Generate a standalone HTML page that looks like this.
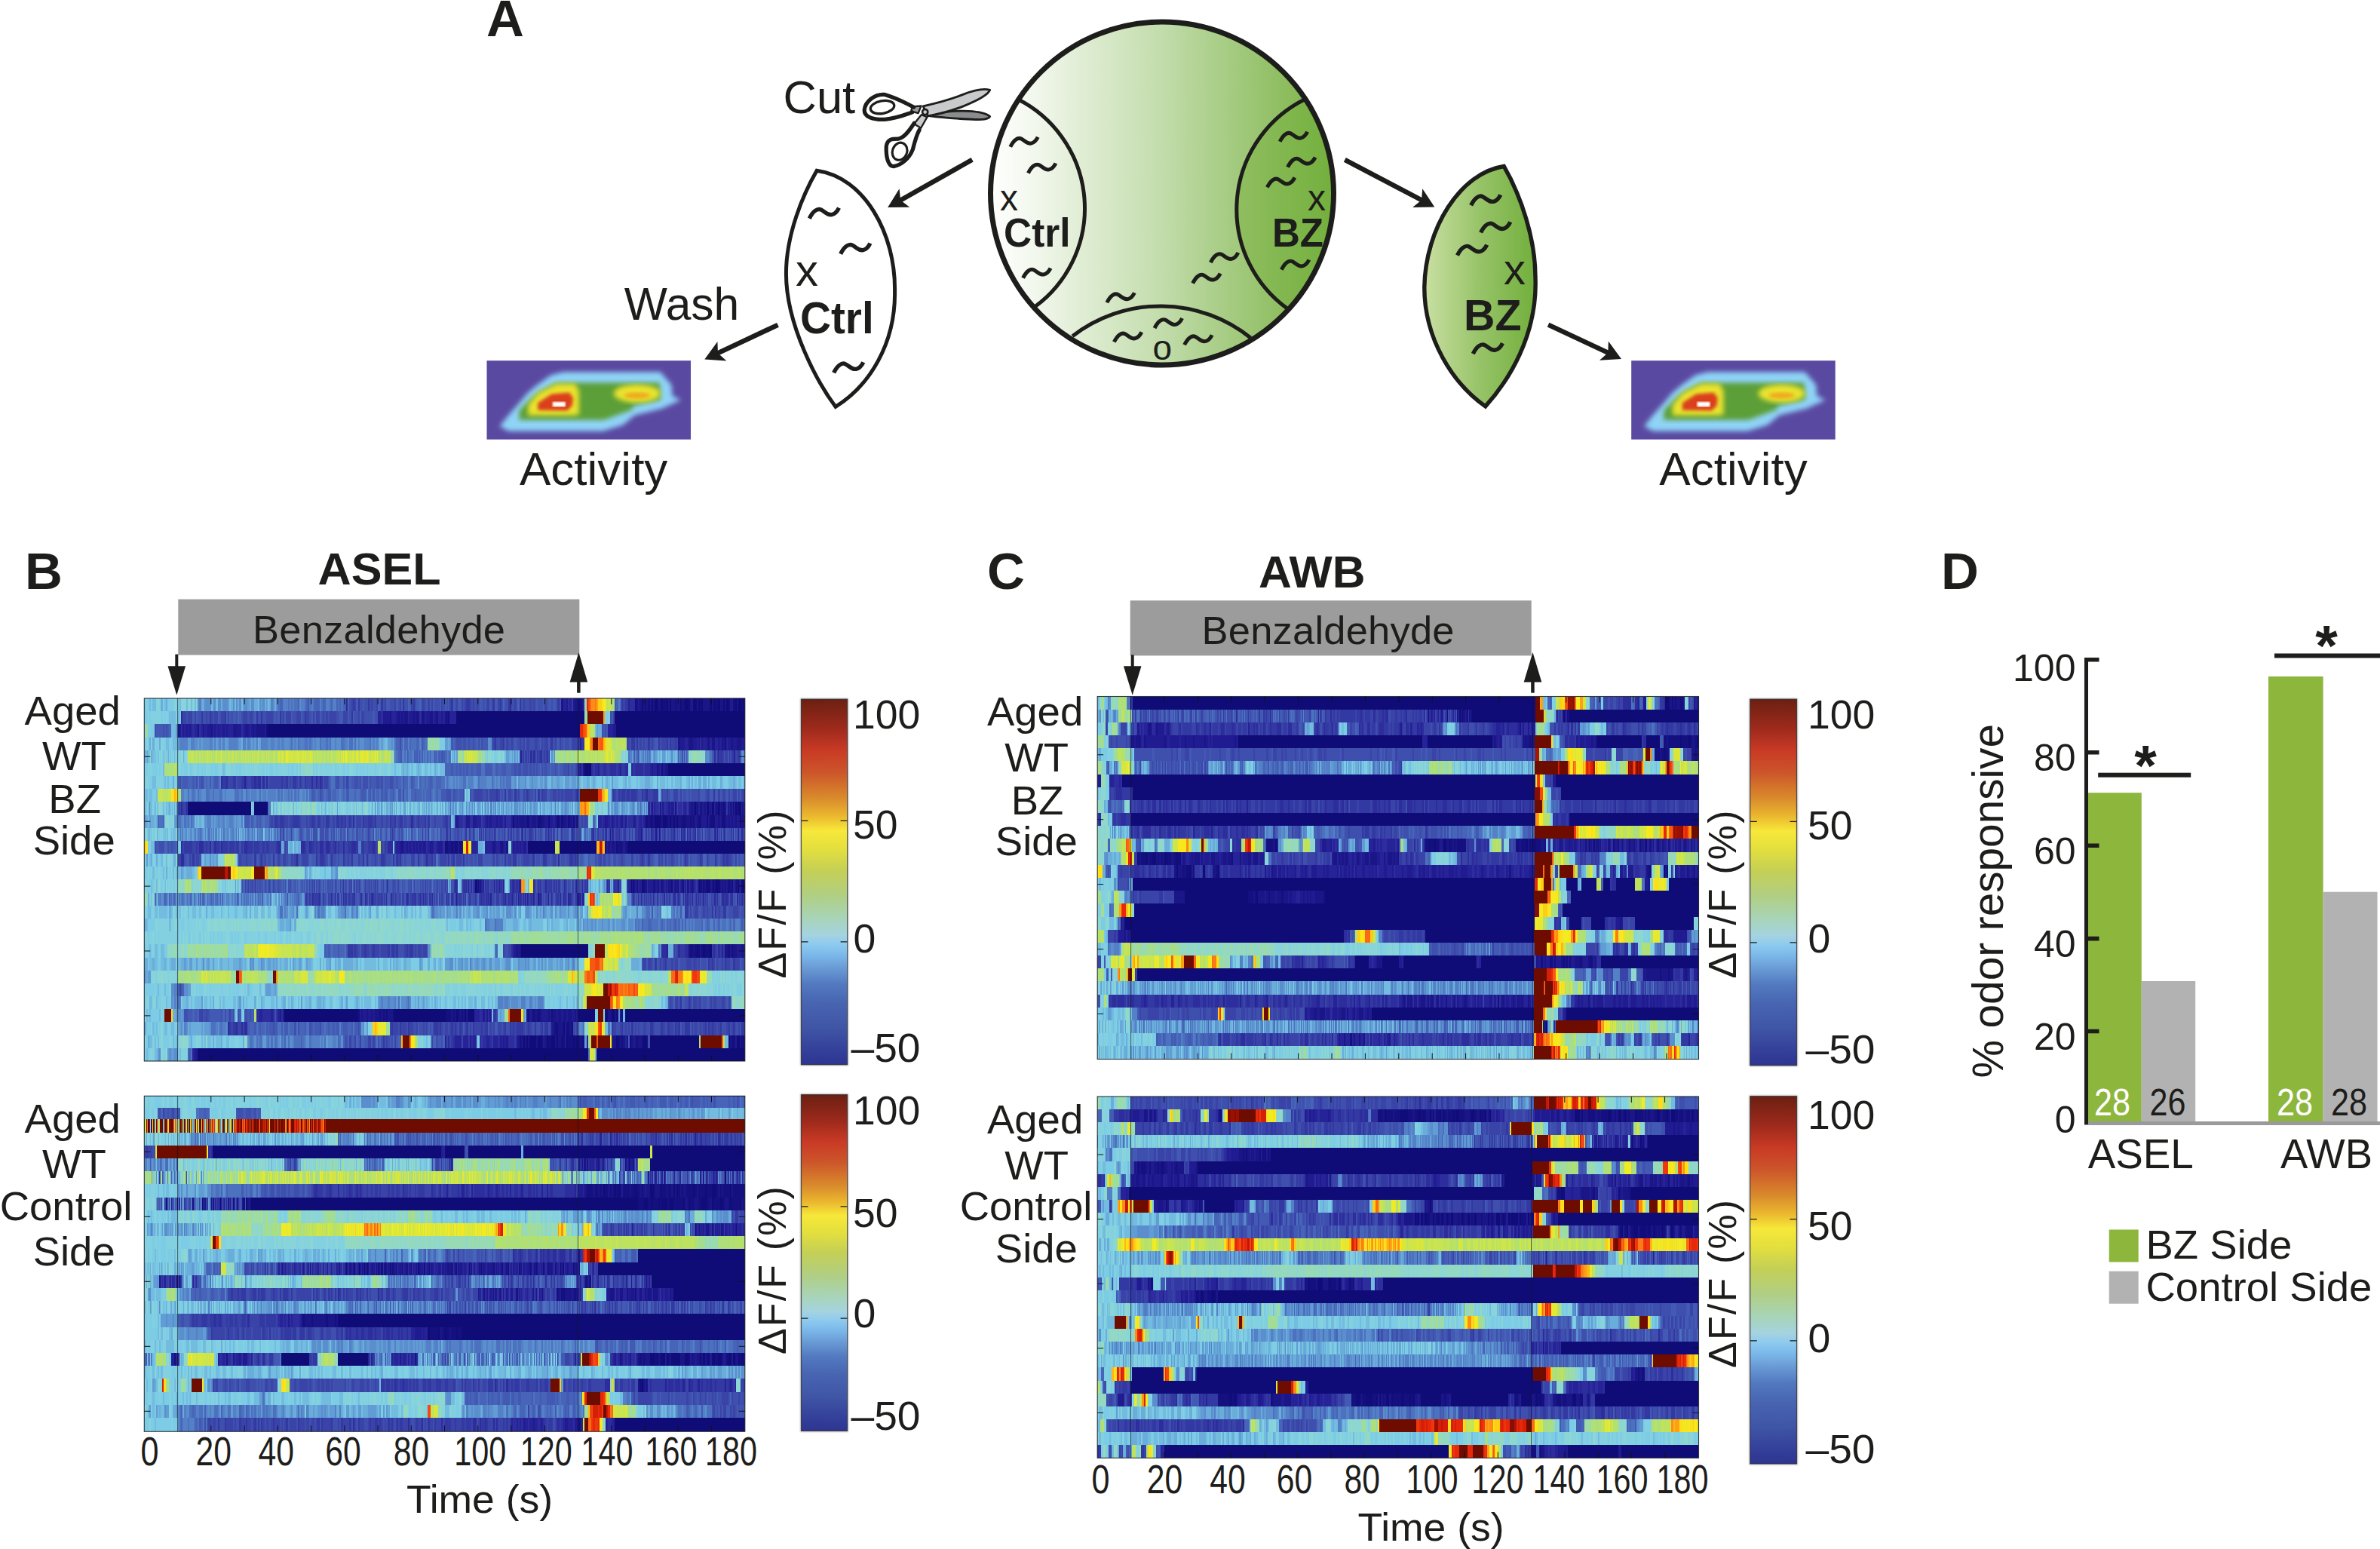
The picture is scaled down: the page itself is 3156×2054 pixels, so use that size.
<!DOCTYPE html>
<html lang="en"><head><meta charset="utf-8"><title>Figure: ASEL and AWB odor responses</title>
<style>html,body{margin:0;padding:0;background:#fff}svg{display:block}text{font-family:"Liberation Sans",Arial,Helvetica,sans-serif;fill:#1d1d1b}.b{font-weight:bold}</style></head><body>
<svg width="3156" height="2054" viewBox="0 0 3156 2054">
<rect width="3156" height="2054" fill="#fff"/>
<defs>
<linearGradient id="gcirc" x1="0" x2="1" y1="0" y2="0"><stop offset="0" stop-color="#ffffff"/><stop offset="0.12" stop-color="#f3f8ee"/><stop offset="0.5" stop-color="#c2dcab"/><stop offset="1" stop-color="#79b142"/></linearGradient>
<linearGradient id="gbz" gradientUnits="userSpaceOnUse" x1="1640" x2="1772" y1="0" y2="0"><stop offset="0" stop-color="#90be60"/><stop offset="1" stop-color="#72af3c"/></linearGradient>
<linearGradient id="glens" x1="0" x2="1" y1="0" y2="0"><stop offset="0" stop-color="#c9dfa2"/><stop offset="0.5" stop-color="#97c368"/><stop offset="1" stop-color="#72af3c"/></linearGradient>
<linearGradient id="gbar" x1="0" x2="0" y1="0" y2="1">
<stop offset="0" stop-color="#6b2012"/><stop offset="0.08" stop-color="#9e2a1c"/><stop offset="0.14" stop-color="#c93a25"/><stop offset="0.2" stop-color="#cc552a"/><stop offset="0.27" stop-color="#d98a2c"/><stop offset="0.32" stop-color="#ebb82e"/><stop offset="0.36" stop-color="#f7e83a"/><stop offset="0.41" stop-color="#e3df3e"/><stop offset="0.47" stop-color="#c4cf55"/><stop offset="0.54" stop-color="#b0cf85"/><stop offset="0.6" stop-color="#a8d4b8"/><stop offset="0.645" stop-color="#a5d3e0"/><stop offset="0.67" stop-color="#8ecbef"/><stop offset="0.7" stop-color="#7bb8ea"/><stop offset="0.735" stop-color="#6a9bd5"/><stop offset="0.78" stop-color="#5279c0"/><stop offset="0.83" stop-color="#4865b2"/><stop offset="0.9" stop-color="#3f55a5"/><stop offset="0.96" stop-color="#34409a"/><stop offset="1" stop-color="#2d3590"/></linearGradient>
<filter id="blur4" x="-10%" y="-10%" width="120%" height="120%"><feGaussianBlur stdDeviation="4"/></filter>
<filter id="blur3" x="-10%" y="-10%" width="120%" height="120%"><feGaussianBlur stdDeviation="3"/></filter>
<filter id="blur2" x="-10%" y="-10%" width="120%" height="120%"><feGaussianBlur stdDeviation="2"/></filter>
<filter id="soft" x="-5%" y="-5%" width="110%" height="110%"><feGaussianBlur stdDeviation="0.9"/></filter>
<path id="sq" d="M-19.6,6.5 C-15,-3 -9,-7.5 -4,-5 C1,-2.5 4,2.5 10,1.5 C14.5,0.5 17.5,-3 19.6,-7.5" fill="none" stroke="#1d1d1b" stroke-width="5.4"/>
<path id="ah" d="M0,0 L-25.5,-14 L-19.5,0 L-25.5,14 Z" fill="#1d1d1b"/>
<g id="act">
<rect x="0" y="0" width="270.5" height="104.5" fill="#5a49a1"/>
<clipPath id="actc"><rect x="0" y="0" width="270.5" height="104.5"/></clipPath>
<g clip-path="url(#actc)">
<polygon filter="url(#blur3)" points="17,87 29,72 41,58.6 54,43 67,32 85.5,19 101.6,15 230,15 245,32 246,46.9 257.5,52.1 232.5,63.5 196,72.5 180.5,85.5 153.7,93.5 29,93.5" fill="#8fd3f7"/>
<polygon filter="url(#blur3)" points="43,78.8 43,66.4 54.7,54.1 67.7,42.3 92.5,29.3 229.3,29.3 230.6,52.1 194.1,59.9 192.8,65.1 155,78.8" fill="#5c9f38"/>
<polygon filter="url(#blur3)" points="54.7,72.9 54.7,58.6 67.7,43 92.5,30.6 117.2,30.6 122.4,40.4 122.4,71.6 114.6,72.9" fill="#e9e22e"/>
<ellipse filter="url(#blur3)" cx="199.3" cy="43.6" rx="31" ry="12" fill="#e9e22e"/>
<polygon filter="url(#blur2)" points="67.7,65.8 67.7,56 86,44.3 109.4,42.3 114.6,49.5 113.3,59.9 106.8,66.4" fill="#db3f1a"/>
<ellipse filter="url(#blur2)" cx="199.3" cy="46.2" rx="17" ry="4" fill="#f0a91e"/>
<rect x="87.3" y="54.7" width="17" height="6.5" fill="#fff" filter="url(#soft)"/>
</g>
</g>
</defs>
<text x="645.0" y="47.9" font-size="69.0" text-anchor="start" class="b">A</text>
<circle cx="1541" cy="256.5" r="227.5" fill="url(#gcirc)"/>
<clipPath id="cc"><circle cx="1541" cy="256.5" r="227.5"/></clipPath>
<path clip-path="url(#cc)" d="M1730.2,131.8 A162.7,162.7 0 0 0 1706.8,409.1 L1800,409 L1800,131 Z" fill="url(#gbz)"/>
<g fill="none" stroke="#1d1d1b">
<path d="M1350.1,131.8 A162,162 0 0 1 1372.9,406.3" stroke-width="5"/>
<path d="M1730.2,131.8 A162.7,162.7 0 0 0 1706.8,409.1" stroke-width="5"/>
<path d="M1422.2,445.8 A190.6,190.6 0 0 1 1658.4,448" stroke-width="5"/>
<circle cx="1541" cy="256.5" r="227.5" stroke-width="7"/>
</g>
<use href="#sq" transform="translate(1358.0,188.7) rotate(0) scale(0.93)"/>
<use href="#sq" transform="translate(1381.7,223.5) rotate(0) scale(0.93)"/>
<use href="#sq" transform="translate(1374.8,362.6) rotate(0) scale(0.93)"/>
<use href="#sq" transform="translate(1715.4,181.7) rotate(0) scale(0.93)"/>
<use href="#sq" transform="translate(1725.8,215.6) rotate(0) scale(0.93)"/>
<use href="#sq" transform="translate(1698.6,242.4) rotate(0) scale(0.93)"/>
<use href="#sq" transform="translate(1717.6,351.5) rotate(0) scale(0.93)"/>
<use href="#sq" transform="translate(1623.6,342.0) rotate(0) scale(0.93)"/>
<use href="#sq" transform="translate(1599.9,369.6) rotate(0) scale(0.93)"/>
<use href="#sq" transform="translate(1486.1,395.2) rotate(0) scale(0.93)"/>
<use href="#sq" transform="translate(1549.3,429.0) rotate(0) scale(0.93)"/>
<use href="#sq" transform="translate(1495.6,447.4) rotate(0) scale(0.93)"/>
<use href="#sq" transform="translate(1588.9,451.2) rotate(0) scale(0.93)"/>
<text x="1326.0" y="278.8" font-size="48.0" text-anchor="start">x</text>
<text x="1331.0" y="327.2" font-size="53.0" text-anchor="start" class="b" textLength="88.6" lengthAdjust="spacingAndGlyphs">Ctrl</text>
<text x="1734.0" y="278.8" font-size="48.0" text-anchor="start">x</text>
<text x="1687.0" y="327.2" font-size="53.0" text-anchor="start" class="b" textLength="68" lengthAdjust="spacingAndGlyphs">BZ</text>
<text x="1528.5" y="477.4" font-size="46.0" text-anchor="start">o</text>
<path transform="translate(760,200) scale(0.23245)" d="M1390,113 C1660,150 1840,470 1835,800 C1840,1100 1690,1340 1497,1460 C1400,1330 1215,1000 1215,700 C1215,480 1310,250 1390,113 Z" fill="#fff" stroke="#1d1d1b" stroke-width="21.5" stroke-linejoin="miter"/>
<use href="#sq" transform="translate(1092.9,283.2) rotate(0) scale(1.00)"/>
<use href="#sq" transform="translate(1134.3,330.2) rotate(0) scale(1.00)"/>
<use href="#sq" transform="translate(1125.2,487.8) rotate(0) scale(1.00)"/>
<text x="1055.0" y="379.0" font-size="60.0" text-anchor="start">x</text>
<text x="1061.0" y="441.7" font-size="60.0" text-anchor="start" class="b" textLength="97.7" lengthAdjust="spacingAndGlyphs">Ctrl</text>
<path transform="translate(1760,180) scale(0.24528)" d="M955,165 C720,200 530,500 525,820 C525,1100 680,1340 855,1463 C975,1330 1140,1080 1125,760 C1125,560 1050,330 955,165 Z" fill="url(#glens)" stroke="#1d1d1b" stroke-width="22" stroke-linejoin="miter"/>
<use href="#sq" transform="translate(1970.2,265.8) rotate(0) scale(1.00)"/>
<use href="#sq" transform="translate(1983.2,301.9) rotate(0) scale(1.00)"/>
<use href="#sq" transform="translate(1952.1,332.1) rotate(0) scale(1.00)"/>
<use href="#sq" transform="translate(1972.9,462.6) rotate(0) scale(1.00)"/>
<text x="1994.0" y="377.0" font-size="58.0" text-anchor="start">x</text>
<text x="1941.0" y="438.0" font-size="58.0" text-anchor="start" class="b" textLength="76.5" lengthAdjust="spacingAndGlyphs">BZ</text>
<line x1="1289.2" y1="211.8" x2="1192.9" y2="266.2" stroke="#1d1d1b" stroke-width="6.4"/>
<use href="#ah" transform="translate(1177.2,275.0) rotate(150.6) scale(1.00)"/>
<line x1="1031.5" y1="430.8" x2="950.6" y2="468.9" stroke="#1d1d1b" stroke-width="6.4"/>
<use href="#ah" transform="translate(934.3,476.6) rotate(154.8) scale(1.00)"/>
<line x1="1783.3" y1="211.9" x2="1886.4" y2="266.0" stroke="#1d1d1b" stroke-width="6.4"/>
<use href="#ah" transform="translate(1902.3,274.4) rotate(27.7) scale(1.00)"/>
<line x1="2053.1" y1="430.7" x2="2133.7" y2="468.4" stroke="#1d1d1b" stroke-width="6.4"/>
<use href="#ah" transform="translate(2150.0,476.0) rotate(25.1) scale(1.00)"/>
<text x="1038.5" y="150.3" font-size="61.5" text-anchor="start">Cut</text>
<text x="827.8" y="424.3" font-size="61.0" text-anchor="start" textLength="152.5" lengthAdjust="spacingAndGlyphs">Wash</text>
<g transform="translate(1030,90) scale(0.13026)" stroke="#1d1d1b" stroke-width="40" stroke-linejoin="round" stroke-linecap="round">
<path d="M1540,480 C1700,445 1850,435 1950,440 C2050,445 2130,455 2170,495 C2150,530 2080,530 1900,520 C1750,510 1640,500 1560,490 Z" fill="#8a8c8e" stroke-width="22"/>
<path d="M1490,390 C1650,355 1800,310 1900,270 C2000,230 2100,205 2170,225 C2150,280 2000,350 1900,390 C1800,430 1650,470 1540,490 Z" fill="#c8cacb" stroke-width="22"/>
<path d="M1380,395 L1470,388 L1440,462 L1368,440 Z" fill="#9a9c9e" stroke-width="18"/>
<path d="M1472,478 L1532,500 L1468,612 L1398,570 Z" fill="#c8cacb" stroke-width="18"/>
<path d="M1395,400 C1330,370 1250,315 1100,272 C1000,262 900,340 892,430 C890,500 980,530 1100,525 C1220,515 1300,480 1380,452" fill="none"/>
<ellipse cx="1075" cy="400" rx="122" ry="64" transform="rotate(-10 1075 400)" fill="none" stroke-width="26"/>
<path d="M1400,562 C1350,640 1300,710 1240,722 C1180,722 1125,720 1115,800 C1112,900 1130,1000 1190,1003 C1270,990 1350,920 1385,830 C1405,750 1420,690 1452,632" fill="none"/>
<ellipse cx="1252" cy="850" rx="74" ry="90" transform="rotate(20 1252 850)" fill="none" stroke-width="24"/>
<circle cx="1510" cy="450" r="28" fill="#c8cacb" stroke-width="20"/>
</g>
<use href="#act" x="645.5" y="478.2"/>
<use href="#act" x="2163.2" y="478.2"/>
<text x="787.2" y="642.5" font-size="62.0" text-anchor="middle">Activity</text>
<text x="2298.5" y="642.5" font-size="62.0" text-anchor="middle">Activity</text>
<rect x="236.3" y="794.6" width="532" height="74.0" fill="#9c9c9c"/>
<text x="335.0" y="852.8" font-size="52.5" text-anchor="start" textLength="335" lengthAdjust="spacing">Benzaldehyde</text>
<rect x="232.3" y="867.6" width="4" height="20" fill="#1d1d1b"/>
<path d="M234.3,921.8 L222.5,883.2 L246.1,883.2 Z" fill="#1d1d1b"/>
<rect x="765.1" y="900" width="4.5" height="18.7" fill="#1d1d1b"/>
<path d="M767.4,865.1 L755.6,904.5 L779.2,904.5 Z" fill="#1d1d1b"/>
<svg x="191.3" y="926.0" width="796.5" height="481.0" viewBox="0 0 720.0 481.00" preserveAspectRatio="none" shape-rendering="crispEdges" fill="none">
<g stroke-width="17.00">
<path stroke="#7ccce6" d="M0 8.5h2M4 8.5h2M8 8.5h2M22 8.5h2M28 8.5h8M40 8.5h2M0 25.5h4M6 25.5h2M20 25.5h2M24 25.5h2M28 25.5h2M42 25.5h2M554 25.5h2M0 60.5h2M4 60.5h2M14 60.5h2M24 60.5h2M30 60.5h4M354 60.5h6M12 77.5h1M14 77.5h3M19 77.5h1M21 77.5h1M33 77.5h1M37 77.5h1M41 77.5h1M48 77.5h1M368 77.5h1M373 77.5h1M411 77.5h1M416 77.5h1M420 77.5h2M439 77.5h1M442 77.5h1M449 77.5h1M487 77.5h1M490 77.5h1M608 77.5h1M616 77.5h1M620 77.5h1M625 77.5h1M0 94.5h4M10 94.5h6M18 94.5h2M44 94.5h2M48 94.5h4M54 94.5h4M64 94.5h2M68 94.5h2M72 94.5h2M80 94.5h2M84 94.5h4M96 94.5h2M110 94.5h2M114 94.5h2M142 94.5h2M146 94.5h2M150 94.5h4M158 94.5h2M172 94.5h2M176 94.5h4M182 94.5h2M186 94.5h2M202 94.5h2M206 94.5h2M228 94.5h2M238 94.5h2M244 94.5h2M254 94.5h2M258 94.5h2M262 94.5h2M266 94.5h2M276 94.5h2M288 94.5h2M296 94.5h4M302 94.5h4M318 94.5h2M322 94.5h4M334 94.5h2M340 94.5h2M344 94.5h4M352 94.5h2M580 94.5h2M0 111.5h2M6 111.5h4M22 111.5h2M26 111.5h2M30 111.5h4M38 111.5h2M524 111.5h2M534 111.5h2M542 111.5h6M558 111.5h2M568 111.5h6M578 111.5h2M584 111.5h6M592 111.5h2M610 111.5h2M616 111.5h2M624 111.5h2M628 111.5h4M634 111.5h2M644 111.5h6M654 111.5h2M658 111.5h2M662 111.5h2M668 111.5h2M674 111.5h2M678 111.5h2M686 111.5h4M694 111.5h6M710 111.5h2M716 111.5h2M4 128.5h2M10 128.5h4M542 163.5h2M1 180.5h1M3 180.5h1M7 180.5h1M11 180.5h2M18 180.5h1M20 180.5h1M23 180.5h1M26 180.5h1M31 180.5h1M33 180.5h1M71 180.5h1M111 180.5h1M143 180.5h1M4 197.5h2M40 197.5h4M178 197.5h2M298 197.5h2M0 214.5h2M4 214.5h2M12 214.5h2M16 214.5h4M0 231.5h4M6 231.5h2M14 231.5h2M20 231.5h2M30 231.5h2M60 231.5h4M196 231.5h2M200 231.5h2M204 231.5h2M210 231.5h6M218 231.5h6M6 266.5h1M153 266.5h1M160 266.5h1M163 266.5h1M573 266.5h1M2 283.5h2M8 283.5h2M16 283.5h2M28 283.5h2M46 283.5h2M56 283.5h2M62 283.5h4M72 283.5h2M76 283.5h4M84 283.5h6M94 283.5h2M102 283.5h6M112 283.5h6M128 283.5h2M154 283.5h2M188 283.5h4M198 283.5h2M218 283.5h2M224 283.5h2M266 283.5h2M272 283.5h2M276 283.5h2M284 283.5h2M292 283.5h2M302 283.5h4M316 283.5h4M446 283.5h2M452 283.5h4M624 283.5h2M628 283.5h4M4 300.5h8M40 300.5h2M44 300.5h4M52 300.5h2M70 300.5h2M178 300.5h2M366 300.5h8M376 300.5h2M382 300.5h2M388 300.5h2M392 300.5h4M404 300.5h2M450 300.5h4M458 300.5h2M478 300.5h2M486 300.5h2M498 300.5h4M508 300.5h2M516 300.5h2M4 317.5h2M12 317.5h2M16 317.5h2M40 317.5h2M44 317.5h2M52 317.5h4M66 317.5h2M70 317.5h2M78 317.5h2M82 317.5h2M88 317.5h2M92 317.5h2M104 317.5h2M108 317.5h2M112 317.5h2M120 317.5h4M136 317.5h2M144 317.5h4M156 317.5h2M162 317.5h4M170 317.5h2M174 317.5h2M188 317.5h2M196 317.5h2M4 352.5h2M16 352.5h4M28 352.5h2M38 352.5h2M88 352.5h2M124 352.5h2M172 352.5h2M176 352.5h2M190 352.5h2M202 352.5h2M206 352.5h4M216 352.5h2M224 352.5h4M236 352.5h2M256 352.5h2M260 352.5h4M278 352.5h2M282 352.5h4M292 352.5h2M296 352.5h2M308 352.5h2M320 352.5h10M334 352.5h4M342 352.5h4M350 352.5h2M440 352.5h2M0 386.5h12M14 386.5h2M18 386.5h2M22 386.5h2M26 386.5h4M62 386.5h2M66 386.5h4M78 386.5h2M92 386.5h2M102 386.5h2M106 386.5h2M110 386.5h4M120 386.5h2M126 386.5h4M140 386.5h2M420 386.5h2M684 386.5h2M688 386.5h2M694 386.5h2M710 386.5h2M714 386.5h2M0 403.5h2M16 403.5h4M28 403.5h4M44 403.5h2M54 403.5h2M58 403.5h2M70 403.5h2M76 403.5h2M80 403.5h2M96 403.5h10M110 403.5h2M116 403.5h2M120 403.5h2M124 403.5h8M136 403.5h4M144 403.5h8M156 403.5h2M160 403.5h4M174 403.5h2M180 403.5h2M190 403.5h2M200 403.5h6M218 403.5h4M230 403.5h4M238 403.5h2M244 403.5h8M258 403.5h2M262 403.5h2M272 403.5h2M278 403.5h2M342 403.5h2M346 403.5h2M352 403.5h2M358 403.5h2M362 403.5h2M366 403.5h4M378 403.5h2M382 403.5h2M394 403.5h2M400 403.5h2M414 403.5h2M482 403.5h6M490 403.5h2M494 403.5h4M500 403.5h2M510 403.5h4M622 403.5h2M4 420.5h2M8 420.5h10M22 420.5h2M110 420.5h2M116 420.5h4M2 455.5h2M22 455.5h8M36 455.5h2M52 455.5h2M58 455.5h4M70 455.5h2M80 455.5h2M84 455.5h2M94 455.5h4M104 455.5h4M114 455.5h4M334 455.5h4M400 455.5h2M0 472.5h2M4 472.5h2"/>
<path stroke="#82d0e0" d="M2 8.5h2M14 8.5h2M18 8.5h2M38 8.5h2M4 25.5h2M8 25.5h12M22 25.5h2M26 25.5h2M38 25.5h2M552 25.5h2M556 25.5h2M8 60.5h2M12 60.5h2M16 60.5h2M20 60.5h4M0 77.5h1M6 77.5h1M25 77.5h2M28 77.5h1M30 77.5h1M35 77.5h1M39 77.5h2M43 77.5h1M49 77.5h1M408 77.5h2M419 77.5h1M422 77.5h3M427 77.5h3M572 77.5h1M576 77.5h1M578 77.5h2M4 94.5h6M16 94.5h2M20 94.5h2M40 94.5h2M46 94.5h2M58 94.5h2M62 94.5h2M66 94.5h2M70 94.5h2M76 94.5h4M82 94.5h2M88 94.5h2M92 94.5h2M104 94.5h6M112 94.5h2M116 94.5h6M124 94.5h2M128 94.5h4M136 94.5h6M154 94.5h4M160 94.5h6M168 94.5h4M174 94.5h2M180 94.5h2M210 94.5h4M216 94.5h10M230 94.5h4M236 94.5h2M240 94.5h4M250 94.5h4M256 94.5h2M260 94.5h2M264 94.5h2M268 94.5h8M278 94.5h4M284 94.5h4M290 94.5h2M294 94.5h2M306 94.5h2M332 94.5h2M582 94.5h2M4 111.5h2M14 111.5h8M36 111.5h2M550 111.5h2M612 111.5h2M384 128.5h2M388 128.5h2M24 163.5h2M30 163.5h4M534 163.5h2M10 180.5h1M19 180.5h1M21 180.5h1M30 180.5h1M38 180.5h2M6 197.5h2M10 214.5h2M22 214.5h4M30 214.5h4M88 214.5h2M8 231.5h2M12 231.5h2M16 231.5h4M24 231.5h2M28 231.5h2M32 231.5h2M36 231.5h2M206 231.5h4M244 231.5h2M248 231.5h2M254 231.5h2M258 231.5h8M268 231.5h2M272 231.5h2M278 231.5h2M282 231.5h6M296 231.5h2M374 231.5h2M380 231.5h4M7 266.5h1M9 266.5h1M540 266.5h1M574 266.5h1M576 266.5h1M0 283.5h2M10 283.5h2M36 283.5h2M40 283.5h2M48 283.5h4M54 283.5h2M68 283.5h4M90 283.5h2M96 283.5h4M124 283.5h2M130 283.5h2M136 283.5h2M146 283.5h2M152 283.5h2M156 283.5h2M186 283.5h2M202 283.5h2M226 283.5h2M262 283.5h2M274 283.5h2M294 283.5h6M306 283.5h2M310 283.5h2M322 283.5h2M326 283.5h4M332 283.5h8M526 283.5h2M622 283.5h2M12 300.5h2M16 300.5h14M32 300.5h4M42 300.5h2M48 300.5h4M54 300.5h8M64 300.5h2M68 300.5h2M72 300.5h4M280 300.5h2M360 300.5h2M364 300.5h2M374 300.5h2M396 300.5h6M406 300.5h2M480 300.5h2M0 317.5h4M6 317.5h4M18 317.5h22M48 317.5h2M58 317.5h4M64 317.5h2M74 317.5h2M80 317.5h2M84 317.5h4M90 317.5h2M94 317.5h4M102 317.5h2M106 317.5h2M110 317.5h2M114 317.5h2M118 317.5h2M124 317.5h12M138 317.5h2M142 317.5h2M150 317.5h6M160 317.5h2M172 317.5h2M180 317.5h8M194 317.5h2M198 317.5h2M204 317.5h2M212 317.5h2M218 317.5h2M252 317.5h2M204 352.5h2M212 352.5h2M338 352.5h2M358 352.5h2M520 352.5h8M572 352.5h2M8 369.5h2M12 369.5h4M28 369.5h2M38 369.5h2M448 369.5h4M592 369.5h2M680 369.5h4M686 369.5h4M692 369.5h2M696 369.5h2M704 369.5h2M708 369.5h2M718 369.5h2M12 386.5h2M20 386.5h2M30 386.5h2M56 386.5h4M64 386.5h2M70 386.5h2M74 386.5h4M80 386.5h12M94 386.5h8M104 386.5h2M108 386.5h2M114 386.5h6M122 386.5h2M130 386.5h8M360 386.5h6M370 386.5h6M380 386.5h6M398 386.5h2M402 386.5h2M406 386.5h4M412 386.5h4M426 386.5h4M438 386.5h4M448 386.5h2M452 386.5h2M458 386.5h4M468 386.5h2M472 386.5h2M480 386.5h2M484 386.5h2M488 386.5h2M492 386.5h10M508 386.5h2M512 386.5h4M518 386.5h2M682 386.5h2M690 386.5h2M698 386.5h4M704 386.5h2M712 386.5h2M4 403.5h2M12 403.5h2M20 403.5h6M84 403.5h6M92 403.5h2M170 403.5h2M182 403.5h2M186 403.5h2M226 403.5h4M274 403.5h2M356 403.5h2M364 403.5h2M374 403.5h2M386 403.5h2M398 403.5h2M402 403.5h2M408 403.5h4M418 403.5h2M480 403.5h2M488 403.5h2M492 403.5h2M502 403.5h4M508 403.5h2M516 403.5h2M524 403.5h2M0 420.5h2M20 420.5h2M540 420.5h4M0 455.5h2M10 455.5h2M14 455.5h2M18 455.5h2M30 455.5h4M40 455.5h2M64 455.5h4M102 455.5h2M108 455.5h6M328 455.5h4M340 455.5h2M6 472.5h2M10 472.5h2M22 472.5h4M40 472.5h2M44 472.5h8"/>
<path stroke="#73bce0" d="M6 8.5h2M10 8.5h4M24 8.5h2M42 8.5h2M50 8.5h2M56 8.5h2M60 8.5h2M80 8.5h2M86 8.5h2M102 8.5h2M108 8.5h2M116 8.5h2M136 8.5h2M148 8.5h2M30 25.5h8M40 25.5h2M26 60.5h4M34 60.5h6M288 60.5h4M2 77.5h1M10 77.5h2M13 77.5h1M17 77.5h1M22 77.5h1M24 77.5h1M27 77.5h1M31 77.5h1M36 77.5h1M370 77.5h1M432 77.5h2M445 77.5h1M448 77.5h1M486 77.5h1M614 77.5h1M618 77.5h2M626 77.5h1M628 77.5h2M634 77.5h1M636 77.5h3M22 94.5h2M94 94.5h2M300 94.5h2M308 94.5h2M312 94.5h2M316 94.5h2M320 94.5h2M326 94.5h2M330 94.5h2M336 94.5h4M342 94.5h2M350 94.5h2M354 94.5h6M10 111.5h4M24 111.5h2M28 111.5h2M446 111.5h2M484 111.5h4M502 111.5h2M522 111.5h2M526 111.5h4M536 111.5h2M540 111.5h2M552 111.5h2M556 111.5h2M562 111.5h6M574 111.5h2M580 111.5h4M590 111.5h2M594 111.5h6M606 111.5h4M618 111.5h6M626 111.5h2M632 111.5h2M636 111.5h6M650 111.5h2M660 111.5h2M680 111.5h6M692 111.5h2M700 111.5h6M708 111.5h2M712 111.5h4M0 128.5h4M6 128.5h4M14 128.5h2M386 128.5h2M556 128.5h4M4 163.5h2M12 163.5h2M60 163.5h2M64 163.5h2M68 163.5h4M368 163.5h2M0 180.5h1M8 180.5h1M15 180.5h1M22 180.5h1M24 180.5h2M27 180.5h2M32 180.5h1M34 180.5h4M91 180.5h1M108 180.5h1M114 180.5h1M116 180.5h1M8 197.5h4M172 197.5h2M182 197.5h2M406 197.5h2M6 214.5h2M20 214.5h2M26 214.5h2M34 214.5h2M68 214.5h4M10 231.5h2M22 231.5h2M34 231.5h2M38 231.5h6M48 231.5h2M58 231.5h2M216 231.5h2M5 266.5h1M8 266.5h1M15 266.5h1M63 266.5h1M154 266.5h1M156 266.5h1M159 266.5h1M543 266.5h1M545 266.5h1M4 283.5h4M12 283.5h4M18 283.5h10M32 283.5h2M38 283.5h2M42 283.5h2M52 283.5h2M58 283.5h4M66 283.5h2M80 283.5h4M92 283.5h2M100 283.5h2M108 283.5h4M118 283.5h4M132 283.5h4M140 283.5h4M148 283.5h4M158 283.5h2M184 283.5h2M196 283.5h2M220 283.5h4M228 283.5h4M256 283.5h2M260 283.5h2M264 283.5h2M268 283.5h2M280 283.5h2M290 283.5h2M300 283.5h2M308 283.5h2M314 283.5h2M320 283.5h2M324 283.5h2M330 283.5h2M340 283.5h2M360 283.5h2M380 283.5h2M384 283.5h2M392 283.5h2M402 283.5h2M412 283.5h2M426 283.5h2M432 283.5h2M464 283.5h2M468 283.5h2M490 283.5h2M520 283.5h2M528 283.5h2M582 283.5h2M626 283.5h2M2 300.5h2M30 300.5h2M160 300.5h2M168 300.5h2M176 300.5h2M362 300.5h2M378 300.5h4M386 300.5h2M390 300.5h2M402 300.5h2M434 300.5h8M448 300.5h2M454 300.5h4M460 300.5h2M464 300.5h14M484 300.5h2M490 300.5h8M502 300.5h4M510 300.5h6M524 300.5h2M6 352.5h4M12 352.5h4M20 352.5h4M26 352.5h2M30 352.5h2M40 352.5h4M52 352.5h2M58 352.5h4M64 352.5h4M72 352.5h2M78 352.5h4M84 352.5h4M94 352.5h6M102 352.5h4M118 352.5h2M122 352.5h2M132 352.5h4M144 352.5h2M160 352.5h2M164 352.5h4M182 352.5h2M192 352.5h2M200 352.5h2M214 352.5h2M230 352.5h2M250 352.5h4M258 352.5h2M264 352.5h14M286 352.5h6M300 352.5h2M304 352.5h4M310 352.5h2M314 352.5h6M346 352.5h2M352 352.5h2M356 352.5h2M370 352.5h2M374 352.5h2M388 352.5h2M426 352.5h2M470 352.5h2M482 352.5h2M502 352.5h2M594 352.5h2M16 386.5h2M24 386.5h2M124 386.5h2M138 386.5h2M6 403.5h4M14 403.5h2M26 403.5h2M46 403.5h4M52 403.5h2M56 403.5h2M60 403.5h8M72 403.5h4M78 403.5h2M90 403.5h2M94 403.5h2M106 403.5h4M122 403.5h2M142 403.5h2M152 403.5h4M164 403.5h2M172 403.5h2M178 403.5h2M184 403.5h2M192 403.5h6M206 403.5h2M212 403.5h2M216 403.5h2M222 403.5h4M234 403.5h2M240 403.5h2M252 403.5h2M256 403.5h2M260 403.5h2M264 403.5h8M276 403.5h2M320 403.5h4M326 403.5h2M330 403.5h2M336 403.5h2M340 403.5h2M344 403.5h2M350 403.5h2M354 403.5h2M360 403.5h2M370 403.5h4M376 403.5h2M380 403.5h2M384 403.5h2M388 403.5h6M404 403.5h4M412 403.5h2M416 403.5h2M420 403.5h4M498 403.5h2M506 403.5h2M514 403.5h2M518 403.5h2M620 403.5h2M624 403.5h2M2 420.5h2M6 420.5h2M18 420.5h2M108 420.5h2M416 420.5h2M574 420.5h2M6 455.5h4M12 455.5h2M16 455.5h2M34 455.5h2M38 455.5h2M54 455.5h2M68 455.5h2M72 455.5h2M76 455.5h4M86 455.5h6M98 455.5h4M338 455.5h2M342 455.5h2M398 455.5h2M696 455.5h4M2 472.5h2M12 472.5h4M42 472.5h2M540 472.5h2"/>
<path stroke="#88d4da" d="M16 8.5h2M36 8.5h2M44 8.5h6M52 8.5h4M58 8.5h2M62 8.5h2M2 60.5h2M4 77.5h1M18 77.5h1M20 77.5h1M32 77.5h1M34 77.5h1M38 77.5h1M44 77.5h1M46 77.5h1M296 77.5h1M298 77.5h1M410 77.5h1M413 77.5h2M418 77.5h1M426 77.5h1M431 77.5h1M573 77.5h2M577 77.5h1M654 77.5h1M663 77.5h1M42 94.5h2M52 94.5h2M60 94.5h2M74 94.5h2M90 94.5h2M98 94.5h6M122 94.5h2M126 94.5h2M132 94.5h4M144 94.5h2M148 94.5h2M166 94.5h2M184 94.5h2M190 94.5h2M204 94.5h2M208 94.5h2M214 94.5h2M226 94.5h2M234 94.5h2M246 94.5h4M282 94.5h2M292 94.5h2M2 111.5h2M26 163.5h4M34 163.5h2M536 163.5h2M5 180.5h1M14 180.5h1M29 180.5h1M28 214.5h2M38 214.5h2M90 214.5h6M110 214.5h2M4 231.5h2M202 231.5h2M232 231.5h2M236 231.5h2M240 231.5h4M246 231.5h2M250 231.5h4M256 231.5h2M266 231.5h2M270 231.5h2M274 231.5h4M280 231.5h2M288 231.5h2M292 231.5h4M300 231.5h2M338 231.5h2M348 231.5h2M372 231.5h2M376 231.5h4M390 231.5h4M398 231.5h4M404 231.5h8M422 231.5h2M430 231.5h4M436 231.5h2M10 266.5h2M541 266.5h1M544 266.5h1M34 283.5h2M44 283.5h2M138 283.5h2M144 283.5h2M258 283.5h2M286 283.5h4M620 283.5h2M14 300.5h2M36 300.5h4M62 300.5h2M66 300.5h2M78 300.5h6M88 300.5h4M98 300.5h6M106 300.5h2M110 300.5h2M114 300.5h4M120 300.5h6M134 300.5h4M152 300.5h2M184 300.5h2M192 300.5h2M196 300.5h8M206 300.5h4M216 300.5h4M228 300.5h2M236 300.5h4M246 300.5h4M254 300.5h2M260 300.5h4M268 300.5h2M296 300.5h4M304 300.5h2M312 300.5h2M318 300.5h2M324 300.5h4M330 300.5h4M336 300.5h8M350 300.5h4M356 300.5h2M384 300.5h2M10 317.5h2M14 317.5h2M42 317.5h2M46 317.5h2M50 317.5h2M56 317.5h2M62 317.5h2M68 317.5h2M72 317.5h2M76 317.5h2M98 317.5h4M116 317.5h2M140 317.5h2M148 317.5h2M158 317.5h2M166 317.5h4M176 317.5h4M190 317.5h4M202 317.5h2M210 317.5h2M214 317.5h2M224 317.5h2M234 317.5h2M244 317.5h2M248 317.5h4M256 317.5h6M266 317.5h2M270 317.5h2M276 317.5h2M288 317.5h4M298 317.5h4M310 317.5h4M318 317.5h2M322 317.5h2M330 317.5h4M342 317.5h4M356 317.5h4M422 317.5h2M10 369.5h2M18 369.5h2M22 369.5h4M30 369.5h8M452 369.5h4M544 369.5h2M554 369.5h2M562 369.5h2M586 369.5h2M590 369.5h2M594 369.5h2M604 369.5h4M618 369.5h4M684 369.5h2M698 369.5h6M706 369.5h2M710 369.5h8M60 386.5h2M72 386.5h2M142 386.5h2M192 386.5h2M234 386.5h2M264 386.5h2M366 386.5h4M376 386.5h4M386 386.5h12M400 386.5h2M404 386.5h2M410 386.5h2M416 386.5h4M422 386.5h4M430 386.5h8M444 386.5h4M454 386.5h4M462 386.5h6M470 386.5h2M474 386.5h6M482 386.5h2M490 386.5h2M502 386.5h6M510 386.5h2M516 386.5h2M652 386.5h6M662 386.5h2M668 386.5h2M674 386.5h8M686 386.5h2M692 386.5h2M696 386.5h2M702 386.5h2M706 386.5h4M716 386.5h4M2 403.5h2M10 403.5h2M134 403.5h2M604 403.5h2M608 403.5h2M616 403.5h4M20 455.5h2M44 455.5h2M62 455.5h2M122 455.5h2M332 455.5h2M8 472.5h2M20 472.5h2"/>
<path stroke="#6aadda" d="M20 8.5h2M26 8.5h2M68 8.5h4M92 8.5h2M104 8.5h2M112 8.5h2M126 8.5h2M132 8.5h4M144 8.5h2M150 8.5h2M156 8.5h2M6 60.5h2M10 60.5h2M18 60.5h2M116 60.5h2M136 60.5h2M282 60.5h2M286 60.5h2M364 60.5h2M1 77.5h1M8 77.5h2M29 77.5h1M47 77.5h1M372 77.5h1M437 77.5h1M440 77.5h1M609 77.5h1M617 77.5h1M624 77.5h1M627 77.5h1M630 77.5h2M633 77.5h1M635 77.5h1M310 94.5h2M314 94.5h2M328 94.5h2M348 94.5h2M34 111.5h2M458 111.5h4M472 111.5h2M478 111.5h2M482 111.5h2M490 111.5h4M498 111.5h4M510 111.5h2M518 111.5h4M530 111.5h4M538 111.5h2M548 111.5h2M554 111.5h2M576 111.5h2M600 111.5h6M614 111.5h2M642 111.5h2M652 111.5h2M656 111.5h2M664 111.5h4M670 111.5h4M676 111.5h2M690 111.5h2M706 111.5h2M718 111.5h2M616 128.5h2M2 163.5h2M8 163.5h4M14 163.5h2M62 163.5h2M66 163.5h2M118 163.5h2M370 163.5h2M4 180.5h1M6 180.5h1M16 180.5h1M51 180.5h1M53 180.5h1M57 180.5h1M75 180.5h1M81 180.5h1M84 180.5h1M87 180.5h1M102 180.5h1M119 180.5h2M123 180.5h1M133 180.5h2M151 180.5h1M153 180.5h1M525 180.5h2M164 197.5h2M174 197.5h4M180 197.5h2M184 197.5h4M400 197.5h6M8 214.5h2M14 214.5h2M36 214.5h2M74 214.5h4M80 214.5h2M84 214.5h2M26 231.5h2M46 231.5h2M50 231.5h8M194 231.5h2M198 231.5h2M226 231.5h2M4 266.5h1M155 266.5h1M542 266.5h1M30 283.5h2M74 283.5h2M122 283.5h2M126 283.5h2M172 283.5h2M180 283.5h2M192 283.5h2M246 283.5h2M278 283.5h2M312 283.5h2M342 283.5h2M368 283.5h2M376 283.5h2M386 283.5h2M390 283.5h2M404 283.5h2M416 283.5h2M420 283.5h2M428 283.5h2M442 283.5h2M448 283.5h2M466 283.5h2M472 283.5h2M476 283.5h2M482 283.5h4M494 283.5h4M506 283.5h2M510 283.5h4M572 283.5h2M578 283.5h4M584 283.5h6M592 283.5h4M0 300.5h2M162 300.5h6M170 300.5h4M180 300.5h2M430 300.5h4M442 300.5h6M462 300.5h2M482 300.5h2M488 300.5h2M506 300.5h2M518 300.5h4M542 300.5h2M558 300.5h2M564 300.5h2M578 300.5h2M0 352.5h4M10 352.5h2M24 352.5h2M32 352.5h6M44 352.5h4M50 352.5h2M68 352.5h2M74 352.5h2M90 352.5h4M100 352.5h2M106 352.5h8M116 352.5h2M120 352.5h2M136 352.5h4M146 352.5h2M152 352.5h2M156 352.5h2M162 352.5h2M168 352.5h4M174 352.5h2M180 352.5h2M184 352.5h2M188 352.5h2M196 352.5h4M210 352.5h2M218 352.5h4M228 352.5h2M232 352.5h4M238 352.5h12M254 352.5h2M280 352.5h2M294 352.5h2M298 352.5h2M302 352.5h2M312 352.5h2M332 352.5h2M340 352.5h2M348 352.5h2M354 352.5h2M382 352.5h2M394 352.5h2M402 352.5h2M410 352.5h4M416 352.5h4M428 352.5h4M442 352.5h6M462 352.5h4M474 352.5h2M478 352.5h2M490 352.5h4M496 352.5h2M510 352.5h2M516 352.5h4M584 352.5h10M2 369.5h2M144 386.5h2M152 386.5h4M158 386.5h2M50 403.5h2M82 403.5h2M112 403.5h2M118 403.5h2M132 403.5h2M140 403.5h2M158 403.5h2M166 403.5h4M176 403.5h2M198 403.5h2M208 403.5h4M214 403.5h2M236 403.5h2M254 403.5h2M306 403.5h2M324 403.5h2M332 403.5h2M338 403.5h2M348 403.5h2M396 403.5h2M626 403.5h2M34 420.5h4M424 420.5h2M428 420.5h4M456 420.5h2M4 455.5h2M56 455.5h2M82 455.5h2M92 455.5h2M118 455.5h2"/>
<path stroke="#5a8ecd" d="M64 8.5h2M72 8.5h8M84 8.5h2M88 8.5h4M94 8.5h6M106 8.5h2M110 8.5h2M114 8.5h2M120 8.5h4M128 8.5h4M138 8.5h2M142 8.5h2M154 8.5h2M158 8.5h2M186 8.5h2M60 60.5h4M66 60.5h2M70 60.5h8M88 60.5h2M100 60.5h2M112 60.5h2M126 60.5h2M130 60.5h2M148 60.5h4M156 60.5h4M162 60.5h2M168 60.5h6M178 60.5h2M182 60.5h2M202 60.5h2M206 60.5h4M224 60.5h4M230 60.5h6M244 60.5h2M250 60.5h2M254 60.5h2M258 60.5h6M272 60.5h2M276 60.5h2M280 60.5h2M296 60.5h2M412 60.5h4M314 77.5h1M443 77.5h1M488 77.5h2M491 77.5h1M588 77.5h1M595 77.5h1M601 77.5h2M632 77.5h1M672 77.5h2M675 77.5h2M716 77.5h2M328 111.5h2M360 111.5h2M366 111.5h4M372 111.5h2M376 111.5h2M386 111.5h2M394 111.5h2M398 111.5h2M410 111.5h6M420 111.5h2M424 111.5h2M444 111.5h2M448 111.5h2M456 111.5h2M464 111.5h2M480 111.5h2M48 128.5h4M54 128.5h2M62 128.5h2M68 128.5h6M94 128.5h2M98 128.5h10M118 128.5h4M126 128.5h2M134 128.5h4M140 128.5h2M146 128.5h2M158 128.5h2M166 128.5h2M178 128.5h2M186 128.5h4M192 128.5h2M196 128.5h2M38 163.5h2M46 163.5h2M54 163.5h2M72 163.5h4M82 163.5h2M86 163.5h2M90 163.5h4M98 163.5h4M106 163.5h2M110 163.5h2M46 180.5h1M50 180.5h1M52 180.5h1M55 180.5h1M63 180.5h2M69 180.5h1M72 180.5h1M83 180.5h1M88 180.5h1M97 180.5h2M103 180.5h2M109 180.5h1M115 180.5h1M118 180.5h1M122 180.5h1M125 180.5h1M128 180.5h1M130 180.5h1M136 180.5h1M146 180.5h1M149 180.5h1M158 180.5h1M208 180.5h1M242 180.5h1M275 180.5h1M327 180.5h1M524 180.5h1M532 180.5h1M78 214.5h2M230 231.5h2M20 266.5h3M27 266.5h1M33 266.5h1M38 266.5h1M43 266.5h1M46 266.5h1M61 266.5h2M66 266.5h1M73 266.5h1M84 266.5h1M89 266.5h1M95 266.5h1M99 266.5h1M102 266.5h1M110 266.5h1M115 266.5h1M117 266.5h1M119 266.5h1M125 266.5h2M128 266.5h1M140 266.5h1M143 266.5h1M146 266.5h1M149 266.5h1M161 266.5h1M166 266.5h2M170 266.5h1M172 266.5h1M176 266.5h1M179 266.5h1M581 266.5h1M170 283.5h2M178 283.5h2M210 283.5h2M216 283.5h2M236 283.5h4M250 283.5h2M348 283.5h4M354 283.5h2M362 283.5h2M378 283.5h2M398 283.5h4M410 283.5h2M434 283.5h6M444 283.5h2M458 283.5h4M470 283.5h2M488 283.5h2M492 283.5h2M498 283.5h2M508 283.5h2M516 283.5h4M576 283.5h2M596 283.5h4M606 283.5h2M610 283.5h2M636 283.5h2M646 283.5h2M414 300.5h6M526 300.5h2M530 300.5h2M536 300.5h2M540 300.5h2M548 300.5h2M556 300.5h2M562 300.5h2M572 300.5h4M580 300.5h6M70 352.5h2M126 352.5h2M130 352.5h2M140 352.5h2M366 352.5h4M380 352.5h2M398 352.5h2M406 352.5h2M414 352.5h2M434 352.5h4M448 352.5h2M456 352.5h2M460 352.5h2M476 352.5h2M508 352.5h2M512 352.5h2M32 386.5h4M48 386.5h4M32 403.5h2M38 403.5h2M282 403.5h2M286 403.5h6M294 403.5h6M308 403.5h6M318 403.5h2M430 403.5h2M436 403.5h2M440 403.5h8M456 403.5h2M464 403.5h2M468 403.5h2M478 403.5h2M40 420.5h4M46 420.5h2M568 420.5h2M124 455.5h2M132 455.5h2M150 455.5h2M154 455.5h2M160 455.5h2M170 455.5h2M174 455.5h4M194 455.5h4M210 455.5h2M214 455.5h2M220 455.5h6M230 455.5h2M236 455.5h2M18 472.5h2M30 472.5h2M36 472.5h4"/>
<path stroke="#5380c6" d="M66 8.5h2M152 8.5h2M166 8.5h6M174 8.5h2M178 8.5h2M188 8.5h4M200 8.5h2M210 8.5h2M218 8.5h4M226 8.5h4M568 8.5h2M42 60.5h10M56 60.5h4M78 60.5h4M84 60.5h2M90 60.5h2M94 60.5h2M102 60.5h10M118 60.5h4M124 60.5h2M134 60.5h2M140 60.5h8M152 60.5h4M160 60.5h2M164 60.5h4M174 60.5h2M180 60.5h2M186 60.5h6M196 60.5h2M200 60.5h2M204 60.5h2M212 60.5h6M220 60.5h2M228 60.5h2M240 60.5h4M256 60.5h2M264 60.5h6M274 60.5h2M278 60.5h2M310 60.5h2M316 60.5h2M330 60.5h2M301 77.5h1M309 77.5h3M317 77.5h1M321 77.5h2M329 77.5h1M334 77.5h1M337 77.5h2M341 77.5h1M343 77.5h5M351 77.5h1M363 77.5h1M365 77.5h1M582 77.5h3M590 77.5h1M598 77.5h1M604 77.5h1M606 77.5h1M611 77.5h1M641 77.5h1M646 77.5h1M648 77.5h2M674 77.5h1M677 77.5h1M718 77.5h2M90 111.5h2M316 111.5h2M364 111.5h2M370 111.5h2M374 111.5h2M378 111.5h4M388 111.5h6M402 111.5h8M418 111.5h2M422 111.5h2M428 111.5h2M432 111.5h2M44 128.5h4M56 128.5h2M60 128.5h2M66 128.5h2M78 128.5h4M84 128.5h6M96 128.5h2M114 128.5h2M124 128.5h2M128 128.5h6M142 128.5h4M148 128.5h10M162 128.5h2M168 128.5h4M174 128.5h2M182 128.5h2M190 128.5h2M234 128.5h2M266 128.5h2M302 128.5h2M316 128.5h4M346 128.5h2M44 163.5h2M50 163.5h2M58 163.5h2M76 163.5h4M88 163.5h2M94 163.5h2M102 163.5h4M116 163.5h2M540 163.5h2M49 180.5h1M61 180.5h1M66 180.5h1M68 180.5h1M70 180.5h1M73 180.5h1M76 180.5h1M78 180.5h1M80 180.5h1M85 180.5h2M92 180.5h1M99 180.5h1M101 180.5h1M105 180.5h2M112 180.5h2M121 180.5h1M126 180.5h1M132 180.5h1M137 180.5h4M142 180.5h1M152 180.5h1M156 180.5h1M161 180.5h1M169 180.5h1M173 180.5h1M180 180.5h1M183 180.5h1M193 180.5h1M199 180.5h1M201 180.5h1M209 180.5h1M222 180.5h1M228 180.5h1M231 180.5h1M234 180.5h1M247 180.5h1M282 180.5h1M312 180.5h1M318 180.5h2M326 180.5h1M335 180.5h1M347 180.5h1M353 180.5h1M400 180.5h1M493 180.5h1M497 180.5h1M527 180.5h1M529 180.5h1M531 180.5h1M534 180.5h2M256 197.5h4M18 266.5h1M28 266.5h1M31 266.5h1M41 266.5h1M44 266.5h1M48 266.5h1M50 266.5h1M52 266.5h3M57 266.5h1M75 266.5h1M77 266.5h1M88 266.5h1M90 266.5h1M98 266.5h1M105 266.5h1M121 266.5h1M123 266.5h1M129 266.5h1M135 266.5h1M137 266.5h1M147 266.5h2M168 266.5h1M173 266.5h1M177 266.5h1M181 266.5h1M186 266.5h2M578 266.5h1M580 266.5h1M168 283.5h2M204 283.5h2M212 283.5h4M248 283.5h2M254 283.5h2M374 283.5h2M478 283.5h2M590 283.5h2M600 283.5h2M612 283.5h2M616 283.5h2M632 283.5h2M640 283.5h2M644 283.5h2M410 300.5h4M422 300.5h8M590 300.5h2M594 300.5h2M616 300.5h2M624 300.5h2M642 300.5h2M646 300.5h2M650 300.5h2M654 300.5h2M658 300.5h2M670 300.5h2M678 300.5h4M684 300.5h2M690 300.5h2M698 300.5h2M704 300.5h2M708 300.5h6M718 300.5h2M390 352.5h2M514 352.5h2M36 386.5h4M36 403.5h2M42 403.5h2M284 403.5h2M292 403.5h2M300 403.5h2M314 403.5h2M424 403.5h6M432 403.5h4M452 403.5h4M462 403.5h2M472 403.5h6M130 455.5h2M136 455.5h2M146 455.5h2M166 455.5h2M178 455.5h2M192 455.5h2M200 455.5h10M212 455.5h2M226 455.5h4"/>
<path stroke="#619dd4" d="M82 8.5h2M100 8.5h2M118 8.5h2M124 8.5h2M140 8.5h2M146 8.5h2M40 60.5h2M52 60.5h4M64 60.5h2M68 60.5h2M82 60.5h2M86 60.5h2M92 60.5h2M96 60.5h4M114 60.5h2M122 60.5h2M128 60.5h2M132 60.5h2M138 60.5h2M284 60.5h2M292 60.5h4M298 60.5h2M360 60.5h4M366 60.5h2M3 77.5h1M5 77.5h1M369 77.5h1M371 77.5h1M374 77.5h2M434 77.5h3M438 77.5h1M441 77.5h1M444 77.5h1M446 77.5h2M585 77.5h1M594 77.5h1M596 77.5h1M599 77.5h1M607 77.5h1M610 77.5h1M612 77.5h2M615 77.5h1M621 77.5h3M639 77.5h1M396 111.5h2M440 111.5h4M450 111.5h6M462 111.5h2M466 111.5h6M474 111.5h4M488 111.5h2M494 111.5h4M504 111.5h6M512 111.5h6M560 111.5h2M618 128.5h2M0 163.5h2M6 163.5h2M36 163.5h2M80 163.5h2M84 163.5h2M96 163.5h2M108 163.5h2M112 163.5h4M40 180.5h3M44 180.5h1M47 180.5h2M54 180.5h1M58 180.5h2M62 180.5h1M74 180.5h1M79 180.5h1M89 180.5h2M93 180.5h2M96 180.5h1M100 180.5h1M117 180.5h1M127 180.5h1M131 180.5h1M145 180.5h1M147 180.5h1M154 180.5h1M181 180.5h1M315 180.5h1M343 180.5h1M166 197.5h2M2 214.5h2M72 214.5h2M82 214.5h2M86 214.5h2M44 231.5h2M192 231.5h2M224 231.5h2M228 231.5h2M14 266.5h1M16 266.5h1M29 266.5h1M39 266.5h2M49 266.5h1M58 266.5h1M68 266.5h1M74 266.5h1M92 266.5h1M96 266.5h2M101 266.5h1M103 266.5h2M106 266.5h1M108 266.5h1M114 266.5h1M131 266.5h2M134 266.5h1M144 266.5h2M150 266.5h1M152 266.5h1M157 266.5h2M162 266.5h1M165 266.5h1M174 266.5h1M189 266.5h3M579 266.5h1M583 266.5h1M160 283.5h2M166 283.5h2M174 283.5h4M194 283.5h2M206 283.5h2M232 283.5h4M242 283.5h4M252 283.5h2M270 283.5h2M352 283.5h2M356 283.5h4M364 283.5h4M370 283.5h4M382 283.5h2M388 283.5h2M394 283.5h4M406 283.5h4M414 283.5h2M418 283.5h2M422 283.5h4M430 283.5h2M440 283.5h2M450 283.5h2M456 283.5h2M462 283.5h2M474 283.5h2M480 283.5h2M486 283.5h2M500 283.5h6M514 283.5h2M522 283.5h4M530 283.5h2M574 283.5h2M174 300.5h2M522 300.5h2M528 300.5h2M532 300.5h4M538 300.5h2M544 300.5h4M550 300.5h6M560 300.5h2M566 300.5h6M576 300.5h2M586 300.5h2M48 352.5h2M54 352.5h4M62 352.5h2M76 352.5h2M82 352.5h2M114 352.5h2M128 352.5h2M142 352.5h2M148 352.5h4M154 352.5h2M158 352.5h2M178 352.5h2M186 352.5h2M194 352.5h2M222 352.5h2M330 352.5h2M360 352.5h6M372 352.5h2M376 352.5h4M384 352.5h4M392 352.5h2M396 352.5h2M400 352.5h2M404 352.5h2M408 352.5h2M420 352.5h6M432 352.5h2M438 352.5h2M450 352.5h6M458 352.5h2M466 352.5h4M472 352.5h2M480 352.5h2M484 352.5h6M494 352.5h2M498 352.5h4M504 352.5h4M0 369.5h2M4 369.5h4M52 386.5h4M146 386.5h6M156 386.5h2M34 403.5h2M68 403.5h2M114 403.5h2M188 403.5h2M242 403.5h2M280 403.5h2M302 403.5h2M328 403.5h2M334 403.5h2M438 403.5h2M448 403.5h4M458 403.5h4M466 403.5h2M470 403.5h2M38 420.5h2M44 420.5h2M426 420.5h2M454 420.5h2M142 455.5h4M162 455.5h2M218 455.5h2M528 455.5h2M16 472.5h2M28 472.5h2M32 472.5h4"/>
<path stroke="#4c72bf" d="M160 8.5h2M172 8.5h2M176 8.5h2M180 8.5h4M192 8.5h2M198 8.5h2M202 8.5h2M212 8.5h2M222 8.5h2M232 8.5h2M236 8.5h2M176 60.5h2M184 60.5h2M192 60.5h4M198 60.5h2M210 60.5h2M218 60.5h2M222 60.5h2M236 60.5h4M246 60.5h4M252 60.5h2M270 60.5h2M300 60.5h2M320 60.5h6M336 60.5h4M302 77.5h2M312 77.5h2M318 77.5h3M324 77.5h1M331 77.5h2M335 77.5h2M340 77.5h1M361 77.5h1M364 77.5h1M367 77.5h1M580 77.5h2M593 77.5h1M597 77.5h1M600 77.5h1M603 77.5h1M605 77.5h1M642 77.5h2M651 77.5h1M678 77.5h2M404 94.5h4M418 94.5h2M64 111.5h2M72 111.5h2M76 111.5h2M80 111.5h2M224 111.5h4M308 111.5h2M318 111.5h2M324 111.5h4M332 111.5h4M338 111.5h2M346 111.5h4M356 111.5h4M362 111.5h2M382 111.5h4M400 111.5h2M416 111.5h2M426 111.5h2M430 111.5h2M434 111.5h6M52 128.5h2M58 128.5h2M64 128.5h2M74 128.5h4M82 128.5h2M90 128.5h4M108 128.5h6M116 128.5h2M122 128.5h2M138 128.5h2M160 128.5h2M164 128.5h2M172 128.5h2M176 128.5h2M180 128.5h2M184 128.5h2M194 128.5h2M198 128.5h2M206 128.5h2M216 128.5h2M224 128.5h2M230 128.5h4M236 128.5h2M240 128.5h2M246 128.5h6M254 128.5h4M272 128.5h2M276 128.5h2M282 128.5h2M292 128.5h2M300 128.5h2M308 128.5h2M312 128.5h2M332 128.5h2M336 128.5h2M344 128.5h2M348 128.5h2M352 128.5h4M18 163.5h4M40 163.5h4M48 163.5h2M52 163.5h2M56 163.5h2M126 163.5h2M132 163.5h2M142 163.5h2M43 180.5h1M45 180.5h1M56 180.5h1M60 180.5h1M65 180.5h1M67 180.5h1M77 180.5h1M95 180.5h1M107 180.5h1M110 180.5h1M124 180.5h1M129 180.5h1M135 180.5h1M141 180.5h1M144 180.5h1M148 180.5h1M150 180.5h1M155 180.5h1M157 180.5h1M159 180.5h1M168 180.5h1M172 180.5h1M175 180.5h1M178 180.5h2M182 180.5h1M184 180.5h2M191 180.5h1M216 180.5h1M232 180.5h1M245 180.5h1M251 180.5h1M253 180.5h1M264 180.5h1M273 180.5h1M276 180.5h2M279 180.5h1M285 180.5h2M288 180.5h1M292 180.5h2M302 180.5h1M307 180.5h1M311 180.5h1M313 180.5h1M316 180.5h1M322 180.5h1M325 180.5h1M330 180.5h1M332 180.5h1M339 180.5h1M341 180.5h2M349 180.5h2M352 180.5h1M397 180.5h1M505 180.5h1M510 180.5h1M533 180.5h1M541 180.5h1M586 180.5h1M650 180.5h1M661 180.5h1M693 180.5h1M700 180.5h1M719 180.5h1M350 214.5h2M528 214.5h4M12 266.5h1M17 266.5h1M19 266.5h1M23 266.5h1M32 266.5h1M34 266.5h2M37 266.5h1M42 266.5h1M47 266.5h1M51 266.5h1M59 266.5h2M65 266.5h1M71 266.5h2M76 266.5h1M78 266.5h2M81 266.5h3M85 266.5h2M94 266.5h1M107 266.5h1M109 266.5h1M113 266.5h1M118 266.5h1M124 266.5h1M133 266.5h1M138 266.5h2M164 266.5h1M169 266.5h1M175 266.5h1M178 266.5h1M180 266.5h1M183 266.5h1M188 266.5h1M352 266.5h1M367 266.5h1M386 266.5h1M678 266.5h1M162 283.5h4M182 283.5h2M208 283.5h2M240 283.5h2M344 283.5h4M602 283.5h4M614 283.5h2M618 283.5h2M634 283.5h2M638 283.5h2M408 300.5h2M420 300.5h2M588 300.5h2M592 300.5h2M598 300.5h6M608 300.5h8M618 300.5h2M622 300.5h2M628 300.5h2M632 300.5h2M638 300.5h2M652 300.5h2M656 300.5h2M660 300.5h8M672 300.5h2M686 300.5h2M692 300.5h6M700 300.5h2M714 300.5h2M40 403.5h2M304 403.5h2M316 403.5h2M126 455.5h4M134 455.5h2M138 455.5h4M148 455.5h2M152 455.5h2M156 455.5h4M164 455.5h2M172 455.5h2M180 455.5h8M190 455.5h2M198 455.5h2M216 455.5h2M234 455.5h2M278 455.5h2M56 472.5h2M532 472.5h2"/>
<path stroke="#4764b8" d="M162 8.5h4M184 8.5h2M194 8.5h2M204 8.5h6M214 8.5h4M224 8.5h2M230 8.5h2M234 8.5h2M238 8.5h2M244 8.5h2M280 8.5h2M316 8.5h2M330 8.5h2M430 8.5h2M448 8.5h2M566 8.5h2M570 8.5h2M112 25.5h2M302 60.5h4M308 60.5h2M312 60.5h4M318 60.5h2M326 60.5h4M334 60.5h2M370 60.5h2M398 60.5h2M402 60.5h2M304 77.5h3M316 77.5h1M326 77.5h1M328 77.5h1M339 77.5h1M349 77.5h2M352 77.5h1M354 77.5h2M358 77.5h1M360 77.5h1M362 77.5h1M586 77.5h1M589 77.5h1M591 77.5h1M360 94.5h8M370 94.5h4M376 94.5h2M380 94.5h2M384 94.5h2M388 94.5h4M394 94.5h4M416 94.5h2M420 94.5h2M424 94.5h4M434 94.5h6M474 94.5h2M486 94.5h2M496 94.5h2M44 111.5h2M52 111.5h6M60 111.5h2M74 111.5h2M82 111.5h2M88 111.5h2M222 111.5h2M234 111.5h4M240 111.5h2M246 111.5h2M260 111.5h2M268 111.5h2M286 111.5h2M300 111.5h2M304 111.5h4M312 111.5h4M322 111.5h2M330 111.5h2M336 111.5h2M340 111.5h2M344 111.5h2M350 111.5h6M204 128.5h2M208 128.5h2M214 128.5h2M218 128.5h2M226 128.5h4M238 128.5h2M252 128.5h2M258 128.5h2M268 128.5h2M278 128.5h4M286 128.5h2M294 128.5h4M314 128.5h2M320 128.5h4M326 128.5h6M334 128.5h2M338 128.5h4M350 128.5h2M368 128.5h2M376 128.5h2M470 128.5h2M16 163.5h2M22 163.5h2M130 163.5h2M136 163.5h2M140 163.5h2M144 163.5h6M538 163.5h2M82 180.5h1M164 180.5h2M170 180.5h2M177 180.5h1M190 180.5h1M192 180.5h1M221 180.5h1M223 180.5h1M225 180.5h1M229 180.5h1M237 180.5h1M240 180.5h2M246 180.5h1M252 180.5h1M256 180.5h1M258 180.5h1M260 180.5h1M262 180.5h1M265 180.5h1M272 180.5h1M280 180.5h2M287 180.5h1M291 180.5h1M301 180.5h1M303 180.5h1M317 180.5h1M323 180.5h2M328 180.5h1M331 180.5h1M334 180.5h1M338 180.5h1M345 180.5h1M357 180.5h1M360 180.5h1M365 180.5h1M368 180.5h1M372 180.5h1M381 180.5h2M387 180.5h2M392 180.5h1M398 180.5h2M405 180.5h1M407 180.5h1M422 180.5h2M434 180.5h1M450 180.5h2M454 180.5h1M458 180.5h1M467 180.5h1M471 180.5h1M478 180.5h3M482 180.5h1M489 180.5h1M492 180.5h1M496 180.5h1M499 180.5h1M501 180.5h1M509 180.5h1M520 180.5h1M523 180.5h1M528 180.5h1M530 180.5h1M642 180.5h1M670 180.5h1M707 180.5h1M24 197.5h4M38 197.5h2M198 214.5h2M220 214.5h2M520 214.5h2M526 214.5h2M534 214.5h6M560 214.5h2M612 214.5h4M640 214.5h2M644 214.5h2M652 214.5h2M670 214.5h4M710 214.5h2M13 266.5h1M24 266.5h3M30 266.5h1M36 266.5h1M55 266.5h2M64 266.5h1M67 266.5h1M69 266.5h1M80 266.5h1M87 266.5h1M91 266.5h1M93 266.5h1M100 266.5h1M111 266.5h1M116 266.5h1M120 266.5h1M122 266.5h1M127 266.5h1M130 266.5h1M136 266.5h1M142 266.5h1M151 266.5h1M182 266.5h1M184 266.5h1M212 266.5h1M219 266.5h1M230 266.5h1M234 266.5h2M263 266.5h1M268 266.5h1M292 266.5h1M308 266.5h1M318 266.5h1M332 266.5h1M360 266.5h1M387 266.5h1M400 266.5h1M582 266.5h1M643 266.5h1M709 266.5h1M596 300.5h2M604 300.5h4M620 300.5h2M626 300.5h2M630 300.5h2M634 300.5h2M640 300.5h2M644 300.5h2M648 300.5h2M668 300.5h2M674 300.5h4M682 300.5h2M688 300.5h2M702 300.5h2M706 300.5h2M40 386.5h2M46 386.5h2M634 403.5h2M58 420.5h2M64 420.5h2M94 420.5h2M98 420.5h2M168 455.5h2M188 455.5h2M232 455.5h2M238 455.5h2M244 455.5h2M254 455.5h2M260 455.5h4M282 455.5h2M298 455.5h2M304 455.5h4M346 455.5h4M358 455.5h2M52 472.5h2"/>
<path stroke="#425ab3" d="M196 8.5h2M240 8.5h2M254 8.5h2M262 8.5h2M282 8.5h2M290 8.5h4M302 8.5h2M308 8.5h2M318 8.5h2M326 8.5h4M338 8.5h2M342 8.5h2M346 8.5h2M354 8.5h2M360 8.5h2M364 8.5h2M370 8.5h2M376 8.5h4M402 8.5h4M408 8.5h2M414 8.5h2M420 8.5h4M446 8.5h2M470 8.5h2M478 8.5h2M484 8.5h4M490 8.5h4M564 8.5h2M58 25.5h2M62 25.5h2M88 25.5h2M98 25.5h2M102 25.5h2M106 25.5h4M114 25.5h2M132 25.5h2M156 25.5h2M160 25.5h2M168 25.5h2M176 25.5h2M188 25.5h2M200 25.5h2M204 25.5h2M210 25.5h2M234 25.5h4M244 25.5h2M250 25.5h2M258 25.5h2M274 25.5h2M560 25.5h2M332 60.5h2M368 60.5h2M372 60.5h2M380 60.5h2M386 60.5h2M390 60.5h4M396 60.5h2M406 60.5h6M432 60.5h2M444 60.5h2M456 60.5h2M474 60.5h2M484 60.5h2M494 60.5h4M502 60.5h2M510 60.5h2M612 60.5h4M300 77.5h1M307 77.5h2M315 77.5h1M323 77.5h1M327 77.5h1M333 77.5h1M342 77.5h1M353 77.5h1M356 77.5h1M359 77.5h1M366 77.5h1M587 77.5h1M640 77.5h1M644 77.5h1M650 77.5h1M680 77.5h2M685 77.5h1M700 77.5h1M368 94.5h2M374 94.5h2M378 94.5h2M382 94.5h2M386 94.5h2M392 94.5h2M398 94.5h6M408 94.5h8M422 94.5h2M428 94.5h6M440 94.5h4M446 94.5h2M452 94.5h2M460 94.5h2M464 94.5h2M468 94.5h2M472 94.5h2M478 94.5h2M482 94.5h4M488 94.5h4M494 94.5h2M498 94.5h4M510 94.5h2M514 94.5h2M40 111.5h2M46 111.5h6M58 111.5h2M66 111.5h2M70 111.5h2M78 111.5h2M84 111.5h4M228 111.5h2M248 111.5h4M256 111.5h2M272 111.5h6M282 111.5h2M288 111.5h6M298 111.5h2M302 111.5h2M310 111.5h2M320 111.5h2M342 111.5h2M200 128.5h4M212 128.5h2M220 128.5h4M242 128.5h4M260 128.5h6M270 128.5h2M274 128.5h2M284 128.5h2M288 128.5h4M298 128.5h2M304 128.5h4M324 128.5h2M342 128.5h2M356 128.5h6M372 128.5h4M378 128.5h4M392 128.5h2M412 128.5h2M426 128.5h2M430 128.5h2M434 128.5h2M442 128.5h2M450 128.5h4M466 128.5h2M474 128.5h2M482 128.5h4M520 128.5h2M630 128.5h4M640 128.5h2M644 128.5h2M650 128.5h2M654 128.5h2M666 128.5h6M678 128.5h4M684 128.5h4M690 128.5h2M698 128.5h2M702 128.5h2M710 128.5h2M714 128.5h2M120 163.5h6M128 163.5h2M134 163.5h2M138 163.5h2M252 163.5h2M342 163.5h2M160 180.5h1M186 180.5h1M194 180.5h5M204 180.5h1M210 180.5h1M220 180.5h1M226 180.5h1M230 180.5h1M238 180.5h1M248 180.5h3M257 180.5h1M259 180.5h1M263 180.5h1M266 180.5h2M270 180.5h2M278 180.5h1M284 180.5h1M289 180.5h1M296 180.5h1M304 180.5h1M310 180.5h1M314 180.5h1M321 180.5h1M348 180.5h1M359 180.5h1M369 180.5h2M374 180.5h1M376 180.5h1M378 180.5h2M384 180.5h1M390 180.5h1M393 180.5h1M403 180.5h1M418 180.5h1M426 180.5h2M430 180.5h1M433 180.5h1M437 180.5h1M441 180.5h1M444 180.5h1M470 180.5h1M473 180.5h1M475 180.5h1M477 180.5h1M517 180.5h1M519 180.5h1M539 180.5h1M545 180.5h1M551 180.5h1M555 180.5h2M563 180.5h1M571 180.5h1M573 180.5h1M578 180.5h1M580 180.5h1M583 180.5h2M587 180.5h1M598 180.5h3M603 180.5h1M606 180.5h1M615 180.5h1M620 180.5h1M625 180.5h2M633 180.5h1M637 180.5h1M640 180.5h1M645 180.5h1M652 180.5h1M656 180.5h1M663 180.5h1M667 180.5h2M671 180.5h1M682 180.5h1M690 180.5h1M697 180.5h2M705 180.5h1M710 180.5h1M714 180.5h1M718 180.5h1M14 197.5h4M30 197.5h2M34 197.5h4M50 214.5h4M112 214.5h2M130 214.5h2M134 214.5h4M146 214.5h2M152 214.5h2M156 214.5h4M164 214.5h2M172 214.5h4M186 214.5h2M200 214.5h6M230 214.5h2M234 214.5h4M250 214.5h6M264 214.5h2M270 214.5h2M280 214.5h2M296 214.5h2M300 214.5h2M310 214.5h2M314 214.5h6M324 214.5h4M332 214.5h2M352 214.5h2M366 214.5h2M372 214.5h2M384 214.5h2M388 214.5h2M394 214.5h2M398 214.5h2M406 214.5h10M420 214.5h2M426 214.5h2M430 214.5h2M446 214.5h2M450 214.5h2M468 214.5h2M474 214.5h2M486 214.5h2M494 214.5h2M498 214.5h2M504 214.5h2M522 214.5h4M532 214.5h2M542 214.5h2M548 214.5h2M554 214.5h2M558 214.5h2M566 214.5h2M576 214.5h8M586 214.5h4M592 214.5h2M600 214.5h2M610 214.5h2M622 214.5h2M626 214.5h2M636 214.5h2M656 214.5h6M678 214.5h6M688 214.5h2M706 214.5h2M714 214.5h4M70 266.5h1M112 266.5h1M141 266.5h1M171 266.5h1M185 266.5h1M197 266.5h1M213 266.5h1M218 266.5h1M222 266.5h1M237 266.5h1M243 266.5h1M247 266.5h1M253 266.5h1M255 266.5h2M264 266.5h1M289 266.5h1M293 266.5h2M310 266.5h1M312 266.5h1M340 266.5h1M346 266.5h1M349 266.5h1M359 266.5h1M366 266.5h1M371 266.5h1M381 266.5h1M392 266.5h1M395 266.5h1M398 266.5h2M421 266.5h1M447 266.5h1M477 266.5h1M479 266.5h1M486 266.5h1M491 266.5h1M494 266.5h1M501 266.5h1M507 266.5h1M515 266.5h1M584 266.5h1M588 266.5h2M591 266.5h1M597 266.5h1M613 266.5h1M617 266.5h1M620 266.5h1M624 266.5h1M626 266.5h1M632 266.5h1M638 266.5h1M644 266.5h2M647 266.5h1M659 266.5h1M663 266.5h1M676 266.5h1M690 266.5h1M701 266.5h1M706 266.5h1M708 266.5h1M715 266.5h1M718 266.5h1M608 283.5h2M642 283.5h2M652 283.5h2M656 283.5h2M664 283.5h4M682 283.5h2M698 283.5h2M714 283.5h2M636 300.5h2M716 300.5h2M602 352.5h2M610 352.5h2M614 352.5h2M640 352.5h2M666 352.5h2M674 352.5h2M684 352.5h2M714 352.5h2M44 386.5h2M628 403.5h2M644 403.5h4M656 403.5h2M668 403.5h2M674 403.5h4M698 403.5h2M52 420.5h6M60 420.5h4M78 420.5h14M100 420.5h2M104 420.5h2M114 420.5h2M124 420.5h2M128 420.5h4M248 455.5h4M256 455.5h2M264 455.5h4M272 455.5h2M276 455.5h2M294 455.5h2M302 455.5h2M352 455.5h4M580 455.5h2M54 472.5h2"/>
<path stroke="#2d2d9d" d="M242 8.5h2M438 8.5h2M508 8.5h2M582 8.5h6M44 25.5h2M284 25.5h2M330 25.5h2M666 60.5h2M450 77.5h2M457 77.5h1M463 77.5h2M466 77.5h3M479 77.5h1M482 77.5h1M485 77.5h1M683 77.5h2M688 77.5h1M692 77.5h1M524 94.5h2M536 94.5h2M540 94.5h4M550 94.5h4M558 94.5h8M568 94.5h2M576 94.5h4M584 94.5h2M588 94.5h10M600 94.5h6M92 111.5h2M98 111.5h2M132 111.5h2M136 111.5h4M142 111.5h2M146 111.5h2M200 111.5h2M206 111.5h2M210 111.5h2M602 128.5h2M250 163.5h2M320 163.5h2M372 163.5h2M378 163.5h4M384 163.5h2M390 163.5h4M406 163.5h2M430 163.5h2M434 163.5h6M548 163.5h2M558 163.5h2M564 163.5h2M568 163.5h2M574 163.5h2M580 163.5h6M592 163.5h2M596 163.5h2M453 180.5h1M484 180.5h1M538 180.5h1M553 180.5h2M562 180.5h1M569 180.5h1M589 180.5h1M592 180.5h3M596 180.5h1M607 180.5h2M614 180.5h1M618 180.5h1M635 180.5h1M643 180.5h1M646 180.5h2M651 180.5h1M654 180.5h1M660 180.5h1M662 180.5h1M683 180.5h1M695 180.5h1M699 180.5h1M704 180.5h1M706 180.5h1M716 180.5h2M44 197.5h2M66 197.5h4M78 197.5h2M84 197.5h2M92 197.5h2M120 197.5h4M160 197.5h2M188 197.5h4M198 197.5h2M210 197.5h4M218 197.5h4M228 197.5h2M238 197.5h2M248 197.5h6M274 197.5h2M292 197.5h6M300 197.5h2M338 197.5h2M348 197.5h2M358 197.5h2M398 197.5h2M440 197.5h2M458 197.5h2M44 214.5h4M182 214.5h2M338 214.5h2M496 214.5h2M201 266.5h1M203 266.5h1M209 266.5h1M224 266.5h1M228 266.5h1M238 266.5h1M252 266.5h1M259 266.5h2M265 266.5h1M269 266.5h1M290 266.5h1M295 266.5h2M311 266.5h1M314 266.5h2M324 266.5h1M329 266.5h1M331 266.5h1M334 266.5h1M337 266.5h1M342 266.5h1M345 266.5h1M362 266.5h1M369 266.5h1M404 266.5h1M412 266.5h1M436 266.5h1M438 266.5h1M440 266.5h1M454 266.5h1M461 266.5h1M464 266.5h1M467 266.5h1M473 266.5h1M476 266.5h1M488 266.5h1M495 266.5h1M498 266.5h2M505 266.5h1M509 266.5h2M586 266.5h1M592 266.5h1M595 266.5h1M610 266.5h1M614 266.5h1M623 266.5h1M634 266.5h3M640 266.5h1M646 266.5h1M649 266.5h1M651 266.5h1M657 266.5h1M661 266.5h1M664 266.5h1M670 266.5h1M683 266.5h2M687 266.5h1M692 266.5h4M698 266.5h1M705 266.5h1M710 266.5h2M714 266.5h1M716 266.5h2M719 266.5h1M134 420.5h4M142 420.5h10M154 420.5h2M164 420.5h2M402 420.5h4M408 420.5h2M412 420.5h2M364 455.5h2M370 455.5h2M392 455.5h2M402 455.5h2M406 455.5h4M414 455.5h2M424 455.5h2M436 455.5h8"/>
<path stroke="#3e4fad" d="M246 8.5h2M258 8.5h4M264 8.5h4M270 8.5h2M274 8.5h4M286 8.5h2M294 8.5h6M304 8.5h2M312 8.5h4M324 8.5h2M336 8.5h2M348 8.5h6M358 8.5h2M362 8.5h2M372 8.5h2M382 8.5h2M392 8.5h2M396 8.5h2M400 8.5h2M406 8.5h2M428 8.5h2M432 8.5h4M440 8.5h4M452 8.5h2M456 8.5h6M464 8.5h2M468 8.5h2M472 8.5h6M482 8.5h2M488 8.5h2M498 8.5h2M50 25.5h2M64 25.5h4M70 25.5h4M76 25.5h2M82 25.5h2M90 25.5h2M104 25.5h2M110 25.5h2M116 25.5h2M124 25.5h2M130 25.5h2M136 25.5h4M142 25.5h4M154 25.5h2M158 25.5h2M164 25.5h2M178 25.5h4M190 25.5h2M198 25.5h2M212 25.5h2M216 25.5h2M220 25.5h2M230 25.5h4M246 25.5h2M252 25.5h4M264 25.5h10M276 25.5h4M558 25.5h2M306 60.5h2M374 60.5h6M382 60.5h4M388 60.5h2M394 60.5h2M400 60.5h2M404 60.5h2M416 60.5h2M422 60.5h4M436 60.5h4M442 60.5h2M446 60.5h4M452 60.5h2M462 60.5h6M472 60.5h2M478 60.5h2M490 60.5h2M500 60.5h2M504 60.5h6M582 60.5h2M588 60.5h2M592 60.5h2M596 60.5h2M600 60.5h4M606 60.5h2M610 60.5h2M618 60.5h2M628 60.5h2M325 77.5h1M330 77.5h1M348 77.5h1M357 77.5h1M455 77.5h2M459 77.5h1M461 77.5h2M465 77.5h1M469 77.5h2M477 77.5h2M480 77.5h1M484 77.5h1M592 77.5h1M645 77.5h1M647 77.5h1M682 77.5h1M686 77.5h1M695 77.5h2M699 77.5h1M702 77.5h1M714 77.5h2M444 94.5h2M448 94.5h4M454 94.5h6M462 94.5h2M466 94.5h2M470 94.5h2M476 94.5h2M480 94.5h2M492 94.5h2M502 94.5h6M512 94.5h2M516 94.5h2M42 111.5h2M62 111.5h2M68 111.5h2M110 111.5h2M140 111.5h2M144 111.5h2M148 111.5h2M172 111.5h2M176 111.5h2M184 111.5h2M190 111.5h2M214 111.5h2M220 111.5h2M230 111.5h4M238 111.5h2M244 111.5h2M252 111.5h4M258 111.5h2M262 111.5h6M270 111.5h2M278 111.5h4M284 111.5h2M294 111.5h4M210 128.5h2M310 128.5h2M362 128.5h6M370 128.5h2M382 128.5h2M390 128.5h2M394 128.5h2M406 128.5h4M428 128.5h2M440 128.5h2M446 128.5h2M456 128.5h2M462 128.5h4M486 128.5h4M494 128.5h2M498 128.5h2M502 128.5h2M514 128.5h2M560 128.5h2M566 128.5h2M592 128.5h4M622 128.5h4M628 128.5h2M646 128.5h4M652 128.5h2M656 128.5h8M672 128.5h2M692 128.5h2M696 128.5h2M704 128.5h2M150 163.5h2M154 163.5h2M172 163.5h2M188 163.5h6M196 163.5h2M206 163.5h2M212 163.5h2M216 163.5h2M222 163.5h4M228 163.5h2M242 163.5h2M248 163.5h2M260 163.5h2M278 163.5h6M286 163.5h4M292 163.5h2M302 163.5h2M310 163.5h2M314 163.5h4M324 163.5h2M338 163.5h2M344 163.5h4M350 163.5h8M364 163.5h2M520 163.5h4M526 163.5h2M530 163.5h2M162 180.5h1M166 180.5h1M174 180.5h1M187 180.5h3M200 180.5h1M202 180.5h1M205 180.5h2M212 180.5h4M217 180.5h3M224 180.5h1M227 180.5h1M233 180.5h1M235 180.5h2M239 180.5h1M243 180.5h1M254 180.5h2M261 180.5h1M274 180.5h1M283 180.5h1M290 180.5h1M294 180.5h1M298 180.5h3M305 180.5h2M308 180.5h2M320 180.5h1M329 180.5h1M336 180.5h2M344 180.5h1M346 180.5h1M351 180.5h1M354 180.5h3M358 180.5h1M364 180.5h1M371 180.5h1M383 180.5h1M396 180.5h1M410 180.5h4M415 180.5h2M424 180.5h2M428 180.5h2M442 180.5h1M445 180.5h1M455 180.5h1M459 180.5h2M466 180.5h1M472 180.5h1M487 180.5h1M498 180.5h1M502 180.5h2M507 180.5h2M512 180.5h1M516 180.5h1M542 180.5h1M547 180.5h2M560 180.5h1M577 180.5h1M579 180.5h1M582 180.5h1M605 180.5h1M619 180.5h1M622 180.5h1M629 180.5h2M638 180.5h1M641 180.5h1M649 180.5h1M673 180.5h2M679 180.5h3M688 180.5h1M702 180.5h2M709 180.5h1M713 180.5h1M715 180.5h1M12 197.5h2M18 197.5h6M28 197.5h2M32 197.5h2M80 197.5h2M114 197.5h2M170 197.5h2M286 197.5h2M48 214.5h2M56 214.5h2M60 214.5h2M66 214.5h2M116 214.5h6M124 214.5h6M142 214.5h2M148 214.5h4M162 214.5h2M170 214.5h2M178 214.5h2M184 214.5h2M188 214.5h2M196 214.5h2M208 214.5h2M218 214.5h2M222 214.5h2M226 214.5h4M232 214.5h2M240 214.5h4M246 214.5h2M258 214.5h4M268 214.5h2M272 214.5h4M278 214.5h2M282 214.5h2M290 214.5h6M308 214.5h2M312 214.5h2M330 214.5h2M334 214.5h2M346 214.5h2M362 214.5h2M380 214.5h2M386 214.5h2M390 214.5h4M396 214.5h2M416 214.5h2M424 214.5h2M428 214.5h2M434 214.5h2M440 214.5h2M448 214.5h2M452 214.5h2M462 214.5h2M470 214.5h4M476 214.5h2M482 214.5h4M488 214.5h2M500 214.5h4M506 214.5h4M540 214.5h2M544 214.5h2M552 214.5h2M556 214.5h2M562 214.5h4M568 214.5h4M574 214.5h2M590 214.5h2M602 214.5h2M606 214.5h4M618 214.5h2M628 214.5h4M634 214.5h2M638 214.5h2M642 214.5h2M646 214.5h2M654 214.5h2M662 214.5h4M676 214.5h2M686 214.5h2M690 214.5h2M704 214.5h2M712 214.5h2M718 214.5h2M45 266.5h1M193 266.5h1M200 266.5h1M204 266.5h1M211 266.5h1M216 266.5h2M226 266.5h2M229 266.5h1M254 266.5h1M257 266.5h2M261 266.5h2M270 266.5h1M278 266.5h1M286 266.5h1M291 266.5h1M299 266.5h2M303 266.5h2M307 266.5h1M326 266.5h3M343 266.5h1M351 266.5h1M354 266.5h2M361 266.5h1M377 266.5h1M379 266.5h1M383 266.5h1M393 266.5h1M401 266.5h1M409 266.5h1M416 266.5h1M419 266.5h2M425 266.5h3M432 266.5h1M435 266.5h1M439 266.5h1M442 266.5h1M444 266.5h1M450 266.5h1M462 266.5h1M469 266.5h1M471 266.5h1M480 266.5h1M485 266.5h1M490 266.5h1M492 266.5h1M497 266.5h1M500 266.5h1M506 266.5h1M514 266.5h1M516 266.5h1M593 266.5h2M598 266.5h1M600 266.5h1M603 266.5h1M605 266.5h1M608 266.5h2M616 266.5h1M618 266.5h1M622 266.5h1M628 266.5h1M631 266.5h1M642 266.5h1M655 266.5h1M658 266.5h1M668 266.5h1M671 266.5h1M674 266.5h1M681 266.5h1M686 266.5h1M688 266.5h2M691 266.5h1M696 266.5h1M707 266.5h1M712 266.5h1M658 283.5h2M668 283.5h2M672 283.5h2M676 283.5h4M686 283.5h2M690 283.5h4M700 283.5h6M712 283.5h2M716 283.5h4M596 352.5h2M608 352.5h2M616 352.5h2M620 352.5h2M626 352.5h6M634 352.5h2M642 352.5h8M656 352.5h2M662 352.5h2M668 352.5h6M688 352.5h4M694 352.5h2M702 352.5h4M716 352.5h2M632 403.5h2M640 403.5h2M648 403.5h4M662 403.5h2M670 403.5h4M680 403.5h2M686 403.5h6M696 403.5h2M702 403.5h2M48 420.5h4M70 420.5h4M76 420.5h2M92 420.5h2M96 420.5h2M106 420.5h2M112 420.5h2M120 420.5h4M126 420.5h2M156 420.5h2M240 455.5h4M280 455.5h2M284 455.5h2M288 455.5h2M292 455.5h2M296 455.5h2M350 455.5h2M356 455.5h2M604 455.5h2"/>
<path stroke="#3a44a8" d="M248 8.5h2M252 8.5h2M272 8.5h2M278 8.5h2M288 8.5h2M300 8.5h2M306 8.5h2M320 8.5h2M332 8.5h4M340 8.5h2M344 8.5h2M356 8.5h2M366 8.5h2M374 8.5h2M380 8.5h2M384 8.5h2M390 8.5h2M394 8.5h2M398 8.5h2M410 8.5h4M416 8.5h2M424 8.5h2M444 8.5h2M454 8.5h2M462 8.5h2M466 8.5h2M480 8.5h2M494 8.5h2M574 8.5h2M46 25.5h4M52 25.5h6M60 25.5h2M74 25.5h2M80 25.5h2M84 25.5h4M92 25.5h4M100 25.5h2M118 25.5h6M126 25.5h4M146 25.5h8M166 25.5h2M170 25.5h6M182 25.5h6M194 25.5h4M202 25.5h2M206 25.5h4M214 25.5h2M218 25.5h2M222 25.5h8M238 25.5h6M256 25.5h2M260 25.5h4M562 25.5h2M418 60.5h2M426 60.5h4M434 60.5h2M440 60.5h2M450 60.5h2M454 60.5h2M458 60.5h4M468 60.5h4M476 60.5h2M480 60.5h4M486 60.5h2M492 60.5h2M498 60.5h2M512 60.5h8M578 60.5h4M594 60.5h2M598 60.5h2M608 60.5h2M620 60.5h6M632 60.5h4M638 60.5h2M453 77.5h1M458 77.5h1M472 77.5h1M481 77.5h1M689 77.5h1M693 77.5h2M698 77.5h1M703 77.5h2M708 77.5h3M508 94.5h2M518 94.5h2M100 111.5h6M112 111.5h4M124 111.5h4M150 111.5h14M166 111.5h4M174 111.5h2M182 111.5h2M188 111.5h2M194 111.5h6M202 111.5h4M208 111.5h2M216 111.5h4M242 111.5h2M396 128.5h10M410 128.5h2M414 128.5h8M424 128.5h2M436 128.5h4M448 128.5h2M454 128.5h2M460 128.5h2M468 128.5h2M478 128.5h4M490 128.5h4M496 128.5h2M500 128.5h2M504 128.5h10M516 128.5h2M564 128.5h2M570 128.5h2M576 128.5h2M582 128.5h2M590 128.5h2M598 128.5h2M604 128.5h6M620 128.5h2M626 128.5h2M634 128.5h6M642 128.5h2M664 128.5h2M674 128.5h4M688 128.5h2M694 128.5h2M700 128.5h2M706 128.5h4M712 128.5h2M716 128.5h2M152 163.5h2M160 163.5h2M168 163.5h4M174 163.5h4M186 163.5h2M194 163.5h2M198 163.5h2M204 163.5h2M210 163.5h2M214 163.5h2M226 163.5h2M234 163.5h2M238 163.5h2M244 163.5h2M254 163.5h6M264 163.5h4M274 163.5h2M284 163.5h2M290 163.5h2M296 163.5h4M304 163.5h2M312 163.5h2M318 163.5h2M322 163.5h2M326 163.5h2M330 163.5h6M348 163.5h2M358 163.5h2M366 163.5h2M524 163.5h2M528 163.5h2M163 180.5h1M176 180.5h1M203 180.5h1M207 180.5h1M211 180.5h1M268 180.5h2M295 180.5h1M340 180.5h1M366 180.5h1M375 180.5h1M380 180.5h1M395 180.5h1M401 180.5h1M406 180.5h1M409 180.5h1M417 180.5h1M421 180.5h1M431 180.5h2M435 180.5h1M438 180.5h2M447 180.5h3M461 180.5h1M464 180.5h2M468 180.5h1M474 180.5h1M476 180.5h1M485 180.5h2M491 180.5h1M495 180.5h1M506 180.5h1M518 180.5h1M521 180.5h1M540 180.5h1M543 180.5h1M546 180.5h1M557 180.5h1M565 180.5h1M567 180.5h1M570 180.5h1M574 180.5h1M585 180.5h1M590 180.5h1M604 180.5h1M611 180.5h2M616 180.5h1M621 180.5h1M624 180.5h1M627 180.5h2M631 180.5h1M636 180.5h1M655 180.5h1M657 180.5h1M659 180.5h1M665 180.5h2M672 180.5h1M675 180.5h2M678 180.5h1M685 180.5h2M689 180.5h1M692 180.5h1M701 180.5h1M708 180.5h1M46 197.5h2M58 197.5h4M64 197.5h2M72 197.5h2M76 197.5h2M82 197.5h2M90 197.5h2M100 197.5h2M108 197.5h2M118 197.5h2M130 197.5h2M138 197.5h4M144 197.5h2M150 197.5h8M168 197.5h2M194 197.5h4M204 197.5h2M208 197.5h2M216 197.5h2M224 197.5h2M230 197.5h2M234 197.5h4M240 197.5h4M264 197.5h4M278 197.5h2M284 197.5h2M290 197.5h2M40 214.5h4M54 214.5h2M62 214.5h4M114 214.5h2M122 214.5h2M138 214.5h2M144 214.5h2M160 214.5h2M166 214.5h4M176 214.5h2M180 214.5h2M190 214.5h6M216 214.5h2M244 214.5h2M256 214.5h2M276 214.5h2M288 214.5h2M304 214.5h2M320 214.5h4M336 214.5h2M340 214.5h4M348 214.5h2M354 214.5h8M368 214.5h2M374 214.5h6M400 214.5h6M418 214.5h2M422 214.5h2M436 214.5h4M454 214.5h8M464 214.5h2M490 214.5h4M514 214.5h2M518 214.5h2M546 214.5h2M550 214.5h2M572 214.5h2M584 214.5h2M594 214.5h2M598 214.5h2M616 214.5h2M620 214.5h2M624 214.5h2M632 214.5h2M650 214.5h2M668 214.5h2M674 214.5h2M692 214.5h2M696 214.5h2M700 214.5h4M708 214.5h2M195 266.5h2M199 266.5h1M207 266.5h1M215 266.5h1M220 266.5h1M223 266.5h1M239 266.5h1M245 266.5h1M266 266.5h2M271 266.5h1M275 266.5h2M279 266.5h2M282 266.5h2M285 266.5h1M287 266.5h1M297 266.5h1M302 266.5h1M305 266.5h2M313 266.5h1M320 266.5h1M330 266.5h1M335 266.5h2M338 266.5h1M347 266.5h2M350 266.5h1M356 266.5h2M363 266.5h1M365 266.5h1M370 266.5h1M372 266.5h2M384 266.5h1M388 266.5h1M390 266.5h1M394 266.5h1M396 266.5h1M403 266.5h1M417 266.5h2M423 266.5h1M429 266.5h1M434 266.5h1M453 266.5h1M455 266.5h1M457 266.5h2M465 266.5h1M468 266.5h1M470 266.5h1M478 266.5h1M481 266.5h3M487 266.5h1M512 266.5h2M523 266.5h2M585 266.5h1M587 266.5h1M590 266.5h1M601 266.5h1M604 266.5h1M607 266.5h1M611 266.5h2M615 266.5h1M619 266.5h1M621 266.5h1M630 266.5h1M637 266.5h1M652 266.5h2M660 266.5h1M665 266.5h1M667 266.5h1M669 266.5h1M673 266.5h1M677 266.5h1M679 266.5h2M682 266.5h1M699 266.5h1M704 266.5h1M654 283.5h2M660 283.5h4M670 283.5h2M674 283.5h2M688 283.5h2M706 283.5h6M598 352.5h4M604 352.5h4M618 352.5h2M622 352.5h2M632 352.5h2M636 352.5h4M650 352.5h6M658 352.5h4M664 352.5h2M678 352.5h2M682 352.5h2M686 352.5h2M692 352.5h2M698 352.5h4M708 352.5h6M718 352.5h2M42 386.5h2M630 403.5h2M636 403.5h4M654 403.5h2M658 403.5h4M664 403.5h4M678 403.5h2M682 403.5h4M692 403.5h4M700 403.5h2M66 420.5h4M74 420.5h2M102 420.5h2M422 420.5h2M246 455.5h2M252 455.5h2M258 455.5h2M268 455.5h4M274 455.5h2M290 455.5h2M300 455.5h2M344 455.5h2M362 455.5h2M366 455.5h2M380 455.5h2"/>
<path stroke="#3339a3" d="M250 8.5h2M256 8.5h2M268 8.5h2M284 8.5h2M310 8.5h2M322 8.5h2M368 8.5h2M386 8.5h4M418 8.5h2M426 8.5h2M436 8.5h2M450 8.5h2M496 8.5h2M512 8.5h2M572 8.5h2M576 8.5h4M68 25.5h2M78 25.5h2M96 25.5h2M134 25.5h2M140 25.5h2M162 25.5h2M192 25.5h2M248 25.5h2M420 60.5h2M430 60.5h2M488 60.5h2M520 60.5h2M524 60.5h4M584 60.5h4M590 60.5h2M604 60.5h2M616 60.5h2M626 60.5h2M630 60.5h2M636 60.5h2M454 77.5h1M460 77.5h1M471 77.5h1M473 77.5h2M476 77.5h1M483 77.5h1M687 77.5h1M690 77.5h2M697 77.5h1M701 77.5h1M705 77.5h2M711 77.5h3M538 94.5h2M546 94.5h4M554 94.5h4M566 94.5h2M572 94.5h4M586 94.5h2M598 94.5h2M94 111.5h4M106 111.5h4M116 111.5h4M122 111.5h2M128 111.5h4M134 111.5h2M164 111.5h2M170 111.5h2M178 111.5h4M186 111.5h2M192 111.5h2M212 111.5h2M422 128.5h2M432 128.5h2M444 128.5h2M458 128.5h2M472 128.5h2M476 128.5h2M518 128.5h2M562 128.5h2M568 128.5h2M572 128.5h4M578 128.5h4M584 128.5h6M596 128.5h2M600 128.5h2M610 128.5h6M682 128.5h2M718 128.5h2M156 163.5h4M162 163.5h6M178 163.5h8M200 163.5h4M208 163.5h2M218 163.5h4M230 163.5h4M236 163.5h2M240 163.5h2M246 163.5h2M262 163.5h2M268 163.5h6M276 163.5h2M294 163.5h2M300 163.5h2M306 163.5h4M328 163.5h2M336 163.5h2M340 163.5h2M360 163.5h4M382 163.5h2M404 163.5h2M578 163.5h2M590 163.5h2M167 180.5h1M244 180.5h1M297 180.5h1M333 180.5h1M361 180.5h3M367 180.5h1M373 180.5h1M377 180.5h1M385 180.5h2M389 180.5h1M391 180.5h1M394 180.5h1M402 180.5h1M404 180.5h1M408 180.5h1M414 180.5h1M419 180.5h2M436 180.5h1M440 180.5h1M443 180.5h1M446 180.5h1M452 180.5h1M456 180.5h2M462 180.5h2M469 180.5h1M481 180.5h1M483 180.5h1M488 180.5h1M490 180.5h1M494 180.5h1M500 180.5h1M504 180.5h1M511 180.5h1M514 180.5h2M522 180.5h1M536 180.5h2M544 180.5h1M549 180.5h2M552 180.5h1M559 180.5h1M564 180.5h1M566 180.5h1M568 180.5h1M572 180.5h1M575 180.5h2M581 180.5h1M588 180.5h1M591 180.5h1M597 180.5h1M601 180.5h2M609 180.5h2M623 180.5h1M632 180.5h1M639 180.5h1M648 180.5h1M653 180.5h1M658 180.5h1M664 180.5h1M669 180.5h1M677 180.5h1M691 180.5h1M694 180.5h1M696 180.5h1M711 180.5h1M48 197.5h10M62 197.5h2M70 197.5h2M74 197.5h2M86 197.5h4M94 197.5h6M102 197.5h6M110 197.5h4M116 197.5h2M124 197.5h6M132 197.5h6M142 197.5h2M146 197.5h4M158 197.5h2M162 197.5h2M192 197.5h2M200 197.5h4M206 197.5h2M214 197.5h2M222 197.5h2M226 197.5h2M232 197.5h2M244 197.5h4M254 197.5h2M260 197.5h4M268 197.5h6M276 197.5h2M288 197.5h2M58 214.5h2M132 214.5h2M140 214.5h2M154 214.5h2M206 214.5h2M210 214.5h6M224 214.5h2M238 214.5h2M248 214.5h2M262 214.5h2M266 214.5h2M284 214.5h4M298 214.5h2M302 214.5h2M306 214.5h2M328 214.5h2M344 214.5h2M364 214.5h2M370 214.5h2M382 214.5h2M432 214.5h2M442 214.5h4M466 214.5h2M478 214.5h4M510 214.5h4M516 214.5h2M596 214.5h2M604 214.5h2M648 214.5h2M666 214.5h2M684 214.5h2M694 214.5h2M698 214.5h2M192 266.5h1M194 266.5h1M198 266.5h1M202 266.5h1M205 266.5h2M208 266.5h1M210 266.5h1M214 266.5h1M221 266.5h1M225 266.5h1M231 266.5h3M236 266.5h1M240 266.5h3M244 266.5h1M246 266.5h1M248 266.5h4M272 266.5h1M274 266.5h1M277 266.5h1M281 266.5h1M284 266.5h1M288 266.5h1M298 266.5h1M301 266.5h1M309 266.5h1M316 266.5h2M319 266.5h1M321 266.5h3M325 266.5h1M333 266.5h1M339 266.5h1M341 266.5h1M344 266.5h1M353 266.5h1M358 266.5h1M364 266.5h1M368 266.5h1M375 266.5h2M378 266.5h1M380 266.5h1M382 266.5h1M385 266.5h1M389 266.5h1M391 266.5h1M397 266.5h1M405 266.5h4M411 266.5h1M413 266.5h2M422 266.5h1M428 266.5h1M430 266.5h1M437 266.5h1M445 266.5h2M452 266.5h1M460 266.5h1M463 266.5h1M475 266.5h1M489 266.5h1M496 266.5h1M503 266.5h2M511 266.5h1M517 266.5h2M596 266.5h1M599 266.5h1M602 266.5h1M606 266.5h1M625 266.5h1M627 266.5h1M629 266.5h1M633 266.5h1M639 266.5h1M641 266.5h1M648 266.5h1M650 266.5h1M654 266.5h1M656 266.5h1M662 266.5h1M666 266.5h1M672 266.5h1M675 266.5h1M685 266.5h1M700 266.5h1M702 266.5h1M713 266.5h1M648 283.5h4M680 283.5h2M684 283.5h2M694 283.5h4M612 352.5h2M624 352.5h2M676 352.5h2M680 352.5h2M696 352.5h2M706 352.5h2M642 403.5h2M652 403.5h2M158 420.5h2M418 420.5h4M286 455.5h2M368 455.5h2M388 455.5h2M404 455.5h2M416 455.5h2M444 455.5h2"/>
<path stroke="#1a1688" d="M500 8.5h2M516 8.5h4M524 8.5h2M590 8.5h2M594 8.5h2M598 8.5h2M602 8.5h2M606 8.5h2M610 8.5h2M616 8.5h2M628 8.5h2M632 8.5h4M638 8.5h4M644 8.5h2M654 8.5h2M662 8.5h2M670 8.5h8M680 8.5h2M690 8.5h4M696 8.5h2M710 8.5h2M294 25.5h2M304 25.5h2M308 25.5h2M312 25.5h4M322 25.5h2M326 25.5h4M332 25.5h4M342 25.5h4M350 25.5h2M360 25.5h4M640 60.5h2M652 60.5h6M676 60.5h2M680 60.5h4M692 60.5h2M704 60.5h2M710 60.5h6M526 94.5h2M614 94.5h2M624 94.5h4M446 163.5h2M450 163.5h6M464 163.5h6M476 163.5h4M502 163.5h4M510 163.5h2M518 163.5h2M600 163.5h2M604 163.5h2M610 163.5h2M620 163.5h2M628 163.5h2M632 163.5h2M636 163.5h2M640 163.5h4M650 163.5h4M656 163.5h2M662 163.5h2M688 163.5h2M696 163.5h2M700 163.5h2M704 163.5h2M708 163.5h2M716 163.5h4M308 197.5h2M364 197.5h4M370 197.5h2M380 197.5h2M418 197.5h2M426 197.5h4M434 197.5h2M556 197.5h2M560 197.5h4M568 197.5h2M572 197.5h2M576 197.5h2M260 420.5h2M266 420.5h2M272 420.5h2M276 420.5h6M284 420.5h2M288 420.5h2M292 420.5h6M368 420.5h2M372 420.5h2M378 420.5h2M382 420.5h2M386 420.5h2M458 420.5h2M464 420.5h2M468 420.5h4M474 420.5h2M484 420.5h2M490 420.5h4M496 420.5h4M502 420.5h4M508 420.5h4M516 420.5h2M556 420.5h4M564 420.5h2M452 455.5h2M456 455.5h2M460 455.5h2M470 455.5h2M480 455.5h2M492 455.5h2M496 455.5h4M522 455.5h2M562 455.5h4M570 455.5h2M574 455.5h2M578 455.5h2M584 455.5h2M588 455.5h2M592 455.5h4M702 455.5h2M714 455.5h2"/>
<path stroke="#262298" d="M502 8.5h4M510 8.5h2M526 8.5h2M580 8.5h2M280 25.5h4M296 25.5h6M316 25.5h2M336 25.5h2M346 25.5h2M352 25.5h4M358 25.5h2M366 25.5h8M522 60.5h2M648 60.5h4M662 60.5h2M670 60.5h4M678 60.5h2M684 60.5h4M690 60.5h2M698 60.5h2M452 77.5h1M475 77.5h1M707 77.5h1M520 94.5h2M544 94.5h2M570 94.5h2M606 94.5h2M610 94.5h4M618 94.5h2M120 111.5h2M376 163.5h2M398 163.5h6M408 163.5h2M412 163.5h2M416 163.5h6M424 163.5h2M428 163.5h2M490 163.5h2M516 163.5h2M544 163.5h4M550 163.5h2M556 163.5h2M562 163.5h2M566 163.5h2M570 163.5h2M588 163.5h2M594 163.5h2M598 163.5h2M513 180.5h1M634 180.5h1M687 180.5h1M712 180.5h1M302 197.5h4M312 197.5h2M316 197.5h2M320 197.5h2M324 197.5h2M328 197.5h2M332 197.5h2M340 197.5h2M346 197.5h2M350 197.5h2M392 197.5h6M408 197.5h8M422 197.5h4M432 197.5h2M444 197.5h2M448 197.5h2M452 197.5h2M402 266.5h1M410 266.5h1M415 266.5h1M424 266.5h1M431 266.5h1M433 266.5h1M441 266.5h1M443 266.5h1M448 266.5h2M451 266.5h1M459 266.5h1M466 266.5h1M474 266.5h1M484 266.5h1M493 266.5h1M502 266.5h1M508 266.5h1M519 266.5h3M525 266.5h3M697 266.5h1M703 266.5h1M138 420.5h4M152 420.5h2M160 420.5h2M396 420.5h6M360 455.5h2M372 455.5h8M382 455.5h6M394 455.5h4M410 455.5h4M418 455.5h6M428 455.5h2M432 455.5h2M530 455.5h2M576 455.5h2M58 472.5h2"/>
<path stroke="#201b90" d="M506 8.5h2M514 8.5h2M592 8.5h2M656 8.5h2M702 8.5h4M286 25.5h8M302 25.5h2M306 25.5h2M310 25.5h2M318 25.5h4M324 25.5h2M338 25.5h4M348 25.5h2M356 25.5h2M642 60.5h6M658 60.5h4M664 60.5h2M668 60.5h2M674 60.5h2M688 60.5h2M694 60.5h2M700 60.5h4M706 60.5h4M716 60.5h4M522 94.5h2M608 94.5h2M616 94.5h2M622 94.5h2M374 163.5h2M386 163.5h4M394 163.5h4M410 163.5h2M414 163.5h2M422 163.5h2M426 163.5h2M432 163.5h2M440 163.5h2M444 163.5h2M448 163.5h2M456 163.5h2M462 163.5h2M470 163.5h2M480 163.5h4M486 163.5h4M492 163.5h2M498 163.5h2M506 163.5h2M512 163.5h2M552 163.5h4M560 163.5h2M572 163.5h2M576 163.5h2M586 163.5h2M660 163.5h2M668 163.5h6M676 163.5h2M684 163.5h4M690 163.5h2M698 163.5h2M702 163.5h2M706 163.5h2M710 163.5h4M558 180.5h1M561 180.5h1M595 180.5h1M613 180.5h1M617 180.5h1M644 180.5h1M684 180.5h1M306 197.5h2M310 197.5h2M314 197.5h2M318 197.5h2M322 197.5h2M326 197.5h2M330 197.5h2M334 197.5h4M342 197.5h4M352 197.5h6M376 197.5h2M416 197.5h2M420 197.5h2M430 197.5h2M442 197.5h2M446 197.5h2M450 197.5h2M454 197.5h4M554 197.5h2M558 197.5h2M564 197.5h2M574 197.5h2M273 266.5h1M374 266.5h1M456 266.5h1M472 266.5h1M522 266.5h1M162 420.5h2M166 420.5h2M258 420.5h2M262 420.5h4M268 420.5h4M274 420.5h2M406 420.5h2M410 420.5h2M414 420.5h2M462 420.5h2M476 420.5h8M486 420.5h2M494 420.5h2M500 420.5h2M506 420.5h2M512 420.5h4M518 420.5h2M570 420.5h2M390 455.5h2M426 455.5h2M430 455.5h2M434 455.5h2M446 455.5h4M478 455.5h2M504 455.5h2M560 455.5h2M586 455.5h2M708 455.5h2M60 472.5h4"/>
<path stroke="#141080" d="M520 8.5h4M588 8.5h2M600 8.5h2M604 8.5h2M618 8.5h2M622 8.5h4M636 8.5h2M646 8.5h2M652 8.5h2M666 8.5h2M684 8.5h4M700 8.5h2M706 8.5h2M716 8.5h2M364 25.5h2M696 60.5h2M620 94.5h2M442 163.5h2M458 163.5h4M472 163.5h4M484 163.5h2M494 163.5h4M500 163.5h2M508 163.5h2M514 163.5h2M602 163.5h2M606 163.5h4M618 163.5h2M626 163.5h2M644 163.5h6M654 163.5h2M658 163.5h2M664 163.5h4M674 163.5h2M678 163.5h6M692 163.5h4M714 163.5h2M360 197.5h4M368 197.5h2M372 197.5h4M378 197.5h2M552 197.5h2M566 197.5h2M570 197.5h2M578 197.5h2M256 420.5h2M282 420.5h2M286 420.5h2M290 420.5h2M298 420.5h2M362 420.5h6M370 420.5h2M376 420.5h2M380 420.5h2M460 420.5h2M466 420.5h2M472 420.5h2M488 420.5h2M552 420.5h2M566 420.5h2M572 420.5h2M450 455.5h2M476 455.5h2M484 455.5h4M500 455.5h4M508 455.5h6M516 455.5h2M520 455.5h2M524 455.5h4M568 455.5h2M572 455.5h2M590 455.5h2M596 455.5h2M602 455.5h2M704 455.5h4M716 455.5h4"/>
<path stroke="#98dab4" d="M528 8.5h2M342 60.5h4M381 77.5h1M501 77.5h1M514 77.5h1M657 77.5h3M661 77.5h2M664 77.5h1M668 77.5h1M671 77.5h1M362 231.5h4M442 231.5h6M454 231.5h4M464 231.5h2M468 231.5h2M482 231.5h2M488 231.5h4M494 231.5h6M502 231.5h2M512 231.5h8M0 266.5h3M560 283.5h2M360 317.5h2M372 317.5h2M382 317.5h2M390 317.5h4M396 317.5h6M404 317.5h2M408 317.5h2M414 317.5h4M424 317.5h2M432 317.5h2M442 317.5h2M446 317.5h4M456 317.5h2M486 317.5h2M496 317.5h2M516 317.5h2M526 317.5h2M536 317.5h2M540 317.5h2M544 317.5h2M600 317.5h2M604 317.5h2M618 317.5h2M622 317.5h2M628 317.5h6M636 317.5h2M642 317.5h4M660 317.5h2M666 317.5h6M684 317.5h2M688 317.5h2M696 317.5h2M706 317.5h6M576 352.5h2M196 369.5h4M456 369.5h2M466 369.5h4M476 369.5h2M480 369.5h2M674 369.5h2M678 369.5h2M178 386.5h2M184 386.5h2M194 386.5h2M206 386.5h2M212 386.5h2M222 386.5h2M252 386.5h10M266 386.5h4M274 386.5h6M284 386.5h2M288 386.5h8M310 386.5h2M316 386.5h4M340 386.5h2M344 386.5h2M358 386.5h2M522 386.5h2M644 386.5h2M706 403.5h2M714 403.5h2M534 455.5h1"/>
<path stroke="#e6290b" d="M530 8.5h2M548 197.5h1M530 231.5h2M534 231.5h2M535 266.5h1M636 369.5h2M566 386.5h2"/>
<path stroke="#f34810" d="M532 8.5h2M536 266.5h2M540 352.5h6M538 369.5h2M656 369.5h2M662 369.5h4M586 386.5h2M558 403.5h2"/>
<path stroke="#fa6a14" d="M534 8.5h2M544 60.5h2M548 352.5h2M116 369.5h1M534 369.5h4M632 369.5h4M570 386.5h4M576 386.5h2M582 386.5h4M588 386.5h2M560 403.5h2M436 420.5h2"/>
<path stroke="#fc8e14" d="M536 8.5h4M534 60.5h2M158 369.5h2M644 369.5h2M568 403.5h2"/>
<path stroke="#fb7c14" d="M540 8.5h2M536 60.5h2M546 352.5h2M528 369.5h2M640 369.5h4M568 386.5h2M574 386.5h2M578 386.5h2M566 403.5h2M318 455.5h2"/>
<path stroke="#fda014" d="M542 8.5h2M550 25.5h2M548 128.5h2M146 231.5h2"/>
<path stroke="#fece14" d="M544 8.5h4M552 60.5h2M38 128.5h2M0 197.5h2M64 231.5h2M106 231.5h2M532 266.5h1M514 369.5h2M535 455.5h1"/>
<path stroke="#fdde18" d="M548 8.5h2M34 128.5h2M382 197.5h2M549 197.5h1M66 231.5h2M104 231.5h2M108 231.5h2M533 266.5h1M567 266.5h1M536 283.5h2M542 283.5h2M650 369.5h2M536 386.5h2M562 403.5h4M32 420.5h2M452 420.5h2"/>
<path stroke="#f2eb24" d="M550 8.5h4M532 60.5h2M242 77.5h1M266 77.5h1M388 197.5h4M128 231.5h4M562 266.5h1M570 266.5h2M546 283.5h2M528 352.5h2M532 352.5h2M234 369.5h2M652 369.5h2M668 369.5h2M672 369.5h2M592 386.5h2M572 403.5h2M558 455.5h2"/>
<path stroke="#bce260" d="M554 8.5h2M566 60.5h2M570 60.5h6M52 77.5h1M54 77.5h2M61 77.5h1M67 77.5h1M72 77.5h2M77 77.5h1M83 77.5h1M85 77.5h1M88 77.5h4M96 77.5h2M112 77.5h1M127 77.5h1M134 77.5h1M137 77.5h1M143 77.5h1M154 77.5h1M160 77.5h1M162 77.5h1M186 77.5h1M196 77.5h1M208 77.5h3M212 77.5h1M231 77.5h1M245 77.5h1M253 77.5h1M287 77.5h2M292 77.5h2M385 77.5h2M399 77.5h1M529 77.5h3M534 77.5h3M538 77.5h1M544 77.5h5M550 77.5h1M565 77.5h1M36 94.5h2M16 128.5h2M22 128.5h4M280 197.5h4M98 214.5h2M102 214.5h2M150 231.5h2M368 231.5h2M544 231.5h2M638 231.5h2M648 231.5h2M652 231.5h2M656 231.5h2M668 231.5h2M680 231.5h2M688 231.5h4M696 231.5h2M702 231.5h4M712 231.5h2M548 283.5h2M552 283.5h2M562 352.5h2M76 369.5h2M80 369.5h2M84 369.5h2M88 369.5h2M98 369.5h4M118 369.5h2M122 369.5h8M132 369.5h4M184 369.5h2M204 369.5h2M228 369.5h2M400 369.5h2M540 369.5h2M630 369.5h2M324 455.5h2M694 455.5h2"/>
<path stroke="#c6e453" d="M556 8.5h4M53 77.5h1M56 77.5h3M62 77.5h2M66 77.5h1M69 77.5h1M75 77.5h1M78 77.5h1M80 77.5h1M94 77.5h1M105 77.5h1M109 77.5h1M124 77.5h1M126 77.5h1M129 77.5h2M135 77.5h1M141 77.5h2M156 77.5h1M159 77.5h1M166 77.5h2M179 77.5h2M187 77.5h2M194 77.5h1M198 77.5h1M200 77.5h1M207 77.5h1M211 77.5h1M220 77.5h1M226 77.5h1M229 77.5h2M234 77.5h1M237 77.5h1M239 77.5h1M248 77.5h1M251 77.5h1M269 77.5h1M271 77.5h2M275 77.5h1M278 77.5h1M388 77.5h1M393 77.5h1M396 77.5h3M521 77.5h1M540 77.5h2M551 77.5h2M557 77.5h2M561 77.5h1M563 77.5h1M18 128.5h4M28 128.5h4M492 197.5h4M100 214.5h2M106 214.5h2M112 231.5h2M120 231.5h2M126 231.5h2M718 231.5h2M556 266.5h1M550 283.5h2M556 283.5h4M556 352.5h2M560 352.5h2M72 369.5h2M78 369.5h2M86 369.5h2M90 369.5h8M102 369.5h2M130 369.5h2M180 369.5h2M186 369.5h2M206 369.5h2M210 369.5h2M390 369.5h2M394 369.5h6M516 369.5h4M530 386.5h2M534 386.5h2M600 386.5h2M648 386.5h4M528 403.5h2"/>
<path stroke="#addf7b" d="M560 8.5h4M560 60.5h2M564 60.5h2M60 77.5h1M65 77.5h1M70 77.5h2M81 77.5h1M84 77.5h1M99 77.5h1M103 77.5h1M111 77.5h1M115 77.5h1M119 77.5h1M128 77.5h1M145 77.5h1M202 77.5h1M213 77.5h1M215 77.5h1M217 77.5h1M221 77.5h2M281 77.5h1M284 77.5h1M286 77.5h1M378 77.5h2M383 77.5h1M400 77.5h1M404 77.5h1M497 77.5h1M499 77.5h2M502 77.5h1M508 77.5h2M511 77.5h3M516 77.5h5M524 77.5h3M533 77.5h1M539 77.5h1M549 77.5h1M564 77.5h1M566 77.5h1M570 77.5h1M24 94.5h12M38 94.5h2M42 128.5h2M160 231.5h2M552 231.5h2M558 231.5h2M562 231.5h2M566 231.5h2M570 231.5h2M576 231.5h2M580 231.5h4M588 231.5h2M592 231.5h2M596 231.5h4M614 231.5h2M618 231.5h2M624 231.5h6M634 231.5h4M640 231.5h2M674 231.5h2M686 231.5h2M692 231.5h2M706 231.5h4M716 231.5h2M555 266.5h1M558 266.5h3M560 317.5h2M564 317.5h4M570 317.5h2M574 317.5h4M580 317.5h2M586 317.5h4M592 317.5h4M40 369.5h2M50 369.5h6M62 369.5h6M120 369.5h2M136 369.5h4M142 369.5h4M166 369.5h4M172 369.5h2M176 369.5h2M254 369.5h2M260 369.5h2M268 369.5h2M274 369.5h2M278 369.5h4M286 369.5h2M290 369.5h2M300 369.5h2M304 369.5h2M308 369.5h2M312 369.5h4M318 369.5h4M328 369.5h2M332 369.5h2M346 369.5h4M360 369.5h2M366 369.5h2M376 369.5h2M380 369.5h8M404 369.5h4M410 369.5h2M420 369.5h2M426 369.5h4M440 369.5h2M446 369.5h2M492 369.5h2M496 369.5h2M506 369.5h2M640 386.5h2M576 403.5h2M580 403.5h2M665 455.5h1"/>
<path stroke="#100d7a" d="M596 8.5h2M608 8.5h2M614 8.5h2M620 8.5h2M626 8.5h2M642 8.5h2M648 8.5h2M658 8.5h4M664 8.5h2M668 8.5h2M678 8.5h2M682 8.5h2M688 8.5h2M694 8.5h2M712 8.5h4M718 8.5h2M612 163.5h6M622 163.5h4M630 163.5h2M634 163.5h2M638 163.5h2M360 420.5h2M374 420.5h2M384 420.5h2M388 420.5h8M554 420.5h2M560 420.5h4M458 455.5h2M462 455.5h8M474 455.5h2M482 455.5h2M488 455.5h4M506 455.5h2M518 455.5h2M566 455.5h2M582 455.5h2M600 455.5h2M700 455.5h2M710 455.5h4"/>
<path stroke="#0f0c78" d="M612 8.5h2M630 8.5h2M650 8.5h2M386 25.5h2M390 25.5h2M412 25.5h2M430 25.5h2M484 25.5h2M488 25.5h2M494 25.5h2M512 25.5h2M522 25.5h2M600 25.5h2M646 25.5h2M656 25.5h2M664 25.5h4M672 25.5h2M688 25.5h2M696 25.5h2M600 197.5h2M628 197.5h2M710 197.5h2M616 455.5h2M634 455.5h2M638 455.5h2M646 455.5h6M662 455.5h3M68 472.5h2M182 472.5h2M194 472.5h2M280 472.5h2M350 472.5h2M438 472.5h4M488 472.5h4M586 472.5h2"/>
<path stroke="#100d79" d="M698 8.5h2M708 8.5h2M454 455.5h2M472 455.5h2M494 455.5h2M514 455.5h2M598 455.5h2"/>
<path stroke="#0f0c77" d="M374 25.5h12M388 25.5h2M392 25.5h2M396 25.5h8M406 25.5h6M414 25.5h16M432 25.5h20M454 25.5h4M460 25.5h6M468 25.5h4M474 25.5h6M482 25.5h2M486 25.5h2M490 25.5h2M496 25.5h4M502 25.5h10M516 25.5h6M524 25.5h4M566 25.5h6M574 25.5h20M598 25.5h2M602 25.5h12M616 25.5h8M626 25.5h10M640 25.5h4M648 25.5h8M658 25.5h6M668 25.5h4M674 25.5h4M680 25.5h8M690 25.5h6M698 25.5h14M718 25.5h2M528 94.5h8M628 94.5h92M460 197.5h32M498 197.5h44M580 197.5h20M602 197.5h26M630 197.5h72M704 197.5h6M712 197.5h8M168 420.5h20M190 420.5h50M242 420.5h14M300 420.5h56M358 420.5h2M520 420.5h20M576 420.5h42M620 420.5h6M628 420.5h2M632 420.5h2M636 420.5h38M676 420.5h2M680 420.5h40M606 455.5h2M610 455.5h4M620 455.5h8M632 455.5h2M636 455.5h2M640 455.5h6M652 455.5h2M656 455.5h6M64 472.5h4M70 472.5h40M112 472.5h10M124 472.5h46M172 472.5h10M184 472.5h10M196 472.5h84M282 472.5h8M292 472.5h28M322 472.5h28M352 472.5h8M362 472.5h10M374 472.5h64M442 472.5h12M456 472.5h2M460 472.5h28M492 472.5h6M500 472.5h4M506 472.5h26M542 472.5h44M588 472.5h48M638 472.5h82"/>
<path stroke="#0f0c76" d="M394 25.5h2M404 25.5h2M452 25.5h2M458 25.5h2M466 25.5h2M472 25.5h2M480 25.5h2M492 25.5h2M500 25.5h2M514 25.5h2M564 25.5h2M572 25.5h2M594 25.5h4M614 25.5h2M624 25.5h2M636 25.5h4M644 25.5h2M678 25.5h2M712 25.5h6M702 197.5h2M188 420.5h2M240 420.5h2M356 420.5h2M618 420.5h2M626 420.5h2M630 420.5h2M634 420.5h2M674 420.5h2M678 420.5h2M608 455.5h2M614 455.5h2M618 455.5h2M628 455.5h4M654 455.5h2M110 472.5h2M122 472.5h2M170 472.5h2M290 472.5h2M320 472.5h2M360 472.5h2M372 472.5h2M454 472.5h2M458 472.5h2M498 472.5h2M504 472.5h2M636 472.5h2"/>
<path stroke="#9fdc9f" d="M528 25.5h3M340 60.5h2M350 60.5h2M297 77.5h1M376 77.5h2M380 77.5h1M405 77.5h1M492 77.5h1M494 77.5h3M503 77.5h3M660 77.5h1M450 231.5h2M466 231.5h2M472 231.5h6M492 231.5h2M500 231.5h2M504 231.5h6M526 231.5h4M531 266.5h1M534 283.5h2M566 283.5h2M440 317.5h2M452 317.5h4M458 317.5h8M468 317.5h2M472 317.5h14M488 317.5h8M498 317.5h10M518 317.5h8M530 317.5h2M534 317.5h2M538 317.5h2M542 317.5h2M548 317.5h2M556 317.5h2M602 317.5h2M608 317.5h4M614 317.5h2M620 317.5h2M634 317.5h2M638 317.5h4M646 317.5h4M654 317.5h2M664 317.5h2M672 317.5h2M680 317.5h2M692 317.5h4M698 317.5h8M712 317.5h2M716 317.5h2M104 369.5h6M146 369.5h2M200 369.5h4M262 369.5h2M276 369.5h2M350 369.5h2M354 369.5h2M364 369.5h2M482 369.5h4M490 369.5h2M498 369.5h4M270 386.5h2M332 386.5h2M610 386.5h2M614 386.5h6M622 386.5h2M626 386.5h2M632 386.5h4M638 386.5h2M646 386.5h2M588 403.5h6M596 403.5h2M432 420.5h2M666 455.5h1"/>
<path stroke="#6e0c00" d="M531 25.5h7M538 25.5h4M542 25.5h2M544 25.5h2M546 25.5h4M538 60.5h4M542 60.5h2M522 128.5h2M524 128.5h2M526 128.5h18M68 231.5h2M70 231.5h2M72 231.5h2M74 231.5h4M78 231.5h4M82 231.5h12M94 231.5h2M100 231.5h2M102 231.5h2M132 231.5h8M140 231.5h2M142 231.5h2M110 369.5h4M154 369.5h4M550 386.5h6M530 403.5h2M532 403.5h8M540 403.5h2M542 403.5h2M544 403.5h2M546 403.5h4M550 403.5h4M554 403.5h4M24 420.5h2M26 420.5h2M28 420.5h4M438 420.5h2M440 420.5h2M442 420.5h2M444 420.5h2M446 420.5h6M544 420.5h2M546 420.5h2M548 420.5h2M310 455.5h4M314 455.5h4M536 455.5h2M538 455.5h2M540 455.5h2M544 455.5h4M548 455.5h4M552 455.5h2M554 455.5h2M556 455.5h2M667 455.5h1M668 455.5h2M670 455.5h2M672 455.5h8M680 455.5h2M682 455.5h2M684 455.5h2M686 455.5h6"/>
<path stroke="#a6dd8b" d="M346 60.5h2M64 77.5h1M108 77.5h1M158 77.5h1M295 77.5h1M401 77.5h1M403 77.5h1M407 77.5h1M498 77.5h1M510 77.5h1M515 77.5h1M527 77.5h1M543 77.5h1M569 77.5h1M571 77.5h1M40 128.5h2M520 231.5h6M604 231.5h2M612 231.5h2M630 231.5h2M546 266.5h1M549 266.5h2M554 266.5h1M557 266.5h1M561 266.5h1M532 283.5h2M564 283.5h2M568 283.5h4M444 317.5h2M450 317.5h2M466 317.5h2M470 317.5h2M508 317.5h8M528 317.5h2M532 317.5h2M546 317.5h2M550 317.5h6M558 317.5h2M562 317.5h2M568 317.5h2M572 317.5h2M578 317.5h2M582 317.5h4M590 317.5h2M596 317.5h4M606 317.5h2M612 317.5h2M616 317.5h2M624 317.5h2M650 317.5h4M656 317.5h4M662 317.5h2M674 317.5h6M682 317.5h2M686 317.5h2M690 317.5h2M714 317.5h2M718 317.5h2M42 369.5h8M56 369.5h6M140 369.5h2M178 369.5h2M240 369.5h6M248 369.5h6M256 369.5h4M264 369.5h4M270 369.5h4M282 369.5h4M288 369.5h2M292 369.5h2M296 369.5h4M302 369.5h2M306 369.5h2M310 369.5h2M316 369.5h2M322 369.5h6M330 369.5h2M334 369.5h12M352 369.5h2M356 369.5h4M362 369.5h2M368 369.5h8M378 369.5h2M388 369.5h2M418 369.5h2M438 369.5h2M442 369.5h2M486 369.5h4M494 369.5h2M502 369.5h4M522 369.5h2M608 386.5h2M612 386.5h2M620 386.5h2M624 386.5h2M628 386.5h4M636 386.5h2M642 386.5h2M578 403.5h2M582 403.5h6M598 403.5h2M434 420.5h2M326 455.5h2M532 455.5h2"/>
<path stroke="#93d8c3" d="M348 60.5h2M352 60.5h2M299 77.5h1M382 77.5h1M402 77.5h1M406 77.5h1M412 77.5h1M430 77.5h1M652 77.5h2M656 77.5h1M665 77.5h2M670 77.5h1M188 94.5h2M192 94.5h6M108 214.5h2M164 231.5h8M174 231.5h4M180 231.5h2M184 231.5h2M304 231.5h2M308 231.5h2M314 231.5h8M324 231.5h2M334 231.5h4M342 231.5h2M346 231.5h2M350 231.5h2M356 231.5h6M366 231.5h2M402 231.5h2M418 231.5h2M438 231.5h4M448 231.5h2M452 231.5h2M458 231.5h6M470 231.5h2M478 231.5h4M484 231.5h4M510 231.5h2M529 266.5h1M575 266.5h1M562 283.5h2M112 300.5h2M150 300.5h2M154 300.5h2M182 300.5h2M212 300.5h2M232 300.5h2M242 300.5h2M250 300.5h2M266 300.5h2M270 300.5h4M278 300.5h2M284 300.5h2M308 300.5h2M314 300.5h2M216 317.5h2M228 317.5h4M236 317.5h2M262 317.5h2M282 317.5h2M306 317.5h2M328 317.5h2M340 317.5h2M350 317.5h2M362 317.5h2M366 317.5h6M374 317.5h8M384 317.5h4M402 317.5h2M410 317.5h4M418 317.5h2M426 317.5h6M436 317.5h4M626 317.5h2M568 352.5h4M578 352.5h4M148 369.5h2M152 369.5h2M458 369.5h8M472 369.5h4M478 369.5h2M546 369.5h2M550 369.5h2M560 369.5h2M566 369.5h6M578 369.5h2M676 369.5h2M160 386.5h6M168 386.5h10M182 386.5h2M190 386.5h2M196 386.5h2M204 386.5h2M218 386.5h4M224 386.5h10M240 386.5h2M246 386.5h6M262 386.5h2M272 386.5h2M280 386.5h4M286 386.5h2M300 386.5h8M312 386.5h2M320 386.5h12M334 386.5h6M342 386.5h2M352 386.5h4M526 386.5h2M664 386.5h2M612 403.5h4M716 403.5h4M46 455.5h2M120 455.5h2"/>
<path stroke="#f9e71e" d="M528 60.5h4M32 128.5h2M554 128.5h2M2 197.5h2M384 197.5h2M110 231.5h2M563 266.5h1M566 266.5h1M544 283.5h2M530 352.5h2M236 369.5h4M646 369.5h4M654 369.5h2M538 386.5h4M594 386.5h6M570 403.5h2M320 455.5h4"/>
<path stroke="#f75912" d="M546 60.5h4M539 266.5h1M534 352.5h6M114 369.5h2M530 369.5h4M580 386.5h2M590 386.5h2M542 455.5h2M692 455.5h2"/>
<path stroke="#feb714" d="M550 60.5h2M36 128.5h2M550 128.5h2M542 197.5h4M550 197.5h2M144 231.5h2M512 369.5h2M308 455.5h2"/>
<path stroke="#dae73a" d="M554 60.5h6M149 77.5h1M161 77.5h1M172 77.5h1M174 77.5h1M177 77.5h2M183 77.5h2M189 77.5h2M249 77.5h2M254 77.5h1M259 77.5h1M263 77.5h3M268 77.5h1M273 77.5h1M384 77.5h1M387 77.5h1M389 77.5h1M391 77.5h2M556 77.5h1M560 77.5h1M538 231.5h2M569 266.5h1M550 352.5h6M558 352.5h2M564 352.5h2M68 369.5h2M74 369.5h2M188 369.5h8M214 369.5h4M220 369.5h2M508 369.5h4M542 386.5h2M546 386.5h4M602 386.5h2M534 472.5h4"/>
<path stroke="#b4e06e" d="M562 60.5h2M568 60.5h2M576 60.5h2M59 77.5h1M68 77.5h1M74 77.5h1M79 77.5h1M82 77.5h1M87 77.5h1M93 77.5h1M95 77.5h1M98 77.5h1M101 77.5h1M104 77.5h1M107 77.5h1M113 77.5h2M117 77.5h1M120 77.5h1M122 77.5h2M125 77.5h1M131 77.5h1M133 77.5h1M138 77.5h3M144 77.5h1M147 77.5h2M150 77.5h4M157 77.5h1M168 77.5h1M203 77.5h1M205 77.5h2M214 77.5h1M218 77.5h2M223 77.5h1M225 77.5h1M227 77.5h2M235 77.5h1M257 77.5h1M282 77.5h1M285 77.5h1M291 77.5h1M493 77.5h1M506 77.5h2M522 77.5h2M528 77.5h1M532 77.5h1M537 77.5h1M542 77.5h1M567 77.5h2M26 128.5h2M104 214.5h2M148 231.5h2M152 231.5h4M162 231.5h2M370 231.5h2M540 231.5h4M546 231.5h6M554 231.5h4M560 231.5h2M564 231.5h2M568 231.5h2M572 231.5h4M578 231.5h2M584 231.5h4M590 231.5h2M594 231.5h2M600 231.5h4M606 231.5h6M616 231.5h2M620 231.5h4M632 231.5h2M642 231.5h6M650 231.5h2M654 231.5h2M658 231.5h10M670 231.5h4M676 231.5h4M682 231.5h4M694 231.5h2M698 231.5h4M710 231.5h2M714 231.5h2M547 266.5h2M551 266.5h3M554 283.5h2M117 369.5h1M160 369.5h6M170 369.5h2M174 369.5h2M230 369.5h4M246 369.5h2M294 369.5h2M392 369.5h2M408 369.5h2M412 369.5h6M422 369.5h4M430 369.5h8M444 369.5h2M520 369.5h2M524 369.5h4M542 369.5h2M628 369.5h2M574 403.5h2M594 403.5h2M132 420.5h2"/>
<path stroke="#8ed7d1" d="M7 77.5h1M23 77.5h1M42 77.5h1M45 77.5h1M50 77.5h2M415 77.5h1M417 77.5h1M425 77.5h1M575 77.5h1M655 77.5h1M667 77.5h1M669 77.5h1M198 94.5h4M532 163.5h2M2 180.5h1M9 180.5h1M13 180.5h1M17 180.5h1M436 197.5h4M172 231.5h2M178 231.5h2M182 231.5h2M186 231.5h6M234 231.5h2M238 231.5h2M290 231.5h2M298 231.5h2M302 231.5h2M306 231.5h2M310 231.5h4M322 231.5h2M326 231.5h8M340 231.5h2M344 231.5h2M352 231.5h4M384 231.5h6M394 231.5h4M412 231.5h6M420 231.5h2M424 231.5h6M434 231.5h2M3 266.5h1M528 266.5h1M530 266.5h1M572 266.5h1M577 266.5h1M200 283.5h2M282 283.5h2M76 300.5h2M84 300.5h4M92 300.5h6M104 300.5h2M108 300.5h2M118 300.5h2M126 300.5h8M138 300.5h12M156 300.5h4M186 300.5h6M194 300.5h2M204 300.5h2M210 300.5h2M214 300.5h2M220 300.5h8M230 300.5h2M234 300.5h2M240 300.5h2M244 300.5h2M252 300.5h2M256 300.5h4M264 300.5h2M274 300.5h4M282 300.5h2M286 300.5h10M300 300.5h4M306 300.5h2M310 300.5h2M316 300.5h2M320 300.5h4M328 300.5h2M334 300.5h2M344 300.5h6M354 300.5h2M358 300.5h2M200 317.5h2M206 317.5h4M220 317.5h4M226 317.5h2M232 317.5h2M238 317.5h6M246 317.5h2M254 317.5h2M264 317.5h2M268 317.5h2M272 317.5h4M278 317.5h4M284 317.5h4M292 317.5h6M302 317.5h4M308 317.5h2M314 317.5h4M320 317.5h2M324 317.5h4M334 317.5h6M346 317.5h4M352 317.5h4M364 317.5h2M388 317.5h2M394 317.5h2M406 317.5h2M420 317.5h2M434 317.5h2M574 352.5h2M582 352.5h2M16 369.5h2M20 369.5h2M26 369.5h2M150 369.5h2M470 369.5h2M548 369.5h2M552 369.5h2M556 369.5h4M564 369.5h2M572 369.5h6M580 369.5h6M588 369.5h2M596 369.5h8M608 369.5h10M622 369.5h6M690 369.5h2M694 369.5h2M166 386.5h2M180 386.5h2M186 386.5h4M198 386.5h6M208 386.5h4M214 386.5h4M236 386.5h4M242 386.5h4M296 386.5h4M308 386.5h2M314 386.5h2M346 386.5h6M356 386.5h2M442 386.5h2M450 386.5h2M486 386.5h2M520 386.5h2M524 386.5h2M658 386.5h4M666 386.5h2M670 386.5h4M520 403.5h4M600 403.5h4M606 403.5h2M610 403.5h2M704 403.5h2M708 403.5h6M550 420.5h2M42 455.5h2M48 455.5h4M74 455.5h2M26 472.5h2"/>
<path stroke="#d0e546" d="M76 77.5h1M86 77.5h1M100 77.5h1M102 77.5h1M106 77.5h1M110 77.5h1M116 77.5h1M118 77.5h1M121 77.5h1M132 77.5h1M136 77.5h1M146 77.5h1M155 77.5h1M163 77.5h2M169 77.5h1M173 77.5h1M175 77.5h2M182 77.5h1M191 77.5h2M195 77.5h1M201 77.5h1M204 77.5h1M216 77.5h1M224 77.5h1M232 77.5h2M240 77.5h1M243 77.5h2M246 77.5h2M252 77.5h1M256 77.5h1M270 77.5h1M274 77.5h1M280 77.5h1M283 77.5h1M289 77.5h2M294 77.5h1M390 77.5h1M394 77.5h2M553 77.5h1M562 77.5h1M496 197.5h2M96 214.5h2M114 231.5h6M122 231.5h4M156 231.5h2M568 266.5h1M566 352.5h2M70 369.5h2M82 369.5h2M182 369.5h2M208 369.5h2M212 369.5h2M218 369.5h2M224 369.5h4M402 369.5h2M528 386.5h2M532 386.5h2M604 386.5h4M526 403.5h2M538 472.5h2"/>
<path stroke="#e6e92f" d="M92 77.5h1M165 77.5h1M170 77.5h2M181 77.5h1M185 77.5h1M193 77.5h1M197 77.5h1M199 77.5h1M236 77.5h1M238 77.5h1M241 77.5h1M255 77.5h1M258 77.5h1M260 77.5h3M267 77.5h1M276 77.5h2M279 77.5h1M554 77.5h2M559 77.5h1M552 128.5h2M158 231.5h2M536 231.5h2M564 266.5h2M538 283.5h4M222 369.5h2M666 369.5h2M670 369.5h2M544 386.5h2"/>
<path stroke="#ef370e" d="M544 128.5h4M532 231.5h2M534 266.5h1M538 266.5h1M658 369.5h4M560 386.5h4"/>
<path stroke="#d52008" d="M386 197.5h2M638 369.5h2M564 386.5h2"/>
<path stroke="#c41706" d="M546 197.5h2M98 231.5h2M556 386.5h2"/>
<path stroke="#b01204" d="M96 231.5h2"/>
<path stroke="#9a1003" d="M558 386.5h2"/>
</g>
<g stroke-width="18.00">
<path stroke="#93d8c3" d="M0 43h2M18 146h1M165 146h1M176 146h1M190 146h2M195 146h1M198 146h1M204 146h1M245 146h1M265 146h1M546 146h1M548 146h1M42 249h2M45 249h1M59 249h1M28 335h8M38 335h2M44 335h2M108 335h2M204 335h4M346 335h2M352 335h2M358 335h2M538 335h2M528 438h2"/>
<path stroke="#9fdc9f" d="M2 43h2M539 146h1M48 249h1M77 249h1M85 249h1M56 335h4M64 335h6M74 335h10M86 335h2M92 335h4M344 335h2M354 335h4M588 335h4M596 335h2M600 335h6M290 438h4"/>
<path stroke="#7ccce6" d="M4 43h2M8 43h4M0 146h1M2 146h1M10 146h1M17 146h1M28 146h1M31 146h2M34 146h1M157 146h1M181 146h2M208 146h2M213 146h1M215 146h2M218 146h1M220 146h1M234 146h1M242 146h2M246 146h1M256 146h1M260 146h1M262 146h1M268 146h1M272 146h1M283 146h1M287 146h1M304 146h2M308 146h1M317 146h1M320 146h2M346 146h1M377 146h1M383 146h1M385 146h1M397 146h1M404 146h1M406 146h1M414 146h1M417 146h1M422 146h1M426 146h1M432 146h1M442 146h1M457 146h1M464 146h1M472 146h1M476 146h1M486 146h1M490 146h1M542 146h2M552 146h1M555 146h1M4 249h1M6 249h3M11 249h1M20 249h2M24 249h1M27 249h1M31 249h1M35 249h2M38 249h1M93 249h3M99 249h1M107 249h1M376 249h2M435 249h1M457 249h1M461 249h1M536 249h1M538 249h2M541 249h2M547 249h1M572 249h1M0 335h2M4 335h2M8 335h2M16 335h2M24 335h4M210 335h6M398 335h2M2 438h6M12 438h2M18 438h2M22 438h2M30 438h2M36 438h2"/>
<path stroke="#82d0e0" d="M6 43h2M3 146h1M9 146h1M11 146h1M16 146h1M21 146h1M25 146h1M35 146h1M128 146h2M156 146h1M164 146h1M168 146h1M172 146h2M177 146h1M185 146h1M188 146h1M199 146h2M207 146h1M224 146h1M228 146h3M233 146h1M235 146h1M237 146h1M240 146h2M249 146h2M259 146h1M271 146h1M274 146h2M277 146h2M286 146h1M298 146h1M303 146h1M313 146h2M326 146h1M331 146h2M336 146h1M339 146h1M342 146h1M347 146h1M349 146h1M352 146h2M356 146h1M359 146h1M375 146h1M410 146h1M497 146h1M514 146h1M540 146h1M545 146h1M547 146h1M558 146h1M589 146h1M1 249h1M3 249h1M5 249h1M10 249h1M13 249h1M22 249h2M28 249h3M32 249h2M39 249h1M57 249h1M90 249h1M96 249h1M102 249h2M105 249h1M108 249h1M114 249h1M433 249h1M456 249h1M543 249h1M577 249h1M2 335h2M10 335h2M18 335h2M208 335h2M372 335h2M376 335h2M380 335h2M392 335h2M408 335h2M412 335h2M418 335h2M534 335h2M612 335h4M8 438h2M16 438h2M28 438h2M38 438h2M268 438h4"/>
<path stroke="#3e4fad" d="M12 43h2M22 43h2M26 43h2M548 43h2M552 43h2M117 249h2M125 249h1M128 249h1M130 249h1M132 249h1M135 249h1M137 249h3M141 249h1M145 249h1M151 249h1M161 249h1M169 249h1M172 249h1M178 249h1M181 249h1M191 249h1M194 249h2M200 249h1M208 249h1M210 249h1M219 249h3M223 249h1M229 249h2M237 249h1M242 249h1M255 249h2M262 249h1M264 249h1M267 249h3M274 249h2M280 249h1M284 249h1M290 249h1M295 249h1M297 249h1M301 249h1M303 249h1M309 249h1M311 249h1M316 249h1M318 249h2M329 249h1M331 249h1M334 249h2M341 249h1M350 249h1M353 249h1M359 249h1M368 249h1M370 249h1M381 249h1M390 249h1M393 249h1M395 249h1M407 249h1M413 249h2M468 249h1M471 249h1M475 249h1M477 249h1M479 249h1M489 249h1M495 249h1M499 249h1M502 249h1M509 249h2M522 249h2M526 249h2M562 249h1M256 335h2M270 335h2M282 335h2M294 335h2M304 335h8M322 335h2M326 335h2M332 335h2M432 335h4M636 335h2M154 438h2M180 438h2M184 438h2M198 438h2M210 438h2M256 438h2M304 438h2M314 438h2M322 438h4M330 438h4M336 438h2M342 438h2M358 438h2M364 438h2M376 438h2M388 438h2M392 438h2M416 438h2M428 438h2M434 438h4M456 438h2M464 438h4M470 438h4M478 438h2M484 438h2M516 438h2M566 438h4M574 438h2M578 438h2M582 438h2M586 438h2M590 438h2M594 438h4M602 438h4M612 438h6M624 438h2M634 438h2M646 438h2M658 438h2M662 438h4M668 438h2M674 438h2M686 438h2M692 438h6M702 438h2M708 438h4M714 438h2"/>
<path stroke="#425ab3" d="M14 43h8M24 43h2M28 43h2M550 43h2M554 43h2M46 146h1M120 249h1M131 249h1M136 249h1M140 249h1M142 249h1M146 249h1M148 249h1M153 249h1M156 249h3M166 249h2M176 249h1M180 249h1M183 249h1M199 249h1M202 249h1M211 249h1M217 249h1M222 249h1M224 249h1M226 249h1M232 249h1M239 249h2M250 249h1M271 249h1M278 249h1M285 249h1M288 249h1M293 249h1M299 249h1M305 249h2M312 249h1M314 249h1M317 249h1M322 249h1M324 249h1M326 249h2M338 249h1M340 249h1M343 249h2M348 249h2M352 249h1M354 249h2M358 249h1M362 249h1M369 249h1M424 249h1M470 249h1M500 249h1M507 249h1M512 249h1M515 249h2M520 249h1M216 335h2M220 335h2M232 335h2M242 335h2M258 335h2M124 438h2M132 438h2M138 438h2M146 438h2M150 438h4M156 438h4M164 438h2M168 438h4M192 438h2M200 438h2M204 438h6M220 438h2M226 438h2M230 438h4M238 438h6M248 438h2M252 438h4M328 438h2M340 438h2M344 438h2M382 438h2M412 438h2M420 438h4M642 438h2M654 438h2"/>
<path stroke="#4764b8" d="M30 43h2M148 146h1M116 249h1M126 249h1M134 249h1M143 249h1M147 249h1M152 249h1M159 249h1M164 249h2M168 249h1M170 249h1M174 249h1M179 249h1M185 249h1M187 249h2M190 249h1M193 249h1M196 249h2M207 249h1M212 249h3M218 249h1M227 249h1M231 249h1M233 249h2M236 249h1M245 249h1M247 249h1M253 249h1M259 249h2M266 249h1M273 249h1M281 249h3M287 249h1M289 249h1M294 249h1M296 249h1M302 249h1M307 249h2M310 249h1M315 249h1M325 249h1M328 249h1M330 249h1M332 249h1M336 249h1M346 249h1M511 249h1M218 335h2M222 335h2M226 335h6M234 335h6M422 335h2M126 438h6M136 438h2M140 438h4M148 438h2M174 438h6M186 438h6M202 438h2M212 438h4M218 438h2M222 438h4M228 438h2M236 438h2M244 438h4M258 438h2"/>
<path stroke="#73bce0" d="M32 43h6M540 43h2M1 146h1M7 146h1M13 146h1M15 146h1M22 146h2M26 146h2M29 146h1M33 146h1M155 146h1M158 146h1M160 146h1M163 146h1M212 146h1M222 146h1M225 146h1M244 146h1M251 146h1M254 146h1M261 146h1M269 146h1M280 146h1M282 146h1M285 146h1M293 146h1M299 146h1M306 146h1M311 146h1M315 146h1M322 146h2M325 146h1M327 146h2M334 146h1M337 146h1M345 146h1M348 146h1M350 146h1M354 146h1M362 146h2M371 146h1M384 146h1M390 146h1M394 146h1M398 146h1M403 146h1M413 146h1M435 146h1M439 146h1M458 146h1M460 146h1M473 146h1M475 146h1M481 146h2M484 146h1M489 146h1M493 146h2M498 146h2M509 146h1M511 146h2M515 146h2M519 146h2M549 146h1M560 146h1M570 146h2M580 146h1M593 146h1M14 249h2M25 249h1M97 249h1M113 249h1M115 249h1M364 249h1M378 249h1M432 249h1M436 249h1M533 249h1M537 249h1M540 249h1M544 249h1M549 249h1M6 335h2M12 335h4M20 335h4M610 335h2M10 438h2M14 438h2M24 438h4M32 438h4M264 438h2M552 438h4"/>
<path stroke="#619dd4" d="M38 43h2M542 43h2M231 146h1M273 146h1M279 146h1M281 146h1M284 146h1M294 146h2M297 146h1M302 146h1M312 146h1M335 146h1M338 146h1M360 146h2M364 146h1M366 146h1M373 146h2M378 146h1M380 146h1M391 146h1M399 146h2M408 146h1M411 146h1M425 146h1M428 146h1M434 146h1M436 146h1M443 146h1M446 146h1M451 146h1M453 146h1M459 146h1M465 146h3M470 146h2M479 146h1M488 146h1M496 146h1M500 146h1M503 146h1M505 146h1M507 146h1M517 146h1M521 146h1M563 146h1M574 146h2M577 146h1M584 146h1M587 146h1M596 146h2M109 249h1M366 249h2M437 249h1M535 249h1M546 249h1M550 249h1M42 438h2M54 438h2M68 438h2M72 438h6M260 438h2M266 438h2M558 438h2"/>
<path stroke="#1a1688" d="M40 43h2M64 43h2M80 43h2M108 43h2M122 43h2M130 43h2M134 43h10M609 146h1M618 146h1M629 146h1M655 146h3M659 146h1M661 146h1M671 146h2M686 146h2M699 146h1M702 146h3M711 146h1M717 146h1M401 249h1M585 249h1M587 249h1M590 249h1M610 249h1M612 249h1M616 249h1M620 249h3M625 249h1M628 249h2M631 249h1M636 249h1M639 249h1M644 249h2M651 249h1M656 249h2M664 249h1M666 249h1M671 249h2M680 249h1M683 249h1M690 249h1M692 249h1M700 249h1M702 249h1M708 249h1M446 335h2M450 335h2M652 335h2M658 335h2M666 335h2M696 335h4M706 335h4M716 335h2M490 438h2M496 438h6M510 438h2"/>
<path stroke="#201b90" d="M42 43h2M46 43h2M50 43h2M54 43h2M70 43h2M76 43h4M84 43h2M88 43h2M94 43h2M98 43h2M106 43h2M110 43h6M120 43h2M124 43h2M128 43h2M132 43h2M144 43h2M562 43h4M45 146h1M608 146h1M615 146h1M619 146h1M621 146h2M628 146h1M631 146h3M638 146h1M649 146h1M653 146h2M658 146h1M662 146h1M669 146h2M679 146h1M684 146h1M690 146h1M700 146h1M707 146h1M399 249h1M583 249h1M588 249h1M594 249h1M604 249h6M613 249h1M627 249h1M630 249h1M635 249h1M643 249h1M648 249h1M652 249h1M654 249h1M658 249h1M669 249h1M679 249h1M691 249h1M694 249h2M697 249h2M704 249h1M710 249h1M713 249h2M719 249h1M444 335h2M448 335h2M702 335h2M710 335h6M718 335h2M488 438h2M504 438h2"/>
<path stroke="#2d2d9d" d="M44 43h2M58 43h2M66 43h2M116 43h2M44 146h1M50 146h1M604 146h1M607 146h1M613 146h1M623 146h2M637 146h1M640 146h5M648 146h1M650 146h1M248 249h1M291 249h1M372 249h4M383 249h1M386 249h1M392 249h1M394 249h1M402 249h1M405 249h1M409 249h1M412 249h1M422 249h2M428 249h1M439 249h1M441 249h2M445 249h1M447 249h1M466 249h2M474 249h1M481 249h1M487 249h1M497 249h1M503 249h1M517 249h1M525 249h1M531 249h1M555 249h1M563 249h1M578 249h1M603 249h1M618 249h1M626 249h1M641 249h1M647 249h1M653 249h1M660 249h1M440 335h2M620 335h6M640 335h2M648 335h4M682 335h2M688 335h2M100 438h2M110 438h2M116 438h2M120 438h4"/>
<path stroke="#262298" d="M48 43h2M52 43h2M56 43h2M60 43h4M68 43h2M72 43h4M82 43h2M86 43h2M90 43h4M96 43h2M100 43h6M118 43h2M126 43h2M556 43h6M605 146h1M611 146h2M625 146h1M627 146h1M634 146h1M646 146h2M652 146h1M664 146h2M667 146h1M673 146h1M677 146h1M683 146h1M692 146h1M696 146h1M701 146h1M705 146h1M716 146h1M718 146h1M388 249h1M396 249h1M404 249h1M406 249h1M419 249h1M425 249h1M430 249h1M443 249h1M449 249h3M518 249h1M567 249h2M580 249h3M589 249h1M592 249h2M595 249h1M601 249h1M614 249h1M617 249h1M623 249h2M633 249h2M638 249h1M642 249h1M649 249h1M655 249h1M659 249h1M663 249h1M706 249h2M715 249h1M442 335h2M626 335h2M692 335h2"/>
<path stroke="#141080" d="M146 43h2M636 146h1M674 146h2M678 146h1M681 146h1M685 146h1M689 146h1M691 146h1M694 146h1M697 146h1M710 146h1M719 146h1M398 249h1M400 249h1M591 249h1M597 249h4M602 249h1M611 249h1M615 249h1M619 249h1M632 249h1M637 249h1M640 249h1M646 249h1M668 249h1M670 249h1M673 249h2M676 249h1M678 249h1M681 249h1M684 249h1M689 249h1M693 249h1M701 249h1M703 249h1M709 249h1M711 249h1M654 335h4M660 335h2M664 335h2M668 335h2M672 335h6M700 335h2M704 335h2M492 438h4M506 438h4M512 438h2"/>
<path stroke="#0f0c77" d="M148 43h82M232 43h54M288 43h114M404 43h10M416 43h16M434 43h44M480 43h12M494 43h28M566 43h46M614 43h60M676 43h4M682 43h38M53 146h2M58 146h4M63 146h1M69 146h1M72 146h2M76 146h3M86 146h2M98 146h1M101 146h3M105 146h6M113 146h2M117 146h1M119 146h2M126 146h2M139 146h1M141 146h1M143 146h1M147 146h1M452 335h36M490 335h38M530 335h2"/>
<path stroke="#0f0c78" d="M230 43h2M414 43h2M478 43h2M612 43h2M674 43h2M680 43h2M52 146h1M55 146h1M65 146h1M67 146h2M70 146h1M74 146h1M80 146h3M85 146h1M90 146h1M111 146h1M115 146h2M118 146h1M124 146h1M132 146h1M134 146h3M138 146h1M140 146h1M142 146h1M145 146h2M528 335h2"/>
<path stroke="#0f0c76" d="M286 43h2M402 43h2M432 43h2M492 43h2M56 146h1M57 146h1M62 146h1M64 146h1M66 146h1M71 146h1M75 146h1M79 146h1M83 146h2M88 146h2M91 146h7M99 146h1M104 146h1M112 146h1M121 146h1M123 146h1M125 146h1M133 146h1M137 146h1M144 146h1M488 335h2"/>
<path stroke="#e6290b" d="M522 43h4"/>
<path stroke="#f34810" d="M526 43h2"/>
<path stroke="#f75912" d="M528 43h2M544 438h2"/>
<path stroke="#feb714" d="M530 43h2M531 146h2M276 438h2"/>
<path stroke="#fece14" d="M532 43h2M568 335h2M274 438h2M278 438h2"/>
<path stroke="#b4e06e" d="M534 43h2M538 43h2M535 146h1M68 249h1M72 249h1M81 249h1M84 249h1M128 335h2M134 335h2M186 335h2M582 335h2"/>
<path stroke="#c6e453" d="M536 43h2M122 335h2M132 335h2M164 335h10M176 335h2M184 335h2M190 335h2M196 335h8M536 438h4"/>
<path stroke="#6aadda" d="M544 43h4M5 146h1M8 146h1M12 146h1M30 146h1M36 146h1M38 146h2M130 146h1M154 146h1M179 146h1M217 146h1M288 146h1M290 146h3M296 146h1M300 146h1M307 146h1M310 146h1M318 146h2M329 146h2M333 146h1M340 146h2M343 146h2M351 146h1M355 146h1M357 146h2M365 146h1M368 146h1M376 146h1M379 146h1M382 146h1M387 146h2M392 146h1M395 146h1M401 146h1M407 146h1M419 146h1M423 146h2M427 146h1M429 146h1M431 146h1M433 146h1M437 146h2M441 146h1M448 146h1M450 146h1M452 146h1M455 146h1M461 146h2M469 146h1M477 146h2M480 146h1M483 146h1M485 146h1M491 146h1M495 146h1M502 146h1M510 146h1M518 146h1M557 146h1M562 146h1M568 146h2M576 146h1M578 146h2M581 146h2M588 146h1M590 146h1M598 146h1M600 146h2M603 146h1M9 249h1M111 249h1M460 249h1M532 249h1M534 249h1M545 249h1M548 249h1M553 249h1M558 249h1M560 249h2M342 335h2M608 335h2M628 335h6M0 438h2M40 438h2M46 438h2M52 438h2M56 438h12M70 438h2"/>
<path stroke="#88d4da" d="M4 146h1M14 146h1M19 146h2M24 146h1M37 146h1M131 146h1M159 146h1M166 146h1M170 146h2M174 146h1M178 146h1M183 146h1M189 146h1M194 146h1M203 146h1M206 146h1M214 146h1M221 146h1M226 146h1M232 146h1M236 146h1M239 146h1M247 146h2M253 146h1M257 146h1M263 146h2M267 146h1M270 146h1M289 146h1M301 146h1M309 146h1M324 146h1M541 146h1M544 146h1M554 146h1M0 249h1M2 249h1M12 249h1M16 249h2M19 249h1M34 249h1M37 249h1M46 249h1M58 249h1M60 249h1M62 249h1M64 249h2M67 249h1M91 249h1M98 249h1M106 249h1M110 249h1M112 249h1M379 249h1M434 249h1M458 249h2M573 249h2M576 249h1M100 335h2M110 335h4M116 335h2M360 335h12M374 335h2M378 335h2M384 335h8M394 335h2M400 335h4M406 335h2M410 335h2M414 335h4M424 335h6M536 335h2M20 438h2M272 438h2"/>
<path stroke="#5a8ecd" d="M6 146h1M369 146h2M372 146h1M381 146h1M386 146h1M389 146h1M393 146h1M396 146h1M402 146h1M412 146h1M416 146h1M418 146h1M420 146h2M430 146h1M440 146h1M444 146h2M447 146h1M449 146h1M454 146h1M463 146h1M474 146h1M487 146h1M501 146h1M506 146h1M508 146h1M513 146h1M559 146h1M561 146h1M565 146h3M572 146h2M583 146h1M585 146h1M551 249h2M559 249h1M340 335h2M618 335h2M44 438h2M50 438h2M78 438h2M88 438h2M98 438h2M262 438h2M522 438h2"/>
<path stroke="#3a44a8" d="M40 146h1M43 146h1M48 146h1M606 146h1M639 146h1M645 146h1M121 249h2M124 249h1M127 249h1M129 249h1M133 249h1M144 249h1M149 249h2M154 249h2M160 249h1M173 249h1M175 249h1M189 249h1M198 249h1M201 249h1M203 249h2M206 249h1M209 249h1M215 249h1M225 249h1M228 249h1M235 249h1M241 249h1M244 249h1M246 249h1M251 249h2M254 249h1M257 249h2M265 249h1M270 249h1M272 249h1M276 249h2M279 249h1M286 249h1M292 249h1M298 249h1M300 249h1M304 249h1M320 249h1M323 249h1M333 249h1M339 249h1M342 249h1M347 249h1M351 249h1M356 249h2M360 249h2M363 249h1M387 249h1M389 249h1M410 249h1M415 249h4M420 249h2M429 249h1M438 249h1M440 249h1M469 249h1M473 249h1M476 249h1M478 249h1M483 249h1M486 249h1M490 249h1M492 249h1M498 249h1M501 249h1M506 249h1M508 249h1M514 249h1M519 249h1M521 249h1M524 249h1M529 249h1M554 249h1M569 249h3M250 335h2M254 335h2M260 335h4M266 335h4M272 335h2M276 335h6M284 335h8M300 335h2M312 335h2M316 335h2M324 335h2M328 335h4M334 335h6M430 335h2M436 335h4M634 335h2M638 335h2M686 335h2M104 438h2M112 438h4M118 438h2M294 438h2M298 438h6M308 438h6M318 438h4M326 438h2M334 438h2M338 438h2M346 438h2M352 438h2M356 438h2M360 438h4M366 438h2M370 438h2M374 438h2M380 438h2M384 438h2M390 438h2M396 438h8M406 438h2M414 438h2M418 438h2M424 438h4M430 438h2M440 438h2M444 438h2M454 438h2M458 438h2M462 438h2M474 438h2M486 438h2M514 438h2M518 438h2M562 438h4M570 438h2M576 438h2M580 438h2M588 438h2M592 438h2M598 438h4M610 438h2M618 438h2M622 438h2M626 438h2M630 438h4M638 438h2M644 438h2M656 438h2M660 438h2M666 438h2M670 438h2M678 438h2M682 438h4M688 438h2M698 438h2M704 438h2M712 438h2"/>
<path stroke="#3339a3" d="M41 146h2M47 146h1M49 146h1M51 146h1M610 146h1M614 146h1M616 146h2M620 146h1M626 146h1M630 146h1M635 146h1M651 146h1M698 146h1M163 249h1M238 249h1M337 249h1M371 249h1M380 249h1M382 249h1M384 249h2M391 249h1M408 249h1M411 249h1M426 249h2M431 249h1M444 249h1M446 249h1M448 249h1M472 249h1M480 249h1M482 249h1M484 249h2M488 249h1M491 249h1M493 249h2M496 249h1M504 249h2M513 249h1M528 249h1M530 249h1M556 249h2M564 249h3M579 249h1M650 249h1M661 249h2M244 335h6M252 335h2M264 335h2M274 335h2M292 335h2M296 335h4M302 335h2M314 335h2M318 335h4M642 335h6M680 335h2M684 335h2M690 335h2M694 335h2M102 438h2M106 438h4M296 438h2M306 438h2M316 438h2M348 438h4M354 438h2M368 438h2M372 438h2M378 438h2M386 438h2M394 438h2M404 438h2M408 438h4M432 438h2M438 438h2M442 438h2M446 438h8M460 438h2M468 438h2M476 438h2M480 438h4M560 438h2M572 438h2M584 438h2M606 438h4M620 438h2M628 438h2M636 438h2M640 438h2M648 438h6M672 438h2M676 438h2M680 438h2M690 438h2M700 438h2M706 438h2M716 438h4"/>
<path stroke="#100d79" d="M100 146h1M122 146h1M682 146h1M665 249h1M682 249h1M696 249h1M699 249h1"/>
<path stroke="#4c72bf" d="M149 146h1M151 146h1M367 146h1M456 146h1M556 146h1M594 146h1M123 249h1M162 249h1M177 249h1M182 249h1M184 249h1M186 249h1M192 249h1M205 249h1M216 249h1M243 249h1M261 249h1M263 249h1M313 249h1M321 249h1M345 249h1M224 335h2M240 335h2M420 335h2M616 335h2M80 438h6M90 438h4M134 438h2M144 438h2M160 438h4M166 438h2M172 438h2M182 438h2M194 438h4M216 438h2M250 438h2M526 438h2M556 438h2"/>
<path stroke="#5380c6" d="M150 146h1M276 146h1M405 146h1M409 146h1M415 146h1M468 146h1M492 146h1M504 146h1M564 146h1M586 146h1M591 146h2M595 146h1M599 146h1M602 146h1M119 249h1M171 249h1M249 249h1M365 249h1M48 438h2M86 438h2M94 438h4M234 438h2M520 438h2M524 438h2"/>
<path stroke="#8ed7d1" d="M152 146h2M161 146h2M167 146h1M169 146h1M175 146h1M180 146h1M184 146h1M186 146h2M192 146h2M210 146h2M219 146h1M223 146h1M227 146h1M238 146h1M252 146h1M255 146h1M258 146h1M266 146h1M316 146h1M550 146h2M553 146h1M18 249h1M26 249h1M47 249h1M63 249h1M66 249h1M88 249h2M92 249h1M100 249h2M104 249h1M575 249h1M40 335h4M48 335h4M102 335h6M114 335h2M118 335h2M382 335h2M396 335h2M404 335h2M532 335h2M530 438h2"/>
<path stroke="#98dab4" d="M196 146h2M201 146h1M205 146h1M536 146h2M40 249h2M44 249h1M53 249h1M56 249h1M61 249h1M87 249h1M36 335h2M46 335h2M54 335h2M60 335h2M70 335h2M84 335h2M88 335h2M348 335h4M594 335h2M598 335h2M606 335h2"/>
<path stroke="#a6dd8b" d="M202 146h1M70 249h2M75 249h1M82 249h2M86 249h1M52 335h2M72 335h2M90 335h2M96 335h4M592 335h2"/>
<path stroke="#fda014" d="M522 146h2M525 146h3M529 146h2M453 249h1M455 249h1"/>
<path stroke="#fc8e14" d="M524 146h1M454 249h1"/>
<path stroke="#fa6a14" d="M528 146h1"/>
<path stroke="#fdde18" d="M533 146h1M464 249h1M556 335h2M560 335h2M566 335h2M540 438h4"/>
<path stroke="#addf7b" d="M534 146h1M538 146h1M49 249h1M51 249h2M54 249h1M74 249h1M76 249h1M78 249h1M80 249h1M62 335h2M580 335h2M584 335h4"/>
<path stroke="#100d7a" d="M660 146h1M663 146h1M666 146h1M668 146h1M676 146h1M680 146h1M688 146h1M693 146h1M695 146h1M706 146h1M708 146h2M712 146h4M397 249h1M403 249h1M584 249h1M586 249h1M596 249h1M667 249h1M675 249h1M677 249h1M685 249h4M705 249h1M712 249h1M716 249h3M662 335h2M670 335h2M678 335h2M502 438h2"/>
<path stroke="#bce260" d="M50 249h1M55 249h1M69 249h1M73 249h1M79 249h1M120 335h2M124 335h4M130 335h2M178 335h4M188 335h2M192 335h4M552 335h4M574 335h2M532 438h2"/>
<path stroke="#fb7c14" d="M452 249h1"/>
<path stroke="#f9e71e" d="M462 249h1M558 335h2M562 335h4"/>
<path stroke="#f2eb24" d="M463 249h1M138 335h6M146 335h4M570 335h2M548 438h2"/>
<path stroke="#e6e92f" d="M465 249h1M136 335h2M144 335h2M150 335h6M280 438h10M550 438h2"/>
<path stroke="#dae73a" d="M156 335h4M578 335h2"/>
<path stroke="#d0e546" d="M160 335h4M174 335h2M182 335h2M572 335h2M576 335h2M534 438h2"/>
<path stroke="#6e0c00" d="M540 335h2M542 335h10"/>
<path stroke="#ef370e" d="M546 438h2"/>
</g>
</svg>
<g stroke="#10131a" stroke-width="1" fill="none">
<line x1="235.6" y1="926.0" x2="235.6" y2="1407.0" opacity="0.65"/>
<line x1="766.5" y1="926.0" x2="766.5" y2="1407.0" opacity="0.65"/>
<path d="M279.8,926.0v8M279.8,1407.0v-8M324.1,926.0v8M324.1,1407.0v-8M368.3,926.0v8M368.3,1407.0v-8M412.6,926.0v8M412.6,1407.0v-8M456.8,926.0v8M456.8,1407.0v-8M501.1,926.0v8M501.1,1407.0v-8M545.3,926.0v8M545.3,1407.0v-8M589.5,926.0v8M589.5,1407.0v-8M633.8,926.0v8M633.8,1407.0v-8M678.0,926.0v8M678.0,1407.0v-8M722.3,926.0v8M722.3,1407.0v-8M810.8,926.0v8M810.8,1407.0v-8M855.0,926.0v8M855.0,1407.0v-8M899.3,926.0v8M899.3,1407.0v-8M943.5,926.0v8M943.5,1407.0v-8M191.3,1003.3h8M987.8,1003.3h-8M191.3,1089.2h8M987.8,1089.2h-8M191.3,1175.1h8M987.8,1175.1h-8M191.3,1261.0h8M987.8,1261.0h-8M191.3,1346.9h8M987.8,1346.9h-8"/>
<rect x="191.3" y="926.0" width="796.5" height="481.0" stroke-width="1.1" opacity="0.85"/>
</g>
<svg x="191.3" y="1453.0" width="796.5" height="445.0" viewBox="0 0 720.0 445.00" preserveAspectRatio="none" shape-rendering="crispEdges" fill="none">
<g stroke-width="16.00">
<path stroke="#82d0e0" d="M0 8h4M6 8h6M20 8h2M26 8h2M34 8h2M40 8h8M50 8h4M56 8h2M62 8h2M66 8h2M74 8h2M80 8h4M86 8h4M100 8h4M108 8h4M114 8h12M128 8h6M138 8h2M142 8h4M152 8h6M160 8h2M164 8h2M168 8h2M172 8h2M180 8h4M188 8h2M194 8h2M198 8h2M208 8h2M212 8h8M228 8h2M238 8h2"/>
<path stroke="#7ccce6" d="M4 8h2M12 8h8M24 8h2M30 8h4M38 8h2M54 8h2M60 8h2M64 8h2M68 8h6M76 8h4M84 8h2M90 8h2M94 8h4M106 8h2M126 8h2M146 8h2M162 8h2M166 8h2M170 8h2M178 8h2M184 8h2M190 8h4M196 8h2M200 8h2M204 8h2M220 8h4M232 8h2M244 8h2M248 8h2M252 8h2M258 8h2M280 8h2M290 8h2M320 8h2M328 8h4"/>
<path stroke="#88d4da" d="M22 8h2M28 8h2M36 8h2M48 8h2M58 8h2M92 8h2M98 8h2M104 8h2M112 8h2M134 8h4M140 8h2M148 8h4M158 8h2M174 8h4M202 8h2M206 8h2M210 8h2M224 8h4M230 8h2M234 8h4"/>
<path stroke="#8ed7d1" d="M186 8h2"/>
<path stroke="#73bce0" d="M240 8h4M254 8h4M282 8h8M322 8h2M326 8h2M332 8h4M338 8h2"/>
<path stroke="#6aadda" d="M246 8h2M250 8h2M294 8h2M312 8h4M324 8h2M336 8h2M356 8h2M370 8h2M380 8h2M392 8h2M404 8h4"/>
<path stroke="#5a8ecd" d="M260 8h12M274 8h2M306 8h4M316 8h2M342 8h2M350 8h6M358 8h4M368 8h2M374 8h6M382 8h4M390 8h2M394 8h6M412 8h2M420 8h2M424 8h2M430 8h4M436 8h4M442 8h2M446 8h2M452 8h4M460 8h6M472 8h8M482 8h4M488 8h8M502 8h2M508 8h2M512 8h8"/>
<path stroke="#619dd4" d="M272 8h2M276 8h4M292 8h2M296 8h6M310 8h2M318 8h2M340 8h2M344 8h6M362 8h6M372 8h2M386 8h4M400 8h4M408 8h4M414 8h6M422 8h2M426 8h4M448 8h2M458 8h2M480 8h2M500 8h2M504 8h2"/>
<path stroke="#5380c6" d="M302 8h4M434 8h2M440 8h2M444 8h2M450 8h2M456 8h2M466 8h6M486 8h2M496 8h2M506 8h2M510 8h2"/>
<path stroke="#4c72bf" d="M498 8h2M538 8h2M546 8h2M552 8h2M558 8h2M568 8h2M574 8h2M614 8h2M626 8h2M638 8h2M652 8h2M714 8h2"/>
<path stroke="#4764b8" d="M520 8h2M524 8h2M530 8h8M542 8h2M550 8h2M554 8h2M560 8h2M566 8h2M570 8h4M576 8h2M580 8h2M588 8h4M594 8h6M604 8h4M610 8h4M616 8h2M628 8h2M634 8h2M640 8h2M644 8h4M666 8h4M672 8h2M676 8h2M680 8h2M686 8h14M702 8h4M708 8h2M716 8h2"/>
<path stroke="#3e4fad" d="M522 8h2M564 8h2M656 8h2M682 8h2M710 8h2"/>
<path stroke="#425ab3" d="M526 8h4M540 8h2M544 8h2M548 8h2M556 8h2M562 8h2M578 8h2M582 8h6M592 8h2M600 8h4M608 8h2M618 8h8M630 8h4M636 8h2M642 8h2M648 8h4M654 8h2M658 8h8M670 8h2M674 8h2M678 8h2M684 8h2M700 8h2M706 8h2M712 8h2M718 8h2"/>
</g>
<g stroke-width="15.00">
<path stroke="#7ccce6" d="M0 23.5h6M10 23.5h2M43 23.5h3M80 23.5h8M92 23.5h4M148 23.5h2M154 23.5h2M160 23.5h2M172 23.5h2M186 23.5h2M192 23.5h2M202 23.5h4M210 23.5h4M230 23.5h2M240 23.5h2M252 23.5h2M280 23.5h2M284 23.5h2M288 23.5h4M296 23.5h2M302 23.5h2M308 23.5h2M318 23.5h2M322 23.5h4M340 23.5h6M360 23.5h6M368 23.5h16M388 23.5h2M392 23.5h12M406 23.5h4M412 23.5h10M424 23.5h2M428 23.5h16M448 23.5h4M454 23.5h2M458 23.5h2M462 23.5h2M468 23.5h6M476 23.5h2M482 23.5h2M486 23.5h2M672 23.5h2M690 23.5h2M704 23.5h2"/>
<path stroke="#82d0e0" d="M6 23.5h4M14 23.5h2M52 23.5h10M78 23.5h2M88 23.5h2M96 23.5h14M142 23.5h4M156 23.5h2M162 23.5h2M168 23.5h4M176 23.5h2M182 23.5h2M188 23.5h2M194 23.5h4M206 23.5h4M214 23.5h4M220 23.5h8M236 23.5h4M244 23.5h8M256 23.5h2M260 23.5h2M264 23.5h6M272 23.5h8M286 23.5h2M292 23.5h4M304 23.5h4M310 23.5h4M316 23.5h2M320 23.5h2M326 23.5h2M330 23.5h4M338 23.5h2M346 23.5h2M366 23.5h2M384 23.5h4M390 23.5h2M410 23.5h2M422 23.5h2M426 23.5h2M446 23.5h2M452 23.5h2M456 23.5h2M460 23.5h2M484 23.5h2"/>
<path stroke="#88d4da" d="M12 23.5h2M46 23.5h6M90 23.5h2M140 23.5h2M146 23.5h2M150 23.5h4M158 23.5h2M164 23.5h4M174 23.5h2M178 23.5h4M184 23.5h2M190 23.5h2M198 23.5h4M218 23.5h2M228 23.5h2M232 23.5h4M242 23.5h2M254 23.5h2M258 23.5h2M262 23.5h2M270 23.5h2M282 23.5h2M298 23.5h4M314 23.5h2M328 23.5h2M334 23.5h4M348 23.5h10M404 23.5h2M498 23.5h2M502 23.5h2"/>
<path stroke="#425ab3" d="M16 23.5h2M24 23.5h4M30 23.5h2M36 23.5h6M72 23.5h2M110 23.5h2M118 23.5h4M128 23.5h4M136 23.5h4"/>
<path stroke="#3e4fad" d="M18 23.5h2M28 23.5h2M32 23.5h2M42 23.5h1M112 23.5h6M122 23.5h6M132 23.5h2"/>
<path stroke="#4764b8" d="M20 23.5h2M66 23.5h6M74 23.5h4M134 23.5h2"/>
<path stroke="#3a44a8" d="M22 23.5h2M34 23.5h2"/>
<path stroke="#4c72bf" d="M62 23.5h4"/>
<path stroke="#8ed7d1" d="M358 23.5h2M494 23.5h4M500 23.5h2"/>
<path stroke="#73bce0" d="M444 23.5h2M464 23.5h4M474 23.5h2M478 23.5h4M546 23.5h2M674 23.5h2M678 23.5h10M694 23.5h6M706 23.5h4M712 23.5h6"/>
<path stroke="#93d8c3" d="M488 23.5h6"/>
<path stroke="#9fdc9f" d="M504 23.5h2M510 23.5h4"/>
<path stroke="#98dab4" d="M506 23.5h4M516 23.5h4"/>
<path stroke="#a6dd8b" d="M514 23.5h2M522 23.5h2"/>
<path stroke="#addf7b" d="M520 23.5h2M524 23.5h2"/>
<path stroke="#f9e71e" d="M526 23.5h4M541 23.5h1"/>
<path stroke="#e6290b" d="M530 23.5h3"/>
<path stroke="#6e0c00" d="M533 23.5h5M538 23.5h1"/>
<path stroke="#fa6a14" d="M539 23.5h1"/>
<path stroke="#f75912" d="M540 23.5h1"/>
<path stroke="#f2eb24" d="M542 23.5h2"/>
<path stroke="#619dd4" d="M544 23.5h2M556 23.5h2M560 23.5h2M564 23.5h2M572 23.5h2M584 23.5h2M590 23.5h2M594 23.5h2M598 23.5h4M604 23.5h2M608 23.5h2M612 23.5h2M620 23.5h2M624 23.5h2M632 23.5h6M642 23.5h2M646 23.5h2M652 23.5h2M656 23.5h2M662 23.5h4M670 23.5h2M700 23.5h2"/>
<path stroke="#5a8ecd" d="M548 23.5h8M558 23.5h2M568 23.5h2M574 23.5h2M578 23.5h2M582 23.5h2M586 23.5h4M596 23.5h2M602 23.5h2M606 23.5h2M630 23.5h2M640 23.5h2M658 23.5h2M668 23.5h2"/>
<path stroke="#5380c6" d="M562 23.5h2M566 23.5h2M570 23.5h2M576 23.5h2M580 23.5h2M592 23.5h2"/>
<path stroke="#6aadda" d="M610 23.5h2M614 23.5h6M622 23.5h2M626 23.5h4M638 23.5h2M644 23.5h2M648 23.5h4M654 23.5h2M660 23.5h2M666 23.5h2M676 23.5h2M688 23.5h2M692 23.5h2M702 23.5h2M710 23.5h2M718 23.5h2"/>
</g>
<g stroke-width="18.00">
<path stroke="#6e0c00" d="M0 40h1M2 40h1M5 40h1M11 40h1M14 40h1M19 40h1M20 40h1M21 40h1M24 40h1M25 40h1M26 40h1M31 40h1M32 40h1M33 40h1M34 40h1M43 40h1M44 40h1M46 40h1M48 40h1M51 40h1M54 40h1M56 40h1M60 40h1M66 40h1M67 40h1M69 40h1M75 40h1M77 40h1M79 40h1M88 40h1M90 40h1M94 40h1M95 40h1M99 40h1M101 40h1M108 40h1M113 40h1M115 40h1M116 40h1M125 40h1M127 40h1M130 40h1M132 40h1M133 40h1M135 40h1M136 40h1M139 40h1M140 40h1M142 40h1M144 40h1M146 40h1M152 40h1M153 40h1M154 40h1M155 40h1M158 40h1M159 40h1M161 40h1M163 40h1M164 40h2M166 40h1M168 40h1M171 40h1M176 40h1M177 40h1M178 40h1M179 40h1M188 40h1M189 40h1M192 40h1M196 40h1M199 40h1M201 40h1M204 40h1M216 40h1M219 40h1M220 40h4M224 40h14M238 40h6M244 40h6M250 40h2M252 40h2M254 40h4M258 40h4M262 40h2M264 40h2M266 40h2M268 40h4M272 40h8M280 40h6M286 40h2M288 40h10M298 40h4M302 40h2M304 40h4M308 40h4M312 40h4M316 40h2M318 40h2M320 40h6M326 40h4M330 40h10M340 40h4M344 40h4M348 40h4M352 40h4M356 40h2M358 40h6M364 40h2M366 40h2M368 40h8M376 40h6M382 40h4M386 40h4M390 40h4M394 40h4M398 40h4M402 40h8M410 40h2M412 40h2M414 40h2M416 40h6M422 40h4M426 40h6M432 40h2M434 40h4M438 40h2M440 40h2M442 40h2M444 40h2M446 40h12M458 40h14M472 40h2M474 40h14M488 40h2M490 40h2M492 40h2M494 40h2M496 40h2M498 40h14M512 40h2M514 40h4M518 40h4M522 40h4M526 40h2M528 40h2M530 40h2M532 40h4M536 40h2M538 40h2M540 40h6M546 40h4M550 40h8M558 40h6M564 40h8M572 40h12M584 40h2M586 40h6M592 40h4M596 40h2M598 40h2M600 40h4M604 40h2M606 40h8M614 40h6M620 40h22M642 40h4M646 40h18M664 40h2M666 40h2M668 40h2M670 40h8M678 40h4M682 40h2M684 40h2M686 40h30M716 40h2M718 40h2M534 212h2M536 212h2M538 212h2M57 384h1M58 384h2M60 384h6M66 384h2M68 384h1M487 384h11M528 436h4"/>
<path stroke="#d0e546" d="M1 40h1M52 40h1"/>
<path stroke="#fb7c14" d="M3 40h1M80 40h1M160 40h1M169 40h1M173 40h1M186 40h1"/>
<path stroke="#0f0c77" d="M4 40h1M592 212h4M600 212h10M614 212h4M624 212h2M628 212h2M632 212h12M646 212h6M654 212h2M658 212h8M668 212h2M674 212h4M686 212h2M692 212h2M698 212h2M702 212h4M708 212h12M232 298h314M548 298h172M564 436h48M614 436h80M696 436h24"/>
<path stroke="#9a1003" d="M6 40h1M9 40h1M42 40h1M121 40h1M124 40h1M134 40h1M182 40h1M206 40h1M208 40h1"/>
<path stroke="#8ed7d1" d="M7 40h1M13 40h1M96 40h1M106 40h1M48 212h2M558 384h2M710 384h4M549 436h1M552 436h1"/>
<path stroke="#0f0c76" d="M8 40h1M598 212h2M620 212h4M630 212h2M682 212h4M690 212h2M694 212h2M706 212h2M546 298h2M612 436h2"/>
<path stroke="#f9e71e" d="M10 40h1M57 40h1M104 40h1M23 384h1M69 384h1M168 384h2"/>
<path stroke="#9fdc9f" d="M12 40h1M16 40h1M18 40h1M23 40h1M47 40h1M59 40h1M562 384h2"/>
<path stroke="#e6290b" d="M15 40h1M81 40h1M84 40h1M147 40h1M156 40h1M183 40h2M540 212h2M538 436h2M544 436h2"/>
<path stroke="#fece14" d="M17 40h1M150 40h1M498 384h2M560 384h2"/>
<path stroke="#6aadda" d="M22 40h1M42 126h2M46 126h4M52 126h8M64 126h2M72 126h4M52 212h2M56 212h2M60 212h4M86 212h2M100 212h8M114 212h2M126 212h4M138 212h2M144 212h2M160 212h4M166 212h2M180 212h2M192 212h4M202 212h4M208 212h2M214 212h2M220 212h2M228 212h2M246 212h2M250 212h2M254 212h4M292 212h2M316 212h2M12 384h2"/>
<path stroke="#c41706" d="M27 40h1M112 40h1M114 40h1M162 40h1M172 40h1M203 40h1M217 40h1M542 212h2"/>
<path stroke="#b4e06e" d="M28 40h1"/>
<path stroke="#fdde18" d="M29 40h1M86 40h1M89 40h1M24 384h2M70 384h1M164 384h4"/>
<path stroke="#860e02" d="M30 40h1M63 40h1M128 40h1M157 40h1M185 40h1"/>
<path stroke="#fa6a14" d="M35 40h1M38 40h1M70 40h1M74 40h1M109 40h1M119 40h1M126 40h1M138 40h1M174 40h1M195 40h1M214 40h2M532 436h4"/>
<path stroke="#addf7b" d="M36 40h1M41 40h1M97 40h1M100 40h1M103 40h1"/>
<path stroke="#f75912" d="M37 40h1M117 40h1M120 40h1M190 40h1M197 40h1M207 40h1M552 212h2"/>
<path stroke="#a6dd8b" d="M39 40h1M92 40h1M26 384h4M46 384h2"/>
<path stroke="#93d8c3" d="M40 40h1M78 40h1M550 436h2"/>
<path stroke="#c6e453" d="M45 40h1M170 384h4"/>
<path stroke="#82d0e0" d="M49 40h1M72 40h1M85 40h1M93 40h1M102 40h1M0 126h2M4 126h2M8 126h4M14 126h2M32 126h2M6 212h4M18 212h2M26 212h2M34 212h2M40 212h2M76 212h2M134 212h2M148 212h2M158 212h2M230 212h2M236 212h2M252 212h2M266 212h2M560 212h2M4 298h2M10 298h2M14 298h2M0 384h2M8 384h2M20 384h1M30 384h2M34 384h2M38 384h2M42 384h2M50 384h2M56 384h1M32 436h2"/>
<path stroke="#e6e92f" d="M50 40h1M55 40h1M62 40h1M64 40h1M68 40h1M98 40h1M554 212h4"/>
<path stroke="#0f0c78" d="M53 40h1M596 212h2M610 212h4M618 212h2M626 212h2M644 212h2M652 212h2M656 212h2M666 212h2M670 212h4M678 212h4M688 212h2M696 212h2M700 212h2M694 436h2"/>
<path stroke="#619dd4" d="M58 40h1M91 40h1M66 126h6M54 212h2M70 212h2M136 212h2M140 212h2M260 212h2M272 212h4M278 212h10M296 212h2M300 212h2M304 212h4M338 212h2M20 298h6M28 298h6M36 298h4M10 384h2M78 384h2M500 384h2"/>
<path stroke="#740c00" d="M61 40h1M105 40h1M111 40h1M148 40h1M151 40h1M194 40h1M210 40h1M218 40h1"/>
<path stroke="#98dab4" d="M65 40h1M73 40h1M76 40h1M87 40h1M44 384h2M48 384h2"/>
<path stroke="#b01204" d="M71 40h1M167 40h1M205 40h1M209 40h1M530 212h4"/>
<path stroke="#d52008" d="M82 40h1M118 40h1M122 40h1M131 40h1M137 40h1M141 40h1M143 40h1M180 40h1M526 212h2M21 384h2"/>
<path stroke="#fda014" d="M83 40h1M548 212h2"/>
<path stroke="#fc8e14" d="M107 40h1M198 40h1"/>
<path stroke="#ef370e" d="M110 40h1M129 40h1M175 40h1M181 40h1M193 40h1M200 40h1M528 212h2M544 212h2M550 212h2M536 436h2M540 436h4"/>
<path stroke="#f34810" d="M123 40h1M145 40h1M149 40h1M187 40h1M191 40h1M202 40h1M211 40h3"/>
<path stroke="#feb714" d="M170 40h1M546 212h2"/>
<path stroke="#7ccce6" d="M2 126h2M6 126h2M12 126h2M18 126h4M24 126h2M30 126h2M34 126h6M0 212h2M4 212h2M10 212h2M14 212h4M20 212h6M28 212h6M42 212h2M58 212h2M64 212h2M68 212h2M80 212h2M92 212h4M108 212h4M116 212h6M124 212h2M146 212h2M152 212h2M168 212h6M176 212h4M182 212h2M186 212h4M200 212h2M210 212h2M218 212h2M222 212h6M234 212h2M238 212h4M318 212h2M324 212h4M0 298h4M6 298h4M12 298h2M18 298h2M4 384h4M32 384h2M40 384h2M54 384h2M71 384h1M74 384h2M0 436h6M8 436h4M14 436h18M34 436h6"/>
<path stroke="#73bce0" d="M16 126h2M22 126h2M26 126h4M62 126h2M12 212h2M36 212h2M66 212h2M72 212h4M78 212h2M82 212h4M88 212h4M96 212h4M112 212h2M122 212h2M130 212h4M142 212h2M150 212h2M154 212h4M164 212h2M174 212h2M184 212h2M190 212h2M196 212h4M206 212h2M212 212h2M216 212h2M232 212h2M242 212h4M248 212h2M258 212h2M262 212h4M322 212h2M562 212h2M16 298h2M2 384h2M14 384h2M36 384h2M52 384h2M72 384h2M282 384h2M12 436h2"/>
<path stroke="#5a8ecd" d="M40 126h2M44 126h2M50 126h2M60 126h2M76 126h4M94 126h2M268 212h4M290 212h2M294 212h2M310 212h6M320 212h2M328 212h2M352 212h4M26 298h2M34 298h2M76 384h2M80 384h2M40 436h2"/>
<path stroke="#4c72bf" d="M80 126h2M86 126h4M100 126h16M120 126h2M124 126h2M138 126h2M330 212h2M334 212h2M342 212h2M346 212h2M358 212h2M572 212h4M580 212h4M590 212h2M42 436h2M52 436h2M64 436h2M70 436h2M74 436h2"/>
<path stroke="#5380c6" d="M82 126h4M90 126h2M96 126h2M130 126h4M136 126h2M276 212h2M298 212h2M302 212h2M332 212h2M344 212h2M350 212h2M356 212h2M46 436h6M54 436h6"/>
<path stroke="#4764b8" d="M92 126h2M98 126h2M118 126h2M122 126h2M126 126h4M134 126h2M148 126h2M156 126h2M192 126h2M288 212h2M308 212h2M340 212h2M348 212h2M368 212h2M372 212h2M384 212h2M394 212h4M412 212h4M418 212h2M430 212h2M438 212h2M566 212h4M578 212h2M44 436h2M60 436h4M68 436h2"/>
<path stroke="#425ab3" d="M116 126h2M140 126h4M146 126h2M150 126h2M158 126h2M162 126h2M170 126h2M174 126h6M186 126h4M194 126h2M336 212h2M360 212h2M366 212h2M374 212h2M378 212h4M386 212h8M402 212h2M406 212h2M410 212h2M420 212h2M432 212h4M440 212h2M564 212h2M570 212h2M576 212h2M584 212h6M40 298h4M48 298h6M88 384h6M100 384h2M108 384h2M114 384h2M134 384h2M138 384h2M142 384h2M174 384h2M202 384h2M242 384h2M246 384h2M270 384h2M374 384h2M66 436h2"/>
<path stroke="#3e4fad" d="M144 126h2M152 126h4M160 126h2M164 126h6M172 126h2M180 126h6M190 126h2M196 126h4M364 212h2M382 212h2M398 212h4M404 212h2M416 212h2M422 212h4M428 212h2M436 212h2M458 212h2M472 212h2M512 212h2M44 298h4M54 298h2M84 384h2M94 384h2M98 384h2M104 384h4M110 384h2M116 384h6M126 384h8M136 384h2M140 384h2M148 384h4M154 384h6M176 384h4M182 384h4M196 384h2M200 384h2M204 384h4M210 384h2M216 384h2M222 384h2M226 384h14M244 384h2M252 384h6M264 384h2M272 384h4M278 384h4M330 384h2M376 384h4M382 384h2M392 384h2M398 384h2M402 384h4M410 384h2M418 384h2M424 384h2M428 384h2M432 384h2M450 384h2M472 384h2M484 384h2M506 384h2M512 384h2M520 384h2M530 384h2M568 384h2M582 384h2M588 384h4M72 436h2M80 436h2M86 436h2M90 436h6M106 436h2M110 436h4M128 436h2M134 436h2M138 436h2M144 436h2M150 436h2M162 436h2M166 436h2M172 436h2M182 436h2M192 436h2M198 436h2M204 436h2M210 436h2M226 436h6M234 436h2M248 436h2M254 436h2M264 436h4M286 436h2M290 436h2M300 436h2M320 436h4M334 436h2M338 436h2M346 436h2M398 436h2M490 436h2"/>
<path stroke="#3a44a8" d="M200 126h2M214 126h4M226 126h6M234 126h4M240 126h2M250 126h2M262 126h4M268 126h4M274 126h2M280 126h2M284 126h8M294 126h2M300 126h2M306 126h4M316 126h2M320 126h4M326 126h2M336 126h8M350 126h2M356 126h2M366 126h2M390 126h2M362 212h2M370 212h2M376 212h2M408 212h2M426 212h2M446 212h2M454 212h4M464 212h4M494 212h2M506 212h4M514 212h4M56 298h2M60 298h2M64 298h4M76 298h2M94 298h4M100 298h2M106 298h2M112 298h4M122 298h2M126 298h12M144 298h2M158 298h2M82 384h2M86 384h2M96 384h2M102 384h2M112 384h2M122 384h4M144 384h4M152 384h2M180 384h2M186 384h10M198 384h2M208 384h2M212 384h4M218 384h4M224 384h2M240 384h2M248 384h4M258 384h6M266 384h4M276 384h2M288 384h2M294 384h2M298 384h2M304 384h2M316 384h2M320 384h2M324 384h2M328 384h2M332 384h2M338 384h2M344 384h6M356 384h4M364 384h6M372 384h2M386 384h6M396 384h2M406 384h4M426 384h2M436 384h4M442 384h2M452 384h6M462 384h8M476 384h4M486 384h1M504 384h2M508 384h4M516 384h4M522 384h2M526 384h4M536 384h16M566 384h2M574 384h6M650 384h2M716 384h2M76 436h4M82 436h4M98 436h8M108 436h2M116 436h6M124 436h4M130 436h2M142 436h2M146 436h4M152 436h2M156 436h6M164 436h2M168 436h2M174 436h8M186 436h6M194 436h4M200 436h4M206 436h2M214 436h10M232 436h2M238 436h8M252 436h2M258 436h6M268 436h2M272 436h4M280 436h2M284 436h2M288 436h2M294 436h2M298 436h2M304 436h2M310 436h6M318 436h2M324 436h2M328 436h4M336 436h2M342 436h4M350 436h6M358 436h2M368 436h4M374 436h6M384 436h2M392 436h2M400 436h2M412 436h6M420 436h2M424 436h6M432 436h2M436 436h2M482 436h2M492 436h2"/>
<path stroke="#3339a3" d="M202 126h2M208 126h6M218 126h4M224 126h2M238 126h2M242 126h4M248 126h2M252 126h2M256 126h2M260 126h2M266 126h2M272 126h2M276 126h4M282 126h2M292 126h2M296 126h4M302 126h4M312 126h4M318 126h2M324 126h2M328 126h8M346 126h4M352 126h2M358 126h4M364 126h2M368 126h8M378 126h2M384 126h2M388 126h2M394 126h2M408 126h2M418 126h2M426 126h2M432 126h2M436 126h2M440 126h4M448 126h2M454 126h6M464 126h2M468 126h2M472 126h4M478 126h4M484 126h2M490 126h14M518 126h2M444 212h2M448 212h2M452 212h2M460 212h4M468 212h2M476 212h2M480 212h2M486 212h4M496 212h2M504 212h2M518 212h2M524 212h2M58 298h2M62 298h2M68 298h8M78 298h6M86 298h4M92 298h2M98 298h2M102 298h4M108 298h4M116 298h6M138 298h6M146 298h12M284 384h4M290 384h4M296 384h2M302 384h2M306 384h4M312 384h4M318 384h2M322 384h2M326 384h2M334 384h4M340 384h4M350 384h6M360 384h4M370 384h2M380 384h2M384 384h2M394 384h2M400 384h2M412 384h6M422 384h2M430 384h2M440 384h2M444 384h6M458 384h4M470 384h2M474 384h2M480 384h4M502 384h2M514 384h2M524 384h2M532 384h4M564 384h2M570 384h4M580 384h2M584 384h4M604 384h2M608 384h16M626 384h2M634 384h2M642 384h2M648 384h2M658 384h4M666 384h2M670 384h4M676 384h2M680 384h4M686 384h10M698 384h2M706 384h2M715 384h1M718 384h2M88 436h2M96 436h2M114 436h2M122 436h2M132 436h2M136 436h2M140 436h2M154 436h2M170 436h2M184 436h2M208 436h2M212 436h2M224 436h2M236 436h2M246 436h2M256 436h2M270 436h2M276 436h4M282 436h2M292 436h2M296 436h2M302 436h2M306 436h4M326 436h2M340 436h2M348 436h2M360 436h8M372 436h2M380 436h4M386 436h6M404 436h4M410 436h2M430 436h2M434 436h2M438 436h2M480 436h2M484 436h6M498 436h2"/>
<path stroke="#2d2d9d" d="M204 126h4M222 126h2M232 126h2M246 126h2M254 126h2M258 126h2M310 126h2M344 126h2M354 126h2M376 126h2M386 126h2M396 126h12M410 126h2M414 126h4M420 126h2M424 126h2M428 126h4M434 126h2M444 126h4M450 126h2M460 126h4M466 126h2M470 126h2M486 126h4M504 126h12M442 212h2M450 212h2M470 212h2M474 212h2M478 212h2M482 212h4M490 212h4M498 212h6M510 212h2M522 212h2M84 298h2M90 298h2M124 298h2M160 298h2M166 298h2M170 298h2M174 298h2M178 298h8M300 384h2M310 384h2M420 384h2M434 384h2M552 384h6M606 384h2M628 384h6M636 384h6M644 384h2M654 384h4M662 384h2M668 384h2M674 384h2M678 384h2M684 384h2M700 384h2M704 384h2M250 436h2M316 436h2M332 436h2M356 436h2M394 436h4M402 436h2M408 436h2M418 436h2M422 436h2M442 436h4M448 436h2M452 436h2M460 436h2M472 436h2M478 436h2M494 436h4M500 436h2M514 436h2M556 436h4"/>
<path stroke="#262298" d="M362 126h2M380 126h4M392 126h2M412 126h2M422 126h2M438 126h2M452 126h2M476 126h2M482 126h2M516 126h2M526 126h2M162 298h4M168 298h2M176 298h2M186 298h2M624 384h2M646 384h2M652 384h2M664 384h2M696 384h2M702 384h2M708 384h1M440 436h2M446 436h2M450 436h2M456 436h4M462 436h4M468 436h4M474 436h4M502 436h2M508 436h6M524 436h2M553 436h3M560 436h4"/>
<path stroke="#201b90" d="M520 126h6M572 126h2M600 126h2M172 298h2M188 298h2M600 384h2M454 436h2M466 436h2M504 436h4M516 436h4"/>
<path stroke="#1a1688" d="M528 126h2M538 126h2M544 126h2M548 126h2M556 126h2M560 126h2M582 126h2M594 126h2M598 126h2M602 126h4M612 126h6M626 126h2M632 126h2M636 126h2M642 126h2M646 126h4M662 126h2M688 126h2M692 126h2M704 126h2M520 212h2M192 298h8M202 298h16M220 298h8M230 298h2M592 384h2M598 384h2M602 384h2M522 436h2"/>
<path stroke="#141080" d="M530 126h8M540 126h4M546 126h2M552 126h4M558 126h2M562 126h2M566 126h2M570 126h2M574 126h8M584 126h4M590 126h4M596 126h2M620 126h6M628 126h4M640 126h2M644 126h2M650 126h8M660 126h2M664 126h8M674 126h6M686 126h2M690 126h2M694 126h8M706 126h14M190 298h2M200 298h2M218 298h2M228 298h2M594 384h2M520 436h2"/>
<path stroke="#100d7a" d="M550 126h2M564 126h2M568 126h2M588 126h2M606 126h2M610 126h2M618 126h2M634 126h2M638 126h2M658 126h2M672 126h2M680 126h6M702 126h2M596 384h2"/>
<path stroke="#100d79" d="M608 126h2"/>
<path stroke="#88d4da" d="M2 212h2M38 212h2M44 212h4M50 212h2M16 384h4M160 384h4M709 384h1M714 384h1M6 436h2"/>
<path stroke="#f2eb24" d="M558 212h2M546 436h3"/>
<path stroke="#dae73a" d="M526 436h2"/>
</g>
<g stroke-width="17.00">
<path stroke="#7ccce6" d="M0 57.5h1M9 57.5h2M16 57.5h1M21 57.5h1M23 57.5h2M36 57.5h2M43 57.5h1M46 57.5h2M52 57.5h2M66 57.5h1M116 57.5h1M119 57.5h3M124 57.5h3M128 57.5h1M139 57.5h1M141 57.5h2M146 57.5h1M150 57.5h2M154 57.5h1M158 57.5h1M162 57.5h2M167 57.5h2M171 57.5h1M173 57.5h1M180 57.5h1M184 57.5h1M186 57.5h1M193 57.5h1M195 57.5h1M199 57.5h1M204 57.5h1M207 57.5h1M217 57.5h1M252 57.5h1M255 57.5h1M48 91.5h1M51 91.5h1M58 91.5h1M60 91.5h1M62 91.5h1M69 91.5h1M76 91.5h1M81 91.5h1M89 91.5h1M91 91.5h1M95 91.5h1M117 91.5h1M127 91.5h1M135 91.5h1M156 91.5h2M161 91.5h1M163 91.5h1M166 91.5h1M225 91.5h1M252 91.5h1M291 91.5h1M293 91.5h1M303 91.5h1M310 91.5h1M317 91.5h1M330 91.5h1M333 91.5h3M337 91.5h1M339 91.5h1M341 91.5h1M343 91.5h1M565 91.5h1M568 91.5h1M11 108.5h1M13 108.5h1M23 108.5h1M26 108.5h1M29 108.5h1M41 108.5h1M54 108.5h1M58 108.5h1M67 108.5h1M71 108.5h1M75 108.5h1M504 108.5h1M507 108.5h1M528 108.5h2M552 108.5h1M560 108.5h1M590 108.5h1M2 160.5h2M6 160.5h2M10 160.5h2M14 160.5h4M20 160.5h6M30 160.5h2M56 160.5h2M66 160.5h2M76 160.5h2M82 160.5h2M168 160.5h2M346 160.5h4M354 160.5h2M360 160.5h4M368 160.5h2M380 160.5h2M384 160.5h2M388 160.5h6M402 160.5h2M410 160.5h2M416 160.5h8M426 160.5h4M432 160.5h6M442 160.5h2M450 160.5h2M458 160.5h2M527 160.5h1M537 160.5h1M539 160.5h2M560 160.5h1M562 160.5h1M632 160.5h2M674 160.5h2M13 177.5h1M19 177.5h1M36 177.5h1M39 177.5h1M57 177.5h1M71 177.5h1M90 177.5h1M512 177.5h2M521 177.5h2M536 177.5h1M652 177.5h1M10 194.5h2M16 194.5h2M20 194.5h6M40 194.5h2M44 194.5h10M62 194.5h2M66 194.5h2M72 194.5h2M0 229.5h1M6 229.5h1M14 229.5h2M27 229.5h1M31 229.5h1M33 229.5h1M35 229.5h1M46 229.5h1M48 229.5h1M64 229.5h1M67 229.5h1M69 229.5h1M71 229.5h1M527 229.5h2M46 246.5h1M48 246.5h1M52 246.5h1M96 246.5h1M106 246.5h1M141 246.5h1M149 246.5h1M163 246.5h1M169 246.5h1M183 246.5h1M186 246.5h1M225 246.5h1M229 246.5h1M231 246.5h1M235 246.5h1M237 246.5h3M242 246.5h1M261 246.5h1M270 246.5h2M329 246.5h1M333 246.5h1M342 246.5h2M12 263.5h2M20 263.5h2M24 263.5h2M38 263.5h2M550 263.5h2M0 280.5h1M12 280.5h2M21 280.5h1M25 280.5h1M27 280.5h2M33 280.5h1M38 280.5h2M42 280.5h1M44 280.5h3M48 280.5h1M55 280.5h1M59 280.5h1M69 280.5h1M79 280.5h1M82 280.5h1M85 280.5h1M88 280.5h1M93 280.5h3M104 280.5h1M117 280.5h1M124 280.5h1M153 280.5h1M163 280.5h1M186 280.5h1M204 280.5h1M214 280.5h2M224 280.5h1M0 315.5h4M6 315.5h10M26 315.5h2M38 315.5h2M4 332.5h4M14 332.5h2M20 332.5h2M38 332.5h8M48 332.5h2M64 332.5h4M82 332.5h4M98 332.5h4M104 332.5h2M108 332.5h2M112 332.5h6M120 332.5h4M132 332.5h2M142 332.5h2M150 332.5h6M158 332.5h4M176 332.5h4M196 332.5h2M3 349.5h1M7 349.5h1M12 349.5h2M30 349.5h2M287 349.5h1M332 349.5h1M368 349.5h1M392 349.5h1M403 349.5h1M413 349.5h2M421 349.5h1M427 349.5h1M436 349.5h1M439 349.5h1M452 349.5h1M462 349.5h1M466 349.5h1M484 349.5h1M491 349.5h1M493 349.5h2M548 349.5h2M2 366.5h4M14 366.5h2M18 366.5h2M32 366.5h6M40 366.5h4M48 366.5h2M68 366.5h2M76 366.5h2M82 366.5h2M90 366.5h2M102 366.5h2M108 366.5h4M122 366.5h2M142 366.5h6M162 366.5h2M180 366.5h4M190 366.5h2M196 366.5h2M202 366.5h2M210 366.5h2M216 366.5h6M224 366.5h2M232 366.5h2M240 366.5h4M250 366.5h10M262 366.5h2M274 366.5h2M278 366.5h4M288 366.5h4M294 366.5h4M308 366.5h4M316 366.5h2M328 366.5h6M338 366.5h2M348 366.5h2M352 366.5h2M356 366.5h2M360 366.5h2M372 366.5h2M378 366.5h2M382 366.5h2M388 366.5h6M396 366.5h2M410 366.5h2M416 366.5h2M420 366.5h4M434 366.5h2M440 366.5h4M452 366.5h4M464 366.5h2M468 366.5h2M488 366.5h2M496 366.5h4M520 366.5h2M524 366.5h2M528 366.5h4M540 366.5h4M550 366.5h2M554 366.5h2M558 366.5h2M564 366.5h2M570 366.5h6M578 366.5h2M584 366.5h2M594 366.5h2M606 366.5h4M620 366.5h2M624 366.5h2M638 366.5h2M642 366.5h2M656 366.5h2M662 366.5h2M0 401.5h4M8 401.5h2M12 401.5h6M20 401.5h2M24 401.5h6M32 401.5h4M40 401.5h6M48 401.5h2M52 401.5h2M56 401.5h2M72 401.5h4M78 401.5h2M84 401.5h2M92 401.5h4M98 401.5h2M106 401.5h6M116 401.5h8M126 401.5h2M130 401.5h2M156 401.5h6M168 401.5h4M174 401.5h6M182 401.5h4M198 401.5h2M204 401.5h2M210 401.5h2M226 401.5h8M248 401.5h2M254 401.5h2M268 401.5h2M284 401.5h2M288 401.5h4M300 401.5h2M312 401.5h2M318 401.5h2M336 401.5h2M346 401.5h2M374 401.5h4M558 401.5h4M564 401.5h6M2 418.5h2M8 418.5h2M12 418.5h2M32 418.5h2M192 418.5h2M240 418.5h2M284 418.5h2M288 418.5h2M294 418.5h2M304 418.5h2M318 418.5h2M324 418.5h2M374 418.5h4M592 418.5h4"/>
<path stroke="#82d0e0" d="M1 57.5h1M6 57.5h1M20 57.5h1M22 57.5h1M26 57.5h2M31 57.5h1M33 57.5h1M38 57.5h1M41 57.5h1M50 57.5h2M115 57.5h1M122 57.5h1M133 57.5h1M148 57.5h1M152 57.5h1M178 57.5h1M192 57.5h1M196 57.5h2M200 57.5h1M205 57.5h1M209 57.5h1M215 57.5h1M218 57.5h1M222 57.5h1M224 57.5h1M227 57.5h1M260 57.5h1M263 57.5h1M53 91.5h2M56 91.5h1M67 91.5h1M70 91.5h1M75 91.5h1M77 91.5h1M82 91.5h1M85 91.5h1M94 91.5h1M97 91.5h2M100 91.5h1M104 91.5h2M123 91.5h1M125 91.5h2M129 91.5h1M133 91.5h1M144 91.5h1M153 91.5h2M160 91.5h1M162 91.5h1M190 91.5h1M194 91.5h1M202 91.5h1M204 91.5h2M217 91.5h1M229 91.5h1M232 91.5h1M236 91.5h1M258 91.5h2M289 91.5h1M300 91.5h1M320 91.5h1M322 91.5h1M326 91.5h1M419 91.5h1M45 108.5h2M545 108.5h1M577 108.5h1M0 143.5h2M6 143.5h4M12 143.5h2M18 160.5h2M48 160.5h2M54 160.5h2M60 160.5h2M64 160.5h2M68 160.5h2M86 160.5h6M162 160.5h2M244 160.5h2M260 160.5h2M280 160.5h2M286 160.5h2M294 160.5h2M298 160.5h2M350 160.5h2M358 160.5h2M364 160.5h4M370 160.5h2M376 160.5h4M394 160.5h4M408 160.5h2M412 160.5h2M424 160.5h2M430 160.5h2M438 160.5h2M446 160.5h2M452 160.5h4M476 160.5h2M480 160.5h2M490 160.5h2M494 160.5h2M528 160.5h1M579 160.5h1M608 160.5h4M614 160.5h2M636 160.5h2M676 160.5h4M0 177.5h3M14 177.5h1M16 177.5h1M18 177.5h1M22 177.5h1M47 177.5h1M53 177.5h1M60 177.5h1M63 177.5h1M75 177.5h1M77 177.5h1M79 177.5h1M85 177.5h1M88 177.5h1M91 177.5h1M516 177.5h2M523 177.5h1M538 177.5h1M649 177.5h1M0 194.5h10M12 194.5h4M18 194.5h2M26 194.5h14M42 194.5h2M54 194.5h8M64 194.5h2M68 194.5h4M74 194.5h4M94 194.5h4M104 194.5h6M116 194.5h2M122 194.5h2M126 194.5h2M132 194.5h4M140 194.5h2M146 194.5h2M150 194.5h6M158 194.5h2M164 194.5h2M182 194.5h4M192 194.5h2M196 194.5h2M202 194.5h16M220 194.5h4M226 194.5h2M232 194.5h8M2 229.5h1M4 229.5h1M8 229.5h1M12 229.5h1M19 229.5h1M24 229.5h1M32 229.5h1M34 229.5h1M39 229.5h1M1 246.5h1M8 246.5h1M10 246.5h1M55 246.5h1M80 246.5h1M83 246.5h2M86 246.5h3M90 246.5h2M95 246.5h1M99 246.5h1M102 246.5h1M113 246.5h1M120 246.5h1M124 246.5h1M131 246.5h1M133 246.5h2M136 246.5h3M142 246.5h1M145 246.5h1M158 246.5h1M164 246.5h1M176 246.5h1M184 246.5h1M187 246.5h1M224 246.5h1M233 246.5h1M246 246.5h1M248 246.5h1M262 246.5h2M265 246.5h2M0 263.5h2M22 263.5h2M540 263.5h2M548 263.5h2M552 263.5h2M6 280.5h1M9 280.5h1M11 280.5h1M17 280.5h1M20 280.5h1M23 280.5h1M29 280.5h2M35 280.5h1M41 280.5h1M43 280.5h1M49 280.5h1M53 280.5h2M56 280.5h1M62 280.5h2M74 280.5h1M81 280.5h1M91 280.5h1M98 280.5h1M102 280.5h1M105 280.5h1M115 280.5h1M128 280.5h1M4 315.5h2M18 315.5h2M22 315.5h4M28 315.5h2M34 315.5h4M2 332.5h2M8 332.5h4M16 332.5h2M22 332.5h4M36 332.5h2M46 332.5h2M54 332.5h2M68 332.5h2M74 332.5h4M86 332.5h6M94 332.5h2M118 332.5h2M126 332.5h2M134 332.5h4M140 332.5h2M144 332.5h6M84 349.5h2M338 349.5h1M350 349.5h1M379 349.5h1M386 349.5h1M394 349.5h2M422 349.5h1M426 349.5h1M451 349.5h1M456 349.5h1M478 349.5h1M488 349.5h1M6 366.5h4M22 366.5h10M38 366.5h2M46 366.5h2M50 366.5h2M54 366.5h2M58 366.5h2M64 366.5h4M70 366.5h2M80 366.5h2M84 366.5h2M92 366.5h2M98 366.5h4M106 366.5h2M112 366.5h6M166 366.5h2M184 366.5h2M192 366.5h4M206 366.5h2M214 366.5h2M222 366.5h2M230 366.5h2M234 366.5h2M238 366.5h2M248 366.5h2M264 366.5h2M268 366.5h4M286 366.5h2M292 366.5h2M298 366.5h2M304 366.5h4M312 366.5h4M324 366.5h2M336 366.5h2M340 366.5h2M344 366.5h4M436 366.5h2M522 366.5h2M532 366.5h4M544 366.5h4M552 366.5h2M562 366.5h2M568 366.5h2M576 366.5h2M586 366.5h8M600 366.5h2M610 366.5h2M628 366.5h2M632 366.5h2M4 401.5h4M18 401.5h2M30 401.5h2M36 401.5h2M58 401.5h4M64 401.5h8M76 401.5h2M80 401.5h4M86 401.5h2M90 401.5h2M104 401.5h2M112 401.5h4M128 401.5h2M152 401.5h2M162 401.5h2M172 401.5h2M188 401.5h2M200 401.5h2M206 401.5h4M224 401.5h2M238 401.5h2M242 401.5h4M250 401.5h4M258 401.5h10M272 401.5h2M278 401.5h6M302 401.5h4M308 401.5h4M314 401.5h4M324 401.5h2M332 401.5h4M340 401.5h4M372 401.5h2M562 401.5h2M30 418.5h2M306 418.5h2M310 418.5h2M316 418.5h2M320 418.5h2M326 418.5h2M336 418.5h4M368 418.5h6M378 418.5h2M590 418.5h2M596 418.5h2"/>
<path stroke="#6aadda" d="M2 57.5h1M29 57.5h1M35 57.5h1M45 57.5h1M48 57.5h1M54 57.5h2M68 57.5h1M74 57.5h1M79 57.5h1M81 57.5h1M88 57.5h1M94 57.5h1M99 57.5h3M103 57.5h1M107 57.5h1M110 57.5h1M118 57.5h1M123 57.5h1M131 57.5h2M134 57.5h1M140 57.5h1M147 57.5h1M149 57.5h1M156 57.5h1M159 57.5h1M161 57.5h1M165 57.5h2M169 57.5h1M177 57.5h1M179 57.5h1M183 57.5h1M185 57.5h1M187 57.5h1M189 57.5h1M210 57.5h2M214 57.5h1M216 57.5h1M248 57.5h1M253 57.5h1M265 57.5h1M282 57.5h1M452 74.5h2M4 91.5h1M13 91.5h1M29 91.5h1M37 91.5h1M71 91.5h1M297 91.5h1M314 91.5h1M342 91.5h1M35 108.5h1M42 108.5h1M531 108.5h1M543 108.5h1M547 108.5h1M549 108.5h1M566 108.5h1M586 108.5h1M588 108.5h1M599 108.5h1M22 143.5h1M34 143.5h1M38 143.5h1M43 143.5h1M65 143.5h1M456 160.5h2M500 160.5h2M521 160.5h2M536 160.5h1M551 160.5h2M558 160.5h2M563 160.5h1M565 160.5h2M568 160.5h1M573 160.5h1M600 160.5h2M654 160.5h6M672 160.5h2M682 160.5h4M700 160.5h4M6 177.5h1M17 177.5h1M27 177.5h1M30 177.5h1M32 177.5h1M45 177.5h1M51 177.5h1M54 177.5h3M62 177.5h1M64 177.5h1M74 177.5h1M83 177.5h1M520 177.5h1M525 177.5h1M547 177.5h1M650 177.5h1M5 229.5h1M7 229.5h1M18 229.5h1M20 229.5h1M28 229.5h1M36 229.5h3M42 229.5h1M51 229.5h6M59 229.5h2M62 229.5h2M65 229.5h1M68 229.5h1M70 229.5h1M109 229.5h2M112 229.5h1M524 229.5h2M0 246.5h1M2 246.5h1M5 246.5h1M7 246.5h1M9 246.5h1M11 246.5h1M13 246.5h1M77 246.5h1M85 246.5h1M89 246.5h1M97 246.5h2M101 246.5h1M107 246.5h1M122 246.5h2M126 246.5h1M175 246.5h1M178 246.5h2M269 246.5h1M335 246.5h3M408 246.5h2M413 246.5h1M415 246.5h1M422 246.5h1M425 246.5h1M509 246.5h1M514 246.5h1M8 280.5h1M16 280.5h1M19 280.5h1M26 280.5h1M31 280.5h2M36 280.5h1M47 280.5h1M64 280.5h2M67 280.5h2M73 280.5h1M78 280.5h1M89 280.5h2M96 280.5h1M99 280.5h1M103 280.5h1M106 280.5h3M111 280.5h1M119 280.5h1M127 280.5h1M129 280.5h1M134 280.5h1M136 280.5h1M142 280.5h1M144 280.5h1M167 280.5h2M174 280.5h2M178 280.5h1M187 280.5h3M202 280.5h2M209 280.5h1M219 280.5h1M222 280.5h1M229 280.5h3M233 280.5h2M237 280.5h1M239 280.5h1M296 280.5h1M32 315.5h2M92 332.5h2M166 332.5h2M170 332.5h4M180 332.5h4M188 332.5h2M194 332.5h2M212 332.5h2M228 332.5h2M244 332.5h2M252 332.5h4M262 332.5h2M356 332.5h2M44 349.5h2M277 349.5h1M286 349.5h1M294 349.5h1M330 349.5h2M335 349.5h1M340 349.5h1M342 349.5h1M345 349.5h1M351 349.5h1M354 349.5h1M361 349.5h1M369 349.5h1M375 349.5h1M381 349.5h1M397 349.5h1M423 349.5h1M442 349.5h1M458 349.5h1M464 349.5h2M482 349.5h1M556 349.5h2M120 366.5h2M124 366.5h8M136 366.5h4M148 366.5h2M158 366.5h2M168 366.5h2M172 366.5h2M186 366.5h2M284 366.5h2M362 366.5h2M366 366.5h4M374 366.5h2M380 366.5h2M386 366.5h2M402 366.5h2M408 366.5h2M432 366.5h2M438 366.5h2M448 366.5h4M460 366.5h4M470 366.5h2M476 366.5h6M492 366.5h4M502 366.5h2M512 366.5h8M536 366.5h2M582 366.5h2M640 366.5h2M650 366.5h2M658 366.5h4M670 366.5h4M680 366.5h2M686 366.5h2M692 366.5h6M702 366.5h2M706 366.5h2M710 366.5h2M714 366.5h2M144 401.5h2M148 401.5h4M18 418.5h2M34 418.5h4M46 418.5h2M170 418.5h4M178 418.5h4M198 418.5h4M204 418.5h4M220 418.5h2M230 418.5h4M236 418.5h2M248 418.5h2M252 418.5h2M262 418.5h6M278 418.5h2M292 418.5h2M404 418.5h2M604 418.5h2M610 418.5h4M622 418.5h2M630 418.5h2"/>
<path stroke="#88d4da" d="M3 57.5h3M18 57.5h2M28 57.5h1M30 57.5h1M34 57.5h1M39 57.5h1M175 57.5h1M223 57.5h1M256 57.5h1M259 57.5h1M261 57.5h1M52 91.5h1M55 91.5h1M59 91.5h1M63 91.5h1M68 91.5h1M74 91.5h1M79 91.5h1M83 91.5h1M96 91.5h1M103 91.5h1M107 91.5h1M110 91.5h1M112 91.5h1M115 91.5h1M119 91.5h1M128 91.5h1M136 91.5h1M145 91.5h1M148 91.5h1M150 91.5h1M155 91.5h1M159 91.5h1M185 91.5h1M188 91.5h1M195 91.5h1M198 91.5h3M209 91.5h1M212 91.5h1M218 91.5h1M221 91.5h1M233 91.5h1M240 91.5h1M242 91.5h1M244 91.5h1M261 91.5h1M263 91.5h1M294 91.5h1M298 91.5h2M306 91.5h1M308 91.5h2M311 91.5h3M417 91.5h1M43 108.5h1M65 108.5h1M525 108.5h1M535 108.5h1M551 108.5h1M558 108.5h1M563 108.5h1M567 108.5h1M576 108.5h1M584 108.5h1M2 143.5h4M10 143.5h2M23 143.5h1M0 160.5h2M12 160.5h2M26 160.5h2M42 160.5h4M50 160.5h2M62 160.5h2M70 160.5h6M78 160.5h4M160 160.5h2M164 160.5h4M170 160.5h2M188 160.5h6M196 160.5h2M204 160.5h2M208 160.5h2M240 160.5h4M250 160.5h2M254 160.5h6M264 160.5h2M270 160.5h6M290 160.5h2M300 160.5h2M314 160.5h2M332 160.5h2M344 160.5h2M352 160.5h2M466 160.5h2M474 160.5h2M484 160.5h6M492 160.5h2M496 160.5h4M612 160.5h2M638 160.5h2M644 160.5h2M35 177.5h1M42 177.5h1M66 177.5h1M81 177.5h1M84 177.5h1M87 177.5h1M135 177.5h1M140 177.5h1M477 177.5h1M481 177.5h1M506 177.5h1M509 177.5h1M514 177.5h1M518 177.5h1M537 177.5h1M653 177.5h1M78 194.5h2M92 194.5h2M98 194.5h6M110 194.5h6M118 194.5h4M124 194.5h2M128 194.5h4M138 194.5h2M142 194.5h4M148 194.5h2M160 194.5h4M166 194.5h16M186 194.5h6M194 194.5h2M198 194.5h2M218 194.5h2M224 194.5h2M228 194.5h4M9 229.5h1M17 229.5h1M22 229.5h1M30 229.5h1M100 229.5h1M107 229.5h1M530 229.5h2M3 246.5h1M6 246.5h1M111 246.5h1M117 246.5h1M125 246.5h1M129 246.5h2M132 246.5h1M139 246.5h1M146 246.5h1M153 246.5h2M157 246.5h1M161 246.5h1M170 246.5h1M173 246.5h1M182 246.5h1M189 246.5h1M234 246.5h1M240 246.5h1M243 246.5h2M252 246.5h1M254 246.5h1M284 246.5h1M341 246.5h1M2 263.5h2M542 263.5h2M546 263.5h2M2 280.5h3M10 280.5h1M14 280.5h2M40 280.5h1M50 280.5h1M60 280.5h1M66 280.5h1M70 280.5h1M78 332.5h2M110 332.5h2M26 349.5h2M210 349.5h2M487 349.5h1M550 349.5h2M12 366.5h2M188 366.5h2M244 366.5h2M354 366.5h2M630 366.5h2M202 401.5h2M240 401.5h2M246 401.5h2M270 401.5h2M274 401.5h4M286 401.5h2M306 401.5h2M320 401.5h4M326 401.5h6M338 401.5h2M344 401.5h2M348 401.5h4M378 401.5h2M0 418.5h2M322 418.5h2M332 418.5h4M356 418.5h4M366 418.5h2"/>
<path stroke="#73bce0" d="M7 57.5h1M17 57.5h1M25 57.5h1M32 57.5h1M40 57.5h1M44 57.5h1M75 57.5h1M105 57.5h1M113 57.5h2M117 57.5h1M129 57.5h2M135 57.5h1M137 57.5h1M144 57.5h1M153 57.5h1M155 57.5h1M160 57.5h1M164 57.5h1M170 57.5h1M172 57.5h1M174 57.5h1M182 57.5h1M191 57.5h1M194 57.5h1M198 57.5h1M202 57.5h2M206 57.5h1M219 57.5h1M254 57.5h1M257 57.5h2M262 57.5h1M14 91.5h1M33 91.5h1M47 91.5h1M86 91.5h1M118 91.5h1M130 91.5h1M149 91.5h1M152 91.5h1M165 91.5h1M235 91.5h1M254 91.5h1M288 91.5h1M292 91.5h1M301 91.5h1M304 91.5h2M316 91.5h1M325 91.5h1M331 91.5h1M336 91.5h1M338 91.5h1M564 91.5h1M25 108.5h1M34 108.5h1M40 108.5h1M57 108.5h1M523 108.5h1M534 108.5h1M568 108.5h1M31 143.5h1M63 143.5h1M4 160.5h2M8 160.5h2M28 160.5h2M32 160.5h8M356 160.5h2M372 160.5h4M382 160.5h2M386 160.5h2M398 160.5h4M404 160.5h4M414 160.5h2M440 160.5h2M444 160.5h2M448 160.5h2M504 160.5h2M508 160.5h6M520 160.5h1M526 160.5h1M529 160.5h1M534 160.5h1M538 160.5h1M543 160.5h1M547 160.5h1M550 160.5h1M553 160.5h1M556 160.5h1M570 160.5h1M5 177.5h1M11 177.5h1M20 177.5h1M23 177.5h1M49 177.5h1M68 177.5h1M70 177.5h1M524 177.5h1M540 177.5h1M648 177.5h1M651 177.5h1M1 229.5h1M3 229.5h1M10 229.5h2M13 229.5h1M16 229.5h1M21 229.5h1M23 229.5h1M25 229.5h1M29 229.5h1M40 229.5h1M43 229.5h1M50 229.5h1M61 229.5h1M66 229.5h1M115 229.5h1M522 229.5h2M526 229.5h1M529 229.5h1M53 246.5h2M57 246.5h1M92 246.5h1M100 246.5h1M103 246.5h1M105 246.5h1M116 246.5h1M127 246.5h2M172 246.5h1M177 246.5h1M180 246.5h2M188 246.5h1M232 246.5h1M251 246.5h1M260 246.5h1M264 246.5h1M267 246.5h2M285 246.5h1M289 246.5h2M328 246.5h1M332 246.5h1M338 246.5h3M511 246.5h1M8 263.5h4M14 263.5h6M40 263.5h2M1 280.5h1M5 280.5h1M22 280.5h1M24 280.5h1M34 280.5h1M51 280.5h1M58 280.5h1M61 280.5h1M72 280.5h1M75 280.5h2M86 280.5h2M92 280.5h1M100 280.5h2M109 280.5h2M112 280.5h1M116 280.5h1M125 280.5h2M131 280.5h1M133 280.5h1M138 280.5h1M170 280.5h2M177 280.5h1M190 280.5h1M194 280.5h2M198 280.5h1M201 280.5h1M207 280.5h2M210 280.5h4M220 280.5h1M223 280.5h1M225 280.5h2M235 280.5h1M238 280.5h1M287 280.5h1M302 280.5h1M315 280.5h1M16 315.5h2M20 315.5h2M30 315.5h2M0 332.5h2M12 332.5h2M18 332.5h2M26 332.5h10M50 332.5h4M56 332.5h8M70 332.5h4M80 332.5h2M96 332.5h2M102 332.5h2M106 332.5h2M124 332.5h2M128 332.5h4M138 332.5h2M156 332.5h2M162 332.5h4M168 332.5h2M174 332.5h2M184 332.5h4M190 332.5h4M198 332.5h2M222 332.5h2M10 349.5h2M42 349.5h2M46 349.5h2M86 349.5h2M336 349.5h1M377 349.5h1M393 349.5h1M428 349.5h2M461 349.5h1M468 349.5h2M474 349.5h1M477 349.5h1M498 349.5h1M0 366.5h2M10 366.5h2M16 366.5h2M20 366.5h2M44 366.5h2M52 366.5h2M56 366.5h2M60 366.5h4M72 366.5h4M78 366.5h2M86 366.5h4M94 366.5h4M104 366.5h2M118 366.5h2M132 366.5h4M140 366.5h2M152 366.5h6M160 366.5h2M164 366.5h2M170 366.5h2M174 366.5h2M178 366.5h2M198 366.5h4M204 366.5h2M208 366.5h2M212 366.5h2M226 366.5h4M236 366.5h2M246 366.5h2M260 366.5h2M266 366.5h2M272 366.5h2M276 366.5h2M282 366.5h2M300 366.5h4M318 366.5h6M326 366.5h2M334 366.5h2M342 366.5h2M350 366.5h2M358 366.5h2M364 366.5h2M370 366.5h2M376 366.5h2M384 366.5h2M394 366.5h2M398 366.5h4M404 366.5h4M412 366.5h2M418 366.5h2M424 366.5h8M444 366.5h4M456 366.5h4M466 366.5h2M472 366.5h4M484 366.5h4M490 366.5h2M500 366.5h2M504 366.5h6M526 366.5h2M538 366.5h2M548 366.5h2M556 366.5h2M560 366.5h2M566 366.5h2M580 366.5h2M596 366.5h4M602 366.5h4M612 366.5h8M622 366.5h2M626 366.5h2M634 366.5h4M646 366.5h2M652 366.5h4M664 366.5h4M674 366.5h4M684 366.5h2M698 366.5h2M10 401.5h2M22 401.5h2M38 401.5h2M46 401.5h2M50 401.5h2M54 401.5h2M62 401.5h2M88 401.5h2M96 401.5h2M100 401.5h4M124 401.5h2M132 401.5h6M146 401.5h2M154 401.5h2M164 401.5h4M180 401.5h2M186 401.5h2M190 401.5h8M212 401.5h12M234 401.5h4M256 401.5h2M368 401.5h4M380 401.5h4M570 401.5h4M4 418.5h2M10 418.5h2M16 418.5h2M20 418.5h4M238 418.5h2M246 418.5h2M254 418.5h2M260 418.5h2M280 418.5h2M296 418.5h8M308 418.5h2M360 418.5h6M384 418.5h2M598 418.5h2M620 418.5h2M624 418.5h2M634 418.5h2"/>
<path stroke="#8ed7d1" d="M8 57.5h1M15 57.5h1M220 57.5h1M225 57.5h2M42 91.5h1M44 91.5h1M49 91.5h1M61 91.5h1M64 91.5h1M72 91.5h1M78 91.5h1M99 91.5h1M106 91.5h1M111 91.5h1M114 91.5h1M116 91.5h1M121 91.5h1M138 91.5h2M141 91.5h3M146 91.5h2M151 91.5h1M197 91.5h1M208 91.5h1M214 91.5h1M239 91.5h1M241 91.5h1M246 91.5h1M248 91.5h2M253 91.5h1M255 91.5h1M262 91.5h1M290 91.5h1M295 91.5h2M323 91.5h2M327 91.5h3M332 91.5h1M340 91.5h1M387 91.5h1M392 91.5h1M401 91.5h2M415 91.5h1M445 91.5h1M465 91.5h1M471 91.5h1M476 91.5h1M566 91.5h2M16 108.5h1M38 108.5h1M60 108.5h2M86 108.5h1M124 108.5h1M515 108.5h1M524 108.5h1M553 108.5h1M597 108.5h1M40 160.5h2M46 160.5h2M58 160.5h2M84 160.5h2M198 160.5h6M206 160.5h2M210 160.5h2M230 160.5h4M238 160.5h2M248 160.5h2M262 160.5h2M266 160.5h4M276 160.5h4M282 160.5h4M288 160.5h2M296 160.5h2M304 160.5h2M310 160.5h2M334 160.5h2M460 160.5h2M464 160.5h2M468 160.5h2M478 160.5h2M482 160.5h2M634 160.5h2M640 160.5h4M646 160.5h2M668 160.5h4M80 177.5h1M82 177.5h1M86 177.5h1M89 177.5h1M128 177.5h1M131 177.5h2M137 177.5h1M141 177.5h1M484 177.5h1M486 177.5h1M488 177.5h1M494 177.5h1M515 177.5h1M519 177.5h1M539 177.5h1M136 194.5h2M156 194.5h2M200 194.5h2M262 194.5h4M268 194.5h2M278 194.5h4M296 194.5h2M306 194.5h2M312 194.5h2M330 194.5h2M340 194.5h2M348 194.5h2M352 194.5h2M26 229.5h1M98 229.5h1M105 229.5h1M108 246.5h1M118 246.5h2M147 246.5h1M159 246.5h1M162 246.5h1M168 246.5h1M171 246.5h1M174 246.5h1M185 246.5h1M226 246.5h1M228 246.5h1M230 246.5h1M236 246.5h1M245 246.5h1M247 246.5h1M249 246.5h2M257 246.5h2M272 246.5h1M282 246.5h1M286 246.5h3M291 246.5h1M544 263.5h2M84 280.5h1M28 349.5h2M208 349.5h2M228 349.5h2M546 349.5h2M294 401.5h2M352 401.5h8M314 418.5h2M328 418.5h4M600 418.5h2"/>
<path stroke="#619dd4" d="M11 57.5h1M49 57.5h1M59 57.5h1M77 57.5h1M80 57.5h1M84 57.5h1M86 57.5h2M89 57.5h2M92 57.5h2M95 57.5h1M112 57.5h1M127 57.5h1M136 57.5h1M143 57.5h1M145 57.5h1M176 57.5h1M181 57.5h1M188 57.5h1M190 57.5h1M201 57.5h1M208 57.5h1M212 57.5h2M244 57.5h1M249 57.5h1M281 57.5h1M288 57.5h1M293 57.5h1M297 57.5h3M3 91.5h1M6 91.5h1M10 91.5h1M23 91.5h2M30 91.5h1M32 91.5h1M187 91.5h1M31 108.5h1M33 108.5h1M49 108.5h1M53 108.5h1M62 108.5h1M70 108.5h1M521 108.5h1M526 108.5h1M536 108.5h1M542 108.5h1M544 108.5h1M554 108.5h1M557 108.5h1M595 108.5h1M660 108.5h1M14 143.5h1M21 143.5h1M47 143.5h1M56 143.5h1M77 143.5h1M502 160.5h2M506 160.5h2M514 160.5h6M524 160.5h1M542 160.5h1M554 160.5h1M564 160.5h1M569 160.5h1M572 160.5h1M574 160.5h1M577 160.5h1M582 160.5h2M586 160.5h2M594 160.5h2M598 160.5h2M604 160.5h2M688 160.5h2M692 160.5h2M3 177.5h2M7 177.5h1M10 177.5h1M12 177.5h1M15 177.5h1M21 177.5h1M29 177.5h1M33 177.5h2M37 177.5h1M43 177.5h1M73 177.5h1M76 177.5h1M544 177.5h1M44 229.5h1M47 229.5h1M49 229.5h1M57 229.5h2M113 229.5h1M116 229.5h1M14 246.5h1M16 246.5h2M49 246.5h3M56 246.5h1M68 246.5h2M74 246.5h1M81 246.5h2M94 246.5h1M104 246.5h1M294 246.5h1M301 246.5h1M308 246.5h1M322 246.5h1M326 246.5h1M346 246.5h1M392 246.5h3M396 246.5h1M403 246.5h1M405 246.5h1M414 246.5h1M420 246.5h1M505 246.5h1M507 246.5h1M513 246.5h1M516 246.5h1M4 263.5h2M44 263.5h2M54 263.5h2M374 263.5h2M7 280.5h1M37 280.5h1M52 280.5h1M57 280.5h1M80 280.5h1M83 280.5h1M97 280.5h1M113 280.5h2M118 280.5h1M130 280.5h1M139 280.5h1M141 280.5h1M143 280.5h1M145 280.5h3M149 280.5h1M151 280.5h1M157 280.5h1M161 280.5h1M172 280.5h2M176 280.5h1M184 280.5h1M191 280.5h3M196 280.5h2M199 280.5h2M228 280.5h1M236 280.5h1M240 280.5h2M251 280.5h2M256 280.5h1M263 280.5h1M265 280.5h2M284 280.5h1M288 280.5h1M293 280.5h1M297 280.5h1M300 280.5h1M303 280.5h1M306 280.5h2M317 280.5h1M320 280.5h1M324 280.5h1M327 280.5h1M329 280.5h1M332 280.5h1M340 280.5h1M342 280.5h2M350 280.5h1M479 280.5h1M40 315.5h2M48 315.5h2M70 315.5h4M206 332.5h2M220 332.5h2M224 332.5h2M238 332.5h6M250 332.5h2M256 332.5h2M260 332.5h2M266 332.5h4M278 332.5h4M284 332.5h2M290 332.5h2M296 332.5h4M302 332.5h4M310 332.5h2M316 332.5h2M322 332.5h2M326 332.5h2M330 332.5h2M334 332.5h2M344 332.5h2M352 332.5h2M520 332.5h2M526 332.5h2M532 332.5h2M0 349.5h1M5 349.5h1M281 349.5h1M285 349.5h1M290 349.5h1M292 349.5h1M328 349.5h2M337 349.5h1M341 349.5h1M349 349.5h1M370 349.5h1M388 349.5h1M408 349.5h1M411 349.5h1M431 349.5h2M448 349.5h1M455 349.5h1M471 349.5h2M552 349.5h2M150 366.5h2M176 366.5h2M414 366.5h2M482 366.5h2M510 366.5h2M644 366.5h2M648 366.5h2M668 366.5h2M678 366.5h2M682 366.5h2M688 366.5h4M718 366.5h2M138 401.5h4M360 401.5h2M6 418.5h2M14 418.5h2M26 418.5h4M38 418.5h2M90 418.5h2M104 418.5h2M140 418.5h2M160 418.5h4M168 418.5h2M174 418.5h2M186 418.5h2M202 418.5h2M208 418.5h4M214 418.5h2M218 418.5h2M222 418.5h6M242 418.5h4M250 418.5h2M256 418.5h4M268 418.5h10M282 418.5h2M286 418.5h2M290 418.5h2M380 418.5h2M388 418.5h4M394 418.5h2M402 418.5h2M418 418.5h6M432 418.5h2M618 418.5h2M628 418.5h2M632 418.5h2M636 418.5h2"/>
<path stroke="#93d8c3" d="M12 57.5h3M221 57.5h1M228 57.5h3M43 91.5h1M46 91.5h1M57 91.5h1M65 91.5h2M80 91.5h1M87 91.5h2M90 91.5h1M93 91.5h1M109 91.5h1M120 91.5h1M122 91.5h1M124 91.5h1M131 91.5h1M134 91.5h1M137 91.5h1M140 91.5h1M164 91.5h1M191 91.5h1M196 91.5h1M203 91.5h1M213 91.5h1M215 91.5h2M220 91.5h1M224 91.5h1M227 91.5h1M230 91.5h1M243 91.5h1M247 91.5h1M251 91.5h1M257 91.5h1M307 91.5h1M315 91.5h1M318 91.5h2M321 91.5h1M370 91.5h1M374 91.5h1M376 91.5h2M389 91.5h2M398 91.5h1M405 91.5h1M408 91.5h1M410 91.5h1M426 91.5h1M428 91.5h2M433 91.5h1M435 91.5h1M446 91.5h2M452 91.5h2M474 91.5h1M484 91.5h2M569 91.5h1M605 91.5h1M4 108.5h1M15 108.5h1M44 108.5h1M74 108.5h1M78 108.5h1M82 108.5h1M88 108.5h1M90 108.5h1M96 108.5h1M101 108.5h1M108 108.5h1M111 108.5h1M288 108.5h1M473 108.5h1M494 108.5h1M503 108.5h1M506 108.5h1M537 108.5h1M559 108.5h1M16 143.5h1M52 160.5h2M104 160.5h2M142 160.5h2M148 160.5h2M194 160.5h2M212 160.5h4M228 160.5h2M234 160.5h4M246 160.5h2M252 160.5h2M292 160.5h2M302 160.5h2M306 160.5h4M312 160.5h2M324 160.5h4M330 160.5h2M340 160.5h2M470 160.5h4M662 160.5h4M72 177.5h1M129 177.5h2M133 177.5h2M139 177.5h1M142 177.5h1M456 177.5h1M458 177.5h1M475 177.5h1M479 177.5h1M485 177.5h1M492 177.5h1M508 177.5h1M511 177.5h1M240 194.5h8M250 194.5h12M266 194.5h2M270 194.5h2M274 194.5h4M282 194.5h2M286 194.5h8M298 194.5h8M308 194.5h4M314 194.5h4M320 194.5h10M334 194.5h4M342 194.5h2M346 194.5h2M350 194.5h2M354 194.5h8M380 194.5h2M384 194.5h4M396 194.5h2M418 194.5h2M672 194.5h2M99 229.5h1M101 229.5h3M4 246.5h1M114 246.5h1M135 246.5h1M140 246.5h1M143 246.5h2M148 246.5h1M151 246.5h1M156 246.5h1M160 246.5h1M165 246.5h1M196 246.5h2M203 246.5h1M227 246.5h1M241 246.5h1M255 246.5h1M259 246.5h1M278 246.5h1M281 246.5h1M526 263.5h4M48 349.5h2M230 349.5h2M390 349.5h1M292 401.5h2M298 401.5h2M352 418.5h2"/>
<path stroke="#5380c6" d="M42 57.5h1M56 57.5h2M64 57.5h1M69 57.5h1M72 57.5h2M78 57.5h1M102 57.5h1M106 57.5h1M234 57.5h1M238 57.5h3M242 57.5h1M266 57.5h1M268 57.5h1M289 57.5h1M292 57.5h1M295 57.5h1M312 57.5h1M338 57.5h1M345 57.5h1M393 57.5h2M409 57.5h1M425 57.5h1M451 57.5h2M472 57.5h1M488 57.5h1M492 57.5h1M496 57.5h1M516 57.5h1M1 91.5h2M9 91.5h1M15 91.5h1M17 91.5h1M27 91.5h1M31 91.5h1M34 91.5h1M36 91.5h1M170 91.5h1M184 91.5h1M265 91.5h1M272 91.5h1M280 91.5h1M287 91.5h1M344 91.5h1M346 91.5h3M354 91.5h1M9 108.5h1M24 108.5h1M37 108.5h1M39 108.5h1M511 108.5h1M518 108.5h1M565 108.5h1M601 108.5h1M622 108.5h1M625 108.5h1M630 108.5h1M644 108.5h1M661 108.5h1M664 108.5h1M671 108.5h1M690 108.5h1M701 108.5h1M716 108.5h1M19 143.5h1M62 143.5h1M68 143.5h1M78 143.5h1M97 143.5h1M523 160.5h1M533 160.5h1M535 160.5h1M544 160.5h2M548 160.5h1M561 160.5h1M576 160.5h1M578 160.5h1M596 160.5h2M602 160.5h2M648 160.5h2M8 177.5h1M26 177.5h1M41 177.5h1M48 177.5h1M50 177.5h1M52 177.5h1M58 177.5h2M78 177.5h1M659 177.5h1M45 229.5h1M81 229.5h2M111 229.5h1M12 246.5h1M93 246.5h1M296 246.5h1M303 246.5h2M309 246.5h2M313 246.5h2M319 246.5h1M321 246.5h1M345 246.5h1M349 246.5h1M354 246.5h1M398 246.5h3M404 246.5h1M416 246.5h2M419 246.5h1M504 246.5h1M46 263.5h2M50 263.5h4M96 263.5h2M71 280.5h1M77 280.5h1M123 280.5h1M140 280.5h1M155 280.5h1M159 280.5h1M164 280.5h1M169 280.5h1M180 280.5h1M206 280.5h1M218 280.5h1M242 280.5h1M244 280.5h1M274 280.5h1M277 280.5h1M286 280.5h1M291 280.5h2M301 280.5h1M308 280.5h1M334 280.5h1M341 280.5h1M344 280.5h2M352 280.5h1M358 280.5h2M361 280.5h1M395 280.5h1M412 280.5h1M417 280.5h1M420 280.5h1M423 280.5h1M440 280.5h1M462 280.5h1M465 280.5h2M468 280.5h1M511 280.5h1M52 315.5h2M62 315.5h2M74 315.5h2M232 332.5h2M236 332.5h2M246 332.5h2M292 332.5h2M300 332.5h2M338 332.5h6M348 332.5h4M354 332.5h2M360 332.5h2M364 332.5h2M368 332.5h10M380 332.5h2M386 332.5h2M390 332.5h2M404 332.5h2M410 332.5h2M416 332.5h2M426 332.5h4M436 332.5h2M446 332.5h2M452 332.5h2M460 332.5h4M470 332.5h2M480 332.5h2M484 332.5h2M492 332.5h2M496 332.5h2M502 332.5h2M508 332.5h2M512 332.5h4M518 332.5h2M522 332.5h4M528 332.5h2M566 332.5h2M580 332.5h2M590 332.5h2M594 332.5h2M626 332.5h4M658 332.5h2M690 332.5h2M698 332.5h2M279 349.5h1M293 349.5h1M344 349.5h1M353 349.5h1M371 349.5h1M373 349.5h1M433 349.5h1M444 349.5h1M453 349.5h1M460 349.5h1M463 349.5h1M476 349.5h1M481 349.5h1M489 349.5h1M520 401.5h2M574 401.5h4M48 418.5h2M62 418.5h4M74 418.5h2M78 418.5h2M88 418.5h2M94 418.5h2M106 418.5h4M130 418.5h2M136 418.5h4M144 418.5h2M148 418.5h4M158 418.5h2M166 418.5h2M188 418.5h2M194 418.5h2M228 418.5h2M234 418.5h2M386 418.5h2M406 418.5h4M412 418.5h2M424 418.5h6M440 418.5h2M448 418.5h2M458 418.5h2M470 418.5h2M476 418.5h4M490 418.5h2M496 418.5h2M500 418.5h2M510 418.5h2M522 418.5h2M638 418.5h2M644 418.5h2M656 418.5h2M664 418.5h4M670 418.5h2"/>
<path stroke="#5a8ecd" d="M58 57.5h1M62 57.5h1M65 57.5h1M70 57.5h2M82 57.5h1M85 57.5h1M91 57.5h1M96 57.5h2M104 57.5h1M109 57.5h1M111 57.5h1M138 57.5h1M157 57.5h1M236 57.5h2M241 57.5h1M246 57.5h1M251 57.5h1M269 57.5h1M272 57.5h3M278 57.5h2M285 57.5h2M290 57.5h1M296 57.5h1M497 57.5h1M503 57.5h1M0 91.5h1M8 91.5h1M11 91.5h1M16 91.5h1M18 91.5h1M21 91.5h2M35 91.5h1M38 91.5h1M186 91.5h1M268 91.5h1M281 91.5h1M284 91.5h1M14 108.5h1M17 108.5h1M527 108.5h1M561 108.5h1M571 108.5h1M593 108.5h1M654 108.5h1M665 108.5h1M688 108.5h1M719 108.5h1M36 143.5h1M45 143.5h2M525 160.5h1M530 160.5h3M541 160.5h1M546 160.5h1M549 160.5h1M555 160.5h1M557 160.5h1M567 160.5h1M571 160.5h1M575 160.5h1M580 160.5h2M584 160.5h2M588 160.5h6M606 160.5h2M650 160.5h2M680 160.5h2M686 160.5h2M690 160.5h2M694 160.5h6M9 177.5h1M24 177.5h2M28 177.5h1M31 177.5h1M38 177.5h1M40 177.5h1M44 177.5h1M46 177.5h1M61 177.5h1M65 177.5h1M67 177.5h1M69 177.5h1M541 177.5h1M545 177.5h2M41 229.5h1M73 229.5h1M108 229.5h1M114 229.5h1M117 229.5h3M15 246.5h1M47 246.5h1M70 246.5h1M75 246.5h2M78 246.5h1M121 246.5h1M297 246.5h1M299 246.5h1M305 246.5h1M317 246.5h2M320 246.5h1M327 246.5h1M330 246.5h2M334 246.5h1M348 246.5h1M356 246.5h1M410 246.5h1M423 246.5h2M426 246.5h2M508 246.5h1M510 246.5h1M512 246.5h1M515 246.5h1M517 246.5h1M6 263.5h2M42 263.5h2M48 263.5h2M18 280.5h1M122 280.5h1M132 280.5h1M135 280.5h1M137 280.5h1M148 280.5h1M150 280.5h1M152 280.5h1M154 280.5h1M156 280.5h1M162 280.5h1M165 280.5h2M179 280.5h1M181 280.5h3M185 280.5h1M216 280.5h2M221 280.5h1M227 280.5h1M232 280.5h1M243 280.5h1M248 280.5h1M250 280.5h1M254 280.5h1M257 280.5h1M260 280.5h3M264 280.5h1M269 280.5h5M279 280.5h2M282 280.5h1M285 280.5h1M299 280.5h1M305 280.5h1M309 280.5h1M311 280.5h1M318 280.5h1M322 280.5h2M326 280.5h1M333 280.5h1M338 280.5h1M354 280.5h2M357 280.5h1M404 280.5h1M406 280.5h1M42 315.5h6M50 315.5h2M54 315.5h8M64 315.5h6M200 332.5h6M208 332.5h4M214 332.5h6M226 332.5h2M230 332.5h2M234 332.5h2M248 332.5h2M258 332.5h2M264 332.5h2M270 332.5h8M282 332.5h2M286 332.5h4M294 332.5h2M306 332.5h4M312 332.5h4M318 332.5h4M324 332.5h2M328 332.5h2M332 332.5h2M336 332.5h2M346 332.5h2M358 332.5h2M382 332.5h4M388 332.5h2M394 332.5h2M406 332.5h4M412 332.5h4M418 332.5h4M432 332.5h2M440 332.5h2M454 332.5h6M464 332.5h4M472 332.5h4M478 332.5h2M482 332.5h2M486 332.5h2M490 332.5h2M494 332.5h2M498 332.5h2M504 332.5h4M510 332.5h2M530 332.5h2M534 332.5h6M9 349.5h1M280 349.5h1M343 349.5h1M382 349.5h1M385 349.5h1M407 349.5h1M415 349.5h1M425 349.5h1M440 349.5h1M449 349.5h1M459 349.5h1M490 349.5h1M497 349.5h1M499 349.5h1M554 349.5h2M700 366.5h2M704 366.5h2M708 366.5h2M712 366.5h2M716 366.5h2M362 401.5h6M522 401.5h2M582 401.5h2M24 418.5h2M40 418.5h2M50 418.5h4M70 418.5h2M76 418.5h2M80 418.5h4M96 418.5h4M110 418.5h4M120 418.5h2M126 418.5h2M134 418.5h2M152 418.5h2M164 418.5h2M176 418.5h2M182 418.5h2M190 418.5h2M196 418.5h2M212 418.5h2M216 418.5h2M382 418.5h2M392 418.5h2M396 418.5h6M410 418.5h2M414 418.5h4M430 418.5h2M436 418.5h4M446 418.5h2M494 418.5h2M524 418.5h2M602 418.5h2M606 418.5h4M614 418.5h4M626 418.5h2M672 418.5h2"/>
<path stroke="#4764b8" d="M60 57.5h1M232 57.5h2M235 57.5h1M245 57.5h1M267 57.5h1M287 57.5h1M294 57.5h1M302 57.5h1M307 57.5h1M310 57.5h1M318 57.5h1M320 57.5h2M323 57.5h2M334 57.5h1M341 57.5h1M346 57.5h1M349 57.5h2M352 57.5h1M354 57.5h1M363 57.5h1M369 57.5h1M373 57.5h1M377 57.5h1M379 57.5h2M382 57.5h3M388 57.5h3M392 57.5h1M399 57.5h1M403 57.5h2M408 57.5h1M413 57.5h1M416 57.5h1M418 57.5h1M422 57.5h1M428 57.5h1M437 57.5h2M441 57.5h1M444 57.5h1M446 57.5h1M458 57.5h1M460 57.5h3M468 57.5h1M481 57.5h2M484 57.5h2M487 57.5h1M494 57.5h1M505 57.5h1M507 57.5h2M583 57.5h1M589 57.5h1M592 57.5h1M634 57.5h1M12 91.5h1M19 91.5h1M26 91.5h1M28 91.5h1M39 91.5h1M168 91.5h2M176 91.5h1M179 91.5h1M264 91.5h1M273 91.5h1M276 91.5h1M282 91.5h1M359 91.5h1M493 91.5h1M495 91.5h2M502 91.5h1M507 91.5h1M516 91.5h1M554 91.5h1M573 91.5h1M588 91.5h1M19 108.5h1M32 108.5h1M36 108.5h1M68 108.5h1M556 108.5h1M572 108.5h1M592 108.5h1M594 108.5h1M603 108.5h1M618 108.5h1M628 108.5h2M636 108.5h1M647 108.5h1M653 108.5h1M669 108.5h1M691 108.5h2M707 108.5h1M51 143.5h2M61 143.5h1M115 143.5h1M619 177.5h1M627 177.5h1M656 177.5h1M74 229.5h1M77 229.5h1M85 229.5h2M90 229.5h2M126 229.5h1M132 229.5h2M142 229.5h1M146 229.5h1M149 229.5h2M155 229.5h1M71 246.5h1M73 246.5h1M79 246.5h1M295 246.5h1M300 246.5h1M307 246.5h1M315 246.5h1M323 246.5h2M351 246.5h2M357 246.5h2M373 246.5h1M390 246.5h1M401 246.5h1M406 246.5h1M430 246.5h1M435 246.5h1M444 246.5h2M450 246.5h1M452 246.5h1M462 246.5h1M468 246.5h1M470 246.5h2M482 246.5h1M485 246.5h1M487 246.5h1M559 246.5h1M594 246.5h1M56 263.5h4M62 263.5h4M68 263.5h8M78 263.5h2M84 263.5h4M90 263.5h2M98 263.5h2M120 280.5h2M205 280.5h1M249 280.5h1M259 280.5h1M268 280.5h1M275 280.5h1M283 280.5h1M289 280.5h1M304 280.5h1M310 280.5h1M314 280.5h1M316 280.5h1M319 280.5h1M321 280.5h1M335 280.5h1M337 280.5h1M346 280.5h2M351 280.5h1M353 280.5h1M364 280.5h1M376 280.5h1M379 280.5h1M382 280.5h1M386 280.5h1M392 280.5h1M405 280.5h1M426 280.5h1M431 280.5h1M437 280.5h2M453 280.5h1M471 280.5h1M477 280.5h2M484 280.5h1M486 280.5h2M490 280.5h1M494 280.5h1M498 280.5h1M501 280.5h2M517 280.5h2M522 280.5h1M548 280.5h1M550 280.5h1M568 280.5h1M570 280.5h1M579 280.5h2M585 280.5h1M596 280.5h1M600 280.5h1M604 280.5h3M614 280.5h1M631 280.5h1M641 280.5h1M650 280.5h1M659 280.5h1M664 280.5h1M671 280.5h1M677 280.5h1M685 280.5h1M690 280.5h2M697 280.5h2M704 280.5h1M707 280.5h2M717 280.5h1M719 280.5h1M516 332.5h2M544 332.5h4M552 332.5h2M558 332.5h4M564 332.5h2M568 332.5h4M574 332.5h2M578 332.5h2M596 332.5h6M604 332.5h4M612 332.5h2M620 332.5h2M630 332.5h10M646 332.5h2M650 332.5h4M660 332.5h6M668 332.5h2M676 332.5h2M682 332.5h2M706 332.5h4M712 332.5h6M1 349.5h1M4 349.5h1M6 349.5h1M276 349.5h1M278 349.5h1M282 349.5h1M284 349.5h1M288 349.5h1M291 349.5h1M295 349.5h1M333 349.5h2M339 349.5h1M346 349.5h1M352 349.5h1M355 349.5h1M359 349.5h1M367 349.5h1M374 349.5h1M376 349.5h1M400 349.5h2M404 349.5h1M406 349.5h1M409 349.5h1M417 349.5h3M424 349.5h1M470 349.5h1M473 349.5h1M475 349.5h1M485 349.5h2M384 401.5h2M388 401.5h2M392 401.5h4M402 401.5h8M414 401.5h2M418 401.5h6M428 401.5h2M444 401.5h4M452 401.5h12M468 401.5h6M476 401.5h6M492 401.5h2M496 401.5h2M500 401.5h6M510 401.5h4M516 401.5h4M702 401.5h2M44 418.5h2M58 418.5h2M72 418.5h2M92 418.5h2M114 418.5h2M122 418.5h2M444 418.5h2M450 418.5h6M464 418.5h2M482 418.5h2M486 418.5h2M502 418.5h2M506 418.5h2M516 418.5h2M652 418.5h2M660 418.5h2"/>
<path stroke="#4c72bf" d="M61 57.5h1M63 57.5h1M67 57.5h1M76 57.5h1M83 57.5h1M98 57.5h1M108 57.5h1M243 57.5h1M247 57.5h1M250 57.5h1M264 57.5h1M270 57.5h2M275 57.5h3M280 57.5h1M283 57.5h2M291 57.5h1M305 57.5h2M308 57.5h2M325 57.5h1M329 57.5h1M331 57.5h2M336 57.5h1M340 57.5h1M342 57.5h1M355 57.5h1M358 57.5h2M364 57.5h2M371 57.5h1M374 57.5h1M376 57.5h1M378 57.5h1M391 57.5h1M397 57.5h1M402 57.5h1M406 57.5h2M410 57.5h1M412 57.5h1M414 57.5h1M419 57.5h1M426 57.5h2M429 57.5h1M431 57.5h2M435 57.5h1M439 57.5h1M443 57.5h1M449 57.5h1M453 57.5h5M459 57.5h1M465 57.5h3M475 57.5h2M490 57.5h1M495 57.5h1M499 57.5h1M511 57.5h1M515 57.5h1M518 57.5h1M581 57.5h1M5 91.5h1M20 91.5h1M25 91.5h1M177 91.5h1M183 91.5h1M266 91.5h1M270 91.5h2M274 91.5h1M278 91.5h2M283 91.5h1M357 91.5h1M509 91.5h1M519 91.5h1M572 91.5h1M28 108.5h1M501 108.5h1M512 108.5h2M562 108.5h1M573 108.5h1M579 108.5h1M581 108.5h2M585 108.5h1M600 108.5h1M602 108.5h1M610 108.5h1M615 108.5h1M617 108.5h1M626 108.5h1M632 108.5h1M638 108.5h1M643 108.5h1M649 108.5h1M652 108.5h1M662 108.5h1M704 108.5h1M715 108.5h1M718 108.5h1M29 143.5h1M40 143.5h1M60 143.5h1M67 143.5h1M75 143.5h1M652 160.5h2M542 177.5h2M72 229.5h1M75 229.5h1M79 229.5h2M88 229.5h1M140 229.5h1M157 229.5h1M72 246.5h1M292 246.5h2M298 246.5h1M302 246.5h1M306 246.5h1M311 246.5h2M316 246.5h1M325 246.5h1M347 246.5h1M350 246.5h1M353 246.5h1M355 246.5h1M395 246.5h1M397 246.5h1M402 246.5h1M407 246.5h1M411 246.5h2M418 246.5h1M421 246.5h1M474 246.5h1M476 246.5h1M506 246.5h1M582 246.5h1M76 263.5h2M88 263.5h2M372 263.5h2M158 280.5h1M160 280.5h1M245 280.5h2M255 280.5h1M258 280.5h1M267 280.5h1M276 280.5h1M281 280.5h1M290 280.5h1M295 280.5h1M312 280.5h2M325 280.5h1M328 280.5h1M330 280.5h2M336 280.5h1M339 280.5h1M348 280.5h2M356 280.5h1M362 280.5h1M368 280.5h2M371 280.5h1M373 280.5h1M377 280.5h1M387 280.5h1M390 280.5h1M396 280.5h1M400 280.5h1M402 280.5h1M407 280.5h1M409 280.5h1M421 280.5h2M427 280.5h1M429 280.5h1M432 280.5h1M434 280.5h1M436 280.5h1M441 280.5h3M447 280.5h2M450 280.5h1M454 280.5h1M467 280.5h1M469 280.5h2M481 280.5h1M483 280.5h1M488 280.5h2M492 280.5h1M496 280.5h1M499 280.5h1M505 280.5h1M516 280.5h1M520 280.5h1M547 280.5h1M652 280.5h2M362 332.5h2M366 332.5h2M378 332.5h2M392 332.5h2M396 332.5h8M422 332.5h4M430 332.5h2M434 332.5h2M438 332.5h2M442 332.5h4M448 332.5h4M468 332.5h2M476 332.5h2M488 332.5h2M500 332.5h2M548 332.5h4M556 332.5h2M562 332.5h2M588 332.5h2M592 332.5h2M602 332.5h2M608 332.5h2M614 332.5h4M622 332.5h2M640 332.5h4M648 332.5h2M654 332.5h4M670 332.5h6M678 332.5h4M684 332.5h2M688 332.5h2M692 332.5h4M700 332.5h6M718 332.5h2M8 349.5h1M162 349.5h2M283 349.5h1M356 349.5h1M372 349.5h1M380 349.5h1M389 349.5h1M399 349.5h1M420 349.5h1M434 349.5h1M445 349.5h1M454 349.5h1M492 349.5h1M496 349.5h1M142 401.5h2M400 401.5h2M410 401.5h2M426 401.5h2M438 401.5h2M466 401.5h2M498 401.5h2M524 401.5h1M578 401.5h4M42 418.5h2M54 418.5h4M60 418.5h2M66 418.5h4M84 418.5h4M100 418.5h4M116 418.5h4M124 418.5h2M128 418.5h2M132 418.5h2M142 418.5h2M146 418.5h2M154 418.5h4M184 418.5h2M434 418.5h2M442 418.5h2M456 418.5h2M462 418.5h2M468 418.5h2M480 418.5h2M484 418.5h2M488 418.5h2M498 418.5h2M512 418.5h2M518 418.5h4M526 418.5h2M640 418.5h4M646 418.5h4M654 418.5h2M658 418.5h2M662 418.5h2M674 418.5h6"/>
<path stroke="#9fdc9f" d="M231 57.5h1M84 91.5h1M108 91.5h1M189 91.5h1M206 91.5h2M223 91.5h1M238 91.5h1M372 91.5h1M379 91.5h1M381 91.5h1M383 91.5h2M394 91.5h2M400 91.5h1M407 91.5h1M409 91.5h1M423 91.5h1M427 91.5h1M432 91.5h1M436 91.5h1M440 91.5h2M448 91.5h2M466 91.5h1M468 91.5h1M477 91.5h1M597 91.5h1M599 91.5h1M601 91.5h1M1 108.5h1M7 108.5h1M80 108.5h1M95 108.5h1M97 108.5h1M110 108.5h1M168 108.5h1M174 108.5h1M296 108.5h1M320 108.5h1M407 108.5h1M462 108.5h1M475 108.5h1M482 108.5h1M505 108.5h1M516 108.5h2M519 108.5h1M546 108.5h1M596 108.5h1M598 108.5h1M100 160.5h4M118 160.5h2M132 160.5h6M144 160.5h2M158 160.5h2M176 160.5h4M184 160.5h2M216 160.5h4M224 160.5h2M320 160.5h2M616 160.5h2M622 160.5h4M628 160.5h2M103 177.5h1M107 177.5h1M112 177.5h1M116 177.5h1M122 177.5h2M148 177.5h3M155 177.5h1M161 177.5h1M454 177.5h1M463 177.5h1M468 177.5h1M470 177.5h2M473 177.5h2M480 177.5h1M482 177.5h1M487 177.5h1M489 177.5h1M493 177.5h1M510 177.5h1M382 194.5h2M394 194.5h2M398 194.5h2M666 194.5h2M674 194.5h2M682 194.5h2M110 246.5h1M190 246.5h1M194 246.5h1M204 246.5h1M215 246.5h1M217 246.5h1M253 246.5h1M256 246.5h1M279 246.5h1M283 246.5h1M26 263.5h2M530 418.5h2"/>
<path stroke="#3e4fad" d="M300 57.5h2M303 57.5h2M316 57.5h2M319 57.5h1M326 57.5h2M335 57.5h1M353 57.5h1M360 57.5h1M362 57.5h1M366 57.5h3M385 57.5h2M395 57.5h1M401 57.5h1M405 57.5h1M417 57.5h1M420 57.5h1M423 57.5h1M433 57.5h1M436 57.5h1M440 57.5h1M448 57.5h1M450 57.5h1M469 57.5h1M471 57.5h1M474 57.5h1M478 57.5h1M480 57.5h1M483 57.5h1M486 57.5h1M491 57.5h1M500 57.5h3M504 57.5h1M509 57.5h2M514 57.5h1M517 57.5h1M519 57.5h1M521 57.5h2M529 57.5h1M533 57.5h1M542 57.5h1M544 57.5h1M548 57.5h1M553 57.5h1M562 57.5h1M571 57.5h1M584 57.5h2M594 57.5h1M601 57.5h1M603 57.5h3M608 57.5h1M614 57.5h1M618 57.5h1M631 57.5h1M633 57.5h1M636 57.5h1M638 57.5h1M641 57.5h1M645 57.5h1M647 57.5h1M651 57.5h1M657 57.5h1M664 57.5h1M679 57.5h1M681 57.5h1M684 57.5h1M691 57.5h2M696 57.5h1M700 57.5h2M705 57.5h2M709 57.5h1M713 57.5h1M718 57.5h1M10 74.5h2M384 74.5h4M172 91.5h1M174 91.5h1M181 91.5h2M285 91.5h1M349 91.5h1M355 91.5h1M363 91.5h1M486 91.5h1M488 91.5h1M492 91.5h1M494 91.5h1M503 91.5h2M508 91.5h1M556 91.5h3M560 91.5h2M575 91.5h1M591 91.5h1M578 108.5h1M580 108.5h1M591 108.5h1M634 108.5h1M637 108.5h1M639 108.5h2M645 108.5h1M658 108.5h1M689 108.5h1M693 108.5h1M712 108.5h1M20 143.5h1M30 143.5h1M49 143.5h2M71 143.5h1M79 143.5h1M99 143.5h1M104 143.5h1M114 143.5h1M706 160.5h2M712 160.5h2M557 177.5h1M563 177.5h4M570 177.5h1M576 177.5h1M579 177.5h1M581 177.5h2M588 177.5h1M592 177.5h1M600 177.5h1M603 177.5h1M612 177.5h3M616 177.5h2M635 177.5h1M640 177.5h1M644 177.5h1M83 229.5h1M120 229.5h1M122 229.5h1M124 229.5h2M127 229.5h1M129 229.5h2M134 229.5h1M136 229.5h2M139 229.5h1M143 229.5h1M148 229.5h1M151 229.5h1M156 229.5h1M158 229.5h2M193 229.5h1M59 246.5h2M63 246.5h3M67 246.5h1M364 246.5h1M375 246.5h1M379 246.5h2M382 246.5h2M391 246.5h1M429 246.5h1M433 246.5h1M437 246.5h1M439 246.5h1M442 246.5h1M451 246.5h1M455 246.5h2M465 246.5h1M469 246.5h1M480 246.5h1M489 246.5h1M496 246.5h3M501 246.5h1M524 246.5h1M527 246.5h1M539 246.5h2M545 246.5h1M548 246.5h1M552 246.5h1M554 246.5h1M560 246.5h1M568 246.5h2M571 246.5h1M581 246.5h1M585 246.5h1M587 246.5h1M591 246.5h2M595 246.5h1M122 263.5h4M134 263.5h2M146 263.5h6M160 263.5h2M164 263.5h2M174 263.5h2M178 263.5h4M204 263.5h2M212 263.5h2M218 263.5h2M226 263.5h2M230 263.5h2M236 263.5h2M240 263.5h2M250 263.5h4M264 263.5h2M268 263.5h2M272 263.5h8M286 263.5h4M294 263.5h2M302 263.5h6M316 263.5h2M320 263.5h2M332 263.5h2M338 263.5h4M354 263.5h2M358 263.5h2M366 263.5h4M376 263.5h2M380 263.5h2M390 263.5h2M486 263.5h2M247 280.5h1M278 280.5h1M365 280.5h1M370 280.5h1M378 280.5h1M381 280.5h1M384 280.5h1M389 280.5h1M393 280.5h2M398 280.5h1M403 280.5h1M408 280.5h1M411 280.5h1M413 280.5h1M416 280.5h1M418 280.5h1M424 280.5h1M433 280.5h1M445 280.5h2M449 280.5h1M452 280.5h1M458 280.5h1M463 280.5h1M474 280.5h3M480 280.5h1M485 280.5h1M493 280.5h1M497 280.5h1M503 280.5h1M506 280.5h1M508 280.5h1M512 280.5h1M519 280.5h1M529 280.5h3M535 280.5h2M538 280.5h1M541 280.5h1M545 280.5h1M549 280.5h1M556 280.5h1M558 280.5h1M563 280.5h1M567 280.5h1M572 280.5h1M582 280.5h1M584 280.5h1M588 280.5h1M592 280.5h1M594 280.5h2M607 280.5h1M618 280.5h2M623 280.5h1M637 280.5h2M649 280.5h1M656 280.5h1M663 280.5h1M676 280.5h1M680 280.5h2M687 280.5h1M706 280.5h1M718 280.5h1M96 315.5h2M106 315.5h2M114 315.5h2M120 315.5h2M128 315.5h2M140 315.5h2M148 315.5h2M152 315.5h2M156 315.5h2M160 315.5h2M182 315.5h4M192 315.5h2M204 315.5h6M216 315.5h2M224 315.5h6M238 315.5h2M542 332.5h2M666 332.5h2M130 349.5h2M140 349.5h2M146 349.5h4M154 349.5h2M270 349.5h2M348 349.5h1M357 349.5h1M362 349.5h2M378 349.5h1M402 349.5h1M412 349.5h1M416 349.5h1M430 349.5h1M437 349.5h1M446 349.5h1M510 349.5h2M518 349.5h2M608 401.5h2M614 401.5h4M620 401.5h8M632 401.5h2M636 401.5h14M652 401.5h4M660 401.5h2M664 401.5h2M668 401.5h4M676 401.5h4M682 401.5h2M688 401.5h4M700 401.5h2M706 401.5h6M714 401.5h4M472 418.5h2M680 418.5h2M686 418.5h2M704 418.5h2M708 418.5h2M712 418.5h2M716 418.5h2"/>
<path stroke="#425ab3" d="M311 57.5h1M313 57.5h3M322 57.5h1M328 57.5h1M330 57.5h1M333 57.5h1M337 57.5h1M339 57.5h1M343 57.5h2M348 57.5h1M356 57.5h2M361 57.5h1M370 57.5h1M372 57.5h1M375 57.5h1M381 57.5h1M387 57.5h1M396 57.5h1M398 57.5h1M400 57.5h1M411 57.5h1M415 57.5h1M421 57.5h1M424 57.5h1M430 57.5h1M434 57.5h1M442 57.5h1M445 57.5h1M447 57.5h1M463 57.5h2M470 57.5h1M473 57.5h1M477 57.5h1M479 57.5h1M489 57.5h1M493 57.5h1M498 57.5h1M506 57.5h1M512 57.5h2M526 57.5h3M531 57.5h1M539 57.5h2M549 57.5h1M556 57.5h2M568 57.5h1M573 57.5h1M577 57.5h1M582 57.5h1M586 57.5h1M590 57.5h1M593 57.5h1M596 57.5h5M620 57.5h3M624 57.5h1M626 57.5h1M628 57.5h1M637 57.5h1M639 57.5h1M654 57.5h1M656 57.5h1M683 57.5h1M687 57.5h1M694 57.5h1M711 57.5h1M717 57.5h1M7 91.5h1M171 91.5h1M173 91.5h1M267 91.5h1M275 91.5h1M277 91.5h1M286 91.5h1M361 91.5h2M364 91.5h1M487 91.5h1M489 91.5h1M491 91.5h1M498 91.5h1M500 91.5h2M518 91.5h1M552 91.5h1M562 91.5h1M21 108.5h2M564 108.5h1M583 108.5h1M587 108.5h1M605 108.5h1M611 108.5h1M614 108.5h1M627 108.5h1M646 108.5h1M650 108.5h1M655 108.5h1M663 108.5h1M668 108.5h1M672 108.5h1M676 108.5h1M678 108.5h1M694 108.5h1M698 108.5h1M703 108.5h1M708 108.5h1M18 143.5h1M28 143.5h1M89 143.5h1M94 143.5h1M109 143.5h1M121 143.5h1M548 177.5h2M552 177.5h1M556 177.5h1M567 177.5h1M573 177.5h1M583 177.5h1M589 177.5h1M598 177.5h1M604 177.5h3M608 177.5h2M615 177.5h1M621 177.5h1M623 177.5h1M631 177.5h3M639 177.5h1M642 177.5h1M655 177.5h1M76 229.5h1M78 229.5h1M84 229.5h1M87 229.5h1M89 229.5h1M138 229.5h1M154 229.5h1M200 229.5h1M66 246.5h1M344 246.5h1M359 246.5h1M362 246.5h2M366 246.5h2M370 246.5h3M386 246.5h2M389 246.5h1M428 246.5h1M431 246.5h1M434 246.5h1M443 246.5h1M447 246.5h1M449 246.5h1M457 246.5h1M464 246.5h1M473 246.5h1M475 246.5h1M477 246.5h3M484 246.5h1M490 246.5h1M492 246.5h3M502 246.5h2M536 246.5h1M550 246.5h1M553 246.5h1M558 246.5h1M561 246.5h1M580 246.5h1M586 246.5h1M598 246.5h1M60 263.5h2M66 263.5h2M80 263.5h4M92 263.5h4M200 263.5h2M210 263.5h2M378 263.5h2M384 263.5h2M392 263.5h2M253 280.5h1M294 280.5h1M298 280.5h1M360 280.5h1M372 280.5h1M375 280.5h1M380 280.5h1M383 280.5h1M391 280.5h1M397 280.5h1M401 280.5h1M410 280.5h1M414 280.5h2M419 280.5h1M425 280.5h1M430 280.5h1M435 280.5h1M439 280.5h1M444 280.5h1M451 280.5h1M455 280.5h3M460 280.5h1M472 280.5h2M482 280.5h1M491 280.5h1M500 280.5h1M504 280.5h1M507 280.5h1M510 280.5h1M514 280.5h2M527 280.5h1M532 280.5h2M542 280.5h2M551 280.5h1M554 280.5h1M559 280.5h1M562 280.5h1M569 280.5h1M573 280.5h5M587 280.5h1M597 280.5h1M599 280.5h1M609 280.5h2M617 280.5h1M627 280.5h1M630 280.5h1M636 280.5h1M639 280.5h1M642 280.5h1M646 280.5h1M655 280.5h1M658 280.5h1M660 280.5h3M666 280.5h1M668 280.5h3M684 280.5h1M686 280.5h1M688 280.5h1M695 280.5h2M703 280.5h1M709 280.5h1M711 280.5h3M715 280.5h1M76 315.5h4M540 332.5h2M554 332.5h2M572 332.5h2M576 332.5h2M582 332.5h6M610 332.5h2M618 332.5h2M624 332.5h2M644 332.5h2M686 332.5h2M696 332.5h2M710 332.5h2M2 349.5h1M156 349.5h6M289 349.5h1M347 349.5h1M358 349.5h1M364 349.5h2M383 349.5h1M387 349.5h1M391 349.5h1M396 349.5h1M398 349.5h1M405 349.5h1M410 349.5h1M435 349.5h1M438 349.5h1M441 349.5h1M443 349.5h1M447 349.5h1M457 349.5h1M467 349.5h1M479 349.5h2M483 349.5h1M500 349.5h4M512 349.5h2M386 401.5h2M390 401.5h2M396 401.5h4M412 401.5h2M416 401.5h2M424 401.5h2M430 401.5h8M440 401.5h4M448 401.5h4M464 401.5h2M474 401.5h2M482 401.5h10M494 401.5h2M506 401.5h4M514 401.5h2M584 401.5h2M588 401.5h4M610 401.5h4M618 401.5h2M630 401.5h2M634 401.5h2M656 401.5h2M662 401.5h2M674 401.5h2M686 401.5h2M466 418.5h2M474 418.5h2M492 418.5h2M504 418.5h2M508 418.5h2M514 418.5h2M650 418.5h2M668 418.5h2M684 418.5h2M688 418.5h2M692 418.5h2M698 418.5h4M710 418.5h2M714 418.5h2M718 418.5h2"/>
<path stroke="#3339a3" d="M347 57.5h1M537 57.5h1M541 57.5h1M560 57.5h1M569 57.5h1M572 57.5h1M574 57.5h1M579 57.5h1M602 57.5h1M609 57.5h2M616 57.5h1M619 57.5h1M629 57.5h1M635 57.5h1M642 57.5h2M646 57.5h1M649 57.5h1M661 57.5h3M667 57.5h1M672 57.5h1M674 57.5h1M677 57.5h1M682 57.5h1M690 57.5h1M695 57.5h1M698 57.5h2M703 57.5h2M708 57.5h1M714 57.5h1M2 74.5h2M78 74.5h2M175 91.5h1M180 91.5h1M356 91.5h1M358 91.5h1M369 91.5h1M490 91.5h1M497 91.5h1M511 91.5h1M517 91.5h1M523 91.5h1M526 91.5h1M540 91.5h1M547 91.5h1M570 91.5h2M587 91.5h1M590 91.5h1M18 108.5h1M569 108.5h1M608 108.5h1M631 108.5h1M641 108.5h1M648 108.5h1M651 108.5h1M674 108.5h1M679 108.5h1M685 108.5h1M700 108.5h1M702 108.5h1M709 108.5h2M714 108.5h1M44 143.5h1M48 143.5h1M59 143.5h1M86 143.5h1M102 143.5h1M110 143.5h1M113 143.5h1M708 160.5h4M553 177.5h1M562 177.5h1M571 177.5h1M575 177.5h1M577 177.5h1M580 177.5h1M584 177.5h1M590 177.5h2M595 177.5h1M597 177.5h1M599 177.5h1M601 177.5h1M622 177.5h1M625 177.5h2M628 177.5h1M634 177.5h1M637 177.5h1M641 177.5h1M647 177.5h1M683 177.5h1M695 177.5h1M144 229.5h2M147 229.5h1M162 229.5h1M171 229.5h1M177 229.5h1M181 229.5h1M183 229.5h2M194 229.5h1M203 229.5h2M209 229.5h1M211 229.5h1M215 229.5h1M217 229.5h2M222 229.5h2M227 229.5h2M239 229.5h1M270 229.5h1M348 229.5h1M393 229.5h1M543 229.5h1M20 246.5h1M22 246.5h2M26 246.5h1M28 246.5h1M34 246.5h1M38 246.5h1M61 246.5h1M365 246.5h1M369 246.5h1M377 246.5h2M384 246.5h2M432 246.5h1M441 246.5h1M448 246.5h1M454 246.5h1M458 246.5h2M461 246.5h1M463 246.5h1M467 246.5h1M486 246.5h1M491 246.5h1M495 246.5h1M521 246.5h1M526 246.5h1M538 246.5h1M541 246.5h1M557 246.5h1M572 246.5h2M590 246.5h1M596 246.5h2M606 246.5h1M104 263.5h2M112 263.5h2M116 263.5h6M130 263.5h4M136 263.5h2M140 263.5h4M154 263.5h2M162 263.5h2M166 263.5h6M176 263.5h2M202 263.5h2M206 263.5h2M216 263.5h2M220 263.5h2M224 263.5h2M228 263.5h2M234 263.5h2M238 263.5h2M242 263.5h2M254 263.5h2M258 263.5h2M266 263.5h2M284 263.5h2M290 263.5h4M298 263.5h2M310 263.5h6M322 263.5h2M328 263.5h2M334 263.5h2M348 263.5h4M356 263.5h2M402 263.5h1M404 263.5h2M412 263.5h1M424 263.5h1M428 263.5h2M437 263.5h1M443 263.5h1M454 263.5h2M460 263.5h1M463 263.5h1M467 263.5h1M471 263.5h1M482 263.5h4M490 263.5h2M385 280.5h1M428 280.5h1M461 280.5h1M521 280.5h1M523 280.5h1M525 280.5h1M528 280.5h1M537 280.5h1M539 280.5h1M557 280.5h1M561 280.5h1M565 280.5h1M571 280.5h1M583 280.5h1M586 280.5h1M591 280.5h1M598 280.5h1M616 280.5h1M621 280.5h1M625 280.5h2M632 280.5h3M640 280.5h1M644 280.5h1M647 280.5h1M667 280.5h1M672 280.5h1M682 280.5h1M689 280.5h1M693 280.5h2M699 280.5h2M714 280.5h1M716 280.5h1M80 315.5h2M100 315.5h2M112 315.5h2M118 315.5h2M142 315.5h2M150 315.5h2M164 315.5h2M168 315.5h8M178 315.5h4M186 315.5h6M196 315.5h4M212 315.5h2M230 315.5h2M236 315.5h2M240 315.5h2M244 315.5h2M248 315.5h6M256 315.5h4M264 315.5h4M274 315.5h2M278 315.5h6M288 315.5h2M294 315.5h2M298 315.5h6M306 315.5h2M310 315.5h4M316 315.5h4M104 349.5h2M126 349.5h2M134 349.5h2M150 349.5h4M198 349.5h2M202 349.5h6M274 349.5h2M314 349.5h2M318 349.5h2M495 349.5h1M520 349.5h3M558 349.5h2M588 349.5h2"/>
<path stroke="#3a44a8" d="M351 57.5h1M523 57.5h1M530 57.5h1M532 57.5h1M535 57.5h2M538 57.5h1M543 57.5h1M545 57.5h1M550 57.5h3M554 57.5h2M561 57.5h1M564 57.5h2M570 57.5h1M575 57.5h2M578 57.5h1M580 57.5h1M587 57.5h2M591 57.5h1M595 57.5h1M606 57.5h1M611 57.5h2M615 57.5h1M617 57.5h1M623 57.5h1M625 57.5h1M640 57.5h1M644 57.5h1M653 57.5h1M658 57.5h2M665 57.5h1M669 57.5h3M673 57.5h1M675 57.5h2M678 57.5h1M680 57.5h1M685 57.5h2M702 57.5h1M707 57.5h1M712 57.5h1M715 57.5h2M719 57.5h1M0 74.5h2M4 74.5h6M12 74.5h1M178 91.5h1M269 91.5h1M345 91.5h1M350 91.5h4M360 91.5h1M365 91.5h1M367 91.5h1M505 91.5h1M510 91.5h1M515 91.5h1M574 91.5h1M50 108.5h1M570 108.5h1M574 108.5h2M607 108.5h1M657 108.5h1M680 108.5h1M695 108.5h1M25 143.5h1M37 143.5h1M41 143.5h1M53 143.5h3M57 143.5h1M66 143.5h1M81 143.5h1M84 143.5h1M105 143.5h1M108 143.5h1M116 143.5h1M704 160.5h2M714 160.5h6M550 177.5h2M554 177.5h2M558 177.5h1M560 177.5h2M569 177.5h1M572 177.5h1M574 177.5h1M586 177.5h2M593 177.5h2M596 177.5h1M602 177.5h1M607 177.5h1M611 177.5h1M618 177.5h1M620 177.5h1M624 177.5h1M630 177.5h1M636 177.5h1M638 177.5h1M643 177.5h1M645 177.5h2M654 177.5h1M657 177.5h2M719 177.5h1M121 229.5h1M123 229.5h1M128 229.5h1M131 229.5h1M135 229.5h1M152 229.5h2M163 229.5h1M173 229.5h1M175 229.5h2M179 229.5h1M188 229.5h2M192 229.5h1M198 229.5h1M212 229.5h2M216 229.5h1M220 229.5h2M226 229.5h1M229 229.5h1M237 229.5h1M533 229.5h1M535 229.5h2M539 229.5h2M542 229.5h1M27 246.5h1M29 246.5h1M32 246.5h1M37 246.5h1M40 246.5h1M44 246.5h1M360 246.5h2M368 246.5h1M374 246.5h1M376 246.5h1M381 246.5h1M438 246.5h1M446 246.5h1M453 246.5h1M460 246.5h1M472 246.5h1M483 246.5h1M499 246.5h2M518 246.5h1M520 246.5h1M525 246.5h1M542 246.5h1M546 246.5h2M549 246.5h1M563 246.5h4M570 246.5h1M575 246.5h2M578 246.5h1M583 246.5h1M593 246.5h1M607 246.5h1M100 263.5h4M106 263.5h6M114 263.5h2M126 263.5h4M138 263.5h2M144 263.5h2M152 263.5h2M156 263.5h4M172 263.5h2M182 263.5h18M208 263.5h2M214 263.5h2M222 263.5h2M244 263.5h6M256 263.5h2M260 263.5h4M270 263.5h2M282 263.5h2M296 263.5h2M300 263.5h2M308 263.5h2M318 263.5h2M324 263.5h4M330 263.5h2M336 263.5h2M342 263.5h6M352 263.5h2M360 263.5h6M370 263.5h2M382 263.5h2M386 263.5h4M394 263.5h6M432 263.5h1M462 263.5h1M472 263.5h1M480 263.5h2M488 263.5h2M492 263.5h2M524 263.5h2M363 280.5h1M366 280.5h2M374 280.5h1M388 280.5h1M399 280.5h1M459 280.5h1M464 280.5h1M495 280.5h1M509 280.5h1M513 280.5h1M524 280.5h1M526 280.5h1M534 280.5h1M544 280.5h1M546 280.5h1M552 280.5h2M555 280.5h1M560 280.5h1M564 280.5h1M566 280.5h1M578 280.5h1M581 280.5h1M589 280.5h2M601 280.5h3M608 280.5h1M611 280.5h3M615 280.5h1M620 280.5h1M622 280.5h1M624 280.5h1M628 280.5h2M635 280.5h1M643 280.5h1M645 280.5h1M648 280.5h1M651 280.5h1M654 280.5h1M657 280.5h1M665 280.5h1M673 280.5h3M679 280.5h1M683 280.5h1M692 280.5h1M701 280.5h2M705 280.5h1M710 280.5h1M82 315.5h14M98 315.5h2M102 315.5h4M108 315.5h4M116 315.5h2M122 315.5h6M130 315.5h10M144 315.5h4M154 315.5h2M158 315.5h2M162 315.5h2M166 315.5h2M176 315.5h2M194 315.5h2M200 315.5h4M210 315.5h2M214 315.5h2M218 315.5h6M232 315.5h4M284 315.5h2M132 349.5h2M138 349.5h2M144 349.5h2M200 349.5h2M384 349.5h1M504 349.5h6M514 349.5h2M586 401.5h2M592 401.5h16M628 401.5h2M650 401.5h2M658 401.5h2M666 401.5h2M672 401.5h2M680 401.5h2M684 401.5h2M692 401.5h8M704 401.5h2M712 401.5h2M718 401.5h2M460 418.5h2M682 418.5h2M690 418.5h2M694 418.5h4M702 418.5h2M706 418.5h2"/>
<path stroke="#2d2d9d" d="M520 57.5h1M524 57.5h2M534 57.5h1M546 57.5h1M559 57.5h1M563 57.5h1M566 57.5h2M607 57.5h1M613 57.5h1M630 57.5h1M632 57.5h1M648 57.5h1M650 57.5h1M652 57.5h1M655 57.5h1M666 57.5h1M668 57.5h1M688 57.5h2M693 57.5h1M697 57.5h1M710 57.5h1M77 74.5h1M80 74.5h2M499 91.5h1M506 91.5h1M512 91.5h3M522 91.5h1M529 91.5h1M532 91.5h2M535 91.5h1M539 91.5h1M542 91.5h1M551 91.5h1M553 91.5h1M555 91.5h1M559 91.5h1M563 91.5h1M578 91.5h1M589 91.5h1M606 108.5h1M620 108.5h1M624 108.5h1M633 108.5h1M659 108.5h1M675 108.5h1M677 108.5h1M683 108.5h2M687 108.5h1M699 108.5h1M713 108.5h1M717 108.5h1M17 143.5h1M33 143.5h1M74 143.5h1M87 143.5h1M93 143.5h1M95 143.5h1M559 177.5h1M568 177.5h1M578 177.5h1M610 177.5h1M629 177.5h1M662 177.5h1M666 177.5h1M671 177.5h1M679 177.5h1M685 177.5h1M690 177.5h1M696 177.5h1M700 177.5h1M702 177.5h1M704 177.5h1M711 177.5h1M715 177.5h1M717 177.5h1M141 229.5h1M160 229.5h1M166 229.5h3M170 229.5h1M172 229.5h1M182 229.5h1M185 229.5h3M195 229.5h1M197 229.5h1M202 229.5h1M205 229.5h3M210 229.5h1M225 229.5h1M232 229.5h1M235 229.5h1M238 229.5h1M245 229.5h1M254 229.5h1M276 229.5h1M286 229.5h1M291 229.5h1M316 229.5h1M321 229.5h1M337 229.5h1M342 229.5h1M356 229.5h1M370 229.5h1M375 229.5h1M383 229.5h1M387 229.5h1M395 229.5h1M397 229.5h2M421 229.5h1M431 229.5h1M437 229.5h2M441 229.5h1M448 229.5h1M453 229.5h1M464 229.5h1M474 229.5h1M481 229.5h1M491 229.5h1M497 229.5h1M503 229.5h1M520 229.5h1M534 229.5h1M537 229.5h1M541 229.5h1M21 246.5h1M30 246.5h1M36 246.5h1M43 246.5h1M45 246.5h1M62 246.5h1M388 246.5h1M436 246.5h1M440 246.5h1M466 246.5h1M481 246.5h1M488 246.5h1M519 246.5h1M537 246.5h1M543 246.5h1M551 246.5h1M555 246.5h2M562 246.5h1M567 246.5h1M574 246.5h1M579 246.5h1M588 246.5h2M599 246.5h3M603 246.5h2M232 263.5h2M280 263.5h2M408 263.5h1M414 263.5h1M419 263.5h1M423 263.5h1M433 263.5h1M436 263.5h1M438 263.5h1M442 263.5h1M444 263.5h1M448 263.5h1M451 263.5h1M453 263.5h1M456 263.5h1M458 263.5h1M468 263.5h2M475 263.5h1M478 263.5h1M520 263.5h2M564 263.5h2M618 263.5h2M540 280.5h1M678 280.5h1M242 315.5h2M246 315.5h2M254 315.5h2M260 315.5h4M268 315.5h6M276 315.5h2M286 315.5h2M290 315.5h4M296 315.5h2M304 315.5h2M308 315.5h2M314 315.5h2M40 349.5h2M90 349.5h4M96 349.5h2M100 349.5h4M108 349.5h2M116 349.5h2M124 349.5h2M136 349.5h2M142 349.5h2M298 349.5h2M304 349.5h2M308 349.5h2M322 349.5h2M560 349.5h2M566 349.5h2M574 349.5h2M578 349.5h2M584 349.5h4"/>
<path stroke="#262298" d="M547 57.5h1M558 57.5h1M627 57.5h1M660 57.5h1M358 74.5h2M366 91.5h1M368 91.5h1M520 91.5h1M524 91.5h1M536 91.5h3M546 91.5h1M548 91.5h2M579 91.5h1M583 91.5h1M609 108.5h1M613 108.5h1M616 108.5h1M619 108.5h1M621 108.5h1M635 108.5h1M642 108.5h1M656 108.5h1M681 108.5h2M705 108.5h2M85 143.5h1M88 143.5h1M92 143.5h1M98 143.5h1M585 177.5h1M663 177.5h2M668 177.5h2M672 177.5h1M677 177.5h2M682 177.5h1M688 177.5h1M698 177.5h2M703 177.5h1M705 177.5h1M707 177.5h1M712 177.5h2M716 177.5h1M161 229.5h1M164 229.5h1M169 229.5h1M178 229.5h1M180 229.5h1M191 229.5h1M201 229.5h1M208 229.5h1M224 229.5h1M231 229.5h1M233 229.5h1M236 229.5h1M244 229.5h1M249 229.5h1M253 229.5h1M255 229.5h1M259 229.5h2M279 229.5h1M283 229.5h1M303 229.5h1M310 229.5h2M318 229.5h1M323 229.5h2M327 229.5h1M334 229.5h1M338 229.5h1M346 229.5h1M349 229.5h3M354 229.5h1M357 229.5h1M359 229.5h1M361 229.5h1M371 229.5h1M377 229.5h1M381 229.5h2M385 229.5h2M388 229.5h1M391 229.5h1M394 229.5h1M399 229.5h2M402 229.5h1M405 229.5h1M409 229.5h2M417 229.5h1M423 229.5h1M425 229.5h2M430 229.5h1M440 229.5h1M442 229.5h1M444 229.5h2M447 229.5h1M456 229.5h1M458 229.5h1M465 229.5h2M468 229.5h1M472 229.5h2M476 229.5h2M480 229.5h1M495 229.5h2M498 229.5h1M504 229.5h1M506 229.5h1M510 229.5h1M512 229.5h2M516 229.5h1M532 229.5h1M538 229.5h1M25 246.5h1M31 246.5h1M33 246.5h1M35 246.5h1M41 246.5h1M58 246.5h1M522 246.5h2M530 246.5h1M532 246.5h1M544 246.5h1M409 263.5h2M416 263.5h2M431 263.5h1M435 263.5h1M449 263.5h1M452 263.5h1M457 263.5h1M459 263.5h1M464 263.5h2M474 263.5h1M479 263.5h1M522 263.5h2M568 263.5h2M574 263.5h4M590 263.5h4M596 263.5h4M608 263.5h2M616 263.5h2M622 263.5h2M628 263.5h2M593 280.5h1M320 315.5h4M332 315.5h2M336 315.5h4M34 349.5h2M38 349.5h2M88 349.5h2M94 349.5h2M110 349.5h4M128 349.5h2M268 349.5h2M272 349.5h2M296 349.5h2M300 349.5h4M310 349.5h4M316 349.5h2M320 349.5h2M326 349.5h2M360 349.5h1M450 349.5h1M516 349.5h2M562 349.5h2M568 349.5h2M576 349.5h2M580 349.5h2"/>
<path stroke="#dae73a" d="M13 74.5h1M596 91.5h1M66 108.5h1M117 108.5h2M141 108.5h1M151 108.5h1M157 108.5h1M169 108.5h1M172 108.5h1M176 108.5h1M179 108.5h1M187 108.5h3M211 108.5h2M222 108.5h3M237 108.5h1M278 108.5h1M281 108.5h1M287 108.5h1M292 108.5h1M302 108.5h1M304 108.5h1M325 108.5h1M340 108.5h1M348 108.5h1M352 108.5h1M368 108.5h2M373 108.5h1M375 108.5h1M381 108.5h1M410 108.5h1M421 108.5h2M430 108.5h1M439 108.5h2M443 108.5h1M449 108.5h2M468 108.5h2M480 108.5h1M487 108.5h2M498 108.5h1M220 177.5h1M242 177.5h1M251 177.5h1M262 177.5h1M288 177.5h1M290 177.5h2M296 177.5h1M298 177.5h1M300 177.5h3M306 177.5h1M309 177.5h1M311 177.5h1M314 177.5h1M321 177.5h1M323 177.5h1M327 177.5h1M336 177.5h1M342 177.5h2M345 177.5h2M350 177.5h1M353 177.5h2M356 177.5h2M359 177.5h1M361 177.5h1M363 177.5h1M367 177.5h2M385 177.5h1M387 177.5h3M392 177.5h1M396 177.5h1M404 177.5h1M409 177.5h2M416 177.5h1M92 229.5h1M60 349.5h2M64 349.5h4M80 349.5h2M348 418.5h2M576 418.5h2"/>
<path stroke="#e6e92f" d="M14 74.5h1M8 108.5h1M113 108.5h1M128 108.5h1M143 108.5h1M159 108.5h1M163 108.5h1M180 108.5h1M195 108.5h1M202 108.5h1M204 108.5h1M213 108.5h1M228 108.5h1M235 108.5h1M244 108.5h1M253 108.5h1M277 108.5h1M284 108.5h1M289 108.5h1M316 108.5h1M322 108.5h1M346 108.5h1M362 108.5h1M366 108.5h1M382 108.5h1M389 108.5h1M393 108.5h1M396 108.5h1M411 108.5h1M416 108.5h1M423 108.5h1M432 108.5h1M437 108.5h1M456 108.5h1M461 108.5h1M463 108.5h1M478 108.5h1M481 108.5h1M483 108.5h1M486 108.5h1M492 108.5h1M497 108.5h1M164 177.5h1M167 177.5h1M170 177.5h2M173 177.5h1M175 177.5h1M245 177.5h3M249 177.5h2M254 177.5h2M258 177.5h2M263 177.5h1M285 177.5h3M295 177.5h1M303 177.5h2M307 177.5h1M324 177.5h1M326 177.5h1M328 177.5h2M340 177.5h2M344 177.5h1M347 177.5h2M352 177.5h1M358 177.5h1M365 177.5h1M369 177.5h1M375 177.5h1M377 177.5h3M384 177.5h1M386 177.5h1M391 177.5h1M400 177.5h3M411 177.5h1M414 177.5h1M417 177.5h1M419 177.5h1M502 177.5h4M529 177.5h1M530 263.5h2M52 349.5h2"/>
<path stroke="#6e0c00" d="M15 74.5h5M20 74.5h2M22 74.5h12M34 74.5h2M36 74.5h2M38 74.5h4M42 74.5h4M46 74.5h2M48 74.5h8M56 74.5h2M58 74.5h2M60 74.5h4M64 74.5h11M82 194.5h4M525 349.5h5M530 349.5h2M532 349.5h1M530 401.5h2M532 401.5h6M538 401.5h4M542 401.5h2M544 401.5h2M546 401.5h1M550 418.5h2M552 418.5h2"/>
<path stroke="#f2eb24" d="M75 74.5h2M116 108.5h1M232 108.5h1M332 108.5h1M165 177.5h1M168 177.5h1M174 177.5h1M240 177.5h1M244 177.5h1M256 177.5h1M292 177.5h1M297 177.5h1M299 177.5h1M312 177.5h2M316 177.5h1M320 177.5h1M330 177.5h1M332 177.5h1M334 177.5h1M337 177.5h2M355 177.5h1M360 177.5h1M362 177.5h1M364 177.5h1M371 177.5h2M376 177.5h1M381 177.5h2M394 177.5h1M397 177.5h1M406 177.5h1M408 177.5h1M413 177.5h1M430 177.5h2M535 177.5h1"/>
<path stroke="#0f0c77" d="M82 74.5h20M106 74.5h68M176 74.5h98M276 74.5h80M360 74.5h24M388 74.5h20M410 74.5h42M454 74.5h30M486 74.5h120M609 74.5h63M674 74.5h46M617 91.5h2M622 91.5h1M628 91.5h1M631 91.5h1M633 91.5h1M636 91.5h1M640 91.5h1M644 91.5h1M647 91.5h1M653 91.5h3M659 91.5h2M662 91.5h1M668 91.5h3M676 91.5h2M679 91.5h3M685 91.5h1M688 91.5h2M691 91.5h1M693 91.5h1M696 91.5h3M700 91.5h3M707 91.5h1M719 91.5h1M128 143.5h72M204 143.5h22M228 143.5h50M280 143.5h34M316 143.5h26M344 143.5h12M358 143.5h2M362 143.5h14M378 143.5h12M392 143.5h56M450 143.5h142M547 229.5h4M552 229.5h6M559 229.5h1M561 229.5h2M566 229.5h3M570 229.5h5M581 229.5h1M584 229.5h1M586 229.5h5M592 229.5h1M597 229.5h4M603 229.5h1M605 229.5h2M608 229.5h3M614 229.5h2M617 229.5h1M621 229.5h2M624 229.5h1M627 229.5h2M634 229.5h2M639 229.5h1M641 229.5h1M643 229.5h1M648 229.5h4M653 229.5h1M656 229.5h2M661 229.5h4M668 229.5h2M671 229.5h4M676 229.5h1M678 229.5h3M682 229.5h1M684 229.5h4M689 229.5h1M692 229.5h1M696 229.5h2M702 229.5h3M708 229.5h1M714 229.5h2M717 229.5h1M719 229.5h1M612 246.5h1M615 246.5h3M620 246.5h1M622 246.5h1M624 246.5h4M629 246.5h5M635 246.5h3M639 246.5h2M642 246.5h2M646 246.5h1M649 246.5h3M654 246.5h3M658 246.5h1M660 246.5h1M663 246.5h1M666 246.5h1M669 246.5h1M672 246.5h2M675 246.5h1M679 246.5h1M682 246.5h1M688 246.5h1M690 246.5h1M692 246.5h1M694 246.5h1M697 246.5h2M700 246.5h2M703 246.5h1M705 246.5h5M711 246.5h1M716 246.5h1M719 246.5h1M638 263.5h8M650 263.5h4M656 263.5h2M660 263.5h6M670 263.5h2M674 263.5h4M680 263.5h4M686 263.5h12M702 263.5h2M706 263.5h2M380 315.5h14M396 315.5h4M402 315.5h6M410 315.5h36M448 315.5h16M466 315.5h10M478 315.5h42M522 315.5h6M530 315.5h90M622 315.5h42M666 315.5h26M694 315.5h22M718 315.5h2M164 349.5h6M172 349.5h6M180 349.5h4M190 349.5h2M196 349.5h2M232 349.5h10M244 349.5h6M252 349.5h6M260 349.5h4"/>
<path stroke="#0f0c76" d="M102 74.5h2M408 74.5h2M606 91.5h1M608 91.5h1M610 91.5h1M612 91.5h1M619 91.5h1M621 91.5h1M623 91.5h3M627 91.5h1M637 91.5h2M641 91.5h2M646 91.5h1M648 91.5h3M657 91.5h1M658 91.5h1M663 91.5h1M671 91.5h5M678 91.5h1M684 91.5h1M687 91.5h1M690 91.5h1M692 91.5h1M705 91.5h2M709 91.5h1M711 91.5h1M715 91.5h1M718 91.5h1M70 143.5h1M200 143.5h4M226 143.5h2M278 143.5h2M314 143.5h2M356 143.5h2M448 143.5h2M544 229.5h1M545 229.5h1M560 229.5h1M563 229.5h2M569 229.5h1M578 229.5h1M580 229.5h1M582 229.5h1M585 229.5h1M594 229.5h2M604 229.5h1M607 229.5h1M612 229.5h1M620 229.5h1M625 229.5h1M629 229.5h1M631 229.5h1M633 229.5h1M636 229.5h1M645 229.5h1M652 229.5h1M659 229.5h1M666 229.5h1M688 229.5h1M690 229.5h2M693 229.5h2M699 229.5h1M701 229.5h1M706 229.5h1M709 229.5h1M713 229.5h1M718 229.5h1M608 246.5h1M610 246.5h2M614 246.5h1M623 246.5h1M638 246.5h1M641 246.5h1M645 246.5h1M647 246.5h1M652 246.5h1M657 246.5h1M661 246.5h1M667 246.5h1M676 246.5h1M684 246.5h4M689 246.5h1M691 246.5h1M696 246.5h1M699 246.5h1M704 246.5h1M712 246.5h1M717 246.5h2M636 263.5h2M648 263.5h2M654 263.5h2M666 263.5h2M672 263.5h2M700 263.5h2M710 263.5h2M714 263.5h4M408 315.5h2M520 315.5h2M664 315.5h2M692 315.5h2M170 349.5h2M178 349.5h2M186 349.5h2M194 349.5h2M250 349.5h2M258 349.5h2M264 349.5h4"/>
<path stroke="#0f0c78" d="M104 74.5h2M174 74.5h2M274 74.5h2M484 74.5h2M672 74.5h2M581 91.5h1M609 91.5h1M611 91.5h1M613 91.5h4M620 91.5h1M626 91.5h1M629 91.5h2M632 91.5h1M634 91.5h2M639 91.5h1M643 91.5h1M645 91.5h1M651 91.5h2M656 91.5h1M661 91.5h1M664 91.5h1M666 91.5h2M682 91.5h2M686 91.5h1M694 91.5h2M699 91.5h1M703 91.5h2M708 91.5h1M710 91.5h1M713 91.5h2M716 91.5h2M72 143.5h1M342 143.5h2M360 143.5h2M376 143.5h2M390 143.5h2M546 229.5h1M551 229.5h1M558 229.5h1M565 229.5h1M575 229.5h3M579 229.5h1M583 229.5h1M591 229.5h1M593 229.5h1M596 229.5h1M601 229.5h2M611 229.5h1M613 229.5h1M616 229.5h1M618 229.5h2M623 229.5h1M626 229.5h1M630 229.5h1M632 229.5h1M637 229.5h2M642 229.5h1M644 229.5h1M646 229.5h2M654 229.5h2M658 229.5h1M660 229.5h1M665 229.5h1M667 229.5h1M670 229.5h1M675 229.5h1M677 229.5h1M681 229.5h1M683 229.5h1M695 229.5h1M698 229.5h1M700 229.5h1M705 229.5h1M707 229.5h1M710 229.5h3M716 229.5h1M609 246.5h1M613 246.5h1M618 246.5h1M621 246.5h1M628 246.5h1M634 246.5h1M644 246.5h1M648 246.5h1M653 246.5h1M659 246.5h1M662 246.5h1M664 246.5h2M668 246.5h1M670 246.5h2M674 246.5h1M677 246.5h2M680 246.5h2M683 246.5h1M693 246.5h1M695 246.5h1M702 246.5h1M710 246.5h1M713 246.5h3M634 263.5h2M646 263.5h2M658 263.5h2M668 263.5h2M678 263.5h2M684 263.5h2M698 263.5h2M704 263.5h2M708 263.5h2M712 263.5h2M718 263.5h2M394 315.5h2M400 315.5h2M446 315.5h2M464 315.5h2M476 315.5h2M528 315.5h2M620 315.5h2M716 315.5h2M184 349.5h2M188 349.5h2M192 349.5h2M242 349.5h2M626 349.5h2"/>
<path stroke="#201b90" d="M356 74.5h2M543 91.5h1M545 91.5h1M550 91.5h1M580 91.5h1M584 91.5h2M589 108.5h1M604 108.5h1M623 108.5h1M666 108.5h2M670 108.5h1M673 108.5h1M711 108.5h1M15 143.5h1M24 143.5h1M32 143.5h1M39 143.5h1M42 143.5h1M76 143.5h1M83 143.5h1M100 143.5h2M103 143.5h1M112 143.5h1M117 143.5h1M125 143.5h2M661 177.5h1M670 177.5h1M674 177.5h1M686 177.5h2M689 177.5h1M693 177.5h2M701 177.5h1M706 177.5h1M708 177.5h1M710 177.5h1M714 177.5h1M174 229.5h1M190 229.5h1M196 229.5h1M199 229.5h1M214 229.5h1M219 229.5h1M230 229.5h1M240 229.5h2M243 229.5h1M247 229.5h2M256 229.5h1M262 229.5h2M265 229.5h1M269 229.5h1M271 229.5h2M274 229.5h2M277 229.5h1M293 229.5h1M296 229.5h1M300 229.5h2M304 229.5h3M308 229.5h1M312 229.5h2M319 229.5h1M322 229.5h1M325 229.5h1M331 229.5h3M339 229.5h2M344 229.5h2M352 229.5h1M355 229.5h1M362 229.5h1M366 229.5h1M373 229.5h1M378 229.5h1M380 229.5h1M390 229.5h1M407 229.5h2M411 229.5h1M413 229.5h3M428 229.5h1M432 229.5h2M451 229.5h1M455 229.5h1M457 229.5h1M459 229.5h2M462 229.5h1M483 229.5h1M487 229.5h1M489 229.5h2M493 229.5h2M500 229.5h1M508 229.5h2M511 229.5h1M519 229.5h1M18 246.5h1M24 246.5h1M577 246.5h1M584 246.5h1M605 246.5h1M400 263.5h2M403 263.5h1M406 263.5h1M411 263.5h1M413 263.5h1M415 263.5h1M420 263.5h1M422 263.5h1M425 263.5h1M427 263.5h1M430 263.5h1M434 263.5h1M439 263.5h3M450 263.5h1M461 263.5h1M466 263.5h1M473 263.5h1M476 263.5h1M498 263.5h2M512 263.5h2M554 263.5h4M566 263.5h2M580 263.5h4M586 263.5h2M602 263.5h2M620 263.5h2M624 263.5h4M632 263.5h2M324 315.5h8M334 315.5h2M32 349.5h2M106 349.5h2M114 349.5h2M118 349.5h6M306 349.5h2M564 349.5h2M572 349.5h2M582 349.5h2M590 349.5h2M624 349.5h2M654 349.5h2M660 349.5h2M678 349.5h2M694 349.5h4M704 349.5h2"/>
<path stroke="#d0e546" d="M606 74.5h3M134 108.5h1M138 108.5h2M142 108.5h1M148 108.5h2M152 108.5h1M165 108.5h1M178 108.5h1M186 108.5h1M194 108.5h1M218 108.5h1M227 108.5h1M240 108.5h1M243 108.5h1M260 108.5h1M262 108.5h1M265 108.5h1M273 108.5h1M285 108.5h1M293 108.5h1M298 108.5h2M303 108.5h1M309 108.5h1M324 108.5h1M329 108.5h2M336 108.5h2M344 108.5h1M349 108.5h1M354 108.5h2M374 108.5h1M383 108.5h1M390 108.5h1M392 108.5h1M397 108.5h1M402 108.5h1M424 108.5h1M434 108.5h1M448 108.5h1M472 108.5h1M479 108.5h1M496 108.5h1M196 177.5h1M199 177.5h1M204 177.5h1M207 177.5h3M211 177.5h2M215 177.5h1M219 177.5h1M221 177.5h1M223 177.5h1M235 177.5h1M238 177.5h2M284 177.5h1M289 177.5h1M293 177.5h1M305 177.5h1M310 177.5h1M315 177.5h1M317 177.5h3M322 177.5h1M325 177.5h1M331 177.5h1M333 177.5h1M335 177.5h1M339 177.5h1M349 177.5h1M351 177.5h1M374 177.5h1M383 177.5h1M390 177.5h1M393 177.5h1M395 177.5h1M399 177.5h1M412 177.5h1M437 177.5h3M442 177.5h1M450 177.5h1M93 229.5h5M532 263.5h2M54 349.5h2M58 349.5h2M68 349.5h6M76 349.5h2M82 349.5h2M523 349.5h2M554 401.5h2M343 418.5h1M350 418.5h2M562 418.5h6M572 418.5h2"/>
<path stroke="#98dab4" d="M40 91.5h2M45 91.5h1M50 91.5h1M73 91.5h1M92 91.5h1M101 91.5h2M113 91.5h1M132 91.5h1M158 91.5h1M167 91.5h1M192 91.5h2M201 91.5h1M210 91.5h2M219 91.5h1M222 91.5h1M226 91.5h1M231 91.5h1M234 91.5h1M237 91.5h1M245 91.5h1M250 91.5h1M256 91.5h1M260 91.5h1M302 91.5h1M373 91.5h1M385 91.5h1M399 91.5h1M403 91.5h1M411 91.5h1M422 91.5h1M430 91.5h1M434 91.5h1M437 91.5h1M439 91.5h1M450 91.5h2M455 91.5h1M458 91.5h1M464 91.5h1M467 91.5h1M475 91.5h1M51 108.5h1M56 108.5h1M64 108.5h1M69 108.5h1M72 108.5h1M79 108.5h1M83 108.5h1M89 108.5h1M107 108.5h1M276 108.5h1M286 108.5h1M500 108.5h1M510 108.5h1M514 108.5h1M520 108.5h1M522 108.5h1M530 108.5h1M532 108.5h2M538 108.5h2M541 108.5h1M548 108.5h1M550 108.5h1M555 108.5h1M92 160.5h8M106 160.5h6M114 160.5h2M120 160.5h4M128 160.5h4M138 160.5h2M150 160.5h6M328 160.5h2M336 160.5h2M462 160.5h2M618 160.5h2M626 160.5h2M660 160.5h2M666 160.5h2M110 177.5h1M136 177.5h1M138 177.5h1M144 177.5h2M152 177.5h1M162 177.5h1M452 177.5h2M455 177.5h1M459 177.5h1M466 177.5h1M469 177.5h1M472 177.5h1M483 177.5h1M490 177.5h2M507 177.5h1M248 194.5h2M272 194.5h2M284 194.5h2M294 194.5h2M318 194.5h2M332 194.5h2M338 194.5h2M344 194.5h2M362 194.5h18M388 194.5h6M400 194.5h18M676 194.5h6M684 194.5h4M104 229.5h1M106 229.5h1M109 246.5h1M112 246.5h1M115 246.5h1M150 246.5h1M152 246.5h1M155 246.5h1M166 246.5h2M193 246.5h1M200 246.5h1M202 246.5h1M205 246.5h1M207 246.5h1M209 246.5h1M213 246.5h1M216 246.5h1M274 246.5h1M50 349.5h2M366 349.5h1M296 401.5h2M312 418.5h2M354 418.5h2M582 418.5h2M588 418.5h2"/>
<path stroke="#addf7b" d="M228 91.5h1M378 91.5h1M391 91.5h1M416 91.5h1M418 91.5h1M420 91.5h2M424 91.5h2M442 91.5h1M457 91.5h1M460 91.5h4M472 91.5h1M479 91.5h1M482 91.5h2M594 91.5h1M604 91.5h1M3 108.5h1M27 108.5h1M48 108.5h1M52 108.5h1M55 108.5h1M76 108.5h2M85 108.5h1M100 108.5h1M105 108.5h1M112 108.5h1M122 108.5h1M125 108.5h1M130 108.5h1M161 108.5h2M173 108.5h1M185 108.5h1M191 108.5h1M197 108.5h1M209 108.5h1M220 108.5h1M229 108.5h2M242 108.5h1M246 108.5h1M249 108.5h1M269 108.5h1M271 108.5h1M280 108.5h1M295 108.5h1M308 108.5h1M310 108.5h2M314 108.5h1M321 108.5h1M331 108.5h1M334 108.5h1M358 108.5h1M360 108.5h1M365 108.5h1M404 108.5h1M409 108.5h1M417 108.5h1M419 108.5h1M433 108.5h1M435 108.5h1M445 108.5h2M451 108.5h1M454 108.5h1M457 108.5h1M484 108.5h1M540 108.5h1M140 160.5h2M174 160.5h2M180 160.5h2M322 160.5h2M92 177.5h1M95 177.5h1M97 177.5h1M104 177.5h3M113 177.5h1M115 177.5h1M117 177.5h5M124 177.5h3M146 177.5h2M151 177.5h1M153 177.5h2M156 177.5h1M160 177.5h1M183 177.5h1M188 177.5h1M190 177.5h2M195 177.5h1M443 177.5h1M446 177.5h1M449 177.5h1M420 194.5h2M428 194.5h2M434 194.5h16M452 194.5h2M456 194.5h2M460 194.5h6M470 194.5h8M484 194.5h6M492 194.5h4M498 194.5h8M508 194.5h10M660 194.5h4M688 194.5h14M706 194.5h2M191 246.5h1M195 246.5h1M201 246.5h1M211 246.5h2M214 246.5h1M218 246.5h2M222 246.5h1M273 246.5h1M280 246.5h1M28 263.5h2M32 263.5h4M538 263.5h2M16 349.5h2M220 349.5h4M226 349.5h2"/>
<path stroke="#a6dd8b" d="M371 91.5h1M380 91.5h1M388 91.5h1M393 91.5h1M404 91.5h1M406 91.5h1M412 91.5h1M414 91.5h1M431 91.5h1M438 91.5h1M443 91.5h2M454 91.5h1M470 91.5h1M473 91.5h1M480 91.5h1M602 91.5h2M2 108.5h1M6 108.5h1M12 108.5h1M20 108.5h1M30 108.5h1M59 108.5h1M73 108.5h1M81 108.5h1M84 108.5h1M94 108.5h1M99 108.5h1M102 108.5h1M106 108.5h1M123 108.5h1M137 108.5h1M147 108.5h1M153 108.5h1M183 108.5h2M190 108.5h1M192 108.5h1M196 108.5h1M199 108.5h3M205 108.5h4M241 108.5h1M248 108.5h1M250 108.5h1M257 108.5h1M259 108.5h1M263 108.5h1M267 108.5h1M290 108.5h1M307 108.5h1M318 108.5h1M323 108.5h1M327 108.5h1M333 108.5h1M338 108.5h1M343 108.5h1M359 108.5h1M363 108.5h2M367 108.5h1M379 108.5h1M395 108.5h1M406 108.5h1M412 108.5h3M418 108.5h1M420 108.5h1M426 108.5h1M429 108.5h1M453 108.5h1M458 108.5h2M477 108.5h1M491 108.5h1M495 108.5h1M502 108.5h1M509 108.5h1M112 160.5h2M116 160.5h2M124 160.5h4M146 160.5h2M156 160.5h2M172 160.5h2M182 160.5h2M220 160.5h4M226 160.5h2M316 160.5h4M338 160.5h2M342 160.5h2M620 160.5h2M630 160.5h2M96 177.5h1M100 177.5h2M114 177.5h1M143 177.5h1M157 177.5h2M187 177.5h1M457 177.5h1M460 177.5h3M464 177.5h2M467 177.5h1M476 177.5h1M478 177.5h1M495 177.5h1M518 194.5h2M664 194.5h2M668 194.5h4M192 246.5h1M198 246.5h2M206 246.5h1M208 246.5h1M220 246.5h2M223 246.5h1M275 246.5h3M30 263.5h2M36 263.5h2M22 349.5h2M214 349.5h2M528 418.5h2M580 418.5h2M584 418.5h4"/>
<path stroke="#b4e06e" d="M375 91.5h1M382 91.5h1M386 91.5h1M396 91.5h2M413 91.5h1M456 91.5h1M459 91.5h1M469 91.5h1M478 91.5h1M481 91.5h1M598 91.5h1M0 108.5h1M5 108.5h1M10 108.5h1M47 108.5h1M63 108.5h1M92 108.5h2M114 108.5h2M119 108.5h1M131 108.5h1M133 108.5h1M146 108.5h1M150 108.5h1M155 108.5h1M158 108.5h1M164 108.5h1M166 108.5h1M177 108.5h1M193 108.5h1M216 108.5h2M219 108.5h1M238 108.5h1M245 108.5h1M247 108.5h1M251 108.5h1M254 108.5h1M258 108.5h1M261 108.5h1M272 108.5h1M294 108.5h1M317 108.5h1M319 108.5h1M326 108.5h1M335 108.5h1M339 108.5h1M341 108.5h2M345 108.5h1M350 108.5h1M357 108.5h1M384 108.5h2M408 108.5h1M425 108.5h1M431 108.5h1M444 108.5h1M452 108.5h1M465 108.5h2M476 108.5h1M489 108.5h1M493 108.5h1M499 108.5h1M508 108.5h1M186 160.5h2M93 177.5h1M98 177.5h2M102 177.5h1M108 177.5h2M111 177.5h1M159 177.5h1M163 177.5h1M177 177.5h1M184 177.5h1M186 177.5h1M193 177.5h2M198 177.5h1M200 177.5h3M213 177.5h1M218 177.5h1M227 177.5h2M230 177.5h1M232 177.5h1M435 177.5h2M440 177.5h1M444 177.5h1M447 177.5h1M451 177.5h1M422 194.5h6M430 194.5h4M450 194.5h2M454 194.5h2M458 194.5h2M466 194.5h4M478 194.5h6M490 194.5h2M496 194.5h2M506 194.5h2M522 194.5h2M548 194.5h2M570 194.5h2M610 194.5h2M622 194.5h2M630 194.5h4M642 194.5h2M702 194.5h4M708 194.5h12M210 246.5h1M534 263.5h4M14 349.5h2M18 349.5h4M24 349.5h2M212 349.5h2M556 401.5h2"/>
<path stroke="#1a1688" d="M521 91.5h1M525 91.5h1M527 91.5h2M530 91.5h2M534 91.5h1M541 91.5h1M544 91.5h1M577 91.5h1M582 91.5h1M612 108.5h1M686 108.5h1M27 143.5h1M35 143.5h1M58 143.5h1M64 143.5h1M73 143.5h1M80 143.5h1M96 143.5h1M111 143.5h1M124 143.5h1M648 143.5h4M660 143.5h4M678 143.5h2M696 143.5h4M716 143.5h2M660 177.5h1M665 177.5h1M667 177.5h1M673 177.5h1M675 177.5h2M680 177.5h2M684 177.5h1M691 177.5h2M718 177.5h1M165 229.5h1M234 229.5h1M246 229.5h1M250 229.5h2M261 229.5h1M266 229.5h1M268 229.5h1M273 229.5h1M278 229.5h1M281 229.5h2M287 229.5h2M290 229.5h1M298 229.5h1M307 229.5h1M315 229.5h1M317 229.5h1M326 229.5h1M330 229.5h1M343 229.5h1M347 229.5h1M353 229.5h1M360 229.5h1M363 229.5h3M367 229.5h3M379 229.5h1M392 229.5h1M396 229.5h1M403 229.5h1M406 229.5h1M412 229.5h1M419 229.5h2M422 229.5h1M424 229.5h1M434 229.5h2M439 229.5h1M443 229.5h1M446 229.5h1M450 229.5h1M452 229.5h1M454 229.5h1M461 229.5h1M471 229.5h1M475 229.5h1M482 229.5h1M484 229.5h3M488 229.5h1M505 229.5h1M507 229.5h1M517 229.5h2M19 246.5h1M39 246.5h1M42 246.5h1M528 246.5h1M533 246.5h1M602 246.5h1M407 263.5h1M418 263.5h1M421 263.5h1M426 263.5h1M445 263.5h2M470 263.5h1M477 263.5h1M496 263.5h2M504 263.5h8M514 263.5h2M518 263.5h2M558 263.5h6M570 263.5h4M578 263.5h2M584 263.5h2M594 263.5h2M600 263.5h2M604 263.5h4M610 263.5h6M630 263.5h2M354 315.5h4M366 315.5h2M98 349.5h2M324 349.5h2M570 349.5h2M592 349.5h2M596 349.5h2M600 349.5h6M616 349.5h2M630 349.5h2M642 349.5h6M656 349.5h4M662 349.5h4M668 349.5h2M672 349.5h2M692 349.5h2M708 349.5h4"/>
<path stroke="#141080" d="M576 91.5h1M586 91.5h1M697 108.5h1M26 143.5h1M82 143.5h1M106 143.5h1M118 143.5h3M592 143.5h6M604 143.5h4M610 143.5h6M618 143.5h2M626 143.5h4M634 143.5h12M654 143.5h6M664 143.5h4M674 143.5h4M682 143.5h8M694 143.5h2M700 143.5h2M704 143.5h10M718 143.5h2M697 177.5h1M709 177.5h1M242 229.5h1M252 229.5h1M258 229.5h1M280 229.5h1M284 229.5h2M289 229.5h1M292 229.5h1M294 229.5h2M297 229.5h1M299 229.5h1M302 229.5h1M309 229.5h1M314 229.5h1M320 229.5h1M328 229.5h2M335 229.5h2M341 229.5h1M358 229.5h1M372 229.5h1M374 229.5h1M376 229.5h1M384 229.5h1M389 229.5h1M401 229.5h1M404 229.5h1M416 229.5h1M418 229.5h1M427 229.5h1M429 229.5h1M436 229.5h1M449 229.5h1M463 229.5h1M467 229.5h1M469 229.5h2M478 229.5h2M492 229.5h1M501 229.5h2M514 229.5h2M521 229.5h1M531 246.5h1M534 246.5h2M447 263.5h1M494 263.5h2M500 263.5h4M516 263.5h2M588 263.5h2M342 315.5h10M358 315.5h2M362 315.5h4M368 315.5h6M376 315.5h4M36 349.5h2M594 349.5h2M598 349.5h2M612 349.5h2M618 349.5h2M628 349.5h2M652 349.5h2M674 349.5h2M684 349.5h4M698 349.5h2M714 349.5h2M718 349.5h2"/>
<path stroke="#c6e453" d="M592 91.5h2M103 108.5h1M120 108.5h1M127 108.5h1M129 108.5h1M132 108.5h1M136 108.5h1M140 108.5h1M144 108.5h1M160 108.5h1M170 108.5h1M175 108.5h1M215 108.5h1M221 108.5h1M234 108.5h1M239 108.5h1M255 108.5h2M264 108.5h1M266 108.5h1M270 108.5h1M275 108.5h1M282 108.5h2M301 108.5h1M305 108.5h1M312 108.5h2M347 108.5h1M351 108.5h1M353 108.5h1M361 108.5h1M371 108.5h2M377 108.5h1M380 108.5h1M386 108.5h2M391 108.5h1M394 108.5h1M401 108.5h1M403 108.5h1M405 108.5h1M415 108.5h1M428 108.5h1M436 108.5h1M438 108.5h1M442 108.5h1M460 108.5h1M470 108.5h1M474 108.5h1M179 177.5h1M181 177.5h2M185 177.5h1M192 177.5h1M206 177.5h1M210 177.5h1M214 177.5h1M216 177.5h2M224 177.5h1M226 177.5h1M231 177.5h1M234 177.5h1M236 177.5h1M294 177.5h1M308 177.5h1M370 177.5h1M434 177.5h1M445 177.5h1M520 194.5h2M540 194.5h2M552 194.5h2M558 194.5h2M566 194.5h2M590 194.5h2M600 194.5h2M616 194.5h2M624 194.5h2M638 194.5h2M62 349.5h2M74 349.5h2M78 349.5h2M346 418.5h2M568 418.5h4M574 418.5h2"/>
<path stroke="#bce260" d="M595 91.5h1M600 91.5h1M87 108.5h1M91 108.5h1M98 108.5h1M104 108.5h1M109 108.5h1M121 108.5h1M126 108.5h1M135 108.5h1M145 108.5h1M154 108.5h1M156 108.5h1M171 108.5h1M181 108.5h2M203 108.5h1M214 108.5h1M225 108.5h1M231 108.5h1M233 108.5h1M236 108.5h1M252 108.5h1M268 108.5h1M274 108.5h1M279 108.5h1M291 108.5h1M297 108.5h1M300 108.5h1M315 108.5h1M328 108.5h1M356 108.5h1M370 108.5h1M376 108.5h1M378 108.5h1M388 108.5h1M398 108.5h3M427 108.5h1M441 108.5h1M447 108.5h1M455 108.5h1M467 108.5h1M471 108.5h1M485 108.5h1M94 177.5h1M127 177.5h1M176 177.5h1M178 177.5h1M180 177.5h1M189 177.5h1M197 177.5h1M203 177.5h1M205 177.5h1M222 177.5h1M225 177.5h1M229 177.5h1M233 177.5h1M237 177.5h1M441 177.5h1M448 177.5h1M524 194.5h16M542 194.5h6M550 194.5h2M554 194.5h4M560 194.5h6M568 194.5h2M572 194.5h18M592 194.5h8M602 194.5h8M612 194.5h4M618 194.5h4M626 194.5h4M634 194.5h4M640 194.5h2M644 194.5h16M216 349.5h4M224 349.5h2M344 418.5h2M578 418.5h2"/>
<path stroke="#100d79" d="M607 91.5h1M665 91.5h1M712 91.5h1M107 143.5h1M640 229.5h1M619 246.5h1M636 349.5h4M650 349.5h2M666 349.5h2M688 349.5h2"/>
<path stroke="#f9e71e" d="M167 108.5h1M210 108.5h1M306 108.5h1M166 177.5h1M169 177.5h1M172 177.5h1M241 177.5h1M243 177.5h1M252 177.5h1M260 177.5h1M373 177.5h1M380 177.5h1M398 177.5h1M403 177.5h1M405 177.5h1M407 177.5h1M415 177.5h1M418 177.5h1M433 177.5h1M528 177.5h1M533 177.5h2M80 194.5h2M56 349.5h2M525 401.5h1"/>
<path stroke="#fdde18" d="M198 108.5h1M226 108.5h1M464 108.5h1M490 108.5h1M248 177.5h1M257 177.5h1M261 177.5h1M366 177.5h1M421 177.5h1M423 177.5h1M498 177.5h1M530 177.5h1M89 194.5h3M526 401.5h2"/>
<path stroke="#100d7a" d="M696 108.5h1M69 143.5h1M90 143.5h2M122 143.5h2M127 143.5h1M598 143.5h6M608 143.5h2M616 143.5h2M620 143.5h6M630 143.5h4M646 143.5h2M652 143.5h2M668 143.5h6M680 143.5h2M690 143.5h4M702 143.5h2M714 143.5h2M257 229.5h1M264 229.5h1M267 229.5h1M499 229.5h1M529 246.5h1M340 315.5h2M352 315.5h2M360 315.5h2M374 315.5h2M606 349.5h6M614 349.5h2M620 349.5h4M632 349.5h4M640 349.5h2M648 349.5h2M670 349.5h2M676 349.5h2M680 349.5h4M690 349.5h2M700 349.5h4M706 349.5h2M712 349.5h2M716 349.5h2"/>
<path stroke="#fece14" d="M253 177.5h1M432 177.5h1M497 177.5h1M499 177.5h1M527 177.5h1M531 177.5h1M544 349.5h2"/>
<path stroke="#fa6a14" d="M264 177.5h1M266 177.5h2M275 177.5h2M560 418.5h2"/>
<path stroke="#fc8e14" d="M265 177.5h1M273 177.5h1M496 177.5h1M500 177.5h2M534 418.5h1"/>
<path stroke="#fda014" d="M268 177.5h2M277 177.5h2M280 177.5h2M420 177.5h1M422 177.5h1"/>
<path stroke="#feb714" d="M270 177.5h1M274 177.5h1M282 177.5h1M526 177.5h1M532 177.5h1M532 418.5h2"/>
<path stroke="#fb7c14" d="M271 177.5h2M283 177.5h1M552 401.5h2M558 418.5h2"/>
<path stroke="#f75912" d="M279 177.5h1"/>
<path stroke="#e6290b" d="M424 177.5h1M426 177.5h1M88 194.5h1M536 349.5h2M528 401.5h2M547 401.5h3M544 418.5h2M556 418.5h2"/>
<path stroke="#f34810" d="M425 177.5h1M538 349.5h4M340 418.5h3M536 418.5h2"/>
<path stroke="#ef370e" d="M427 177.5h1M86 194.5h2M542 349.5h2M550 401.5h2M548 418.5h2"/>
<path stroke="#b01204" d="M428 177.5h1M533 349.5h1"/>
<path stroke="#d52008" d="M429 177.5h1M538 418.5h6M546 418.5h2"/>
<path stroke="#c41706" d="M534 349.5h2M535 418.5h1M554 418.5h2"/>
</g>
</svg>
<g stroke="#10131a" stroke-width="1" fill="none">
<line x1="235.6" y1="1453.3" x2="235.6" y2="1898.3" opacity="0.65"/>
<line x1="766.5" y1="1453.3" x2="766.5" y2="1898.3" opacity="0.65"/>
<path d="M279.8,1453.3v8M279.8,1898.3v-8M324.1,1453.3v8M324.1,1898.3v-8M368.3,1453.3v8M368.3,1898.3v-8M412.6,1453.3v8M412.6,1898.3v-8M456.8,1453.3v8M456.8,1898.3v-8M501.1,1453.3v8M501.1,1898.3v-8M545.3,1453.3v8M545.3,1898.3v-8M589.5,1453.3v8M589.5,1898.3v-8M633.8,1453.3v8M633.8,1898.3v-8M678.0,1453.3v8M678.0,1898.3v-8M722.3,1453.3v8M722.3,1898.3v-8M810.8,1453.3v8M810.8,1898.3v-8M855.0,1453.3v8M855.0,1898.3v-8M899.3,1453.3v8M899.3,1898.3v-8M943.5,1453.3v8M943.5,1898.3v-8M191.3,1527.3h8M987.8,1527.3h-8M191.3,1613.3h8M987.8,1613.3h-8M191.3,1699.3h8M987.8,1699.3h-8M191.3,1785.3h8M987.8,1785.3h-8M191.3,1871.3h8M987.8,1871.3h-8"/>
<rect x="191.3" y="1453.3" width="796.5" height="445.0" stroke-width="1.1" opacity="0.85"/>
</g>
<rect x="1061.3" y="926.0" width="63.5" height="486.9" fill="#666" opacity="0.5" filter="url(#soft)"/>
<rect x="1062.5" y="927.2" width="61.1" height="484.5" fill="url(#gbar)"/>
<rect x="1062.5" y="927.2" width="61.1" height="484.5" fill="none" stroke="#2a2a30" stroke-width="1.2" opacity="0.75"/>
<path d="M1062.5,1088.4h9M1123.6,1088.4h-9M1062.5,1248.8h9M1123.6,1248.8h-9" stroke="#1d1d1b" stroke-width="1.3"/>
<text x="1131.0" y="966.3" font-size="53.5" text-anchor="start">100</text>
<text x="1131.0" y="1112.1" font-size="53.5" text-anchor="start">50</text>
<text x="1131.5" y="1262.7" font-size="53.5" text-anchor="start">0</text>
<text x="1128.5" y="1407.5" font-size="53.5" text-anchor="start" textLength="92" lengthAdjust="spacingAndGlyphs">–50</text>
<text transform="translate(1042.3,1186.0) rotate(-90)" font-size="52" text-anchor="middle" textLength="223" lengthAdjust="spacing">ΔF/F (%)</text>
<rect x="1061.3" y="1450.4" width="63.5" height="448.2" fill="#666" opacity="0.5" filter="url(#soft)"/>
<rect x="1062.5" y="1451.6" width="61.1" height="445.8" fill="url(#gbar)"/>
<rect x="1062.5" y="1451.6" width="61.1" height="445.8" fill="none" stroke="#2a2a30" stroke-width="1.2" opacity="0.75"/>
<path d="M1062.5,1599.9h9M1123.6,1599.9h-9M1062.5,1748.1h9M1123.6,1748.1h-9" stroke="#1d1d1b" stroke-width="1.3"/>
<text x="1131.0" y="1491.0" font-size="53.5" text-anchor="start">100</text>
<text x="1131.0" y="1627.1" font-size="53.5" text-anchor="start">50</text>
<text x="1131.5" y="1759.6" font-size="53.5" text-anchor="start">0</text>
<text x="1128.5" y="1895.6" font-size="53.5" text-anchor="start" textLength="92" lengthAdjust="spacingAndGlyphs">–50</text>
<text transform="translate(1042.3,1684.6) rotate(-90)" font-size="52" text-anchor="middle" textLength="223" lengthAdjust="spacing">ΔF/F (%)</text>
<text x="33.0" y="781.0" font-size="69.0" text-anchor="start" class="b">B</text>
<text x="421.5" y="774.5" font-size="60.0" text-anchor="start" class="b" textLength="163.0" lengthAdjust="spacingAndGlyphs">ASEL</text>
<text x="96.2" y="960.7" font-size="54.5" text-anchor="middle">Aged</text>
<text x="98.4" y="1021.1" font-size="54.5" text-anchor="middle">WT</text>
<text x="99.2" y="1078.2" font-size="54.5" text-anchor="middle">BZ</text>
<text x="98.2" y="1132.9" font-size="54.5" text-anchor="middle">Side</text>
<text x="96.2" y="1502.1" font-size="54.5" text-anchor="middle">Aged</text>
<text x="98.4" y="1562.1" font-size="54.5" text-anchor="middle">WT</text>
<text x="87.5" y="1618.4" font-size="54.5" text-anchor="middle">Control</text>
<text x="98.2" y="1678.3" font-size="54.5" text-anchor="middle">Side</text>
<text x="198.4" y="1943.0" font-size="52.8" text-anchor="middle" textLength="24.0" lengthAdjust="spacingAndGlyphs">0</text>
<text x="283.3" y="1943.0" font-size="52.8" text-anchor="middle" textLength="47.5" lengthAdjust="spacingAndGlyphs">20</text>
<text x="366.2" y="1943.0" font-size="52.8" text-anchor="middle" textLength="47.5" lengthAdjust="spacingAndGlyphs">40</text>
<text x="454.9" y="1943.0" font-size="52.8" text-anchor="middle" textLength="47.5" lengthAdjust="spacingAndGlyphs">60</text>
<text x="545.4" y="1943.0" font-size="52.8" text-anchor="middle" textLength="47.5" lengthAdjust="spacingAndGlyphs">80</text>
<text x="636.8" y="1943.0" font-size="52.8" text-anchor="middle" textLength="69.0" lengthAdjust="spacingAndGlyphs">100</text>
<text x="724.2" y="1943.0" font-size="52.8" text-anchor="middle" textLength="69.0" lengthAdjust="spacingAndGlyphs">120</text>
<text x="805.0" y="1943.0" font-size="52.8" text-anchor="middle" textLength="69.0" lengthAdjust="spacingAndGlyphs">140</text>
<text x="890.0" y="1943.0" font-size="52.8" text-anchor="middle" textLength="69.0" lengthAdjust="spacingAndGlyphs">160</text>
<text x="969.5" y="1943.0" font-size="52.8" text-anchor="middle" textLength="69.0" lengthAdjust="spacingAndGlyphs">180</text>
<text x="539.0" y="2005.7" font-size="52.5" text-anchor="start" textLength="194" lengthAdjust="spacingAndGlyphs">Time (s)</text>
<rect x="1498.7" y="796.3" width="532" height="73.1" fill="#9c9c9c"/>
<text x="1593.5" y="854.3" font-size="52.5" text-anchor="start" textLength="335" lengthAdjust="spacing">Benzaldehyde</text>
<rect x="1499.7" y="868.4" width="4" height="20" fill="#1d1d1b"/>
<path d="M1501.7,921.8 L1489.9,883.2 L1513.5,883.2 Z" fill="#1d1d1b"/>
<rect x="2030.2" y="900" width="4.5" height="18.7" fill="#1d1d1b"/>
<path d="M2032.5,865.1 L2020.7,904.5 L2044.3,904.5 Z" fill="#1d1d1b"/>
<svg x="1455.2" y="924.0" width="797.3" height="480.0" viewBox="0 0 718.3 480.00" preserveAspectRatio="none" shape-rendering="crispEdges" fill="none">
<g stroke-width="17.00">
<path stroke="#73bce0" d="M0 8.5h2M10 8.5h2M532 8.5h4M7 25.5h1M16 25.5h2M547 25.5h1M38 42.5h2M254 42.5h4M288 42.5h2M292 42.5h2M426 42.5h2M523 42.5h1M538 42.5h2M602 42.5h2M546 59.5h2M0 76.5h2M40 76.5h2M534 76.5h2M0 128.5h2M538 128.5h4M10 145.5h2M538 145.5h2M12 162.5h2M26 179.5h1M30 179.5h1M36 179.5h1M254 179.5h2M490 179.5h2M500 179.5h4M18 214.5h2M22 214.5h4M398 214.5h2M420 214.5h2M424 214.5h4M570 214.5h1M624 214.5h6M22 231.5h2M582 231.5h2M608 231.5h4M2 248.5h2M552 248.5h2M576 248.5h2M16 265.5h2M14 300.5h6M22 300.5h2M554 300.5h4M10 317.5h2M600 317.5h2M606 317.5h2M0 334.5h4M360 334.5h2M612 334.5h2M634 334.5h2M164 351.5h2M174 351.5h2M178 351.5h2M216 351.5h2M556 403.5h2M6 420.5h2M10 420.5h2M18 420.5h2M24 420.5h4M30 420.5h2M6 437.5h1M9 437.5h1M12 437.5h1M17 437.5h1M19 437.5h1M25 437.5h1M48 437.5h1M51 437.5h1M54 437.5h1M57 437.5h1M59 437.5h1M61 437.5h1M71 437.5h1M84 437.5h1M92 437.5h1M98 437.5h1M105 437.5h1M107 437.5h1M110 437.5h1M137 437.5h1M139 437.5h1M145 437.5h1M148 437.5h1M156 437.5h1M159 437.5h1M161 437.5h1M163 437.5h2M176 437.5h1M206 437.5h1M212 437.5h1M221 437.5h2M224 437.5h4M242 437.5h1M245 437.5h1M247 437.5h1M254 437.5h1M256 437.5h1M271 437.5h1M275 437.5h1M278 437.5h1M281 437.5h1M283 437.5h1M286 437.5h1M290 437.5h1M302 437.5h1M307 437.5h1M318 437.5h1M323 437.5h1M330 437.5h1M334 437.5h1M341 437.5h1M346 437.5h2M350 437.5h1M352 437.5h2M408 437.5h1M439 437.5h1M541 437.5h1M679 437.5h1M691 437.5h1M695 437.5h1M705 437.5h1M709 437.5h2M714 437.5h2M24 454.5h2M28 454.5h4M42 454.5h2M52 454.5h2M600 454.5h2M614 454.5h2M640 454.5h1M0 471.5h1M4 471.5h2M7 471.5h1M10 471.5h3M15 471.5h1M19 471.5h1M21 471.5h1M23 471.5h1M27 471.5h2M39 471.5h1M48 471.5h1M55 471.5h2M61 471.5h2M70 471.5h1M72 471.5h3M80 471.5h2M89 471.5h1M92 471.5h2M97 471.5h2M110 471.5h1M126 471.5h2M132 471.5h1M139 471.5h1M144 471.5h1M161 471.5h1M175 471.5h1M178 471.5h1M180 471.5h2M187 471.5h1M190 471.5h2M201 471.5h2M209 471.5h2M218 471.5h1M229 471.5h1M253 471.5h1M277 471.5h1M296 471.5h1M299 471.5h1M301 471.5h1M303 471.5h1M316 471.5h3M323 471.5h2M330 471.5h1M337 471.5h2M340 471.5h2M343 471.5h1M347 471.5h1M353 471.5h3M358 471.5h1M360 471.5h1M364 471.5h2M367 471.5h1M370 471.5h1M372 471.5h2M380 471.5h1M395 471.5h1M397 471.5h1M400 471.5h1M405 471.5h2M408 471.5h1M415 471.5h1M420 471.5h2M423 471.5h2M426 471.5h1M433 471.5h3M438 471.5h1M447 471.5h3M456 471.5h1M458 471.5h1M460 471.5h1M466 471.5h1M468 471.5h1M473 471.5h1M479 471.5h1M486 471.5h4M501 471.5h1M503 471.5h1M505 471.5h1M508 471.5h3M513 471.5h2M516 471.5h1M573 471.5h1M576 471.5h1M580 471.5h1M597 471.5h1M606 471.5h1M620 471.5h1M624 471.5h1M627 471.5h1M629 471.5h3M656 471.5h1M660 471.5h5M701 471.5h1M707 471.5h1M713 471.5h2M716 471.5h1"/>
<path stroke="#7ccce6" d="M2 8.5h1M8 8.5h2M536 8.5h2M602 8.5h2M0 42.5h4M16 42.5h1M36 42.5h2M290 42.5h2M294 42.5h4M418 42.5h2M422 42.5h2M524 42.5h1M536 42.5h2M588 42.5h6M600 42.5h2M604 42.5h4M550 59.5h2M4 76.5h8M42 76.5h2M554 76.5h4M12 111.5h2M532 111.5h3M12 128.5h2M14 162.5h4M17 179.5h1M19 179.5h1M22 179.5h1M32 179.5h3M37 179.5h1M250 179.5h4M400 214.5h4M422 214.5h2M564 214.5h4M18 231.5h4M622 231.5h2M6 248.5h2M14 248.5h2M554 248.5h6M680 248.5h3M4 300.5h6M558 300.5h2M8 317.5h2M658 317.5h2M6 334.5h2M10 334.5h2M298 334.5h2M338 334.5h2M362 334.5h4M368 334.5h4M374 334.5h2M388 334.5h2M394 334.5h2M704 334.5h4M162 351.5h2M8 368.5h3M13 368.5h3M558 403.5h2M0 420.5h6M8 420.5h2M20 420.5h4M28 420.5h2M38 420.5h3M1 437.5h1M7 437.5h1M15 437.5h1M18 437.5h1M20 437.5h2M24 437.5h1M26 437.5h1M32 437.5h1M171 437.5h1M208 437.5h1M295 437.5h1M298 437.5h1M338 437.5h1M342 437.5h1M422 437.5h1M648 437.5h1M651 437.5h1M655 437.5h1M689 437.5h1M702 437.5h1M707 437.5h1M712 437.5h1M6 454.5h2M12 454.5h6M26 454.5h2M32 454.5h2M36 454.5h2M40 454.5h2M46 454.5h4M60 454.5h2M66 454.5h4M584 454.5h2M590 454.5h6M638 454.5h2M660 454.5h2M13 471.5h2M22 471.5h1M24 471.5h2M30 471.5h1M37 471.5h2M41 471.5h1M44 471.5h1M47 471.5h1M52 471.5h1M64 471.5h1M66 471.5h2M71 471.5h1M75 471.5h1M78 471.5h1M91 471.5h1M100 471.5h2M111 471.5h1M119 471.5h1M122 471.5h3M134 471.5h1M137 471.5h1M142 471.5h1M145 471.5h1M147 471.5h2M151 471.5h1M153 471.5h1M165 471.5h4M171 471.5h1M174 471.5h1M179 471.5h1M182 471.5h3M200 471.5h1M203 471.5h2M213 471.5h2M217 471.5h1M220 471.5h2M224 471.5h1M226 471.5h1M231 471.5h1M235 471.5h1M237 471.5h1M239 471.5h1M252 471.5h1M254 471.5h2M258 471.5h1M261 471.5h3M270 471.5h1M292 471.5h1M300 471.5h1M302 471.5h1M306 471.5h2M313 471.5h1M315 471.5h1M321 471.5h2M326 471.5h1M328 471.5h2M334 471.5h2M344 471.5h1M346 471.5h1M348 471.5h1M351 471.5h1M363 471.5h1M366 471.5h1M368 471.5h1M371 471.5h1M376 471.5h1M379 471.5h1M381 471.5h3M388 471.5h2M391 471.5h1M394 471.5h1M396 471.5h1M398 471.5h1M409 471.5h1M411 471.5h1M414 471.5h1M425 471.5h1M441 471.5h1M444 471.5h1M450 471.5h1M453 471.5h2M459 471.5h1M470 471.5h1M472 471.5h1M480 471.5h3M490 471.5h1M497 471.5h1M511 471.5h2M515 471.5h1M581 471.5h1M596 471.5h1M598 471.5h1M602 471.5h2M623 471.5h1M625 471.5h1M643 471.5h1M645 471.5h1M647 471.5h1M650 471.5h1M653 471.5h1M657 471.5h1M670 471.5h2M673 471.5h1M676 471.5h1M700 471.5h1M706 471.5h1M709 471.5h1M711 471.5h2M715 471.5h1M717 471.5h1"/>
<path stroke="#9fdc9f" d="M3 8.5h1M40 25.5h1M536 25.5h2M17 42.5h1M20 42.5h4M528 42.5h4M2 59.5h4M20 76.5h2M528 76.5h3M6 111.5h2M536 128.5h2M533 145.5h3M616 214.5h2M682 214.5h2M550 231.5h2M40 334.5h2M44 334.5h4M58 334.5h4M64 334.5h2M68 334.5h2M72 334.5h2M76 334.5h12M94 334.5h4M200 334.5h2M562 334.5h2M150 351.5h2M542 420.5h2M629 437.5h1M642 437.5h2M647 437.5h1M661 437.5h1M665 437.5h1M668 437.5h1M674 437.5h1M696 437.5h1M558 454.5h2M566 454.5h2M284 471.5h1M286 471.5h1M289 471.5h1M563 471.5h1M567 471.5h3"/>
<path stroke="#98dab4" d="M4 8.5h2M18 8.5h4M28 25.5h1M34 25.5h1M36 25.5h1M540 25.5h1M542 25.5h2M594 42.5h2M33 76.5h7M8 111.5h2M0 179.5h2M612 179.5h2M618 179.5h2M618 214.5h4M686 214.5h2M690 214.5h2M714 214.5h4M42 334.5h2M50 334.5h2M56 334.5h2M70 334.5h2M74 334.5h2M98 334.5h2M104 334.5h2M116 334.5h2M124 334.5h2M134 334.5h2M140 334.5h4M150 334.5h4M158 334.5h4M168 334.5h2M174 334.5h2M182 334.5h4M194 334.5h6M202 334.5h2M206 334.5h2M148 351.5h2M154 351.5h4M34 420.5h2M538 420.5h2M544 420.5h2M625 437.5h1M628 437.5h1M630 437.5h1M657 437.5h1M670 437.5h1M673 437.5h1M675 437.5h2M560 454.5h4M574 454.5h2M246 471.5h1M248 471.5h1M250 471.5h1M287 471.5h1M564 471.5h1M570 471.5h1M590 471.5h1M614 471.5h1"/>
<path stroke="#a6dd8b" d="M6 8.5h2M25 25.5h3M33 25.5h1M35 25.5h1M38 25.5h1M535 25.5h1M18 42.5h2M525 42.5h3M532 42.5h2M0 59.5h2M6 59.5h2M22 76.5h2M536 145.5h1M28 214.5h2M560 214.5h4M0 265.5h4M536 300.5h2M662 317.5h2M48 334.5h2M52 334.5h2M66 334.5h2M88 334.5h6M560 334.5h2M566 334.5h2M24 351.5h2M32 351.5h4M146 351.5h2M6 368.5h2M552 368.5h2M556 368.5h2M562 368.5h4M552 403.5h2M615 437.5h1M620 437.5h1M627 437.5h1M632 437.5h1M634 437.5h1M636 437.5h1M638 437.5h1M645 437.5h1M664 437.5h1M564 454.5h2M242 471.5h1M247 471.5h1M562 471.5h1M566 471.5h1M679 471.5h2"/>
<path stroke="#5380c6" d="M12 8.5h2M35 8.5h1M20 25.5h1M246 25.5h1M26 42.5h2M430 42.5h2M18 179.5h1M202 179.5h2M208 179.5h2M216 179.5h4M222 179.5h2M246 179.5h2M272 179.5h4M282 179.5h2M448 179.5h2M468 179.5h2M472 179.5h6M482 179.5h4M600 214.5h6M32 265.5h4M38 265.5h2M336 317.5h4M594 317.5h2M598 317.5h2M14 334.5h2M20 334.5h6M443 334.5h1M451 334.5h2M456 334.5h2M459 334.5h1M470 334.5h1M666 334.5h2M674 334.5h2M170 351.5h4M180 351.5h4M616 368.5h8M560 403.5h2M41 420.5h7M45 437.5h1M58 437.5h1M81 437.5h3M86 437.5h1M95 437.5h1M117 437.5h1M128 437.5h1M152 437.5h2M157 437.5h1M165 437.5h1M177 437.5h1M180 437.5h1M185 437.5h1M192 437.5h1M195 437.5h1M204 437.5h1M210 437.5h1M219 437.5h1M240 437.5h1M246 437.5h1M251 437.5h1M261 437.5h1M266 437.5h1M272 437.5h1M285 437.5h1M289 437.5h1M303 437.5h3M309 437.5h1M312 437.5h2M317 437.5h1M333 437.5h1M343 437.5h1M349 437.5h1M351 437.5h1M365 437.5h1M383 437.5h1M395 437.5h1M411 437.5h1M438 437.5h1M448 437.5h1M463 437.5h1M469 437.5h1M471 437.5h1M476 437.5h1M487 437.5h1M491 437.5h1M503 437.5h1M505 437.5h1M520 437.5h1M538 437.5h1M692 437.5h2M711 437.5h1M718 437.5h1M100 454.5h2M114 454.5h2M42 471.5h1M584 471.5h1M665 471.5h1"/>
<path stroke="#5a8ecd" d="M14 8.5h2M38 8.5h1M0 25.5h1M3 25.5h1M19 25.5h1M21 25.5h1M412 42.5h2M416 42.5h2M580 42.5h2M20 179.5h1M204 179.5h4M220 179.5h2M248 179.5h2M462 179.5h2M480 179.5h2M486 179.5h2M10 214.5h2M606 214.5h2M632 231.5h2M20 248.5h2M38 248.5h2M36 265.5h2M712 317.5h2M16 334.5h4M26 334.5h2M440 334.5h1M444 334.5h2M467 334.5h1M600 334.5h2M158 351.5h2M208 351.5h2M598 368.5h6M564 403.5h2M40 437.5h1M44 437.5h1M46 437.5h2M52 437.5h2M70 437.5h1M91 437.5h1M104 437.5h1M119 437.5h3M125 437.5h1M130 437.5h2M135 437.5h2M140 437.5h1M142 437.5h1M144 437.5h1M149 437.5h1M154 437.5h1M166 437.5h2M173 437.5h1M178 437.5h2M182 437.5h2M191 437.5h1M194 437.5h1M196 437.5h1M199 437.5h1M202 437.5h1M207 437.5h1M214 437.5h1M223 437.5h1M234 437.5h1M236 437.5h1M238 437.5h1M244 437.5h1M248 437.5h1M253 437.5h1M260 437.5h1M264 437.5h2M267 437.5h1M270 437.5h1M274 437.5h1M287 437.5h1M294 437.5h1M296 437.5h1M308 437.5h1M315 437.5h1M326 437.5h1M331 437.5h2M337 437.5h1M340 437.5h1M358 437.5h1M371 437.5h1M373 437.5h3M378 437.5h2M385 437.5h2M390 437.5h3M399 437.5h3M403 437.5h1M420 437.5h2M427 437.5h1M430 437.5h1M446 437.5h1M449 437.5h2M455 437.5h1M459 437.5h1M461 437.5h1M477 437.5h2M481 437.5h1M492 437.5h1M495 437.5h1M499 437.5h1M506 437.5h1M513 437.5h1M516 437.5h1M706 437.5h1M716 437.5h2M719 437.5h1M630 454.5h2M634 454.5h2M650 454.5h2M654 454.5h2M684 454.5h6M59 471.5h1M68 471.5h1M83 471.5h1M94 471.5h1M96 471.5h1M103 471.5h1M106 471.5h2M116 471.5h1M125 471.5h1M585 471.5h2M588 471.5h2M666 471.5h1"/>
<path stroke="#8ed7d1" d="M16 8.5h2M22 8.5h2M584 8.5h4M664 8.5h2M39 25.5h1M538 25.5h2M596 42.5h4M580 76.5h4M616 76.5h4M686 76.5h2M696 76.5h2M4 128.5h6M4 145.5h4M34 145.5h4M4 162.5h2M10 162.5h2M4 179.5h4M12 179.5h2M600 179.5h4M608 179.5h4M0 214.5h8M544 231.5h2M600 231.5h2M662 231.5h2M0 300.5h4M10 300.5h2M644 317.5h8M108 334.5h2M114 334.5h2M120 334.5h4M130 334.5h2M136 334.5h2M148 334.5h2M162 334.5h2M176 334.5h2M224 334.5h2M232 334.5h2M242 334.5h2M250 334.5h4M256 334.5h4M266 334.5h6M276 334.5h2M284 334.5h2M292 334.5h2M308 334.5h2M322 334.5h2M332 334.5h2M648 334.5h2M678 334.5h2M684 334.5h2M38 351.5h2M638 368.5h4M3 403.5h1M11 403.5h2M0 437.5h1M34 437.5h2M37 437.5h1M543 437.5h1M640 437.5h2M671 437.5h1M677 437.5h1M684 437.5h2M699 437.5h2M703 437.5h1M572 454.5h2M598 454.5h2M690 454.5h2M136 471.5h1M149 471.5h1M157 471.5h2M162 471.5h1M164 471.5h1M169 471.5h2M176 471.5h1M188 471.5h1M196 471.5h1M207 471.5h1M219 471.5h1M230 471.5h1M249 471.5h1M269 471.5h1M272 471.5h1M275 471.5h1M278 471.5h1M282 471.5h1M290 471.5h1M294 471.5h1M327 471.5h1M431 471.5h1M436 471.5h1M465 471.5h1M520 471.5h1M582 471.5h1M595 471.5h1M609 471.5h2M617 471.5h1M622 471.5h1M634 471.5h1M638 471.5h1M641 471.5h1M644 471.5h1M651 471.5h1M668 471.5h1M697 471.5h1M699 471.5h1"/>
<path stroke="#93d8c3" d="M24 8.5h1M656 8.5h2M4 25.5h1M8 25.5h1M6 42.5h4M698 76.5h2M4 111.5h2M535 128.5h1M0 145.5h4M6 162.5h4M10 179.5h2M614 179.5h4M622 214.5h2M684 214.5h2M688 214.5h2M718 214.5h2M664 231.5h2M12 265.5h2M54 334.5h2M100 334.5h4M106 334.5h2M110 334.5h4M118 334.5h2M126 334.5h4M132 334.5h2M138 334.5h2M144 334.5h4M154 334.5h4M164 334.5h4M170 334.5h4M178 334.5h4M186 334.5h8M204 334.5h2M208 334.5h4M222 334.5h2M226 334.5h2M236 334.5h2M240 334.5h2M274 334.5h2M152 351.5h2M642 368.5h2M36 420.5h2M150 420.5h2M537 420.5h1M540 420.5h2M622 437.5h1M644 437.5h1M650 437.5h1M656 437.5h1M669 437.5h1M678 437.5h1M698 437.5h1M701 437.5h1M576 454.5h8M596 454.5h2M135 471.5h1M141 471.5h1M155 471.5h1M240 471.5h2M243 471.5h1M251 471.5h1M288 471.5h1M291 471.5h1M443 471.5h1M601 471.5h1M612 471.5h1M615 471.5h1M619 471.5h1M633 471.5h1"/>
<path stroke="#addf7b" d="M25 8.5h1M28 8.5h7M31 25.5h2M640 179.5h8M557 214.5h3M702 214.5h6M710 214.5h4M584 231.5h2M532 300.5h4M574 317.5h2M580 317.5h4M660 317.5h2M62 334.5h2M564 334.5h2M650 334.5h8M36 351.5h2M190 351.5h2M0 368.5h6M32 368.5h2M550 368.5h2M554 368.5h2M558 368.5h4M8 403.5h3M550 403.5h2M542 437.5h1M624 437.5h1M637 437.5h1M663 437.5h1M285 471.5h1M571 471.5h1"/>
<path stroke="#b4e06e" d="M26 8.5h2M29 25.5h1M37 25.5h1M30 76.5h2M558 76.5h4M534 162.5h6M666 179.5h2M30 214.5h4M546 214.5h2M552 214.5h2M708 214.5h2M586 231.5h2M24 265.5h2M2 317.5h2M6 317.5h2M310 317.5h1M576 317.5h4M30 334.5h2M658 334.5h2M76 351.5h2M126 351.5h2M145 351.5h1M189 351.5h1M192 351.5h2M30 368.5h2M34 368.5h1M531 437.5h1M621 437.5h1M623 437.5h1M635 437.5h1M666 437.5h2M568 454.5h2M565 471.5h1M681 471.5h1"/>
<path stroke="#4c72bf" d="M36 8.5h2M638 8.5h2M666 8.5h4M48 25.5h2M61 25.5h2M83 25.5h1M92 25.5h1M98 25.5h1M103 25.5h1M105 25.5h1M109 25.5h1M113 25.5h1M116 25.5h1M119 25.5h1M135 25.5h1M137 25.5h1M149 25.5h1M154 25.5h1M162 25.5h1M173 25.5h1M175 25.5h1M177 25.5h1M189 25.5h1M210 25.5h1M212 25.5h1M216 25.5h1M231 25.5h2M234 25.5h1M243 25.5h1M256 25.5h3M260 25.5h1M265 25.5h1M269 25.5h1M428 42.5h2M662 42.5h4M536 76.5h4M542 76.5h2M18 145.5h2M22 145.5h2M30 145.5h2M542 145.5h2M546 145.5h2M550 145.5h2M38 179.5h2M268 179.5h4M278 179.5h4M286 179.5h2M420 179.5h2M442 179.5h2M446 179.5h2M456 179.5h4M518 179.5h2M204 214.5h4M392 214.5h2M574 231.5h4M544 248.5h2M650 248.5h4M26 300.5h2M596 317.5h2M12 334.5h2M447 334.5h2M453 334.5h3M460 334.5h1M464 334.5h1M668 334.5h4M676 334.5h2M698 334.5h2M184 351.5h2M634 368.5h4M562 403.5h2M56 437.5h1M60 437.5h1M64 437.5h1M79 437.5h1M85 437.5h1M94 437.5h1M101 437.5h1M103 437.5h1M109 437.5h1M111 437.5h1M113 437.5h1M150 437.5h1M155 437.5h1M162 437.5h1M190 437.5h1M197 437.5h1M211 437.5h1M215 437.5h1M228 437.5h2M231 437.5h1M235 437.5h1M243 437.5h1M250 437.5h1M269 437.5h1M279 437.5h1M282 437.5h1M284 437.5h1M291 437.5h1M306 437.5h1M310 437.5h1M314 437.5h1M339 437.5h1M345 437.5h1M355 437.5h2M362 437.5h1M364 437.5h1M370 437.5h1M388 437.5h1M397 437.5h1M404 437.5h2M409 437.5h1M413 437.5h1M417 437.5h1M425 437.5h1M435 437.5h2M443 437.5h1M447 437.5h1M454 437.5h1M458 437.5h1M468 437.5h1M474 437.5h2M480 437.5h1M482 437.5h1M493 437.5h1M497 437.5h2M512 437.5h1M514 437.5h1M519 437.5h1M76 454.5h2M82 454.5h6M94 454.5h2M102 454.5h2M116 454.5h2M120 454.5h2M142 454.5h2M587 471.5h1"/>
<path stroke="#3339a3" d="M39 8.5h3M622 8.5h2M672 8.5h4M45 25.5h1M51 25.5h1M60 25.5h1M65 25.5h1M71 25.5h1M85 25.5h1M96 25.5h1M117 25.5h1M124 25.5h1M134 25.5h1M150 25.5h1M174 25.5h1M178 25.5h1M180 25.5h1M193 25.5h1M198 25.5h2M202 25.5h1M204 25.5h1M207 25.5h1M225 25.5h1M228 25.5h1M266 25.5h1M272 25.5h2M282 25.5h2M286 25.5h2M290 25.5h18M310 25.5h4M316 25.5h2M320 25.5h6M336 25.5h4M342 25.5h2M356 25.5h2M362 25.5h2M366 25.5h2M376 25.5h2M380 25.5h2M384 25.5h4M397 25.5h1M401 25.5h1M404 25.5h1M408 25.5h1M417 25.5h1M422 25.5h1M443 25.5h1M548 25.5h1M551 25.5h3M555 25.5h1M42 42.5h2M88 42.5h2M96 42.5h2M102 42.5h10M120 42.5h2M124 42.5h4M130 42.5h4M138 42.5h6M146 42.5h2M154 42.5h6M164 42.5h2M168 42.5h4M174 42.5h4M182 42.5h4M188 42.5h2M194 42.5h2M200 42.5h2M204 42.5h2M208 42.5h6M222 42.5h4M238 42.5h2M260 42.5h2M264 42.5h2M272 42.5h4M278 42.5h2M284 42.5h2M314 42.5h2M328 42.5h4M342 42.5h6M350 42.5h2M354 42.5h6M364 42.5h2M372 42.5h2M376 42.5h6M402 42.5h2M408 42.5h2M432 42.5h2M442 42.5h2M452 42.5h2M460 42.5h2M468 42.5h4M486 42.5h2M546 42.5h2M550 42.5h2M554 42.5h2M560 42.5h2M570 42.5h2M574 42.5h2M614 42.5h4M630 42.5h2M646 42.5h2M650 42.5h2M674 42.5h2M678 42.5h2M682 42.5h6M692 42.5h4M698 42.5h4M704 42.5h2M708 42.5h2M714 42.5h2M500 59.5h2M506 59.5h2M562 59.5h2M570 59.5h2M650 59.5h2M606 76.5h2M540 111.5h2M14 128.5h2M20 128.5h2M30 128.5h10M39 145.5h1M44 145.5h2M48 145.5h4M54 145.5h2M58 145.5h2M62 145.5h2M80 145.5h2M84 145.5h2M92 145.5h2M96 145.5h2M100 145.5h2M108 145.5h2M112 145.5h2M122 145.5h4M130 145.5h2M136 145.5h6M144 145.5h4M156 145.5h4M162 145.5h2M168 145.5h2M172 145.5h6M180 145.5h4M188 145.5h4M194 145.5h2M200 145.5h12M214 145.5h4M222 145.5h6M230 145.5h4M236 145.5h4M244 145.5h4M260 145.5h4M266 145.5h2M270 145.5h2M274 145.5h8M290 145.5h2M296 145.5h2M302 145.5h8M312 145.5h14M328 145.5h2M334 145.5h2M338 145.5h4M344 145.5h4M356 145.5h2M364 145.5h4M376 145.5h2M380 145.5h8M396 145.5h8M406 145.5h6M418 145.5h4M426 145.5h6M438 145.5h4M448 145.5h2M456 145.5h10M484 145.5h12M502 145.5h2M510 145.5h6M518 145.5h2M552 145.5h2M558 145.5h8M568 145.5h8M580 145.5h12M604 145.5h2M608 145.5h2M612 145.5h2M616 145.5h2M622 145.5h8M632 145.5h8M644 145.5h2M648 145.5h2M654 145.5h4M668 145.5h10M680 145.5h4M688 145.5h2M694 145.5h8M704 145.5h2M708 145.5h4M716 145.5h4M0 162.5h2M18 162.5h4M24 162.5h4M34 162.5h6M546 162.5h2M550 162.5h4M560 162.5h2M44 179.5h4M68 179.5h2M76 179.5h6M88 179.5h2M98 179.5h8M108 179.5h2M116 179.5h6M124 179.5h4M134 179.5h2M138 179.5h2M146 179.5h4M160 179.5h6M168 179.5h4M176 179.5h2M180 179.5h4M188 179.5h2M316 179.5h2M320 179.5h4M328 179.5h4M338 179.5h2M342 179.5h2M350 179.5h2M392 179.5h2M44 214.5h4M220 214.5h2M230 214.5h2M234 214.5h2M244 214.5h2M260 214.5h2M270 214.5h2M274 214.5h4M360 214.5h4M370 214.5h2M376 214.5h2M380 214.5h4M446 214.5h2M450 214.5h2M454 214.5h6M466 214.5h2M470 214.5h10M486 214.5h4M492 214.5h4M498 214.5h2M504 214.5h2M510 214.5h4M516 214.5h4M576 214.5h4M582 214.5h2M590 214.5h2M594 214.5h2M598 214.5h2M634 214.5h2M640 214.5h6M652 214.5h4M660 214.5h2M28 231.5h2M40 231.5h4M50 231.5h4M56 231.5h2M60 231.5h2M64 231.5h4M72 231.5h2M76 231.5h2M88 231.5h4M116 231.5h6M124 231.5h2M130 231.5h2M134 231.5h4M148 231.5h2M156 231.5h2M174 231.5h2M178 231.5h2M184 231.5h4M190 231.5h4M196 231.5h4M612 231.5h4M618 231.5h2M640 231.5h2M648 231.5h6M685 231.5h1M612 248.5h2M42 265.5h2M50 265.5h2M74 265.5h4M548 300.5h4M610 300.5h4M616 300.5h2M20 317.5h2M298 317.5h2M360 317.5h6M370 317.5h4M376 317.5h4M382 317.5h6M390 317.5h2M682 317.5h6M596 334.5h2M618 334.5h2M622 334.5h2M638 334.5h2M644 334.5h2M716 334.5h2M234 351.5h2M242 351.5h2M246 351.5h2M274 351.5h2M280 351.5h2M302 351.5h4M45 368.5h1M688 368.5h2M696 368.5h4M14 403.5h4M22 403.5h2M32 403.5h2M38 403.5h2M44 403.5h8M60 403.5h8M74 403.5h2M84 403.5h4M92 403.5h4M102 403.5h2M108 403.5h6M122 403.5h4M130 403.5h2M134 403.5h2M138 403.5h2M146 403.5h4M152 403.5h2M168 403.5h2M172 403.5h2M176 403.5h2M182 403.5h6M192 403.5h6M206 403.5h2M212 403.5h4M220 403.5h2M228 403.5h4M236 403.5h6M244 403.5h2M248 403.5h4M254 403.5h2M266 403.5h4M274 403.5h2M278 403.5h4M286 403.5h2M298 403.5h4M304 403.5h2M308 403.5h2M314 403.5h6M326 403.5h4M332 403.5h2M338 403.5h2M342 403.5h2M348 403.5h2M358 403.5h2M566 403.5h4M218 420.5h2M230 420.5h2M234 420.5h2M238 420.5h2M144 454.5h2M150 454.5h8M166 454.5h2M170 454.5h2M178 454.5h8M188 454.5h2M196 454.5h4M208 454.5h2M218 454.5h2M226 454.5h4M242 454.5h4M256 454.5h2M262 454.5h4M276 454.5h2M320 454.5h2M328 454.5h2M340 454.5h2M350 454.5h4M358 454.5h2M364 454.5h2M368 454.5h2M384 454.5h4M390 454.5h10M404 454.5h2M408 454.5h4M414 454.5h2M420 454.5h2M426 454.5h6M434 454.5h2M444 454.5h2M460 454.5h4M470 454.5h4M476 454.5h6M490 454.5h4M496 454.5h8M510 454.5h6M520 454.5h1M622 454.5h2M626 454.5h2M641 454.5h1M648 454.5h2M670 454.5h2M680 454.5h2M698 454.5h8M714 454.5h2"/>
<path stroke="#0f0c77" d="M42 8.5h18M62 8.5h40M104 8.5h40M146 8.5h36M184 8.5h14M200 8.5h42M244 8.5h74M320 8.5h10M332 8.5h10M344 8.5h8M354 8.5h20M376 8.5h22M400 8.5h4M406 8.5h74M482 8.5h34M518 8.5h4M455 25.5h2M460 25.5h2M466 25.5h1M474 25.5h1M477 25.5h2M480 25.5h1M489 25.5h4M495 25.5h2M499 25.5h2M503 25.5h1M506 25.5h3M512 25.5h1M516 25.5h3M564 25.5h2M569 25.5h1M574 25.5h2M577 25.5h3M581 25.5h1M588 25.5h2M595 25.5h2M599 25.5h1M606 25.5h3M612 25.5h3M619 25.5h2M623 25.5h2M627 25.5h1M633 25.5h1M639 25.5h2M642 25.5h1M645 25.5h2M648 25.5h1M653 25.5h2M660 25.5h2M664 25.5h1M666 25.5h1M671 25.5h1M675 25.5h1M680 25.5h1M683 25.5h1M687 25.5h1M689 25.5h1M696 25.5h1M705 25.5h4M713 25.5h1M715 25.5h1M718 25.5h2M168 59.5h96M266 59.5h122M394 59.5h10M406 59.5h6M414 59.5h58M596 59.5h34M632 59.5h18M656 59.5h16M30 111.5h200M232 111.5h8M242 111.5h281M548 111.5h18M568 111.5h76M646 111.5h30M680 111.5h40M42 128.5h254M298 128.5h224M554 128.5h120M676 128.5h44M40 162.5h46M88 162.5h338M428 162.5h76M506 162.5h17M564 162.5h62M628 162.5h24M654 162.5h66M42 248.5h158M202 248.5h320M560 248.5h14M578 248.5h18M604 248.5h8M620 248.5h22M683 248.5h21M706 248.5h14M104 265.5h76M272 265.5h158M432 265.5h22M456 265.5h12M470 265.5h51M566 265.5h106M674 265.5h46M32 300.5h204M238 300.5h284M564 300.5h10M576 300.5h2M590 300.5h2M594 300.5h12M642 300.5h70M40 317.5h200M242 317.5h52M392 317.5h6M400 317.5h121M308 351.5h16M340 351.5h8M350 351.5h10M366 351.5h6M374 351.5h2M378 351.5h68M448 351.5h4M458 351.5h26M486 351.5h24M512 351.5h9M602 351.5h16M620 351.5h98M48 368.5h230M280 368.5h142M424 368.5h10M436 368.5h74M512 368.5h9M328 420.5h16M346 420.5h114M462 420.5h26M490 420.5h22M516 420.5h4M560 420.5h160"/>
<path stroke="#0f0c76" d="M60 8.5h2M144 8.5h2M198 8.5h2M318 8.5h2M342 8.5h2M352 8.5h2M398 8.5h2M404 8.5h2M480 8.5h2M516 8.5h2M522 8.5h1M450 25.5h3M464 25.5h1M465 25.5h1M467 25.5h1M469 25.5h1M471 25.5h1M473 25.5h1M481 25.5h3M485 25.5h1M487 25.5h1M497 25.5h2M501 25.5h1M504 25.5h1M510 25.5h1M515 25.5h1M521 25.5h1M566 25.5h3M572 25.5h2M576 25.5h1M582 25.5h1M584 25.5h3M590 25.5h1M591 25.5h1M598 25.5h1M600 25.5h1M602 25.5h4M609 25.5h1M618 25.5h1M621 25.5h1M625 25.5h1M631 25.5h1M635 25.5h2M638 25.5h1M641 25.5h1M644 25.5h1M647 25.5h1M649 25.5h1M652 25.5h1M655 25.5h2M657 25.5h1M658 25.5h2M665 25.5h1M669 25.5h2M674 25.5h1M676 25.5h3M684 25.5h3M688 25.5h1M690 25.5h1M697 25.5h1M699 25.5h3M717 25.5h1M404 59.5h2M240 111.5h2M644 111.5h2M676 111.5h2M296 128.5h2M674 128.5h2M426 162.5h2M504 162.5h2M626 162.5h2M200 248.5h2M704 248.5h2M430 265.5h2M468 265.5h2M672 265.5h2M236 300.5h2M574 300.5h2M592 300.5h2M240 317.5h2M398 317.5h2M376 351.5h2M510 351.5h2M278 368.5h2M422 368.5h2M434 368.5h2M510 368.5h2M344 420.5h2M514 420.5h2M520 420.5h1"/>
<path stroke="#0f0c78" d="M102 8.5h2M182 8.5h2M242 8.5h2M330 8.5h2M374 8.5h2M442 25.5h1M448 25.5h1M453 25.5h2M457 25.5h3M462 25.5h2M468 25.5h1M470 25.5h1M472 25.5h1M475 25.5h2M479 25.5h1M484 25.5h1M486 25.5h1M488 25.5h1M493 25.5h2M502 25.5h1M505 25.5h1M509 25.5h1M511 25.5h1M513 25.5h2M519 25.5h2M522 25.5h1M570 25.5h2M580 25.5h1M583 25.5h1M587 25.5h1M593 25.5h2M601 25.5h1M610 25.5h2M615 25.5h3M622 25.5h1M626 25.5h1M628 25.5h1M630 25.5h1M632 25.5h1M634 25.5h1M637 25.5h1M643 25.5h1M650 25.5h2M662 25.5h2M667 25.5h2M673 25.5h1M679 25.5h1M682 25.5h1M691 25.5h5M698 25.5h1M702 25.5h3M710 25.5h3M714 25.5h1M716 25.5h1M264 59.5h2M412 59.5h2M630 59.5h2M230 111.5h2M566 111.5h2M678 111.5h2M86 162.5h2M652 162.5h2M454 265.5h2M348 351.5h2M372 351.5h2M446 351.5h2M484 351.5h2M618 351.5h2M718 351.5h2M460 420.5h2M488 420.5h2M512 420.5h2"/>
<path stroke="#6e0c00" d="M523 8.5h1M524 8.5h4M528 8.5h1M523 25.5h2M525 25.5h1M526 25.5h1M527 25.5h2M529 25.5h1M530 25.5h1M531 25.5h2M522 59.5h4M526 59.5h4M530 59.5h2M532 59.5h6M538 59.5h2M540 59.5h2M655 76.5h1M656 76.5h2M658 76.5h2M522 145.5h9M522 179.5h2M524 179.5h8M532 179.5h4M536 179.5h2M538 179.5h4M542 179.5h4M546 179.5h2M548 179.5h2M550 179.5h2M552 179.5h2M554 179.5h4M558 179.5h8M566 179.5h2M568 179.5h1M710 179.5h2M712 179.5h6M718 179.5h2M522 214.5h2M524 214.5h2M526 214.5h2M528 214.5h8M536 214.5h6M542 214.5h1M522 231.5h8M530 231.5h2M534 231.5h4M538 231.5h3M552 231.5h2M554 231.5h12M566 231.5h2M533 248.5h3M536 248.5h2M538 248.5h4M521 265.5h1M522 265.5h2M524 265.5h6M530 265.5h8M521 317.5h3M524 317.5h2M526 317.5h4M530 317.5h2M532 317.5h10M522 334.5h2M524 334.5h2M526 334.5h2M528 334.5h2M530 334.5h2M532 334.5h2M534 334.5h3M103 351.5h5M108 351.5h2M110 351.5h5M37 368.5h3M40 368.5h1M521 368.5h9M530 368.5h2M532 368.5h5M521 403.5h3M524 403.5h6M530 403.5h4M534 403.5h6M540 403.5h2M542 403.5h1M199 420.5h5M521 420.5h5M526 420.5h2M528 420.5h2M530 420.5h2M521 437.5h1M522 437.5h1M523 437.5h4M527 437.5h1M528 437.5h1M529 437.5h1M530 437.5h1M548 437.5h4M552 437.5h4M556 437.5h16M572 437.5h2M574 437.5h2M576 437.5h2M578 437.5h10M588 437.5h2M590 437.5h7M521 471.5h2M523 471.5h1M524 471.5h1M525 471.5h1M526 471.5h3M529 471.5h1M530 471.5h2M532 471.5h5M537 471.5h2M539 471.5h2M541 471.5h1"/>
<path stroke="#feb714" d="M529 8.5h1M532 145.5h1M572 179.5h2M672 179.5h2M328 317.5h1M554 334.5h3M42 351.5h2M188 351.5h1M35 368.5h1M522 454.5h2"/>
<path stroke="#fda014" d="M530 8.5h2M576 8.5h4M531 145.5h1M523 162.5h1M526 162.5h2M541 231.5h3M542 248.5h2M546 317.5h2M44 351.5h1M48 351.5h1M100 351.5h3M36 368.5h1M602 437.5h2M521 454.5h1M542 454.5h2M695 471.5h1"/>
<path stroke="#4764b8" d="M538 8.5h2M542 8.5h1M588 8.5h4M640 8.5h2M648 8.5h2M670 8.5h2M43 25.5h2M47 25.5h1M54 25.5h1M59 25.5h1M64 25.5h1M76 25.5h2M82 25.5h1M86 25.5h1M88 25.5h3M94 25.5h1M97 25.5h1M99 25.5h1M107 25.5h2M115 25.5h1M120 25.5h1M128 25.5h1M130 25.5h3M138 25.5h2M168 25.5h2M181 25.5h1M186 25.5h1M190 25.5h1M197 25.5h1M203 25.5h1M211 25.5h1M214 25.5h1M219 25.5h1M226 25.5h2M230 25.5h1M235 25.5h1M251 25.5h1M261 25.5h1M263 25.5h1M392 25.5h1M308 42.5h2M658 42.5h2M540 76.5h2M628 76.5h6M640 76.5h6M650 76.5h2M16 145.5h2M20 145.5h2M24 145.5h4M544 145.5h2M548 145.5h2M214 179.5h2M230 179.5h2M258 179.5h4M266 179.5h2M276 179.5h2M284 179.5h2M292 179.5h2M360 179.5h2M372 179.5h2M376 179.5h2M412 179.5h2M416 179.5h2M424 179.5h6M432 179.5h2M436 179.5h6M444 179.5h2M450 179.5h2M508 179.5h6M520 179.5h2M394 214.5h4M602 248.5h2M561 265.5h5M24 300.5h2M306 317.5h2M408 334.5h2M438 334.5h2M441 334.5h2M446 334.5h1M449 334.5h2M458 334.5h1M461 334.5h3M466 334.5h1M480 334.5h2M488 334.5h2M672 334.5h2M690 334.5h2M694 334.5h2M702 334.5h2M202 351.5h4M212 351.5h4M570 368.5h10M582 368.5h2M55 437.5h1M102 437.5h1M115 437.5h1M132 437.5h1M276 437.5h1M361 437.5h1M369 437.5h1M381 437.5h2M387 437.5h1M393 437.5h2M402 437.5h1M406 437.5h1M416 437.5h1M418 437.5h1M423 437.5h2M429 437.5h1M437 437.5h1M456 437.5h2M470 437.5h1M473 437.5h1M479 437.5h1M485 437.5h2M488 437.5h2M501 437.5h1M508 437.5h1M511 437.5h1M515 437.5h1M517 437.5h2M547 437.5h1M72 454.5h4M80 454.5h2M90 454.5h2M96 454.5h4M104 454.5h4M112 454.5h2M122 454.5h4M128 454.5h4M138 454.5h4M612 454.5h2"/>
<path stroke="#425ab3" d="M540 8.5h2M592 8.5h2M596 8.5h6M650 8.5h2M708 8.5h2M10 25.5h1M50 25.5h1M67 25.5h1M74 25.5h1M78 25.5h1M87 25.5h1M104 25.5h1M106 25.5h1M110 25.5h1M114 25.5h1M121 25.5h1M123 25.5h1M126 25.5h1M129 25.5h1M133 25.5h1M136 25.5h1M140 25.5h1M142 25.5h1M145 25.5h2M148 25.5h1M151 25.5h1M153 25.5h1M163 25.5h3M167 25.5h1M170 25.5h3M179 25.5h1M184 25.5h2M187 25.5h1M191 25.5h2M194 25.5h2M208 25.5h1M213 25.5h1M215 25.5h1M220 25.5h1M224 25.5h1M233 25.5h1M240 25.5h1M242 25.5h1M248 25.5h2M255 25.5h1M268 25.5h1M271 25.5h1M429 25.5h1M240 42.5h4M298 42.5h4M310 42.5h2M572 42.5h2M656 42.5h2M660 42.5h2M666 42.5h2M552 59.5h4M672 59.5h4M66 76.5h2M96 76.5h4M110 76.5h2M128 76.5h2M134 76.5h2M154 76.5h4M208 76.5h2M240 76.5h2M250 76.5h2M258 76.5h4M290 76.5h2M338 76.5h2M342 76.5h2M352 76.5h4M386 76.5h2M392 76.5h2M426 76.5h2M446 76.5h2M472 76.5h2M510 76.5h2M634 76.5h6M646 76.5h4M12 145.5h2M28 145.5h2M192 179.5h2M212 179.5h2M228 179.5h2M234 179.5h2M242 179.5h2M262 179.5h4M290 179.5h2M294 179.5h2M364 179.5h2M374 179.5h2M378 179.5h2M382 179.5h2M388 179.5h4M396 179.5h2M406 179.5h4M422 179.5h2M430 179.5h2M434 179.5h2M452 179.5h4M514 179.5h4M572 214.5h2M676 214.5h4M10 231.5h2M14 231.5h2M606 231.5h2M302 317.5h2M706 317.5h4M396 334.5h4M406 334.5h2M412 334.5h2M416 334.5h2M420 334.5h2M432 334.5h2M469 334.5h1M471 334.5h1M474 334.5h6M486 334.5h2M490 334.5h2M498 334.5h2M504 334.5h2M510 334.5h2M514 334.5h2M692 334.5h2M696 334.5h2M700 334.5h2M8 351.5h2M198 351.5h4M294 351.5h2M298 351.5h2M11 368.5h2M16 368.5h2M580 368.5h2M644 368.5h6M48 420.5h2M86 420.5h2M98 420.5h2M124 420.5h2M50 437.5h1M300 437.5h1M360 437.5h1M380 437.5h1M414 437.5h2M451 437.5h1M500 437.5h1M502 437.5h1M70 454.5h2M78 454.5h2M88 454.5h2M92 454.5h2M108 454.5h4M118 454.5h2M126 454.5h2M132 454.5h6M606 454.5h2"/>
<path stroke="#82d0e0" d="M543 8.5h5M704 8.5h2M5 25.5h1M13 25.5h1M544 25.5h1M4 42.5h2M12 42.5h2M420 42.5h2M424 42.5h2M534 42.5h2M8 59.5h2M544 59.5h2M548 59.5h2M14 76.5h4M10 111.5h2M2 128.5h2M10 128.5h2M542 162.5h2M14 179.5h1M16 179.5h1M24 179.5h1M256 179.5h2M604 179.5h2M412 214.5h2M568 214.5h2M610 214.5h2M614 214.5h2M16 231.5h2M592 231.5h4M602 231.5h2M684 231.5h1M0 248.5h2M4 248.5h2M8 248.5h6M16 248.5h4M662 248.5h2M4 265.5h6M554 265.5h2M20 300.5h2M544 300.5h2M714 300.5h2M718 300.5h2M334 317.5h2M590 317.5h4M608 317.5h2M612 317.5h2M652 317.5h6M672 317.5h2M4 334.5h2M8 334.5h2M280 334.5h4M288 334.5h2M296 334.5h2M300 334.5h2M304 334.5h4M310 334.5h2M314 334.5h2M334 334.5h2M340 334.5h6M352 334.5h2M366 334.5h2M372 334.5h2M376 334.5h4M384 334.5h2M392 334.5h2M568 334.5h2M572 334.5h8M582 334.5h2M662 334.5h4M4 351.5h4M10 351.5h2M14 351.5h2M166 351.5h4M194 351.5h4M218 351.5h1M4 403.5h4M554 403.5h2M32 420.5h2M546 420.5h2M13 437.5h2M22 437.5h1M31 437.5h1M36 437.5h1M38 437.5h2M90 437.5h1M198 437.5h1M544 437.5h1M652 437.5h3M687 437.5h2M2 454.5h4M8 454.5h4M18 454.5h4M38 454.5h2M50 454.5h2M54 454.5h6M62 454.5h2M588 454.5h2M602 454.5h2M692 454.5h2M8 471.5h1M16 471.5h2M36 471.5h1M54 471.5h1M133 471.5h1M140 471.5h1M146 471.5h1M152 471.5h1M156 471.5h1M159 471.5h2M172 471.5h2M177 471.5h1M189 471.5h1M194 471.5h2M198 471.5h1M206 471.5h1M208 471.5h1M215 471.5h1M233 471.5h2M238 471.5h1M260 471.5h1M264 471.5h3M273 471.5h2M279 471.5h1M281 471.5h1M298 471.5h1M308 471.5h1M311 471.5h2M314 471.5h1M319 471.5h2M325 471.5h1M331 471.5h1M333 471.5h1M350 471.5h1M356 471.5h2M359 471.5h1M361 471.5h2M375 471.5h1M377 471.5h2M390 471.5h1M401 471.5h4M407 471.5h1M410 471.5h1M416 471.5h2M427 471.5h3M432 471.5h1M440 471.5h1M451 471.5h1M455 471.5h1M461 471.5h1M463 471.5h1M471 471.5h1M475 471.5h1M477 471.5h2M484 471.5h2M493 471.5h2M499 471.5h2M507 471.5h1M577 471.5h3M583 471.5h1M604 471.5h1M607 471.5h2M611 471.5h1M621 471.5h1M632 471.5h1M635 471.5h1M639 471.5h1M642 471.5h1M652 471.5h1M655 471.5h1M659 471.5h1M669 471.5h1M698 471.5h1M704 471.5h2M708 471.5h1M718 471.5h1"/>
<path stroke="#c6e453" d="M548 8.5h2M30 25.5h1M596 179.5h4M624 179.5h4M632 179.5h2M650 179.5h2M664 179.5h2M668 179.5h4M41 214.5h1M548 214.5h2M694 214.5h2M700 214.5h2M570 231.5h4M666 231.5h4M550 248.5h2M600 248.5h2M636 317.5h2M32 334.5h4M38 334.5h2M50 351.5h4M62 351.5h2M66 351.5h2M124 351.5h2M130 351.5h2M617 437.5h1M631 437.5h1M639 437.5h1M556 454.5h2M678 471.5h1"/>
<path stroke="#bce260" d="M550 8.5h2M24 76.5h6M32 76.5h1M532 162.5h2M622 179.5h2M628 179.5h4M636 179.5h4M545 214.5h1M550 214.5h2M596 248.5h4M642 248.5h8M20 265.5h4M550 265.5h4M0 317.5h2M4 317.5h2M308 317.5h2M36 334.5h2M74 351.5h2M78 351.5h2M122 351.5h2M128 351.5h2M27 368.5h3M612 437.5h1M626 437.5h1M633 437.5h1M660 437.5h1M662 437.5h1M570 454.5h2"/>
<path stroke="#fece14" d="M552 8.5h4M533 25.5h2M674 179.5h2M680 179.5h3M530 248.5h3M311 317.5h3M326 317.5h2M550 317.5h2M548 334.5h2M41 351.5h1M82 351.5h2M186 351.5h2M144 420.5h2M197 420.5h2M540 454.5h2M686 471.5h1"/>
<path stroke="#fdde18" d="M556 8.5h2M542 59.5h2M562 76.5h2M566 76.5h2M530 111.5h2M590 179.5h2M34 214.5h2M556 214.5h1M2 231.5h4M666 248.5h4M318 317.5h2M552 317.5h4M628 317.5h2M540 334.5h1M80 351.5h2M92 351.5h2M142 351.5h3M608 437.5h1M544 454.5h2M552 454.5h2M557 471.5h2M560 471.5h1M688 471.5h1M692 471.5h2"/>
<path stroke="#f75912" d="M558 8.5h2M684 179.5h2M543 214.5h1M541 334.5h1M88 351.5h2M544 368.5h4M532 454.5h2M548 471.5h1"/>
<path stroke="#f34810" d="M560 8.5h2M525 111.5h1M529 128.5h3M686 179.5h2M544 214.5h1M540 265.5h1M598 437.5h2M543 471.5h1"/>
<path stroke="#9a1003" d="M562 8.5h6M523 76.5h1M692 179.5h6"/>
<path stroke="#860e02" d="M568 8.5h2M522 128.5h7M688 179.5h2M698 179.5h2"/>
<path stroke="#fa6a14" d="M570 8.5h2M683 179.5h1M532 231.5h2M538 265.5h2M320 317.5h6M90 351.5h1M115 351.5h3M137 351.5h1M532 420.5h2M536 454.5h2M682 471.5h1M684 471.5h2M690 471.5h1"/>
<path stroke="#f2eb24" d="M572 8.5h2M532 128.5h2M528 162.5h2M586 179.5h4M656 179.5h2M660 179.5h2M526 248.5h4M674 248.5h2M542 265.5h4M524 300.5h2M556 317.5h6M564 317.5h2M616 317.5h3M624 317.5h2M45 351.5h3M68 351.5h2M72 351.5h2M84 351.5h2M120 351.5h2M134 351.5h3M548 368.5h2M545 403.5h3M606 437.5h1M609 437.5h1M611 437.5h1M550 454.5h2M554 471.5h2M561 471.5h1"/>
<path stroke="#f9e71e" d="M574 8.5h2M564 76.5h2M529 111.5h1M530 162.5h2M575 179.5h1M584 179.5h2M592 179.5h2M658 179.5h2M662 179.5h2M36 214.5h1M554 214.5h2M0 231.5h2M664 248.5h2M541 265.5h1M546 265.5h4M314 317.5h4M562 317.5h2M571 317.5h3M626 317.5h2M537 334.5h3M550 334.5h4M86 351.5h2M91 351.5h1M148 420.5h2M204 420.5h2M605 437.5h1M546 454.5h4M556 471.5h1M559 471.5h1M687 471.5h1M694 471.5h1"/>
<path stroke="#d0e546" d="M580 8.5h4M576 179.5h2M620 179.5h2M634 179.5h2M648 179.5h2M654 179.5h2M42 214.5h2M692 214.5h2M696 214.5h4M588 231.5h2M548 248.5h2M329 317.5h3M630 317.5h6M638 317.5h2M557 334.5h3M20 351.5h2M49 351.5h1M54 351.5h8M64 351.5h2M613 437.5h1M554 454.5h2"/>
<path stroke="#619dd4" d="M594 8.5h2M2 25.5h1M23 25.5h1M24 42.5h2M250 42.5h2M414 42.5h2M576 42.5h4M582 42.5h2M586 42.5h2M544 76.5h4M550 76.5h4M25 179.5h1M27 179.5h2M35 179.5h1M200 179.5h2M224 179.5h4M244 179.5h2M460 179.5h2M464 179.5h2M470 179.5h2M478 179.5h2M494 179.5h6M504 179.5h4M8 214.5h2M674 231.5h2M710 317.5h2M714 317.5h6M465 334.5h1M602 334.5h6M614 334.5h2M206 351.5h2M584 368.5h6M596 368.5h2M12 420.5h4M28 437.5h1M33 437.5h1M42 437.5h2M62 437.5h2M67 437.5h1M72 437.5h3M77 437.5h2M87 437.5h2M93 437.5h1M97 437.5h1M100 437.5h1M106 437.5h1M108 437.5h1M112 437.5h1M114 437.5h1M123 437.5h1M134 437.5h1M141 437.5h1M143 437.5h1M147 437.5h1M168 437.5h2M175 437.5h1M184 437.5h1M186 437.5h2M201 437.5h1M203 437.5h1M205 437.5h1M209 437.5h1M213 437.5h1M220 437.5h1M241 437.5h1M249 437.5h1M257 437.5h1M259 437.5h1M262 437.5h2M273 437.5h1M277 437.5h1M280 437.5h1M288 437.5h1M297 437.5h1M311 437.5h1M319 437.5h1M321 437.5h1M325 437.5h1M327 437.5h1M329 437.5h1M336 437.5h1M348 437.5h1M354 437.5h1M359 437.5h1M366 437.5h2M372 437.5h1M376 437.5h2M384 437.5h1M389 437.5h1M396 437.5h1M398 437.5h1M407 437.5h1M410 437.5h1M426 437.5h1M431 437.5h4M440 437.5h3M452 437.5h2M460 437.5h1M462 437.5h1M464 437.5h3M472 437.5h1M494 437.5h1M496 437.5h1M504 437.5h1M713 437.5h1M632 454.5h2M636 454.5h2M656 454.5h2M35 471.5h1M40 471.5h1M43 471.5h1M45 471.5h1M49 471.5h3M53 471.5h1M58 471.5h1M63 471.5h1M65 471.5h1M69 471.5h1M79 471.5h1M82 471.5h1M84 471.5h1M86 471.5h3M95 471.5h1M99 471.5h1M104 471.5h2M108 471.5h1M112 471.5h1M114 471.5h2M118 471.5h1M120 471.5h1M345 471.5h1M446 471.5h1M476 471.5h1M483 471.5h1M667 471.5h1"/>
<path stroke="#3a44a8" d="M604 8.5h6M612 8.5h4M620 8.5h2M624 8.5h4M706 8.5h2M12 25.5h1M41 25.5h1M55 25.5h1M57 25.5h2M63 25.5h1M66 25.5h1M70 25.5h1M72 25.5h1M80 25.5h1M101 25.5h2M111 25.5h2M118 25.5h1M125 25.5h1M141 25.5h1M143 25.5h2M147 25.5h1M152 25.5h1M156 25.5h1M159 25.5h2M182 25.5h1M188 25.5h1M200 25.5h2M209 25.5h1M217 25.5h1M223 25.5h1M237 25.5h3M241 25.5h1M253 25.5h2M262 25.5h1M267 25.5h1M270 25.5h1M274 25.5h4M280 25.5h2M284 25.5h2M288 25.5h2M308 25.5h2M318 25.5h2M326 25.5h4M332 25.5h4M350 25.5h6M358 25.5h4M364 25.5h2M370 25.5h6M378 25.5h2M382 25.5h2M388 25.5h2M393 25.5h1M403 25.5h1M405 25.5h1M409 25.5h1M415 25.5h1M420 25.5h1M423 25.5h1M426 25.5h2M550 25.5h1M554 25.5h1M10 42.5h2M28 42.5h6M40 42.5h2M46 42.5h2M90 42.5h6M100 42.5h2M112 42.5h6M122 42.5h2M136 42.5h2M144 42.5h2M152 42.5h2M166 42.5h2M172 42.5h2M178 42.5h2M192 42.5h2M196 42.5h2M202 42.5h2M220 42.5h2M226 42.5h2M232 42.5h6M246 42.5h2M258 42.5h2M268 42.5h2M276 42.5h2M282 42.5h2M286 42.5h2M302 42.5h2M318 42.5h4M326 42.5h2M334 42.5h2M348 42.5h2M352 42.5h2M366 42.5h2M390 42.5h8M400 42.5h2M404 42.5h2M410 42.5h2M436 42.5h6M450 42.5h2M456 42.5h4M462 42.5h2M466 42.5h2M552 42.5h2M556 42.5h4M608 42.5h2M620 42.5h2M626 42.5h2M632 42.5h6M652 42.5h4M668 42.5h2M672 42.5h2M676 42.5h2M688 42.5h4M702 42.5h2M710 42.5h2M716 42.5h4M16 59.5h2M22 59.5h2M34 59.5h2M38 59.5h2M486 59.5h2M492 59.5h2M496 59.5h4M502 59.5h4M88 76.5h2M94 76.5h2M104 76.5h6M146 76.5h2M160 76.5h4M168 76.5h2M186 76.5h2M202 76.5h2M210 76.5h4M220 76.5h2M224 76.5h2M236 76.5h2M244 76.5h2M254 76.5h2M264 76.5h4M270 76.5h4M292 76.5h2M326 76.5h2M334 76.5h2M344 76.5h2M356 76.5h2M376 76.5h2M400 76.5h4M408 76.5h2M428 76.5h2M438 76.5h2M454 76.5h4M460 76.5h2M482 76.5h2M486 76.5h2M512 76.5h2M584 76.5h8M594 76.5h12M610 76.5h4M620 76.5h8M700 76.5h2M704 76.5h6M535 111.5h5M542 111.5h2M16 128.5h4M542 128.5h6M550 128.5h4M40 145.5h4M46 145.5h2M56 145.5h2M64 145.5h2M70 145.5h4M76 145.5h2M86 145.5h2M90 145.5h2M94 145.5h2M102 145.5h2M106 145.5h2M114 145.5h6M126 145.5h4M132 145.5h2M142 145.5h2M148 145.5h2M152 145.5h2M160 145.5h2M164 145.5h2M184 145.5h4M192 145.5h2M198 145.5h2M212 145.5h2M234 145.5h2M240 145.5h4M250 145.5h2M256 145.5h4M268 145.5h2M288 145.5h2M294 145.5h2M310 145.5h2M326 145.5h2M350 145.5h6M358 145.5h2M390 145.5h2M394 145.5h2M422 145.5h2M436 145.5h2M446 145.5h2M450 145.5h2M454 145.5h2M466 145.5h6M474 145.5h2M478 145.5h2M496 145.5h4M506 145.5h2M520 145.5h2M554 145.5h4M566 145.5h2M576 145.5h2M592 145.5h2M596 145.5h8M606 145.5h2M610 145.5h2M614 145.5h2M620 145.5h2M640 145.5h4M646 145.5h2M650 145.5h4M662 145.5h6M678 145.5h2M684 145.5h4M692 145.5h2M702 145.5h2M706 145.5h2M712 145.5h4M22 162.5h2M42 179.5h2M52 179.5h2M64 179.5h4M70 179.5h4M82 179.5h2M90 179.5h2M94 179.5h2M106 179.5h2M110 179.5h2M122 179.5h2M140 179.5h4M184 179.5h4M194 179.5h2M198 179.5h2M210 179.5h2M232 179.5h2M240 179.5h2M300 179.5h2M318 179.5h2M324 179.5h2M332 179.5h4M340 179.5h2M344 179.5h6M354 179.5h4M208 214.5h4M214 214.5h6M222 214.5h6M236 214.5h4M242 214.5h2M250 214.5h10M262 214.5h2M266 214.5h2M272 214.5h2M364 214.5h4M372 214.5h2M384 214.5h8M436 214.5h6M444 214.5h2M460 214.5h6M468 214.5h2M480 214.5h4M490 214.5h2M496 214.5h2M500 214.5h2M508 214.5h2M514 214.5h2M520 214.5h2M580 214.5h2M592 214.5h2M596 214.5h2M632 214.5h2M636 214.5h2M646 214.5h4M662 214.5h4M670 214.5h2M24 231.5h4M30 231.5h8M58 231.5h2M68 231.5h2M74 231.5h2M82 231.5h2M122 231.5h2M132 231.5h2M547 231.5h3M596 231.5h2M604 231.5h2M24 248.5h2M36 248.5h2M44 265.5h4M52 265.5h22M80 265.5h12M560 300.5h4M578 300.5h2M582 300.5h8M628 300.5h6M636 300.5h6M12 317.5h8M22 317.5h2M342 317.5h6M350 317.5h4M356 317.5h4M366 317.5h4M374 317.5h2M380 317.5h2M388 317.5h2M426 334.5h2M436 334.5h2M472 334.5h2M494 334.5h2M584 334.5h10M626 334.5h4M642 334.5h2M710 334.5h4M718 334.5h2M0 351.5h4M220 351.5h4M226 351.5h4M248 351.5h2M252 351.5h2M256 351.5h4M262 351.5h2M276 351.5h4M282 351.5h2M296 351.5h2M521 351.5h1M46 368.5h2M594 368.5h2M604 368.5h2M608 368.5h2M614 368.5h2M624 368.5h10M710 368.5h2M34 403.5h2M174 403.5h2M204 403.5h2M208 403.5h2M232 403.5h2M246 403.5h2M272 403.5h2M460 403.5h2M50 420.5h2M60 420.5h14M78 420.5h2M82 420.5h4M96 420.5h2M102 420.5h2M106 420.5h4M122 420.5h2M126 420.5h4M136 420.5h6M154 420.5h12M172 420.5h4M178 420.5h2M184 420.5h2M188 420.5h2M194 420.5h2M206 420.5h2M210 420.5h4M216 420.5h2M220 420.5h4M226 420.5h4M232 420.5h2M240 420.5h2M550 420.5h4M428 437.5h1M160 454.5h6M168 454.5h2M176 454.5h2M186 454.5h2M190 454.5h6M204 454.5h2M210 454.5h4M216 454.5h2M224 454.5h2M230 454.5h10M246 454.5h2M254 454.5h2M258 454.5h4M266 454.5h2M270 454.5h2M274 454.5h2M278 454.5h2M284 454.5h2M324 454.5h2M360 454.5h2M366 454.5h2M370 454.5h2M374 454.5h2M378 454.5h6M400 454.5h4M406 454.5h2M416 454.5h2M424 454.5h2M432 454.5h2M446 454.5h4M452 454.5h2M458 454.5h2M466 454.5h2M482 454.5h8M508 454.5h2M516 454.5h4M642 454.5h2M646 454.5h2M666 454.5h2M682 454.5h2M697 454.5h1M708 454.5h6M718 454.5h2"/>
<path stroke="#3e4fad" d="M610 8.5h2M616 8.5h4M710 8.5h2M11 25.5h1M42 25.5h1M46 25.5h1M52 25.5h2M56 25.5h1M68 25.5h2M73 25.5h1M75 25.5h1M79 25.5h1M81 25.5h1M84 25.5h1M91 25.5h1M93 25.5h1M95 25.5h1M100 25.5h1M122 25.5h1M127 25.5h1M155 25.5h1M157 25.5h2M161 25.5h1M176 25.5h1M183 25.5h1M196 25.5h1M205 25.5h1M218 25.5h1M221 25.5h2M229 25.5h1M236 25.5h1M244 25.5h2M247 25.5h1M250 25.5h1M252 25.5h1M259 25.5h1M348 25.5h2M413 25.5h2M419 25.5h1M421 25.5h1M34 42.5h2M44 42.5h2M244 42.5h2M266 42.5h2M304 42.5h4M332 42.5h2M398 42.5h2M406 42.5h2M434 42.5h2M444 42.5h6M454 42.5h2M464 42.5h2M540 42.5h6M548 42.5h2M564 42.5h2M568 42.5h2M610 42.5h4M618 42.5h2M622 42.5h4M638 42.5h8M648 42.5h2M670 42.5h2M13 59.5h3M18 59.5h4M24 59.5h10M36 59.5h2M484 59.5h2M488 59.5h4M494 59.5h2M556 59.5h2M44 76.5h22M68 76.5h20M90 76.5h4M100 76.5h4M112 76.5h16M130 76.5h4M136 76.5h10M148 76.5h6M158 76.5h2M164 76.5h4M170 76.5h16M188 76.5h14M204 76.5h4M214 76.5h6M222 76.5h2M226 76.5h10M238 76.5h2M242 76.5h2M246 76.5h4M252 76.5h2M256 76.5h2M262 76.5h2M268 76.5h2M274 76.5h16M294 76.5h32M328 76.5h6M336 76.5h2M340 76.5h2M346 76.5h6M358 76.5h18M378 76.5h8M388 76.5h4M394 76.5h6M404 76.5h4M410 76.5h16M430 76.5h8M440 76.5h6M448 76.5h6M458 76.5h2M462 76.5h10M474 76.5h8M484 76.5h2M488 76.5h22M514 76.5h9M592 76.5h2M608 76.5h2M702 76.5h2M548 128.5h2M14 145.5h2M264 145.5h2M300 145.5h2M368 145.5h2M690 145.5h2M50 179.5h2M112 179.5h2M156 179.5h2M196 179.5h2M236 179.5h4M288 179.5h2M296 179.5h4M302 179.5h14M326 179.5h2M336 179.5h2M352 179.5h2M358 179.5h2M362 179.5h2M366 179.5h6M380 179.5h2M384 179.5h4M394 179.5h2M398 179.5h8M410 179.5h2M414 179.5h2M418 179.5h2M212 214.5h2M228 214.5h2M232 214.5h2M240 214.5h2M246 214.5h4M264 214.5h2M268 214.5h2M278 214.5h2M378 214.5h2M430 214.5h4M571 214.5h1M574 214.5h2M584 214.5h6M638 214.5h2M650 214.5h2M656 214.5h4M666 214.5h4M672 214.5h4M680 214.5h2M12 231.5h2M38 231.5h2M598 231.5h2M686 231.5h2M26 248.5h10M40 265.5h2M48 265.5h2M78 265.5h2M580 300.5h2M634 300.5h2M304 317.5h2M340 317.5h2M348 317.5h2M354 317.5h2M704 317.5h2M400 334.5h6M410 334.5h2M414 334.5h2M418 334.5h2M422 334.5h4M428 334.5h4M434 334.5h2M482 334.5h4M492 334.5h2M496 334.5h2M500 334.5h4M506 334.5h4M512 334.5h2M516 334.5h6M594 334.5h2M598 334.5h2M624 334.5h2M708 334.5h2M714 334.5h2M219 351.5h1M224 351.5h2M230 351.5h2M250 351.5h2M254 351.5h2M260 351.5h2M284 351.5h10M522 351.5h2M590 368.5h4M606 368.5h2M610 368.5h4M650 368.5h2M708 368.5h2M0 403.5h3M52 420.5h8M74 420.5h4M80 420.5h2M88 420.5h8M100 420.5h2M104 420.5h2M110 420.5h12M130 420.5h6M142 420.5h2M152 420.5h2M166 420.5h6M176 420.5h2M180 420.5h4M186 420.5h2M190 420.5h4M196 420.5h1M208 420.5h2M214 420.5h2M224 420.5h2M236 420.5h2M242 420.5h6M554 420.5h2M483 437.5h1M507 437.5h1M148 454.5h2M158 454.5h2M202 454.5h2M220 454.5h2M240 454.5h2M252 454.5h2M282 454.5h2M362 454.5h2M474 454.5h2M506 454.5h2M608 454.5h4M620 454.5h2M624 454.5h2M628 454.5h2M644 454.5h2M662 454.5h4M668 454.5h2M672 454.5h8"/>
<path stroke="#2d2d9d" d="M628 8.5h10M642 8.5h4M676 8.5h2M166 25.5h1M206 25.5h1M278 25.5h2M314 25.5h2M330 25.5h2M340 25.5h2M344 25.5h4M368 25.5h2M390 25.5h2M396 25.5h1M424 25.5h1M431 25.5h1M560 25.5h1M50 42.5h2M54 42.5h2M66 42.5h2M80 42.5h2M86 42.5h2M98 42.5h2M118 42.5h2M128 42.5h2M148 42.5h4M160 42.5h4M186 42.5h2M190 42.5h2M198 42.5h2M206 42.5h2M214 42.5h6M228 42.5h4M262 42.5h2M270 42.5h2M280 42.5h2M312 42.5h2M316 42.5h2M322 42.5h4M336 42.5h6M360 42.5h2M368 42.5h4M384 42.5h2M388 42.5h2M472 42.5h4M482 42.5h2M488 42.5h2M492 42.5h10M506 42.5h2M510 42.5h4M516 42.5h2M562 42.5h2M566 42.5h2M628 42.5h2M680 42.5h2M696 42.5h2M706 42.5h2M712 42.5h2M558 59.5h4M564 59.5h6M652 59.5h4M20 111.5h6M28 111.5h2M22 128.5h8M40 128.5h2M52 145.5h2M60 145.5h2M66 145.5h4M74 145.5h2M78 145.5h2M82 145.5h2M88 145.5h2M98 145.5h2M104 145.5h2M110 145.5h2M120 145.5h2M134 145.5h2M150 145.5h2M154 145.5h2M166 145.5h2M170 145.5h2M196 145.5h2M218 145.5h4M228 145.5h2M248 145.5h2M252 145.5h4M272 145.5h2M282 145.5h6M292 145.5h2M298 145.5h2M330 145.5h4M336 145.5h2M342 145.5h2M348 145.5h2M360 145.5h4M370 145.5h6M378 145.5h2M388 145.5h2M392 145.5h2M404 145.5h2M412 145.5h6M424 145.5h2M432 145.5h4M442 145.5h4M452 145.5h2M472 145.5h2M476 145.5h2M480 145.5h4M500 145.5h2M504 145.5h2M508 145.5h2M516 145.5h2M578 145.5h2M594 145.5h2M618 145.5h2M630 145.5h2M658 145.5h4M2 162.5h2M28 162.5h6M544 162.5h2M548 162.5h2M554 162.5h6M562 162.5h2M40 179.5h2M48 179.5h2M54 179.5h10M74 179.5h2M84 179.5h4M92 179.5h2M96 179.5h2M128 179.5h6M144 179.5h2M150 179.5h6M158 179.5h2M166 179.5h2M172 179.5h4M178 179.5h2M190 179.5h2M368 214.5h2M374 214.5h2M434 214.5h2M442 214.5h2M448 214.5h2M452 214.5h2M484 214.5h2M502 214.5h2M506 214.5h2M44 231.5h6M54 231.5h2M62 231.5h2M70 231.5h2M78 231.5h4M84 231.5h4M129 231.5h1M146 231.5h2M150 231.5h6M158 231.5h12M172 231.5h2M182 231.5h2M188 231.5h2M194 231.5h2M202 231.5h2M206 231.5h2M214 231.5h2M224 231.5h2M238 231.5h4M252 231.5h4M288 231.5h2M306 231.5h2M334 231.5h2M354 231.5h2M380 231.5h4M396 231.5h2M448 231.5h2M454 231.5h2M466 231.5h2M474 231.5h2M486 231.5h2M498 231.5h2M502 231.5h2M508 231.5h2M628 231.5h2M642 231.5h6M654 231.5h2M694 231.5h2M614 248.5h6M546 300.5h2M552 300.5h2M606 300.5h4M614 300.5h2M618 300.5h2M294 317.5h4M300 317.5h2M676 317.5h6M616 334.5h2M620 334.5h2M630 334.5h4M640 334.5h2M232 351.5h2M236 351.5h6M266 351.5h2M270 351.5h4M300 351.5h2M306 351.5h2M328 351.5h2M454 351.5h2M596 351.5h6M690 368.5h6M13 403.5h1M18 403.5h4M24 403.5h8M36 403.5h2M40 403.5h4M52 403.5h4M58 403.5h2M68 403.5h6M78 403.5h6M98 403.5h4M104 403.5h4M114 403.5h8M126 403.5h4M132 403.5h2M136 403.5h2M140 403.5h6M154 403.5h14M178 403.5h4M190 403.5h2M198 403.5h4M210 403.5h2M216 403.5h4M222 403.5h2M226 403.5h2M234 403.5h2M242 403.5h2M252 403.5h2M256 403.5h6M270 403.5h2M276 403.5h2M288 403.5h10M302 403.5h2M310 403.5h2M320 403.5h4M330 403.5h2M334 403.5h4M346 403.5h2M350 403.5h8M368 403.5h2M376 403.5h2M382 403.5h2M402 403.5h2M408 403.5h2M422 403.5h2M428 403.5h2M446 403.5h2M452 403.5h2M472 403.5h2M476 403.5h2M480 403.5h2M518 403.5h2M590 403.5h2M604 403.5h2M634 403.5h2M658 403.5h2M678 403.5h2M688 403.5h2M696 403.5h2M702 403.5h2M716 403.5h4M278 420.5h2M546 437.5h1M146 454.5h2M172 454.5h4M200 454.5h2M206 454.5h2M214 454.5h2M222 454.5h2M248 454.5h4M268 454.5h2M272 454.5h2M280 454.5h2M286 454.5h2M322 454.5h2M330 454.5h6M338 454.5h2M344 454.5h2M356 454.5h2M372 454.5h2M376 454.5h2M388 454.5h2M412 454.5h2M418 454.5h2M422 454.5h2M436 454.5h8M450 454.5h2M454 454.5h4M464 454.5h2M468 454.5h2M494 454.5h2M504 454.5h2M716 454.5h2"/>
<path stroke="#262298" d="M646 8.5h2M714 8.5h2M718 8.5h2M264 25.5h1M398 25.5h1M400 25.5h1M402 25.5h1M406 25.5h2M410 25.5h1M412 25.5h1M416 25.5h1M425 25.5h1M428 25.5h1M446 25.5h1M549 25.5h1M556 25.5h1M558 25.5h1M52 42.5h2M56 42.5h4M68 42.5h2M82 42.5h2M134 42.5h2M180 42.5h2M374 42.5h2M382 42.5h2M386 42.5h2M476 42.5h6M484 42.5h2M490 42.5h2M502 42.5h2M518 42.5h2M522 42.5h1M52 59.5h4M84 59.5h2M98 59.5h2M132 59.5h2M136 59.5h2M388 59.5h6M478 59.5h2M574 59.5h2M582 59.5h2M14 111.5h6M26 111.5h2M178 145.5h2M114 179.5h2M136 179.5h2M100 214.5h2M106 214.5h4M122 214.5h2M126 214.5h2M134 214.5h2M146 214.5h2M162 214.5h8M172 214.5h2M184 214.5h2M192 214.5h2M286 214.5h2M300 214.5h4M306 214.5h4M314 214.5h2M324 214.5h2M338 214.5h4M344 214.5h2M170 231.5h2M176 231.5h2M180 231.5h2M204 231.5h2M220 231.5h2M228 231.5h8M242 231.5h2M246 231.5h2M250 231.5h2M262 231.5h8M272 231.5h2M276 231.5h10M292 231.5h2M298 231.5h2M302 231.5h2M310 231.5h6M320 231.5h4M326 231.5h2M330 231.5h2M336 231.5h6M346 231.5h6M356 231.5h8M366 231.5h4M376 231.5h4M386 231.5h2M392 231.5h2M398 231.5h2M404 231.5h4M410 231.5h2M414 231.5h6M426 231.5h2M430 231.5h4M442 231.5h6M450 231.5h4M456 231.5h2M462 231.5h4M468 231.5h6M480 231.5h6M490 231.5h2M494 231.5h4M500 231.5h2M506 231.5h2M510 231.5h6M616 231.5h2M630 231.5h2M692 231.5h2M702 231.5h2M708 231.5h2M714 231.5h2M718 231.5h2M238 265.5h4M30 300.5h2M24 317.5h2M34 317.5h2M244 351.5h2M264 351.5h2M268 351.5h2M324 351.5h4M330 351.5h2M364 351.5h2M456 351.5h2M706 368.5h2M712 368.5h4M56 403.5h2M76 403.5h2M88 403.5h4M96 403.5h2M150 403.5h2M170 403.5h2M188 403.5h2M202 403.5h2M224 403.5h2M262 403.5h4M282 403.5h4M306 403.5h2M312 403.5h2M324 403.5h2M340 403.5h2M344 403.5h2M360 403.5h4M392 403.5h2M396 403.5h2M412 403.5h4M418 403.5h4M432 403.5h4M442 403.5h4M448 403.5h2M456 403.5h2M462 403.5h6M486 403.5h2M492 403.5h2M500 403.5h2M510 403.5h4M520 403.5h1M570 403.5h4M576 403.5h2M580 403.5h6M588 403.5h2M594 403.5h2M606 403.5h10M620 403.5h2M626 403.5h2M636 403.5h2M644 403.5h6M654 403.5h2M662 403.5h2M666 403.5h2M670 403.5h2M674 403.5h4M680 403.5h8M690 403.5h6M698 403.5h2M710 403.5h2M250 420.5h4M272 420.5h2M280 420.5h2M286 420.5h2M296 420.5h2M300 420.5h4M308 420.5h2M318 420.5h2M556 420.5h2M545 437.5h1M290 454.5h4M296 454.5h6M304 454.5h2M308 454.5h4M314 454.5h4M326 454.5h2M336 454.5h2M342 454.5h2M346 454.5h2M354 454.5h2M706 454.5h2"/>
<path stroke="#201b90" d="M652 8.5h4M712 8.5h2M716 8.5h2M394 25.5h1M399 25.5h1M411 25.5h1M435 25.5h1M439 25.5h1M48 42.5h2M64 42.5h2M72 42.5h8M84 42.5h2M362 42.5h2M508 42.5h2M514 42.5h2M520 42.5h2M44 59.5h2M58 59.5h22M82 59.5h2M86 59.5h12M100 59.5h4M106 59.5h8M116 59.5h12M130 59.5h2M134 59.5h2M138 59.5h26M166 59.5h2M472 59.5h2M476 59.5h2M480 59.5h4M572 59.5h2M576 59.5h6M584 59.5h6M592 59.5h4M0 111.5h4M544 111.5h4M104 214.5h2M110 214.5h2M114 214.5h2M128 214.5h6M140 214.5h6M148 214.5h2M154 214.5h2M174 214.5h6M194 214.5h6M280 214.5h2M290 214.5h2M294 214.5h2M304 214.5h2M312 214.5h2M316 214.5h4M334 214.5h4M346 214.5h2M352 214.5h2M356 214.5h2M112 231.5h2M200 231.5h2M210 231.5h4M216 231.5h4M222 231.5h2M226 231.5h2M236 231.5h2M244 231.5h2M248 231.5h2M256 231.5h6M270 231.5h2M274 231.5h2M286 231.5h2M290 231.5h2M294 231.5h4M300 231.5h2M304 231.5h2M308 231.5h2M316 231.5h4M324 231.5h2M328 231.5h2M332 231.5h2M342 231.5h4M352 231.5h2M364 231.5h2M370 231.5h6M384 231.5h2M388 231.5h4M394 231.5h2M400 231.5h4M408 231.5h2M412 231.5h2M420 231.5h6M428 231.5h2M434 231.5h8M458 231.5h4M476 231.5h4M488 231.5h2M504 231.5h2M516 231.5h6M624 231.5h4M634 231.5h6M690 231.5h2M696 231.5h6M706 231.5h2M710 231.5h2M716 231.5h2M654 248.5h4M200 265.5h2M212 265.5h2M228 265.5h2M232 265.5h6M242 265.5h4M248 265.5h2M252 265.5h2M256 265.5h4M28 300.5h2M620 300.5h4M626 300.5h2M26 317.5h6M38 317.5h2M688 317.5h16M332 351.5h2M360 351.5h4M452 351.5h2M526 351.5h4M532 351.5h2M536 351.5h4M544 351.5h2M548 351.5h6M562 351.5h2M566 351.5h4M580 351.5h6M592 351.5h2M654 368.5h2M700 368.5h2M704 368.5h2M716 368.5h4M364 403.5h2M372 403.5h2M378 403.5h4M384 403.5h2M404 403.5h2M410 403.5h2M424 403.5h2M430 403.5h2M436 403.5h2M450 403.5h2M454 403.5h2M458 403.5h2M468 403.5h4M474 403.5h2M482 403.5h2M488 403.5h4M494 403.5h2M498 403.5h2M504 403.5h2M508 403.5h2M516 403.5h2M574 403.5h2M578 403.5h2M592 403.5h2M596 403.5h8M616 403.5h4M622 403.5h4M628 403.5h6M638 403.5h6M650 403.5h4M656 403.5h2M660 403.5h2M664 403.5h2M668 403.5h2M672 403.5h2M700 403.5h2M704 403.5h6M712 403.5h4M248 420.5h2M254 420.5h4M262 420.5h4M274 420.5h4M282 420.5h4M288 420.5h4M304 420.5h2M310 420.5h2M320 420.5h2M324 420.5h4M558 420.5h2M533 437.5h1M288 454.5h2M348 454.5h2"/>
<path stroke="#e6e92f" d="M658 8.5h2M568 76.5h2M572 76.5h6M652 76.5h2M534 128.5h1M578 179.5h2M670 248.5h4M676 248.5h4M522 300.5h2M526 300.5h6M622 317.5h2M664 317.5h8M22 351.5h2M28 351.5h4M70 351.5h2M98 351.5h2M118 351.5h2M132 351.5h2M42 368.5h2M548 403.5h2M535 420.5h2M607 437.5h1"/>
<path stroke="#dae73a" d="M660 8.5h2M570 76.5h2M578 76.5h2M654 76.5h1M688 76.5h8M523 111.5h2M580 179.5h4M594 179.5h2M652 179.5h2M590 231.5h2M670 231.5h2M16 351.5h4M26 351.5h2M94 351.5h4M41 368.5h1M44 368.5h1M610 437.5h1M614 437.5h1M616 437.5h1M618 437.5h2M553 471.5h1"/>
<path stroke="#88d4da" d="M662 8.5h2M702 8.5h2M6 25.5h1M9 25.5h1M541 25.5h1M545 25.5h1M14 42.5h2M10 59.5h3M12 76.5h2M18 76.5h2M614 76.5h2M684 76.5h2M32 145.5h2M38 145.5h1M540 162.5h2M2 179.5h2M8 179.5h2M23 179.5h1M606 179.5h2M200 214.5h4M404 214.5h8M414 214.5h6M608 214.5h2M612 214.5h2M630 214.5h2M546 231.5h1M682 231.5h2M688 231.5h2M546 248.5h2M660 248.5h2M10 265.5h2M14 265.5h2M26 265.5h6M556 265.5h5M12 300.5h2M538 300.5h6M712 300.5h2M716 300.5h2M332 317.5h2M584 317.5h6M610 317.5h2M614 317.5h2M640 317.5h4M674 317.5h2M28 334.5h2M212 334.5h10M228 334.5h4M234 334.5h2M238 334.5h2M244 334.5h6M254 334.5h2M260 334.5h6M272 334.5h2M278 334.5h2M286 334.5h2M290 334.5h2M294 334.5h2M302 334.5h2M312 334.5h2M316 334.5h6M324 334.5h8M336 334.5h2M346 334.5h6M354 334.5h6M380 334.5h4M386 334.5h2M390 334.5h2M570 334.5h2M580 334.5h2M646 334.5h2M660 334.5h2M680 334.5h4M686 334.5h4M12 351.5h2M40 351.5h1M18 368.5h6M566 368.5h4M548 420.5h2M3 437.5h2M8 437.5h1M11 437.5h1M16 437.5h1M646 437.5h1M649 437.5h1M658 437.5h2M672 437.5h1M680 437.5h1M682 437.5h2M694 437.5h1M704 437.5h1M44 454.5h2M64 454.5h2M586 454.5h2M604 454.5h2M694 454.5h3M1 471.5h1M3 471.5h1M6 471.5h1M18 471.5h1M26 471.5h1M138 471.5h1M143 471.5h1M150 471.5h1M154 471.5h1M163 471.5h1M185 471.5h2M192 471.5h2M197 471.5h1M199 471.5h1M205 471.5h1M212 471.5h1M216 471.5h1M222 471.5h2M225 471.5h1M227 471.5h2M232 471.5h1M236 471.5h1M244 471.5h2M256 471.5h2M259 471.5h1M267 471.5h2M271 471.5h1M276 471.5h1M280 471.5h1M283 471.5h1M297 471.5h1M309 471.5h1M336 471.5h1M342 471.5h1M349 471.5h1M352 471.5h1M384 471.5h2M387 471.5h1M392 471.5h1M399 471.5h1M412 471.5h2M419 471.5h1M442 471.5h1M445 471.5h1M457 471.5h1M462 471.5h1M467 471.5h1M492 471.5h1M495 471.5h2M498 471.5h1M504 471.5h1M506 471.5h1M519 471.5h1M572 471.5h1M575 471.5h1M591 471.5h4M600 471.5h1M605 471.5h1M613 471.5h1M616 471.5h1M618 471.5h1M626 471.5h1M628 471.5h1M636 471.5h2M640 471.5h1M646 471.5h1M648 471.5h2M658 471.5h1M672 471.5h1M674 471.5h2M677 471.5h1M696 471.5h1M702 471.5h1"/>
<path stroke="#100d7a" d="M678 8.5h6M432 25.5h1M438 25.5h1M445 25.5h1M447 25.5h1M557 25.5h1M696 59.5h2M706 59.5h4M716 59.5h2M676 76.5h2M58 214.5h2M66 214.5h4M80 214.5h4M94 214.5h2M98 214.5h2M94 231.5h2M106 231.5h2M110 231.5h2M126 231.5h3M144 231.5h2M676 231.5h2M190 265.5h2M536 437.5h1"/>
<path stroke="#1a1688" d="M684 8.5h2M688 8.5h2M692 8.5h4M700 8.5h2M395 25.5h1M430 25.5h1M437 25.5h1M440 25.5h2M444 25.5h1M563 25.5h1M60 42.5h4M70 42.5h2M504 42.5h2M40 59.5h4M46 59.5h6M56 59.5h2M80 59.5h2M104 59.5h2M114 59.5h2M128 59.5h2M164 59.5h2M474 59.5h2M508 59.5h8M520 59.5h2M590 59.5h2M680 59.5h2M710 59.5h4M672 76.5h2M682 76.5h2M710 76.5h4M716 76.5h4M50 214.5h2M60 214.5h2M70 214.5h2M74 214.5h2M78 214.5h2M88 214.5h4M102 214.5h2M112 214.5h2M116 214.5h6M124 214.5h2M136 214.5h4M150 214.5h4M156 214.5h4M170 214.5h2M180 214.5h4M186 214.5h6M282 214.5h4M288 214.5h2M292 214.5h2M296 214.5h4M310 214.5h2M320 214.5h4M326 214.5h8M342 214.5h2M348 214.5h4M354 214.5h2M358 214.5h2M92 231.5h2M96 231.5h6M104 231.5h2M138 231.5h4M208 231.5h2M492 231.5h2M656 231.5h2M678 231.5h2M704 231.5h2M712 231.5h2M658 248.5h2M92 265.5h12M186 265.5h2M192 265.5h8M202 265.5h2M206 265.5h6M214 265.5h6M222 265.5h6M230 265.5h2M246 265.5h2M250 265.5h2M254 265.5h2M260 265.5h10M624 300.5h2M32 317.5h2M36 317.5h2M334 351.5h6M524 351.5h2M534 351.5h2M554 351.5h2M558 351.5h2M570 351.5h6M578 351.5h2M586 351.5h2M594 351.5h2M652 368.5h2M656 368.5h16M674 368.5h8M684 368.5h4M702 368.5h2M366 403.5h2M370 403.5h2M374 403.5h2M386 403.5h6M394 403.5h2M398 403.5h4M406 403.5h2M416 403.5h2M426 403.5h2M438 403.5h4M484 403.5h2M496 403.5h2M502 403.5h2M506 403.5h2M514 403.5h2M586 403.5h2M258 420.5h4M266 420.5h6M292 420.5h4M298 420.5h2M306 420.5h2M312 420.5h6M322 420.5h2M534 437.5h2M294 454.5h2M306 454.5h2M312 454.5h2M318 454.5h2"/>
<path stroke="#141080" d="M686 8.5h2M690 8.5h2M696 8.5h4M418 25.5h1M433 25.5h2M559 25.5h1M561 25.5h2M516 59.5h4M676 59.5h4M682 59.5h14M698 59.5h8M714 59.5h2M718 59.5h2M666 76.5h6M674 76.5h2M678 76.5h4M714 76.5h2M48 214.5h2M52 214.5h6M62 214.5h4M72 214.5h2M76 214.5h2M84 214.5h4M92 214.5h2M96 214.5h2M160 214.5h2M102 231.5h2M108 231.5h2M114 231.5h2M142 231.5h2M658 231.5h4M680 231.5h2M180 265.5h6M188 265.5h2M204 265.5h2M220 265.5h2M270 265.5h2M530 351.5h2M540 351.5h4M546 351.5h2M556 351.5h2M560 351.5h2M564 351.5h2M576 351.5h2M588 351.5h4M672 368.5h2M682 368.5h2M478 403.5h2M532 437.5h1M537 437.5h1M302 454.5h2"/>
<path stroke="#6aadda" d="M1 25.5h1M14 25.5h2M18 25.5h1M22 25.5h1M24 25.5h1M546 25.5h1M248 42.5h2M252 42.5h2M584 42.5h2M2 76.5h2M531 76.5h3M548 76.5h2M662 76.5h4M8 145.5h2M537 145.5h1M540 145.5h2M15 179.5h1M21 179.5h1M29 179.5h1M31 179.5h1M466 179.5h2M488 179.5h2M492 179.5h2M12 214.5h6M20 214.5h2M26 214.5h2M428 214.5h2M6 231.5h4M578 231.5h4M620 231.5h2M672 231.5h2M22 248.5h2M40 248.5h2M574 248.5h2M18 265.5h2M602 317.5h4M468 334.5h1M608 334.5h4M636 334.5h2M160 351.5h2M176 351.5h2M210 351.5h2M16 420.5h2M2 437.5h1M5 437.5h1M10 437.5h1M23 437.5h1M27 437.5h1M29 437.5h2M41 437.5h1M49 437.5h1M65 437.5h2M68 437.5h2M75 437.5h2M80 437.5h1M89 437.5h1M96 437.5h1M99 437.5h1M116 437.5h1M118 437.5h1M122 437.5h1M124 437.5h1M126 437.5h2M129 437.5h1M133 437.5h1M138 437.5h1M146 437.5h1M151 437.5h1M158 437.5h1M160 437.5h1M170 437.5h1M172 437.5h1M174 437.5h1M181 437.5h1M188 437.5h2M193 437.5h1M200 437.5h1M216 437.5h3M230 437.5h1M232 437.5h2M237 437.5h1M239 437.5h1M252 437.5h1M255 437.5h1M258 437.5h1M268 437.5h1M292 437.5h2M299 437.5h1M301 437.5h1M316 437.5h1M320 437.5h1M322 437.5h1M324 437.5h1M328 437.5h1M335 437.5h1M344 437.5h1M357 437.5h1M363 437.5h1M368 437.5h1M412 437.5h1M419 437.5h1M444 437.5h2M467 437.5h1M484 437.5h1M490 437.5h1M509 437.5h2M539 437.5h2M681 437.5h1M686 437.5h1M690 437.5h1M697 437.5h1M708 437.5h1M0 454.5h2M22 454.5h2M34 454.5h2M616 454.5h4M652 454.5h2M658 454.5h2M2 471.5h1M9 471.5h1M20 471.5h1M29 471.5h1M31 471.5h4M46 471.5h1M57 471.5h1M60 471.5h1M76 471.5h2M85 471.5h1M90 471.5h1M102 471.5h1M109 471.5h1M113 471.5h1M117 471.5h1M121 471.5h1M128 471.5h4M211 471.5h1M293 471.5h1M295 471.5h1M304 471.5h2M310 471.5h1M332 471.5h1M339 471.5h1M369 471.5h1M374 471.5h1M386 471.5h1M393 471.5h1M418 471.5h1M422 471.5h1M430 471.5h1M437 471.5h1M439 471.5h1M452 471.5h1M464 471.5h1M469 471.5h1M474 471.5h1M491 471.5h1M502 471.5h1M517 471.5h2M574 471.5h1M599 471.5h1M654 471.5h1M703 471.5h1M710 471.5h1M719 471.5h1"/>
<path stroke="#100d79" d="M436 25.5h1M449 25.5h1M592 25.5h1M597 25.5h1M629 25.5h1M672 25.5h1M681 25.5h1M709 25.5h1"/>
<path stroke="#b01204" d="M524 76.5h4M690 179.5h2"/>
<path stroke="#fc8e14" d="M660 76.5h2M524 162.5h2M706 179.5h4M568 231.5h2M548 317.5h2M566 317.5h2M24 368.5h2M543 403.5h2M534 420.5h1M604 437.5h1M534 454.5h2M683 471.5h1"/>
<path stroke="#ef370e" d="M526 111.5h3M570 179.5h2M700 179.5h2M704 179.5h2M544 317.5h2M570 317.5h1M146 420.5h2M600 437.5h1M551 471.5h2"/>
<path stroke="#e6290b" d="M569 179.5h1M676 179.5h4M702 179.5h2M38 214.5h2M522 248.5h4M542 317.5h2M568 317.5h2M542 368.5h2M528 454.5h2M545 471.5h1M550 471.5h1M689 471.5h1"/>
<path stroke="#fb7c14" d="M574 179.5h1M619 317.5h3M542 334.5h2M138 351.5h4M26 368.5h1M538 454.5h2M547 471.5h1M549 471.5h1"/>
<path stroke="#d52008" d="M37 214.5h1M40 214.5h1M546 334.5h2M537 368.5h5M601 437.5h1M524 454.5h2M530 454.5h2M542 471.5h1M544 471.5h1M691 471.5h1"/>
<path stroke="#c41706" d="M544 334.5h2M597 437.5h1M526 454.5h2M546 471.5h1"/>
</g>
<g stroke-width="18.00">
<path stroke="#98dab4" d="M0 94h1M4 94h2M39 94h1M408 94h1M415 94h1M417 94h1M658 94h2M0 197h2M222 197h4M230 197h2M236 197h4"/>
<path stroke="#9fdc9f" d="M1 94h1M412 94h3M625 94h1M628 94h1M22 197h2M129 197h3M228 197h2M4 283h2M577 386h1"/>
<path stroke="#addf7b" d="M2 94h1M40 94h1M398 94h2M402 94h1M421 94h1M609 94h1M611 94h1M624 94h1M627 94h1M629 94h3M689 94h2M707 94h1M714 94h1M717 94h1M26 197h4M172 197h2M192 197h2M478 197h2M20 283h6M542 283h4M564 386h1M567 386h1M579 386h1"/>
<path stroke="#a6dd8b" d="M3 94h1M396 94h2M400 94h1M404 94h4M409 94h3M416 94h1M423 94h1M608 94h1M691 94h1M693 94h2M706 94h1M709 94h1M716 94h1M24 197h2M188 197h4M194 197h4M362 197h4M6 283h2M546 283h4M571 386h1M576 386h1"/>
<path stroke="#82d0e0" d="M6 94h1M8 94h2M43 94h1M179 94h1M184 94h1M307 94h1M310 94h1M312 94h1M319 94h1M321 94h1M327 94h1M370 94h1M375 94h3M382 94h1M390 94h1M393 94h1M431 94h1M434 94h1M436 94h1M442 94h1M446 94h1M453 94h1M458 94h1M465 94h2M478 94h1M481 94h1M493 94h1M521 94h1M614 94h1M621 94h1M655 94h1M660 94h1M663 94h1M670 94h1M56 197h2M60 197h4M116 197h4M160 197h1M0 283h4M8 283h2M12 283h2M6 386h1M10 386h1M17 386h2M21 386h1M26 386h1M49 386h1M72 386h1M81 386h1M193 386h1M234 386h1"/>
<path stroke="#88d4da" d="M7 94h1M10 94h1M178 94h1M368 94h2M378 94h1M384 94h1M425 94h1M428 94h2M615 94h2M664 94h1M669 94h1M4 197h2M64 197h4M88 197h2M112 197h4M468 197h4M485 197h7M1 386h2M9 386h1M12 386h1M14 386h1M20 386h1M32 386h1M592 386h1M594 386h1"/>
<path stroke="#4764b8" d="M11 94h1M62 94h1M64 94h1M67 94h1M69 94h1M71 94h1M76 94h1M79 94h1M87 94h1M97 94h1M111 94h1M118 94h2M152 94h1M157 94h1M161 94h1M172 94h1M189 94h1M198 94h3M209 94h1M212 94h2M215 94h2M225 94h1M228 94h1M230 94h4M236 94h1M246 94h1M248 94h1M251 94h1M253 94h1M353 94h1M355 94h1M358 94h1M12 197h3M484 197h1M14 283h2M154 386h1M440 386h1M461 386h1M606 386h1M611 386h1M613 386h1M615 386h1M623 386h1M628 386h2M631 386h1M636 386h1M646 386h1M648 386h1M661 386h1M708 386h1M710 386h1"/>
<path stroke="#425ab3" d="M12 94h2M45 94h2M63 94h1M72 94h1M75 94h1M78 94h1M85 94h1M89 94h1M91 94h2M95 94h1M107 94h1M109 94h1M123 94h1M127 94h1M130 94h1M159 94h1M170 94h1M173 94h1M196 94h1M203 94h2M210 94h1M214 94h1M218 94h1M220 94h2M238 94h1M249 94h2M352 94h1M354 94h1M46 197h4M148 197h2M200 197h2M292 197h2M296 197h2M312 197h4M550 283h2M554 283h2M588 386h1M590 386h1M625 386h1M627 386h1M641 386h1M653 386h1M657 386h2M662 386h2M676 386h1M683 386h1M686 386h1M691 386h1M698 386h2M703 386h1"/>
<path stroke="#6aadda" d="M14 94h4M58 94h1M135 94h1M139 94h2M145 94h1M151 94h1M165 94h1M176 94h1M182 94h1M263 94h2M266 94h1M278 94h1M281 94h1M293 94h1M301 94h2M306 94h1M308 94h1M315 94h1M331 94h1M341 94h1M345 94h2M364 94h1M447 94h1M449 94h1M452 94h1M462 94h1M470 94h3M475 94h1M477 94h1M479 94h1M492 94h1M498 94h3M502 94h1M506 94h1M508 94h1M514 94h1M517 94h1M519 94h1M41 197h1M52 197h2M80 197h6M134 197h2M138 197h2M142 197h2M220 197h2M288 197h2M302 197h2M306 197h2M368 197h2M386 197h2M538 197h1M541 197h3M0 386h1M3 386h1M11 386h1M16 386h1M22 386h3M33 386h1M41 386h1M45 386h3M52 386h1M60 386h1M64 386h2M73 386h1M75 386h1M80 386h1M83 386h1M89 386h1M95 386h1M98 386h1M105 386h1M108 386h1M114 386h1M116 386h1M122 386h1M134 386h1M138 386h1M143 386h1M146 386h3M150 386h1M161 386h1M170 386h1M176 386h1M180 386h1M183 386h1M199 386h1M208 386h5M214 386h1M217 386h1M226 386h1M230 386h2M233 386h1M244 386h1M251 386h1M260 386h1M262 386h1M292 386h1M294 386h1M299 386h1M301 386h1M304 386h1M313 386h1M319 386h3M325 386h1M330 386h1M337 386h1M359 386h3M366 386h3M375 386h1M385 386h1M398 386h1M400 386h1M404 386h1M408 386h1M416 386h2M419 386h1M425 386h2M434 386h2M437 386h2M452 386h1M460 386h1M464 386h1M479 386h1M491 386h1M496 386h2M507 386h1M512 386h2M519 386h1M585 386h1M593 386h1M596 386h1M604 386h1"/>
<path stroke="#7ccce6" d="M18 94h2M54 94h1M138 94h1M164 94h1M180 94h2M183 94h1M185 94h1M294 94h3M298 94h2M304 94h1M316 94h1M320 94h1M365 94h1M371 94h1M373 94h1M380 94h1M386 94h1M389 94h1M394 94h2M424 94h1M432 94h1M435 94h1M437 94h2M443 94h3M450 94h2M454 94h1M456 94h1M460 94h1M467 94h1M469 94h1M473 94h2M480 94h1M482 94h2M485 94h2M488 94h1M490 94h2M495 94h1M501 94h1M504 94h1M509 94h1M511 94h1M513 94h1M518 94h1M520 94h1M620 94h1M661 94h2M665 94h2M668 94h1M671 94h1M86 197h2M10 283h2M5 386h1M19 386h1M25 386h1M29 386h1M35 386h1M107 386h1M119 386h1M127 386h1M142 386h1M144 386h1M167 386h1M173 386h1M215 386h1M229 386h1M257 386h1M303 386h1M314 386h1M376 386h1M582 386h2M586 386h1M595 386h1M597 386h1M603 386h1M616 386h1"/>
<path stroke="#4c72bf" d="M20 94h1M22 94h1M47 94h1M50 94h1M82 94h1M99 94h1M103 94h2M116 94h1M153 94h1M155 94h2M160 94h1M171 94h1M188 94h1M201 94h2M206 94h3M211 94h1M227 94h1M239 94h1M242 94h1M244 94h2M254 94h1M256 94h1M265 94h1M273 94h1M286 94h2M330 94h1M332 94h1M336 94h2M348 94h1M68 197h2M198 197h2M483 197h1M16 283h4M179 386h1M297 386h1M371 386h1M384 386h1M388 386h2M413 386h1M423 386h1M428 386h1M433 386h1M445 386h1M447 386h2M455 386h1M459 386h1M467 386h2M472 386h1M487 386h2M501 386h1M503 386h1M515 386h1M599 386h1M622 386h1M624 386h1M633 386h1M635 386h1M643 386h1M656 386h1"/>
<path stroke="#5a8ecd" d="M21 94h1M23 94h2M132 94h1M137 94h1M141 94h1M144 94h1M147 94h1M191 94h2M195 94h1M197 94h1M224 94h1M226 94h1M234 94h2M237 94h1M247 94h1M252 94h1M258 94h2M267 94h1M269 94h1M272 94h1M274 94h1M280 94h1M282 94h4M288 94h2M335 94h1M339 94h1M343 94h1M350 94h1M459 94h1M507 94h1M218 197h2M242 197h2M450 197h2M36 386h4M42 386h3M50 386h1M53 386h1M56 386h1M61 386h1M66 386h1M71 386h1M76 386h2M91 386h1M93 386h1M99 386h1M103 386h1M115 386h1M126 386h1M136 386h2M145 386h1M149 386h1M153 386h1M157 386h1M163 386h1M171 386h2M184 386h2M187 386h1M189 386h1M192 386h1M203 386h2M218 386h4M225 386h1M228 386h1M237 386h1M240 386h1M245 386h1M248 386h1M253 386h1M255 386h2M258 386h1M263 386h1M265 386h2M274 386h1M279 386h1M281 386h1M284 386h2M287 386h1M290 386h2M295 386h2M324 386h1M328 386h1M332 386h1M339 386h1M350 386h1M353 386h1M356 386h1M369 386h1M382 386h1M386 386h1M392 386h1M401 386h1M406 386h1M410 386h3M418 386h1M420 386h1M431 386h1M442 386h2M446 386h1M458 386h1M463 386h1M469 386h1M473 386h2M477 386h1M483 386h1M486 386h1M494 386h1M499 386h1M510 386h2M514 386h1M517 386h1M617 386h1M619 386h1M645 386h1M647 386h1"/>
<path stroke="#93d8c3" d="M25 94h4M418 94h1M422 94h1M612 94h1M618 94h1M654 94h1M656 94h1M688 94h1M2 197h2M8 197h4M15 197h5M74 197h2M226 197h2M232 197h4M254 197h2M568 386h3M573 386h1"/>
<path stroke="#d0e546" d="M29 94h1M31 94h1M33 94h1M35 94h1M673 94h1M675 94h1M698 94h1M703 94h1M90 197h6"/>
<path stroke="#dae73a" d="M30 94h1M32 94h1M599 94h1M605 94h1M607 94h1M672 94h1M677 94h1M701 94h2M40 197h1M110 197h2M554 386h1M566 386h1"/>
<path stroke="#f2eb24" d="M34 94h1M37 94h1M572 94h1M574 94h3M601 94h1M603 94h2M674 94h1M696 94h1M40 283h1M528 283h4"/>
<path stroke="#e6e92f" d="M36 94h1M578 94h1M606 94h1M39 197h1M109 197h1M37 283h3M555 386h1"/>
<path stroke="#bce260" d="M38 94h1M692 94h1M697 94h1M711 94h1M718 94h1M32 197h2M122 197h2M248 197h6M476 197h2M561 386h1M565 386h1M575 386h1"/>
<path stroke="#8ed7d1" d="M41 94h2M379 94h1M381 94h1M383 94h1M385 94h1M387 94h2M391 94h2M419 94h1M427 94h1M430 94h1M613 94h1M617 94h1M619 94h1M622 94h2M653 94h1M657 94h1M6 197h2M20 197h2M58 197h2M72 197h2M76 197h4M120 197h2M158 197h2M256 197h4M41 283h3M572 386h1M605 386h1"/>
<path stroke="#5380c6" d="M44 94h1M48 94h1M126 94h1M148 94h1M158 94h1M162 94h2M174 94h2M190 94h1M193 94h2M205 94h1M217 94h1M219 94h1M222 94h2M229 94h1M240 94h1M243 94h1M255 94h1M257 94h1M261 94h1M268 94h1M270 94h2M275 94h3M290 94h2M329 94h1M334 94h1M342 94h1M515 94h1M70 197h2M40 386h1M57 386h1M59 386h1M79 386h1M82 386h1M87 386h1M100 386h1M123 386h1M132 386h1M152 386h1M156 386h1M160 386h1M162 386h1M175 386h1M178 386h1M198 386h1M200 386h1M202 386h1M205 386h1M207 386h1M238 386h2M243 386h1M249 386h2M254 386h1M272 386h1M278 386h1M280 386h1M282 386h1M309 386h1M315 386h2M327 386h1M336 386h1M341 386h1M351 386h2M355 386h1M364 386h2M378 386h4M387 386h1M391 386h1M399 386h1M402 386h2M407 386h1M409 386h1M414 386h2M421 386h2M429 386h2M436 386h1M441 386h1M449 386h1M451 386h1M456 386h2M465 386h1M470 386h2M478 386h1M480 386h2M485 386h1M489 386h2M492 386h2M495 386h1M500 386h1M505 386h2M509 386h1M518 386h1M589 386h1M591 386h1M601 386h1M644 386h1M664 386h1"/>
<path stroke="#3e4fad" d="M49 94h1M66 94h1M73 94h2M80 94h1M83 94h2M93 94h2M98 94h1M101 94h2M106 94h1M108 94h1M112 94h3M120 94h3M128 94h1M131 94h1M154 94h1M241 94h1M356 94h2M359 94h1M361 94h1M50 197h2M144 197h4M150 197h2M294 197h2M298 197h2M308 197h4M360 197h2M376 197h2M380 197h2M384 197h2M494 197h2M552 283h2M607 386h3M632 386h1M634 386h1M642 386h1M666 386h2M669 386h1M671 386h2M674 386h1M685 386h1M705 386h1M712 386h1M714 386h1M716 386h1"/>
<path stroke="#3a44a8" d="M51 94h1M65 94h1M68 94h1M70 94h1M77 94h1M81 94h1M86 94h1M88 94h1M90 94h1M96 94h1M100 94h1M105 94h1M110 94h1M117 94h1M124 94h2M129 94h1M360 94h1M362 94h1M152 197h6M260 197h6M370 197h6M492 197h2M496 197h4M610 386h1M612 386h1M614 386h1M620 386h1M630 386h1M637 386h1M639 386h2M649 386h2M654 386h1M659 386h2M670 386h1M673 386h1M675 386h1M681 386h1M689 386h2M692 386h2M701 386h2M711 386h1M713 386h1M715 386h1"/>
<path stroke="#619dd4" d="M52 94h2M55 94h1M59 94h3M134 94h1M136 94h1M142 94h1M146 94h1M149 94h1M167 94h3M186 94h1M260 94h1M262 94h1M279 94h1M297 94h1M300 94h1M309 94h1M311 94h1M313 94h2M325 94h1M333 94h1M340 94h1M344 94h1M351 94h1M440 94h1M455 94h1M457 94h1M461 94h1M463 94h1M476 94h1M487 94h1M494 94h1M503 94h1M54 197h2M216 197h2M240 197h2M244 197h2M290 197h2M300 197h2M304 197h2M316 197h4M4 386h1M15 386h1M30 386h1M51 386h1M54 386h2M62 386h1M68 386h1M74 386h1M84 386h2M88 386h1M92 386h1M97 386h1M101 386h2M111 386h3M117 386h1M120 386h1M125 386h1M128 386h1M130 386h1M151 386h1M155 386h1M158 386h2M165 386h1M168 386h1M182 386h1M190 386h1M194 386h3M201 386h1M206 386h1M213 386h1M216 386h1M222 386h2M232 386h1M235 386h1M241 386h2M247 386h1M264 386h1M267 386h1M269 386h1M271 386h1M276 386h2M283 386h1M286 386h1M293 386h1M300 386h1M305 386h4M311 386h1M322 386h2M331 386h1M333 386h3M338 386h1M340 386h1M357 386h1M363 386h1M370 386h1M372 386h3M377 386h1M383 386h1M390 386h1M393 386h3M405 386h1M424 386h1M427 386h1M432 386h1M439 386h1M450 386h1M453 386h2M462 386h1M466 386h1M475 386h2M482 386h1M484 386h1M498 386h1M502 386h1M504 386h1M508 386h1M516 386h1M520 386h1M580 386h1M584 386h1M587 386h1M598 386h1M600 386h1M618 386h1"/>
<path stroke="#73bce0" d="M56 94h2M133 94h1M143 94h1M150 94h1M166 94h1M177 94h1M187 94h1M292 94h1M303 94h1M305 94h1M317 94h2M322 94h3M326 94h1M328 94h1M338 94h1M347 94h1M349 94h1M366 94h2M372 94h1M374 94h1M426 94h1M433 94h1M439 94h1M441 94h1M448 94h1M464 94h1M468 94h1M484 94h1M489 94h1M496 94h2M505 94h1M510 94h1M512 94h1M516 94h1M667 94h1M42 197h4M132 197h2M136 197h2M140 197h2M320 197h4M366 197h2M536 197h2M7 386h2M13 386h1M27 386h2M31 386h1M34 386h1M48 386h1M58 386h1M63 386h1M67 386h1M69 386h2M78 386h1M86 386h1M90 386h1M94 386h1M96 386h1M104 386h1M106 386h1M109 386h2M118 386h1M121 386h1M124 386h1M129 386h1M131 386h1M133 386h1M135 386h1M139 386h3M164 386h1M166 386h1M169 386h1M174 386h1M177 386h1M181 386h1M186 386h1M188 386h1M191 386h1M197 386h1M224 386h1M227 386h1M236 386h1M246 386h1M252 386h1M259 386h1M261 386h1M268 386h1M270 386h1M273 386h1M275 386h1M288 386h2M298 386h1M302 386h1M310 386h1M312 386h1M317 386h2M326 386h1M329 386h1M342 386h8M354 386h1M358 386h1M362 386h1M396 386h2M444 386h1M581 386h1M602 386h1"/>
<path stroke="#3339a3" d="M115 94h1M363 94h1M164 197h2M382 197h2M388 197h2M440 197h2M444 197h6M452 197h2M458 197h4M464 197h2M621 386h1M626 386h1M651 386h2M655 386h1M665 386h1M668 386h1M678 386h1M682 386h1M684 386h1M687 386h2M694 386h4M700 386h1M704 386h1M706 386h2M709 386h1M717 386h3"/>
<path stroke="#b4e06e" d="M401 94h1M403 94h1M420 94h1M610 94h1M626 94h1M695 94h1M704 94h2M708 94h1M710 94h1M712 94h2M715 94h1M719 94h1M174 197h2M472 197h4M480 197h3M558 386h2M562 386h1M574 386h1M578 386h1"/>
<path stroke="#6e0c00" d="M522 94h2M524 94h1M525 94h3M528 94h1M529 94h1M530 94h1M531 94h1M532 94h1M533 94h1M534 94h1M535 94h3M538 94h1M539 94h3M542 94h1M543 94h1M544 94h1M545 94h1M546 94h4M552 94h1M553 94h1M554 94h1M555 94h1M556 94h1M557 94h3M560 94h2M634 94h1M643 94h1M680 94h1M124 197h2M126 197h1M521 386h1M522 386h3M525 386h1M526 386h1M527 386h3M530 386h1M531 386h1M532 386h1M535 386h1M536 386h1M537 386h1M538 386h1M539 386h2M541 386h1M542 386h1M543 386h1"/>
<path stroke="#d52008" d="M550 94h1M585 94h1M588 94h1M590 94h2M182 197h2M544 386h1"/>
<path stroke="#c41706" d="M551 94h1M592 94h1M180 197h2M546 386h1"/>
<path stroke="#f75912" d="M562 94h1M568 94h1M640 94h1M34 197h2M38 197h1"/>
<path stroke="#fb7c14" d="M563 94h1M108 197h1M550 386h1"/>
<path stroke="#feb714" d="M564 94h1M632 94h2M128 197h1M34 283h2M551 386h1"/>
<path stroke="#fdde18" d="M565 94h1M567 94h1M577 94h1M595 94h1M597 94h1M602 94h1M556 386h2"/>
<path stroke="#f9e71e" d="M566 94h1M573 94h1M579 94h1M594 94h1M598 94h1M600 94h1M96 197h10M184 197h4M538 283h4M552 386h2"/>
<path stroke="#fc8e14" d="M569 94h1M571 94h1M583 94h1M106 197h2"/>
<path stroke="#fa6a14" d="M570 94h1M651 94h1M686 94h2M36 197h2M534 386h1"/>
<path stroke="#fda014" d="M580 94h1M596 94h1M650 94h1M678 94h2M127 197h1M26 283h3M549 386h1"/>
<path stroke="#fece14" d="M581 94h2M652 94h1M36 283h1M532 283h6"/>
<path stroke="#e6290b" d="M584 94h1M642 94h1M178 197h2M30 283h4M548 386h1"/>
<path stroke="#ef370e" d="M586 94h1M589 94h1M684 94h1M176 197h2M29 283h1M533 386h1M547 386h1"/>
<path stroke="#f34810" d="M587 94h1M641 94h1M685 94h1M545 386h1"/>
<path stroke="#9a1003" d="M593 94h1M638 94h1M647 94h1"/>
<path stroke="#b01204" d="M635 94h2M639 94h1M644 94h1M646 94h1M649 94h1M683 94h1"/>
<path stroke="#860e02" d="M637 94h1M648 94h1M681 94h1M522 283h6"/>
<path stroke="#740c00" d="M645 94h1M682 94h1"/>
<path stroke="#c6e453" d="M676 94h1M699 94h2M30 197h2M246 197h2M560 386h1M563 386h1"/>
<path stroke="#2d2d9d" d="M161 197h3M166 197h6M266 197h2M280 197h2M284 197h2M332 197h2M336 197h2M340 197h6M356 197h2M378 197h2M442 197h2M454 197h4M462 197h2M466 197h2M539 197h2M545 197h1M548 197h1M550 197h1M557 197h1M559 197h1M575 197h1M581 197h1M585 197h1M602 197h1M604 197h1M609 197h1M613 197h3M624 197h1M630 197h1M645 197h3M665 197h2M674 197h1M681 197h1M685 197h1M687 197h1M689 197h1M697 197h1M699 197h1M707 197h2M714 197h2M638 386h1M677 386h1M679 386h2"/>
<path stroke="#141080" d="M202 197h8M392 197h4M398 197h4M404 197h4M412 197h2M416 197h2M420 197h4M426 197h2M430 197h10M500 197h4M506 197h6M518 197h2M524 197h6M534 197h2M587 197h2M593 197h1M598 197h1M616 197h1M635 197h1M648 197h1M654 197h3M660 197h1M668 197h1M670 197h1M683 197h1M694 197h1"/>
<path stroke="#1a1688" d="M210 197h2M408 197h2M418 197h2M424 197h2M428 197h2M504 197h2M514 197h2M530 197h4M544 197h1M551 197h1M553 197h1M555 197h1M558 197h1M564 197h1M569 197h1M571 197h1M576 197h1M583 197h2M590 197h1M592 197h1M595 197h3M601 197h1M610 197h2M617 197h2M621 197h2M625 197h1M627 197h1M637 197h1M640 197h2M650 197h1M659 197h1M664 197h1M673 197h1M675 197h1M682 197h1M690 197h1M696 197h1M701 197h2M709 197h2"/>
<path stroke="#100d7a" d="M212 197h2M396 197h2M402 197h2M414 197h2M512 197h2M516 197h2M520 197h4"/>
<path stroke="#201b90" d="M214 197h2M268 197h6M278 197h2M330 197h2M358 197h2M410 197h2M554 197h1M560 197h4M565 197h3M572 197h1M580 197h1M582 197h1M586 197h1M594 197h1M599 197h2M603 197h1M607 197h1M612 197h1M619 197h2M629 197h1M631 197h1M633 197h2M636 197h1M638 197h2M643 197h1M649 197h1M651 197h2M661 197h2M669 197h1M671 197h1M676 197h3M688 197h1M692 197h1M700 197h1M703 197h1M705 197h1M712 197h2M717 197h1M719 197h1"/>
<path stroke="#262298" d="M274 197h4M282 197h2M286 197h2M324 197h6M334 197h2M338 197h2M346 197h10M390 197h2M546 197h2M549 197h1M552 197h1M556 197h1M568 197h1M570 197h1M573 197h2M577 197h3M589 197h1M591 197h1M605 197h2M608 197h1M623 197h1M626 197h1M628 197h1M632 197h1M642 197h1M644 197h1M653 197h1M657 197h2M663 197h1M667 197h1M672 197h1M679 197h2M684 197h1M686 197h1M691 197h1M693 197h1M695 197h1M698 197h1M704 197h1M706 197h1M711 197h1M716 197h1M718 197h1"/>
<path stroke="#0f0c77" d="M44 283h214M260 283h36M298 283h52M352 283h78M432 283h90M556 283h116M674 283h46"/>
<path stroke="#0f0c76" d="M258 283h2M430 283h2M672 283h2"/>
<path stroke="#0f0c78" d="M296 283h2M350 283h2"/>
</g>
</svg>
<g stroke="#10131a" stroke-width="1" fill="none">
<line x1="1499.6" y1="923.5" x2="1499.6" y2="1404.5" opacity="0.65"/>
<line x1="2032.4" y1="923.5" x2="2032.4" y2="1404.5" opacity="0.65"/>
<path d="M1544.0,923.5v8M1544.0,1404.5v-8M1588.4,923.5v8M1588.4,1404.5v-8M1632.8,923.5v8M1632.8,1404.5v-8M1677.2,923.5v8M1677.2,1404.5v-8M1721.6,923.5v8M1721.6,1404.5v-8M1766.0,923.5v8M1766.0,1404.5v-8M1810.4,923.5v8M1810.4,1404.5v-8M1854.8,923.5v8M1854.8,1404.5v-8M1899.2,923.5v8M1899.2,1404.5v-8M1943.6,923.5v8M1943.6,1404.5v-8M1988.0,923.5v8M1988.0,1404.5v-8M2076.8,923.5v8M2076.8,1404.5v-8M2121.2,923.5v8M2121.2,1404.5v-8M2165.6,923.5v8M2165.6,1404.5v-8M2210.0,923.5v8M2210.0,1404.5v-8M1455.2,1000.8h8M2252.5,1000.8h-8M1455.2,1086.7h8M2252.5,1086.7h-8M1455.2,1172.6h8M2252.5,1172.6h-8M1455.2,1258.5h8M2252.5,1258.5h-8M1455.2,1344.4h8M2252.5,1344.4h-8"/>
<rect x="1455.2" y="923.5" width="797.3" height="481.0" stroke-width="1.1" opacity="0.85"/>
</g>
<svg x="1455.2" y="1454.0" width="797.3" height="479.0" viewBox="0 0 720.6 479.00" preserveAspectRatio="none" shape-rendering="crispEdges" fill="none">
<g stroke-width="17.00">
<path stroke="#9fdc9f" d="M0 8.5h2M24 8.5h4M44 42.5h1M528 42.5h2M644 42.5h2M243 59.5h1M249 59.5h1M258 59.5h1M550 94.5h4M556 94.5h2M590 94.5h2M630 94.5h2M674 94.5h2M20 111.5h2M24 111.5h2M556 179.5h4M562 179.5h2M252 231.5h2M10 248.5h2M218 282.5h1M440 282.5h1M445 282.5h1M450 282.5h1M204 299.5h2M208 299.5h2M212 299.5h4M390 299.5h4M398 299.5h4M412 299.5h2M636 299.5h2M662 299.5h2M57 316.5h1M189 436.5h1M320 436.5h2M546 436.5h2M584 436.5h2M588 436.5h2M50 470.5h2"/>
<path stroke="#93d8c3" d="M2 8.5h2M608 8.5h4M660 8.5h4M686 8.5h2M124 25.5h4M132 25.5h2M152 25.5h1M214 25.5h2M218 25.5h4M20 42.5h2M34 42.5h2M524 42.5h2M654 42.5h2M50 59.5h1M129 59.5h1M241 59.5h1M250 59.5h1M263 59.5h1M267 59.5h1M277 59.5h1M588 94.5h2M666 94.5h2M676 94.5h2M708 94.5h4M714 94.5h2M718 94.5h2M526 128.5h6M363 145.5h1M366 145.5h2M630 145.5h2M660 145.5h1M554 179.5h2M22 196.5h2M100 231.5h4M114 231.5h4M134 231.5h2M148 231.5h2M154 231.5h2M178 231.5h2M182 231.5h2M198 231.5h2M202 231.5h6M212 231.5h2M216 231.5h4M222 231.5h2M226 231.5h12M240 231.5h4M254 231.5h2M260 231.5h2M264 231.5h2M270 231.5h6M280 231.5h18M306 231.5h2M310 231.5h4M322 231.5h4M328 231.5h2M336 231.5h2M340 231.5h4M348 231.5h4M354 231.5h2M360 231.5h2M364 231.5h4M374 231.5h2M386 231.5h2M392 231.5h2M398 231.5h2M402 231.5h8M418 231.5h18M440 231.5h2M444 231.5h4M450 231.5h2M456 231.5h4M466 231.5h4M476 231.5h4M482 231.5h12M506 231.5h4M512 231.5h2M596 231.5h2M600 231.5h6M686 231.5h2M694 231.5h4M702 231.5h2M12 248.5h2M38 282.5h2M199 282.5h1M206 282.5h1M209 282.5h1M444 282.5h1M448 282.5h1M451 282.5h1M50 299.5h4M122 299.5h4M176 299.5h2M396 299.5h2M408 299.5h2M632 299.5h2M664 299.5h1M14 316.5h10M26 316.5h4M32 316.5h2M42 316.5h2M128 316.5h2M136 316.5h2M2 333.5h1M6 333.5h1M241 385.5h3M552 385.5h2M2 402.5h2M6 402.5h5M48 402.5h2M304 436.5h2M334 436.5h2M624 436.5h2M322 453.5h4M408 453.5h2M414 453.5h8M470 453.5h2M474 453.5h2M480 453.5h6M494 453.5h2M704 453.5h2M20 470.5h2"/>
<path stroke="#7ccce6" d="M4 8.5h2M38 8.5h2M498 8.5h2M624 8.5h2M8 42.5h2M16 42.5h2M384 42.5h4M534 42.5h6M1 59.5h1M5 59.5h1M8 59.5h1M15 59.5h1M29 59.5h1M37 59.5h1M40 59.5h1M62 59.5h1M69 59.5h1M80 59.5h1M84 59.5h4M97 59.5h1M100 59.5h1M105 59.5h2M108 59.5h1M112 59.5h1M125 59.5h2M128 59.5h1M130 59.5h1M132 59.5h1M136 59.5h1M139 59.5h1M141 59.5h1M147 59.5h1M150 59.5h2M153 59.5h1M157 59.5h1M159 59.5h1M162 59.5h1M182 59.5h1M184 59.5h1M190 59.5h1M192 59.5h1M195 59.5h1M199 59.5h1M207 59.5h1M209 59.5h1M211 59.5h1M215 59.5h1M219 59.5h2M227 59.5h2M262 59.5h1M274 59.5h1M279 59.5h1M281 59.5h1M283 59.5h2M290 59.5h1M293 59.5h1M301 59.5h1M308 59.5h1M315 59.5h3M337 59.5h1M340 59.5h2M344 59.5h1M352 59.5h1M354 59.5h2M359 59.5h1M522 59.5h1M2 94.5h2M10 94.5h10M32 94.5h2M38 94.5h2M26 111.5h2M34 111.5h2M4 128.5h4M20 145.5h4M66 145.5h2M265 145.5h1M276 145.5h4M328 145.5h2M8 162.5h2M14 162.5h2M22 162.5h2M34 162.5h2M48 162.5h2M54 162.5h8M66 162.5h2M74 162.5h2M78 162.5h2M82 162.5h4M94 162.5h2M100 162.5h2M104 162.5h2M0 179.5h2M24 179.5h2M30 179.5h2M4 196.5h2M10 196.5h2M0 231.5h2M8 231.5h6M16 231.5h2M22 231.5h4M30 231.5h2M34 231.5h4M50 231.5h2M54 231.5h4M66 231.5h2M72 231.5h2M86 231.5h2M98 231.5h2M610 231.5h2M636 231.5h4M654 231.5h2M676 231.5h2M5 248.5h3M20 248.5h2M70 248.5h2M74 248.5h2M214 248.5h2M222 248.5h2M2 265.5h4M8 265.5h6M18 265.5h4M8 282.5h1M10 282.5h1M29 282.5h1M42 282.5h2M46 282.5h1M120 282.5h3M128 282.5h1M132 282.5h1M142 282.5h1M145 282.5h1M149 282.5h1M154 282.5h1M161 282.5h4M169 282.5h2M176 282.5h1M178 282.5h1M200 282.5h2M204 282.5h1M220 282.5h1M223 282.5h1M433 282.5h1M437 282.5h2M461 282.5h1M467 282.5h1M557 282.5h2M560 282.5h4M568 282.5h1M2 299.5h4M10 299.5h2M20 299.5h1M44 299.5h1M110 299.5h2M128 299.5h4M146 299.5h2M156 299.5h2M162 299.5h2M166 299.5h2M184 299.5h2M196 299.5h2M202 299.5h2M230 299.5h6M240 299.5h4M246 299.5h10M260 299.5h2M270 299.5h2M276 299.5h2M286 299.5h4M292 299.5h2M306 299.5h8M316 299.5h4M332 299.5h2M340 299.5h2M346 299.5h4M352 299.5h8M370 299.5h2M376 299.5h2M420 299.5h2M430 299.5h2M464 299.5h2M472 299.5h4M478 299.5h2M482 299.5h2M486 299.5h10M500 299.5h4M506 299.5h4M516 299.5h2M572 299.5h2M582 299.5h2M600 299.5h2M666 299.5h2M670 299.5h2M4 316.5h4M70 316.5h2M82 316.5h2M86 316.5h2M100 316.5h6M112 316.5h6M158 316.5h2M162 316.5h2M170 316.5h2M178 316.5h2M182 316.5h2M12 333.5h1M31 333.5h1M67 333.5h1M81 333.5h1M89 333.5h4M99 333.5h1M104 333.5h2M107 333.5h1M110 333.5h1M123 333.5h2M128 333.5h1M133 333.5h1M137 333.5h1M153 333.5h1M165 333.5h1M169 333.5h1M174 333.5h2M182 333.5h1M201 333.5h1M209 333.5h1M211 333.5h2M217 333.5h1M221 333.5h1M226 333.5h1M232 333.5h1M235 333.5h3M240 333.5h3M251 333.5h1M253 333.5h1M256 333.5h1M274 333.5h1M278 333.5h1M282 333.5h1M284 333.5h1M297 333.5h1M300 333.5h1M304 333.5h1M308 333.5h2M313 333.5h2M318 333.5h2M325 333.5h1M328 333.5h1M330 333.5h1M339 333.5h1M343 333.5h1M346 333.5h1M349 333.5h2M353 333.5h1M360 333.5h1M366 333.5h2M369 333.5h3M375 333.5h1M378 333.5h2M385 333.5h1M390 333.5h1M394 333.5h1M399 333.5h1M402 333.5h3M408 333.5h1M413 333.5h1M417 333.5h2M429 333.5h1M432 333.5h1M437 333.5h1M0 350.5h1M2 350.5h1M11 350.5h1M13 350.5h2M18 350.5h1M22 350.5h2M30 350.5h1M38 350.5h1M46 350.5h1M51 350.5h1M58 350.5h1M60 350.5h1M63 350.5h1M65 350.5h2M69 350.5h2M79 350.5h1M87 350.5h1M93 350.5h1M95 350.5h1M101 350.5h1M106 350.5h2M112 350.5h1M114 350.5h1M116 350.5h2M206 350.5h1M16 385.5h2M20 385.5h1M246 385.5h3M8 419.5h6M16 419.5h2M20 419.5h2M50 419.5h2M66 419.5h2M74 419.5h4M86 419.5h2M92 419.5h4M100 419.5h2M104 419.5h2M108 419.5h2M116 419.5h2M182 436.5h2M566 436.5h6M654 436.5h2M8 453.5h6M16 453.5h2M20 453.5h2M26 453.5h2M36 453.5h4M52 453.5h2M64 453.5h4M72 453.5h2M80 453.5h2M96 453.5h2M100 453.5h2M106 453.5h2M110 453.5h2M114 453.5h4M120 453.5h2M132 453.5h2M136 453.5h2M152 453.5h2M158 453.5h2M164 453.5h4M174 453.5h4M184 453.5h4M192 453.5h2M196 453.5h2M206 453.5h2M216 453.5h2M224 453.5h2M230 453.5h2M236 453.5h4M246 453.5h2M250 453.5h4M272 453.5h2M282 453.5h4M288 453.5h2M298 453.5h2M314 453.5h2M328 453.5h2M332 453.5h4M344 453.5h2M348 453.5h2M352 453.5h2M356 453.5h6M364 453.5h2M370 453.5h2M376 453.5h2M384 453.5h2M388 453.5h2M394 453.5h4M402 453.5h2M424 453.5h6M432 453.5h6M450 453.5h6M520 453.5h4M530 453.5h2M536 453.5h4M544 453.5h4M550 453.5h2M556 453.5h2M578 453.5h2M586 453.5h2M592 453.5h2M612 453.5h2M616 453.5h2M622 453.5h2M626 453.5h2M644 453.5h2M652 453.5h2M656 453.5h6M668 453.5h4M674 453.5h2M678 453.5h2M684 453.5h2M696 453.5h2M716 453.5h2M4 470.5h3M10 470.5h3M483 470.5h3"/>
<path stroke="#82d0e0" d="M6 8.5h2M12 8.5h4M20 8.5h2M34 8.5h2M620 8.5h2M630 8.5h4M5 25.5h1M10 25.5h2M86 25.5h1M2 42.5h6M10 42.5h6M18 42.5h2M380 42.5h4M2 59.5h3M33 59.5h1M38 59.5h1M48 59.5h1M51 59.5h3M56 59.5h1M61 59.5h1M63 59.5h1M66 59.5h3M70 59.5h1M77 59.5h1M83 59.5h1M89 59.5h1M95 59.5h1M109 59.5h2M113 59.5h1M117 59.5h2M120 59.5h4M140 59.5h1M142 59.5h1M145 59.5h1M148 59.5h1M152 59.5h1M158 59.5h1M180 59.5h1M185 59.5h2M193 59.5h1M200 59.5h1M202 59.5h1M204 59.5h2M208 59.5h1M213 59.5h2M222 59.5h1M229 59.5h1M235 59.5h4M266 59.5h1M269 59.5h1M271 59.5h1M278 59.5h1M280 59.5h1M282 59.5h1M286 59.5h2M294 59.5h2M300 59.5h1M303 59.5h1M312 59.5h1M322 59.5h1M326 59.5h1M332 59.5h1M336 59.5h1M339 59.5h1M343 59.5h1M348 59.5h1M353 59.5h1M356 59.5h1M4 94.5h2M28 94.5h4M34 94.5h2M10 111.5h2M20 128.5h2M18 145.5h2M326 145.5h2M0 162.5h2M4 162.5h4M16 162.5h2M20 162.5h2M28 162.5h4M38 162.5h2M76 162.5h2M96 162.5h2M534 162.5h2M2 179.5h2M12 179.5h2M16 179.5h4M22 179.5h2M0 196.5h2M6 196.5h2M14 196.5h4M4 231.5h2M20 231.5h2M40 231.5h4M58 231.5h6M68 231.5h4M76 231.5h4M82 231.5h2M88 231.5h2M140 231.5h2M608 231.5h2M612 231.5h16M632 231.5h4M642 231.5h2M646 231.5h8M658 231.5h2M662 231.5h2M668 231.5h8M678 231.5h2M700 231.5h2M16 248.5h1M23 248.5h1M68 248.5h2M72 248.5h2M81 248.5h1M221 248.5h1M0 265.5h2M14 265.5h4M1 282.5h1M4 282.5h1M9 282.5h1M20 282.5h3M37 282.5h1M130 282.5h1M134 282.5h1M140 282.5h2M147 282.5h1M152 282.5h1M155 282.5h1M171 282.5h1M175 282.5h1M179 282.5h1M212 282.5h1M432 282.5h1M436 282.5h1M452 282.5h2M456 282.5h1M458 282.5h1M463 282.5h3M468 282.5h1M472 282.5h1M524 282.5h2M527 282.5h1M565 282.5h2M574 282.5h1M36 299.5h2M41 299.5h1M134 299.5h4M140 299.5h2M144 299.5h2M150 299.5h2M158 299.5h2M164 299.5h2M180 299.5h4M188 299.5h8M200 299.5h2M218 299.5h6M244 299.5h2M256 299.5h2M264 299.5h4M272 299.5h2M278 299.5h2M284 299.5h2M296 299.5h4M302 299.5h4M320 299.5h2M326 299.5h6M334 299.5h2M344 299.5h2M362 299.5h8M374 299.5h2M380 299.5h4M386 299.5h2M416 299.5h2M424 299.5h4M432 299.5h2M438 299.5h2M468 299.5h4M476 299.5h2M480 299.5h2M496 299.5h4M504 299.5h2M512 299.5h2M570 299.5h2M602 299.5h2M8 316.5h2M12 316.5h2M62 316.5h4M68 316.5h2M74 316.5h4M92 316.5h2M106 316.5h2M110 316.5h2M122 316.5h2M130 316.5h2M134 316.5h2M146 316.5h2M150 316.5h2M164 316.5h2M176 316.5h2M3 333.5h1M163 333.5h1M173 333.5h1M176 333.5h1M192 333.5h1M203 333.5h1M210 333.5h1M213 333.5h2M219 333.5h1M223 333.5h1M227 333.5h1M229 333.5h1M246 333.5h1M279 333.5h2M285 333.5h1M290 333.5h1M302 333.5h1M333 333.5h1M336 333.5h1M340 333.5h1M357 333.5h1M380 333.5h1M383 333.5h1M397 333.5h1M10 350.5h1M12 350.5h1M15 350.5h3M21 350.5h1M25 350.5h1M27 350.5h3M42 350.5h1M45 350.5h1M49 350.5h2M53 350.5h2M56 350.5h1M61 350.5h2M81 350.5h1M86 350.5h1M98 350.5h1M105 350.5h1M113 350.5h1M3 385.5h3M11 385.5h1M18 385.5h2M42 402.5h2M60 402.5h6M0 419.5h2M14 419.5h2M18 419.5h2M24 419.5h2M28 419.5h2M36 419.5h2M40 419.5h2M82 419.5h2M102 419.5h2M114 419.5h2M198 436.5h2M208 436.5h2M278 436.5h2M324 436.5h2M548 436.5h2M572 436.5h2M656 436.5h8M0 453.5h2M4 453.5h4M18 453.5h2M22 453.5h4M30 453.5h2M148 453.5h2M194 453.5h2M198 453.5h2M204 453.5h2M208 453.5h2M214 453.5h2M226 453.5h2M232 453.5h4M240 453.5h2M244 453.5h2M258 453.5h4M264 453.5h6M274 453.5h2M278 453.5h2M294 453.5h4M302 453.5h2M310 453.5h2M318 453.5h2M330 453.5h2M338 453.5h6M350 453.5h2M362 453.5h2M366 453.5h4M372 453.5h2M382 453.5h2M392 453.5h2M398 453.5h2M422 453.5h2M438 453.5h2M456 453.5h2M460 453.5h4M488 453.5h6M504 453.5h4M510 453.5h2M528 453.5h2M532 453.5h2M540 453.5h4M552 453.5h4M558 453.5h2M568 453.5h2M572 453.5h2M576 453.5h2M582 453.5h4M588 453.5h4M598 453.5h2M602 453.5h6M610 453.5h2M618 453.5h4M628 453.5h2M634 453.5h10M646 453.5h6M654 453.5h2M662 453.5h4M672 453.5h2M676 453.5h2M682 453.5h2M686 453.5h2M690 453.5h6M708 453.5h2M714 453.5h2M718 453.5h2M48 470.5h2"/>
<path stroke="#88d4da" d="M8 8.5h4M22 8.5h2M628 8.5h2M634 8.5h2M6 25.5h4M12 25.5h2M216 25.5h2M0 42.5h2M24 42.5h2M41 59.5h2M46 59.5h2M49 59.5h1M57 59.5h1M60 59.5h1M65 59.5h1M73 59.5h1M78 59.5h2M82 59.5h1M93 59.5h1M98 59.5h2M102 59.5h2M115 59.5h1M119 59.5h1M127 59.5h1M137 59.5h1M144 59.5h1M146 59.5h1M149 59.5h1M160 59.5h2M163 59.5h2M167 59.5h1M169 59.5h2M173 59.5h2M176 59.5h1M178 59.5h1M187 59.5h1M196 59.5h2M206 59.5h1M210 59.5h1M212 59.5h1M217 59.5h1M225 59.5h1M231 59.5h2M240 59.5h1M244 59.5h1M247 59.5h1M251 59.5h1M256 59.5h1M260 59.5h1M264 59.5h1M268 59.5h1M272 59.5h2M275 59.5h1M285 59.5h1M288 59.5h2M296 59.5h2M307 59.5h1M309 59.5h2M636 59.5h1M20 94.5h2M600 94.5h6M18 128.5h2M22 128.5h2M36 162.5h2M536 162.5h2M4 179.5h2M14 179.5h2M20 179.5h2M18 196.5h2M48 231.5h2M52 231.5h2M64 231.5h2M74 231.5h2M80 231.5h2M84 231.5h2M90 231.5h8M106 231.5h2M110 231.5h2M118 231.5h4M126 231.5h4M132 231.5h2M138 231.5h2M142 231.5h2M146 231.5h2M158 231.5h4M164 231.5h2M168 231.5h6M176 231.5h2M180 231.5h2M188 231.5h4M194 231.5h4M372 231.5h2M436 231.5h2M442 231.5h2M452 231.5h2M494 231.5h2M498 231.5h2M502 231.5h2M630 231.5h2M640 231.5h2M644 231.5h2M656 231.5h2M660 231.5h2M664 231.5h4M682 231.5h2M690 231.5h2M712 231.5h4M24 248.5h2M216 248.5h2M6 265.5h2M2 282.5h1M15 282.5h2M19 282.5h1M24 282.5h1M26 282.5h1M28 282.5h1M30 282.5h1M32 282.5h2M36 282.5h1M47 282.5h1M202 282.5h2M205 282.5h1M207 282.5h2M213 282.5h1M454 282.5h1M457 282.5h1M473 282.5h6M480 282.5h1M522 282.5h1M559 282.5h1M567 282.5h1M8 299.5h2M175 299.5h1M178 299.5h2M186 299.5h2M198 299.5h2M216 299.5h2M268 299.5h2M360 299.5h2M378 299.5h2M418 299.5h2M434 299.5h2M466 299.5h2M484 299.5h2M510 299.5h2M514 299.5h2M518 299.5h2M598 299.5h2M604 299.5h4M24 316.5h2M36 316.5h2M40 316.5h2M66 316.5h2M72 316.5h2M84 316.5h2M88 316.5h2M120 316.5h2M124 316.5h4M138 316.5h2M152 316.5h2M172 316.5h2M1 333.5h1M364 333.5h1M386 333.5h1M388 333.5h1M391 333.5h1M396 333.5h1M398 333.5h1M3 350.5h1M32 350.5h1M39 350.5h1M44 350.5h1M47 350.5h1M59 350.5h1M119 350.5h1M12 385.5h4M41 402.5h1M6 419.5h2M58 419.5h2M8 436.5h2M206 436.5h2M210 436.5h4M274 436.5h2M306 436.5h2M550 436.5h4M242 453.5h2M248 453.5h2M254 453.5h2M262 453.5h2M270 453.5h2M276 453.5h2M280 453.5h2M286 453.5h2M290 453.5h4M300 453.5h2M304 453.5h2M308 453.5h2M312 453.5h2M316 453.5h2M326 453.5h2M336 453.5h2M346 453.5h2M354 453.5h2M440 453.5h4M446 453.5h2M458 453.5h2M472 453.5h2M502 453.5h2M508 453.5h2M512 453.5h4M562 453.5h4M570 453.5h2M574 453.5h2M596 453.5h2M608 453.5h2M614 453.5h2M624 453.5h2M630 453.5h4M680 453.5h2M698 453.5h6M712 453.5h2M46 470.5h2M67 470.5h3"/>
<path stroke="#6aadda" d="M16 8.5h4M514 8.5h2M390 42.5h6M556 42.5h2M560 42.5h2M600 42.5h2M604 42.5h2M6 59.5h1M14 59.5h1M30 59.5h1M92 59.5h1M111 59.5h1M133 59.5h1M168 59.5h1M318 59.5h1M321 59.5h1M323 59.5h1M327 59.5h2M333 59.5h1M338 59.5h1M342 59.5h1M346 59.5h1M349 59.5h2M358 59.5h1M360 59.5h1M369 59.5h1M373 59.5h1M386 59.5h1M398 59.5h1M590 59.5h1M22 94.5h2M452 111.5h2M456 111.5h2M188 145.5h2M228 145.5h4M270 145.5h2M10 162.5h4M40 162.5h2M62 162.5h2M98 162.5h2M102 162.5h2M106 162.5h2M112 162.5h4M120 162.5h6M138 162.5h2M28 179.5h2M78 179.5h2M2 196.5h2M8 196.5h2M12 196.5h2M28 231.5h2M40 282.5h1M45 282.5h1M51 282.5h2M54 282.5h1M60 282.5h1M62 282.5h1M66 282.5h1M73 282.5h1M77 282.5h1M79 282.5h1M88 282.5h1M91 282.5h1M94 282.5h2M115 282.5h1M117 282.5h1M123 282.5h1M138 282.5h1M146 282.5h1M148 282.5h1M150 282.5h2M157 282.5h1M159 282.5h2M167 282.5h2M173 282.5h1M177 282.5h1M191 282.5h1M222 282.5h1M234 282.5h1M410 282.5h1M424 282.5h1M434 282.5h2M479 282.5h1M481 282.5h1M485 282.5h1M491 282.5h1M497 282.5h2M500 282.5h1M526 282.5h1M54 299.5h2M58 299.5h2M66 299.5h2M72 299.5h4M78 299.5h4M84 299.5h6M92 299.5h2M96 299.5h2M102 299.5h4M116 299.5h2M132 299.5h2M596 299.5h2M608 299.5h2M614 299.5h10M10 316.5h2M108 316.5h2M118 316.5h2M204 316.5h2M214 316.5h2M226 316.5h2M9 333.5h1M13 333.5h1M16 333.5h1M19 333.5h1M26 333.5h1M35 333.5h1M38 333.5h1M40 333.5h3M44 333.5h1M46 333.5h1M52 333.5h1M59 333.5h1M70 333.5h1M75 333.5h1M80 333.5h1M82 333.5h1M84 333.5h1M86 333.5h1M95 333.5h1M106 333.5h1M108 333.5h1M112 333.5h1M114 333.5h3M119 333.5h1M121 333.5h2M127 333.5h1M138 333.5h2M144 333.5h1M150 333.5h1M152 333.5h1M155 333.5h1M158 333.5h2M162 333.5h1M166 333.5h3M172 333.5h1M178 333.5h2M187 333.5h2M190 333.5h2M193 333.5h1M195 333.5h1M197 333.5h1M204 333.5h1M206 333.5h1M220 333.5h1M224 333.5h1M228 333.5h1M230 333.5h2M243 333.5h3M247 333.5h1M249 333.5h1M252 333.5h1M255 333.5h1M257 333.5h2M261 333.5h3M267 333.5h2M270 333.5h2M273 333.5h1M281 333.5h1M291 333.5h5M298 333.5h2M303 333.5h1M305 333.5h1M307 333.5h1M311 333.5h1M315 333.5h2M320 333.5h2M327 333.5h1M332 333.5h1M337 333.5h2M341 333.5h1M347 333.5h1M352 333.5h1M354 333.5h2M359 333.5h1M365 333.5h1M368 333.5h1M372 333.5h1M374 333.5h1M377 333.5h1M387 333.5h1M395 333.5h1M401 333.5h1M405 333.5h1M407 333.5h1M409 333.5h2M420 333.5h4M431 333.5h1M438 333.5h1M443 333.5h1M453 333.5h1M465 333.5h1M4 350.5h1M20 350.5h1M33 350.5h1M35 350.5h1M41 350.5h1M64 350.5h1M68 350.5h1M72 350.5h1M74 350.5h3M78 350.5h1M82 350.5h1M84 350.5h1M96 350.5h1M102 350.5h1M109 350.5h1M111 350.5h1M115 350.5h1M121 350.5h1M130 350.5h2M135 350.5h1M139 350.5h3M144 350.5h1M150 350.5h1M156 350.5h1M159 350.5h3M169 350.5h2M174 350.5h1M180 350.5h1M183 350.5h1M199 350.5h2M202 350.5h1M204 350.5h1M212 350.5h2M221 350.5h1M224 350.5h1M232 350.5h1M236 350.5h2M241 350.5h3M246 350.5h1M250 350.5h2M255 350.5h1M257 350.5h1M262 350.5h1M264 350.5h1M269 350.5h2M274 350.5h3M282 350.5h1M285 350.5h1M294 350.5h1M296 350.5h1M308 350.5h1M314 350.5h2M319 350.5h2M327 350.5h1M331 350.5h2M334 350.5h2M339 350.5h2M343 350.5h1M347 350.5h2M356 350.5h1M359 350.5h2M373 350.5h1M376 350.5h1M381 350.5h1M384 350.5h1M394 350.5h1M402 350.5h1M407 350.5h1M417 350.5h1M421 350.5h1M425 350.5h1M437 350.5h1M458 350.5h1M463 350.5h1M465 350.5h2M478 350.5h2M485 350.5h1M487 350.5h1M490 350.5h1M493 350.5h1M515 350.5h1M542 385.5h3M42 419.5h6M52 419.5h6M60 419.5h2M68 419.5h2M88 419.5h4M96 419.5h4M110 419.5h4M120 419.5h4M130 419.5h6M142 419.5h2M146 419.5h6M162 419.5h6M178 419.5h2M196 419.5h2M218 419.5h2M194 436.5h2M282 436.5h2M296 436.5h2M40 453.5h8M50 453.5h2M54 453.5h6M78 453.5h2M84 453.5h4M92 453.5h4M104 453.5h2M108 453.5h2M112 453.5h2M122 453.5h8M138 453.5h4M150 453.5h2M156 453.5h2M162 453.5h2M172 453.5h2M178 453.5h2M182 453.5h2M188 453.5h2M202 453.5h2M210 453.5h2M222 453.5h2M524 453.5h2M17 470.5h1M24 470.5h2M31 470.5h3M502 470.5h4"/>
<path stroke="#98dab4" d="M28 8.5h6M656 8.5h2M664 8.5h2M682 8.5h4M40 42.5h4M523 42.5h1M172 59.5h1M248 59.5h1M252 59.5h3M257 59.5h1M259 59.5h1M305 59.5h1M548 94.5h2M554 94.5h2M560 94.5h2M586 94.5h2M592 94.5h4M668 94.5h6M533 162.5h1M560 179.5h2M210 231.5h2M214 231.5h2M220 231.5h2M224 231.5h2M244 231.5h2M248 231.5h4M256 231.5h4M262 231.5h2M266 231.5h2M276 231.5h4M298 231.5h4M304 231.5h2M308 231.5h2M314 231.5h4M326 231.5h2M332 231.5h4M338 231.5h2M346 231.5h2M352 231.5h2M356 231.5h4M462 231.5h4M470 231.5h2M598 231.5h2M34 282.5h1M214 282.5h4M443 282.5h1M446 282.5h1M449 282.5h1M459 282.5h1M388 299.5h2M394 299.5h2M402 299.5h4M410 299.5h2M414 299.5h2M462 299.5h2M634 299.5h2M44 316.5h1M5 333.5h1M7 333.5h1M4 402.5h2M190 436.5h4M316 436.5h2M586 436.5h2M590 436.5h2M410 453.5h4M518 453.5h2M7 470.5h3"/>
<path stroke="#73bce0" d="M36 8.5h2M500 8.5h4M622 8.5h2M626 8.5h2M688 8.5h4M388 42.5h2M558 42.5h2M602 42.5h2M7 59.5h1M9 59.5h1M17 59.5h1M26 59.5h1M44 59.5h2M54 59.5h2M58 59.5h2M64 59.5h1M71 59.5h1M75 59.5h1M90 59.5h2M94 59.5h1M96 59.5h1M104 59.5h1M114 59.5h1M116 59.5h1M124 59.5h1M134 59.5h1M154 59.5h3M179 59.5h1M181 59.5h1M183 59.5h1M188 59.5h2M191 59.5h1M201 59.5h1M216 59.5h1M221 59.5h1M223 59.5h1M233 59.5h1M239 59.5h1M291 59.5h1M299 59.5h1M313 59.5h1M319 59.5h1M330 59.5h1M345 59.5h1M347 59.5h1M351 59.5h1M357 59.5h1M368 59.5h1M370 59.5h2M591 59.5h2M638 59.5h1M0 94.5h2M6 94.5h4M36 94.5h2M9 111.5h1M36 111.5h4M0 128.5h4M4 145.5h2M8 145.5h6M182 145.5h6M266 145.5h4M272 145.5h4M280 145.5h2M18 162.5h2M24 162.5h4M32 162.5h2M42 162.5h6M50 162.5h4M64 162.5h2M68 162.5h2M80 162.5h2M86 162.5h8M6 179.5h4M26 179.5h2M32 179.5h8M2 231.5h2M6 231.5h2M14 231.5h2M18 231.5h2M26 231.5h2M32 231.5h2M38 231.5h2M628 231.5h2M8 248.5h2M14 248.5h2M19 248.5h1M22 248.5h1M67 248.5h1M328 248.5h4M5 282.5h3M12 282.5h1M14 282.5h1M23 282.5h1M25 282.5h1M27 282.5h1M31 282.5h1M41 282.5h1M44 282.5h1M81 282.5h1M83 282.5h1M86 282.5h1M97 282.5h1M99 282.5h1M103 282.5h1M125 282.5h1M133 282.5h1M135 282.5h1M139 282.5h1M144 282.5h1M153 282.5h1M156 282.5h1M166 282.5h1M181 282.5h1M183 282.5h1M192 282.5h2M196 282.5h1M210 282.5h1M219 282.5h1M221 282.5h1M322 282.5h1M354 282.5h1M405 282.5h1M416 282.5h1M427 282.5h1M430 282.5h1M470 282.5h2M482 282.5h1M487 282.5h1M492 282.5h2M496 282.5h1M0 299.5h2M6 299.5h2M12 299.5h8M42 299.5h2M60 299.5h6M70 299.5h2M76 299.5h2M90 299.5h2M94 299.5h2M100 299.5h2M106 299.5h4M126 299.5h2M138 299.5h2M142 299.5h2M148 299.5h2M152 299.5h4M160 299.5h2M228 299.5h2M236 299.5h4M258 299.5h2M262 299.5h2M274 299.5h2M280 299.5h4M290 299.5h2M294 299.5h2M300 299.5h2M314 299.5h2M322 299.5h4M336 299.5h4M342 299.5h2M350 299.5h2M384 299.5h2M568 299.5h2M584 299.5h4M590 299.5h2M594 299.5h2M665 299.5h1M668 299.5h2M0 316.5h2M78 316.5h4M94 316.5h6M144 316.5h2M148 316.5h2M154 316.5h2M160 316.5h2M166 316.5h4M174 316.5h2M180 316.5h2M8 333.5h1M10 333.5h2M15 333.5h1M33 333.5h1M45 333.5h1M47 333.5h2M51 333.5h1M56 333.5h1M58 333.5h1M63 333.5h1M72 333.5h1M76 333.5h1M78 333.5h1M88 333.5h1M100 333.5h2M120 333.5h1M131 333.5h1M135 333.5h1M142 333.5h1M148 333.5h2M151 333.5h1M157 333.5h1M161 333.5h1M164 333.5h1M181 333.5h1M183 333.5h1M189 333.5h1M196 333.5h1M198 333.5h3M202 333.5h1M205 333.5h1M207 333.5h2M215 333.5h1M222 333.5h1M234 333.5h1M250 333.5h1M259 333.5h1M269 333.5h1M272 333.5h1M275 333.5h3M283 333.5h1M286 333.5h1M288 333.5h2M306 333.5h1M310 333.5h1M312 333.5h1M322 333.5h2M326 333.5h1M331 333.5h1M334 333.5h1M342 333.5h1M344 333.5h2M351 333.5h1M356 333.5h1M358 333.5h1M362 333.5h1M373 333.5h1M381 333.5h2M384 333.5h1M389 333.5h1M393 333.5h1M415 333.5h1M419 333.5h1M424 333.5h1M428 333.5h1M430 333.5h1M435 333.5h2M441 333.5h1M1 350.5h1M5 350.5h1M7 350.5h3M19 350.5h1M24 350.5h1M26 350.5h1M34 350.5h1M37 350.5h1M40 350.5h1M43 350.5h1M48 350.5h1M52 350.5h1M55 350.5h1M57 350.5h1M67 350.5h1M71 350.5h1M73 350.5h1M77 350.5h1M80 350.5h1M83 350.5h1M85 350.5h1M89 350.5h3M94 350.5h1M97 350.5h1M99 350.5h2M103 350.5h1M118 350.5h1M132 350.5h1M146 350.5h1M151 350.5h2M163 350.5h1M187 350.5h1M203 350.5h1M209 350.5h1M217 350.5h1M226 350.5h1M231 350.5h1M235 350.5h1M252 350.5h1M291 350.5h1M293 350.5h1M345 350.5h1M350 350.5h1M355 350.5h1M390 350.5h1M461 350.5h1M467 350.5h1M470 350.5h1M473 350.5h1M244 385.5h2M2 419.5h4M26 419.5h2M30 419.5h6M38 419.5h2M48 419.5h2M62 419.5h4M70 419.5h4M78 419.5h4M84 419.5h2M106 419.5h2M118 419.5h2M160 419.5h2M168 419.5h2M176 419.5h2M0 436.5h3M196 436.5h2M200 436.5h2M204 436.5h2M214 436.5h4M270 436.5h4M280 436.5h2M284 436.5h4M294 436.5h2M298 436.5h2M2 453.5h2M14 453.5h2M28 453.5h2M32 453.5h4M48 453.5h2M60 453.5h4M68 453.5h4M74 453.5h4M82 453.5h2M88 453.5h4M98 453.5h2M102 453.5h2M118 453.5h2M130 453.5h2M134 453.5h2M142 453.5h6M154 453.5h2M160 453.5h2M168 453.5h2M180 453.5h2M190 453.5h2M200 453.5h2M212 453.5h2M218 453.5h4M228 453.5h2M306 453.5h2M374 453.5h2M378 453.5h4M386 453.5h2M390 453.5h2M400 453.5h2M430 453.5h2M448 453.5h2M526 453.5h2M534 453.5h2M548 453.5h2M580 453.5h2M600 453.5h2M666 453.5h2M18 470.5h2"/>
<path stroke="#3a44a8" d="M40 8.5h4M46 8.5h2M50 8.5h4M58 8.5h6M66 8.5h2M72 8.5h4M82 8.5h2M100 8.5h2M104 8.5h2M108 8.5h6M116 8.5h2M120 8.5h2M124 8.5h2M128 8.5h4M134 8.5h4M142 8.5h2M156 8.5h2M160 8.5h4M166 8.5h2M170 8.5h2M178 8.5h2M186 8.5h2M190 8.5h2M196 8.5h2M210 8.5h2M218 8.5h8M228 8.5h4M260 8.5h2M264 8.5h2M268 8.5h2M278 8.5h2M282 8.5h2M286 8.5h2M290 8.5h2M298 8.5h6M306 8.5h2M316 8.5h6M324 8.5h2M328 8.5h2M332 8.5h4M340 8.5h6M352 8.5h8M364 8.5h2M368 8.5h2M374 8.5h2M378 8.5h2M382 8.5h4M388 8.5h2M392 8.5h4M400 8.5h2M414 8.5h2M422 8.5h4M428 8.5h4M436 8.5h2M468 8.5h2M106 25.5h4M112 25.5h2M120 25.5h2M242 25.5h2M296 25.5h2M488 25.5h4M494 25.5h6M502 25.5h8M512 25.5h4M518 25.5h2M46 42.5h8M56 42.5h6M72 42.5h2M76 42.5h2M82 42.5h2M90 42.5h2M98 42.5h2M102 42.5h2M108 42.5h2M112 42.5h4M120 42.5h2M126 42.5h2M140 42.5h6M150 42.5h8M172 42.5h4M178 42.5h2M182 42.5h2M188 42.5h4M194 42.5h2M198 42.5h4M204 42.5h4M210 42.5h2M214 42.5h8M226 42.5h2M238 42.5h2M244 42.5h4M256 42.5h2M264 42.5h4M276 42.5h2M280 42.5h2M284 42.5h8M294 42.5h2M302 42.5h2M306 42.5h6M320 42.5h2M324 42.5h2M330 42.5h4M336 42.5h2M420 42.5h2M424 42.5h4M430 42.5h2M444 42.5h2M460 42.5h2M466 42.5h2M470 42.5h12M484 42.5h6M492 42.5h2M540 42.5h2M550 42.5h6M564 42.5h8M574 42.5h2M578 42.5h2M584 42.5h2M592 42.5h2M596 42.5h4M606 42.5h2M614 42.5h2M620 42.5h6M628 42.5h4M636 42.5h2M640 42.5h2M458 59.5h1M469 59.5h1M472 59.5h1M476 59.5h1M483 59.5h1M487 59.5h1M489 59.5h1M493 59.5h1M507 59.5h1M594 59.5h1M599 59.5h1M606 59.5h1M611 59.5h2M617 59.5h1M625 59.5h1M40 94.5h4M104 94.5h2M108 94.5h2M134 111.5h2M160 111.5h2M168 111.5h8M178 111.5h2M184 111.5h2M188 111.5h4M200 111.5h2M204 111.5h4M216 111.5h4M230 111.5h2M234 111.5h2M240 111.5h2M244 111.5h2M282 111.5h6M294 111.5h4M324 111.5h6M336 111.5h4M348 111.5h2M352 111.5h4M360 111.5h6M372 111.5h2M378 111.5h2M388 111.5h2M392 111.5h2M422 111.5h2M426 111.5h2M442 111.5h4M462 111.5h4M468 111.5h2M474 111.5h2M478 111.5h2M608 111.5h2M540 128.5h4M546 128.5h2M602 128.5h8M612 128.5h4M176 145.5h2M180 145.5h2M206 145.5h4M212 145.5h2M242 145.5h2M248 145.5h2M256 145.5h2M286 145.5h4M294 145.5h2M300 145.5h2M306 145.5h2M310 145.5h2M324 145.5h2M380 145.5h2M388 145.5h4M402 145.5h4M410 145.5h4M418 145.5h2M422 145.5h2M426 145.5h10M440 145.5h2M444 145.5h2M450 145.5h12M468 145.5h4M482 145.5h4M496 145.5h4M504 145.5h2M508 145.5h4M600 145.5h2M604 145.5h8M632 145.5h10M644 145.5h2M184 162.5h4M192 162.5h2M206 162.5h2M212 162.5h4M220 162.5h2M226 162.5h2M236 162.5h2M250 162.5h2M256 162.5h2M260 162.5h2M296 162.5h4M302 162.5h4M322 162.5h2M326 162.5h2M330 162.5h2M346 162.5h4M354 162.5h4M542 162.5h2M172 179.5h2M184 179.5h2M192 179.5h2M196 179.5h4M202 179.5h2M216 179.5h2M230 179.5h4M250 179.5h2M270 179.5h2M274 179.5h2M286 179.5h2M300 179.5h2M304 179.5h2M312 179.5h2M352 179.5h2M360 179.5h2M368 179.5h2M374 179.5h4M384 179.5h4M392 179.5h2M398 179.5h4M406 179.5h4M414 179.5h2M420 179.5h2M426 179.5h2M440 179.5h4M446 179.5h2M454 179.5h6M464 179.5h2M484 179.5h2M570 179.5h2M582 179.5h2M594 179.5h2M598 179.5h2M602 179.5h2M606 179.5h2M614 179.5h4M620 179.5h2M682 179.5h2M4 248.5h1M38 248.5h2M82 248.5h2M88 248.5h4M102 248.5h2M108 248.5h2M118 248.5h2M126 248.5h2M144 248.5h2M152 248.5h6M184 248.5h2M192 248.5h2M202 248.5h2M206 248.5h2M224 248.5h2M234 248.5h4M28 265.5h6M36 265.5h4M46 265.5h2M52 265.5h2M56 265.5h4M90 265.5h2M580 282.5h4M590 282.5h2M594 282.5h2M604 282.5h2M608 282.5h4M614 282.5h4M628 282.5h2M634 282.5h2M638 282.5h6M674 282.5h2M710 282.5h4M718 282.5h2M528 299.5h2M678 299.5h2M684 299.5h2M688 299.5h2M692 299.5h2M698 299.5h2M702 299.5h2M718 299.5h2M336 316.5h2M382 316.5h2M420 316.5h4M446 316.5h4M456 316.5h4M468 316.5h2M496 316.5h4M504 316.5h2M518 316.5h2M528 316.5h2M540 316.5h2M546 316.5h2M550 316.5h2M554 316.5h2M560 316.5h2M598 316.5h2M602 316.5h2M610 316.5h2M616 316.5h6M628 316.5h4M634 316.5h2M638 316.5h2M642 316.5h4M654 316.5h2M662 316.5h2M674 316.5h4M684 316.5h4M694 316.5h2M510 333.5h1M512 333.5h1M527 333.5h1M540 333.5h1M542 333.5h1M594 350.5h2M662 350.5h1M22 385.5h4M28 385.5h2M36 385.5h2M536 385.5h6M11 402.5h1M14 402.5h4M22 402.5h2M34 402.5h2M72 402.5h2M76 402.5h2M82 402.5h2M86 402.5h2M288 402.5h4M294 402.5h2M434 419.5h4M444 419.5h2M454 419.5h4M464 419.5h2M470 419.5h8M484 419.5h2M490 419.5h2M516 419.5h6M526 419.5h2M530 419.5h4M538 419.5h2M546 419.5h2M552 419.5h2M566 419.5h2M574 419.5h2M582 419.5h2M586 419.5h2M614 419.5h2M622 419.5h4M630 419.5h2M634 419.5h2M644 419.5h2M648 419.5h2M652 419.5h4M664 419.5h2M670 419.5h2M676 419.5h2M680 419.5h2M694 419.5h6M704 419.5h4M718 419.5h2M14 436.5h2M18 436.5h4M26 436.5h6M36 436.5h2M40 436.5h2M44 436.5h2M50 436.5h2M54 436.5h2M58 436.5h2M62 436.5h4M70 436.5h4M80 436.5h2M84 436.5h2M90 436.5h2M94 436.5h2M98 436.5h2M102 436.5h4M116 436.5h2M124 436.5h2M136 436.5h2M150 436.5h2M156 436.5h4M162 436.5h4M172 436.5h2M222 436.5h2M228 436.5h2M234 436.5h2M238 436.5h4M244 436.5h2M250 436.5h2M16 470.5h1M26 470.5h2M30 470.5h1M56 470.5h3M508 470.5h2"/>
<path stroke="#3e4fad" d="M44 8.5h2M48 8.5h2M54 8.5h4M68 8.5h4M76 8.5h6M86 8.5h4M92 8.5h8M102 8.5h2M106 8.5h2M114 8.5h2M118 8.5h2M132 8.5h2M138 8.5h4M144 8.5h4M150 8.5h6M164 8.5h2M168 8.5h2M172 8.5h4M180 8.5h4M188 8.5h2M192 8.5h4M198 8.5h2M208 8.5h2M214 8.5h4M226 8.5h2M238 8.5h2M242 8.5h2M246 8.5h2M262 8.5h2M270 8.5h6M280 8.5h2M284 8.5h2M288 8.5h2M292 8.5h6M304 8.5h2M310 8.5h6M322 8.5h2M326 8.5h2M330 8.5h2M336 8.5h4M346 8.5h6M360 8.5h4M366 8.5h2M372 8.5h2M376 8.5h2M390 8.5h2M402 8.5h4M408 8.5h4M416 8.5h2M426 8.5h2M440 8.5h2M444 8.5h4M450 8.5h2M456 8.5h2M466 8.5h2M474 8.5h2M488 8.5h2M698 8.5h6M716 8.5h2M238 25.5h2M244 25.5h4M500 25.5h2M510 25.5h2M520 25.5h2M45 42.5h1M64 42.5h4M70 42.5h2M78 42.5h4M86 42.5h4M96 42.5h2M104 42.5h2M110 42.5h2M124 42.5h2M130 42.5h4M138 42.5h2M196 42.5h2M222 42.5h4M228 42.5h8M240 42.5h4M252 42.5h2M260 42.5h4M268 42.5h4M296 42.5h4M316 42.5h2M322 42.5h2M328 42.5h2M334 42.5h2M338 42.5h6M350 42.5h2M354 42.5h6M364 42.5h4M422 42.5h2M428 42.5h2M432 42.5h2M436 42.5h2M440 42.5h4M446 42.5h6M462 42.5h4M468 42.5h2M482 42.5h2M544 42.5h6M572 42.5h2M582 42.5h2M586 42.5h6M608 42.5h2M658 42.5h2M662 42.5h2M676 42.5h4M431 59.5h1M454 59.5h1M456 59.5h1M460 59.5h1M462 59.5h1M464 59.5h1M471 59.5h1M478 59.5h1M481 59.5h1M488 59.5h1M490 59.5h2M494 59.5h2M499 59.5h1M512 59.5h1M580 94.5h2M622 94.5h2M654 94.5h2M30 111.5h2M162 111.5h2M180 111.5h4M192 111.5h2M210 111.5h6M220 111.5h10M236 111.5h2M298 111.5h2M306 111.5h2M318 111.5h4M334 111.5h2M424 111.5h2M440 111.5h2M448 111.5h2M532 111.5h3M602 111.5h4M600 128.5h2M0 145.5h2M16 145.5h2M190 145.5h2M198 145.5h2M210 145.5h2M214 145.5h4M224 145.5h2M236 145.5h4M246 145.5h2M252 145.5h4M258 145.5h4M264 145.5h1M282 145.5h4M290 145.5h2M296 145.5h4M302 145.5h4M308 145.5h2M312 145.5h8M322 145.5h2M384 145.5h4M406 145.5h2M420 145.5h2M442 145.5h2M446 145.5h2M466 145.5h2M474 145.5h8M486 145.5h2M492 145.5h4M500 145.5h2M512 145.5h2M612 145.5h2M642 145.5h2M180 162.5h4M210 162.5h2M230 162.5h4M240 162.5h2M246 162.5h2M252 162.5h2M262 162.5h4M268 162.5h2M272 162.5h6M280 162.5h2M288 162.5h2M310 162.5h2M332 162.5h4M344 162.5h2M540 162.5h2M90 179.5h2M98 179.5h2M148 179.5h2M166 179.5h2M170 179.5h2M174 179.5h6M188 179.5h4M200 179.5h2M204 179.5h4M212 179.5h2M218 179.5h2M222 179.5h6M234 179.5h2M242 179.5h2M256 179.5h2M262 179.5h2M266 179.5h2M272 179.5h2M276 179.5h4M282 179.5h2M290 179.5h8M324 179.5h4M336 179.5h8M346 179.5h2M350 179.5h2M358 179.5h2M428 179.5h2M436 179.5h2M568 179.5h2M588 179.5h2M618 179.5h2M0 248.5h2M18 248.5h1M34 265.5h2M365 282.5h2M395 282.5h1M505 282.5h1M576 282.5h4M592 282.5h2M598 282.5h4M606 282.5h2M612 282.5h2M620 282.5h2M624 282.5h4M632 282.5h2M636 282.5h2M644 282.5h12M658 282.5h2M662 282.5h2M666 282.5h8M676 282.5h12M694 282.5h12M526 299.5h2M538 299.5h2M542 299.5h2M552 299.5h2M564 299.5h2M680 299.5h4M694 299.5h2M708 299.5h4M714 299.5h2M340 316.5h2M352 316.5h2M358 316.5h2M364 316.5h2M384 316.5h4M390 316.5h2M396 316.5h2M402 316.5h2M412 316.5h4M418 316.5h2M436 316.5h2M460 316.5h2M478 316.5h2M482 316.5h2M502 316.5h2M508 316.5h2M514 316.5h2M522 316.5h2M532 316.5h2M536 316.5h2M542 316.5h2M556 316.5h4M564 316.5h2M570 316.5h2M580 316.5h6M594 316.5h2M600 316.5h2M604 316.5h2M608 316.5h2M622 316.5h2M626 316.5h2M650 316.5h2M664 316.5h8M688 316.5h2M692 316.5h2M696 316.5h2M700 316.5h4M706 316.5h2M714 316.5h4M484 333.5h1M506 333.5h1M508 333.5h2M513 333.5h2M518 333.5h2M521 350.5h1M529 350.5h1M536 350.5h1M550 350.5h1M558 350.5h1M565 350.5h1M573 350.5h1M619 350.5h1M626 350.5h1M8 385.5h3M534 385.5h2M12 402.5h2M18 402.5h2M32 402.5h2M84 402.5h2M246 419.5h2M440 419.5h2M446 419.5h4M458 419.5h2M468 419.5h2M482 419.5h2M492 419.5h4M498 419.5h2M504 419.5h2M508 419.5h8M522 419.5h2M528 419.5h2M542 419.5h2M548 419.5h4M556 419.5h2M570 419.5h2M578 419.5h4M584 419.5h2M590 419.5h4M608 419.5h4M626 419.5h2M638 419.5h2M646 419.5h2M666 419.5h4M674 419.5h2M678 419.5h2M684 419.5h4M692 419.5h2M708 419.5h4M716 419.5h2M12 436.5h2M16 436.5h2M22 436.5h2M86 436.5h2M224 436.5h4M232 436.5h2M236 436.5h2M242 436.5h2M246 436.5h2M254 436.5h8M13 470.5h3M28 470.5h2M36 470.5h3M70 470.5h2M486 470.5h4M494 470.5h2M506 470.5h2M510 470.5h2"/>
<path stroke="#425ab3" d="M64 8.5h2M84 8.5h2M90 8.5h2M122 8.5h2M126 8.5h2M148 8.5h2M158 8.5h2M176 8.5h2M202 8.5h2M212 8.5h2M234 8.5h2M240 8.5h2M244 8.5h2M250 8.5h6M258 8.5h2M276 8.5h2M308 8.5h2M442 8.5h2M452 8.5h4M458 8.5h8M470 8.5h4M476 8.5h4M482 8.5h4M492 8.5h2M496 8.5h2M694 8.5h2M704 8.5h12M14 25.5h6M100 25.5h2M234 25.5h2M162 42.5h4M168 42.5h2M192 42.5h2M304 42.5h2M344 42.5h6M352 42.5h2M360 42.5h4M438 42.5h2M542 42.5h2M656 42.5h2M660 42.5h2M664 42.5h12M453 59.5h1M455 59.5h1M457 59.5h1M463 59.5h1M466 59.5h2M474 59.5h1M477 59.5h1M480 59.5h1M502 59.5h1M504 59.5h2M510 59.5h2M585 59.5h1M576 94.5h4M582 94.5h4M624 94.5h2M646 94.5h4M652 94.5h2M656 94.5h10M186 111.5h2M472 111.5h2M482 111.5h2M2 145.5h2M126 145.5h2M192 145.5h2M196 145.5h2M292 145.5h2M320 145.5h2M378 145.5h2M382 145.5h2M464 145.5h2M602 145.5h2M152 162.5h2M160 162.5h2M170 162.5h4M188 162.5h4M194 162.5h12M216 162.5h2M224 162.5h2M234 162.5h2M248 162.5h2M266 162.5h2M270 162.5h2M538 162.5h2M80 179.5h2M114 179.5h2M120 179.5h6M132 179.5h4M138 179.5h2M144 179.5h4M152 179.5h2M160 179.5h2M186 179.5h2M208 179.5h4M228 179.5h2M236 179.5h4M248 179.5h2M254 179.5h2M264 179.5h2M284 179.5h2M302 179.5h2M306 179.5h2M310 179.5h2M320 179.5h2M330 179.5h2M334 179.5h2M344 179.5h2M356 179.5h2M565 179.5h1M572 179.5h4M580 179.5h2M592 179.5h2M2 248.5h2M17 248.5h1M76 248.5h4M22 265.5h2M267 282.5h1M372 282.5h1M376 282.5h1M391 282.5h1M403 282.5h1M520 282.5h2M584 282.5h6M596 282.5h2M602 282.5h2M618 282.5h2M622 282.5h2M630 282.5h2M656 282.5h2M660 282.5h2M664 282.5h2M688 282.5h6M706 282.5h4M714 282.5h4M520 299.5h6M532 299.5h2M544 299.5h2M554 299.5h2M558 299.5h2M562 299.5h2M676 299.5h2M686 299.5h2M690 299.5h2M696 299.5h2M700 299.5h2M704 299.5h4M712 299.5h2M716 299.5h2M348 316.5h2M354 316.5h4M362 316.5h2M366 316.5h8M376 316.5h2M394 316.5h2M398 316.5h4M404 316.5h2M410 316.5h2M416 316.5h2M424 316.5h4M434 316.5h2M438 316.5h2M442 316.5h2M452 316.5h4M462 316.5h2M472 316.5h2M484 316.5h4M490 316.5h4M500 316.5h2M506 316.5h2M510 316.5h2M524 316.5h4M530 316.5h2M544 316.5h2M562 316.5h2M572 316.5h2M588 316.5h2M592 316.5h2M606 316.5h2M612 316.5h2M624 316.5h2M632 316.5h2M636 316.5h2M640 316.5h2M646 316.5h4M652 316.5h2M658 316.5h2M678 316.5h6M710 316.5h4M491 333.5h2M498 333.5h1M502 333.5h1M504 333.5h1M507 333.5h1M511 333.5h1M515 333.5h1M517 333.5h1M502 350.5h1M524 350.5h1M539 350.5h1M545 350.5h1M554 350.5h1M562 350.5h2M575 350.5h1M579 350.5h1M582 350.5h1M586 350.5h1M589 350.5h1M593 350.5h1M602 350.5h4M611 350.5h1M613 350.5h1M625 350.5h1M629 350.5h1M633 350.5h1M636 350.5h1M641 350.5h1M648 350.5h1M654 350.5h1M660 350.5h2M663 350.5h1M6 385.5h2M545 385.5h1M548 385.5h2M20 402.5h2M74 402.5h2M80 402.5h2M114 402.5h8M296 402.5h8M256 419.5h2M324 419.5h2M374 419.5h2M410 419.5h2M414 419.5h2M420 419.5h2M432 419.5h2M438 419.5h2M442 419.5h2M450 419.5h2M462 419.5h2M466 419.5h2M478 419.5h4M486 419.5h4M496 419.5h2M502 419.5h2M540 419.5h2M564 419.5h2M594 419.5h2M618 419.5h2M650 419.5h2M662 419.5h2M672 419.5h2M700 419.5h2M11 436.5h1M230 436.5h2M248 436.5h2M252 436.5h2M262 436.5h2M554 436.5h2M574 436.5h6M644 436.5h2M34 470.5h2M72 470.5h4M490 470.5h4M526 470.5h3"/>
<path stroke="#3339a3" d="M184 8.5h2M266 8.5h2M370 8.5h2M380 8.5h2M396 8.5h4M406 8.5h2M412 8.5h2M418 8.5h4M432 8.5h4M438 8.5h2M20 25.5h6M32 25.5h2M36 25.5h2M72 25.5h6M102 25.5h4M110 25.5h2M114 25.5h4M122 25.5h2M134 25.5h8M232 25.5h2M236 25.5h2M240 25.5h2M284 25.5h4M292 25.5h4M298 25.5h2M302 25.5h4M308 25.5h6M318 25.5h2M492 25.5h2M516 25.5h2M54 42.5h2M62 42.5h2M68 42.5h2M74 42.5h2M84 42.5h2M92 42.5h4M100 42.5h2M106 42.5h2M118 42.5h2M122 42.5h2M128 42.5h2M134 42.5h4M146 42.5h4M176 42.5h2M180 42.5h2M184 42.5h4M202 42.5h2M208 42.5h2M212 42.5h2M236 42.5h2M248 42.5h4M254 42.5h2M258 42.5h2M272 42.5h4M278 42.5h2M282 42.5h2M292 42.5h2M300 42.5h2M312 42.5h4M318 42.5h2M326 42.5h2M434 42.5h2M490 42.5h2M562 42.5h2M576 42.5h2M580 42.5h2M594 42.5h2M610 42.5h4M616 42.5h4M632 42.5h4M459 59.5h1M461 59.5h1M470 59.5h1M473 59.5h1M475 59.5h1M482 59.5h1M485 59.5h1M500 59.5h2M503 59.5h1M509 59.5h1M514 59.5h2M517 59.5h2M520 59.5h1M608 59.5h1M619 59.5h1M627 59.5h2M631 59.5h1M106 94.5h2M4 111.5h4M142 111.5h2M148 111.5h2M152 111.5h6M164 111.5h2M176 111.5h2M194 111.5h6M202 111.5h2M208 111.5h2M232 111.5h2M238 111.5h2M242 111.5h2M246 111.5h2M276 111.5h2M280 111.5h2M302 111.5h4M308 111.5h4M314 111.5h4M330 111.5h2M340 111.5h8M356 111.5h4M366 111.5h6M374 111.5h4M382 111.5h2M386 111.5h2M390 111.5h2M398 111.5h2M420 111.5h2M428 111.5h2M446 111.5h2M450 111.5h2M466 111.5h2M476 111.5h2M480 111.5h2M561 111.5h1M564 111.5h4M572 111.5h4M580 111.5h2M588 111.5h4M596 111.5h6M606 111.5h2M610 111.5h2M640 111.5h2M544 128.5h2M548 128.5h2M610 128.5h2M14 145.5h2M86 145.5h6M96 145.5h4M108 145.5h2M178 145.5h2M218 145.5h6M240 145.5h2M244 145.5h2M250 145.5h2M262 145.5h2M408 145.5h2M414 145.5h4M424 145.5h2M436 145.5h4M448 145.5h2M462 145.5h2M472 145.5h2M488 145.5h4M502 145.5h2M506 145.5h2M514 145.5h7M218 162.5h2M254 162.5h2M258 162.5h2M282 162.5h2M292 162.5h2M312 162.5h2M316 162.5h2M342 162.5h2M350 162.5h2M162 179.5h2M298 179.5h2M366 179.5h2M372 179.5h2M378 179.5h6M388 179.5h4M394 179.5h4M410 179.5h4M424 179.5h2M432 179.5h4M444 179.5h2M448 179.5h6M476 179.5h4M482 179.5h2M492 179.5h4M498 179.5h2M566 179.5h2M576 179.5h4M584 179.5h4M590 179.5h2M596 179.5h2M600 179.5h2M604 179.5h2M608 179.5h2M622 179.5h2M684 179.5h2M26 248.5h12M42 248.5h4M54 248.5h2M84 248.5h4M92 248.5h10M104 248.5h4M112 248.5h4M120 248.5h6M146 248.5h6M158 248.5h4M180 248.5h2M186 248.5h6M194 248.5h2M198 248.5h4M204 248.5h2M208 248.5h2M226 248.5h8M242 248.5h2M246 248.5h2M334 248.5h2M40 265.5h6M48 265.5h4M54 265.5h2M70 265.5h4M80 265.5h2M84 265.5h6M92 265.5h2M397 282.5h1M450 316.5h2M538 316.5h2M548 316.5h2M552 316.5h2M566 316.5h2M690 316.5h2M524 333.5h1M528 333.5h1M530 333.5h1M532 333.5h2M536 333.5h1M544 333.5h2M550 333.5h1M21 385.5h1M26 385.5h2M30 385.5h6M38 385.5h2M532 385.5h2M40 402.5h1M78 402.5h2M88 402.5h6M102 402.5h4M108 402.5h2M124 402.5h2M128 402.5h2M132 402.5h12M188 402.5h2M202 402.5h2M206 402.5h2M252 402.5h2M282 402.5h2M286 402.5h2M292 402.5h2M494 402.5h2M540 402.5h2M592 402.5h4M452 419.5h2M460 419.5h2M500 419.5h2M506 419.5h2M524 419.5h2M534 419.5h4M544 419.5h2M554 419.5h2M558 419.5h6M568 419.5h2M572 419.5h2M588 419.5h2M596 419.5h8M612 419.5h2M616 419.5h2M620 419.5h2M628 419.5h2M632 419.5h2M636 419.5h2M640 419.5h4M656 419.5h6M682 419.5h2M688 419.5h4M702 419.5h2M712 419.5h4M32 436.5h4M38 436.5h2M42 436.5h2M52 436.5h2M56 436.5h2M60 436.5h2M66 436.5h4M78 436.5h2M82 436.5h2M88 436.5h2M92 436.5h2M100 436.5h2M106 436.5h10M118 436.5h6M126 436.5h6M134 436.5h2M140 436.5h2M144 436.5h6M152 436.5h4M160 436.5h2M166 436.5h6M2 470.5h2M52 470.5h4M514 470.5h2M518 470.5h2"/>
<path stroke="#4c72bf" d="M200 8.5h2M494 8.5h2M508 8.5h2M518 8.5h2M324 25.5h2M372 42.5h2M408 42.5h2M414 42.5h2M0 59.5h1M10 59.5h1M16 59.5h1M21 59.5h2M28 59.5h1M31 59.5h1M361 59.5h1M374 59.5h1M409 59.5h1M411 59.5h1M418 59.5h1M424 59.5h1M427 59.5h1M433 59.5h2M438 59.5h1M442 59.5h1M451 59.5h1M519 59.5h1M587 59.5h1M28 111.5h2M24 128.5h4M536 128.5h4M202 145.5h4M370 145.5h6M116 162.5h2M146 162.5h2M150 162.5h2M164 162.5h2M168 162.5h2M174 162.5h2M238 162.5h2M74 179.5h2M86 179.5h2M104 179.5h2M118 179.5h2M126 179.5h2M130 179.5h2M150 179.5h2M156 179.5h2M288 179.5h2M24 265.5h2M57 282.5h1M63 282.5h1M82 282.5h1M180 282.5h1M225 282.5h1M233 282.5h1M238 282.5h1M241 282.5h1M247 282.5h1M251 282.5h1M254 282.5h1M261 282.5h1M268 282.5h1M274 282.5h1M276 282.5h1M279 282.5h3M283 282.5h1M294 282.5h1M296 282.5h1M304 282.5h1M306 282.5h1M313 282.5h1M329 282.5h1M334 282.5h2M344 282.5h1M353 282.5h1M356 282.5h1M360 282.5h3M371 282.5h1M377 282.5h1M384 282.5h3M392 282.5h1M398 282.5h2M406 282.5h1M408 282.5h1M411 282.5h1M415 282.5h1M504 282.5h1M508 282.5h1M512 282.5h1M517 282.5h1M530 299.5h2M540 299.5h2M546 299.5h4M626 299.5h2M674 299.5h2M234 316.5h4M242 316.5h4M258 316.5h4M270 316.5h2M278 316.5h2M284 316.5h2M308 316.5h2M314 316.5h4M320 316.5h2M330 316.5h2M334 316.5h2M380 316.5h2M494 316.5h2M578 316.5h2M586 316.5h2M656 316.5h2M698 316.5h2M27 333.5h1M69 333.5h1M449 333.5h1M451 333.5h1M462 333.5h1M466 333.5h1M469 333.5h1M471 333.5h1M475 333.5h1M493 333.5h1M496 333.5h1M503 333.5h1M516 333.5h1M185 350.5h1M258 350.5h1M307 350.5h1M336 350.5h1M361 350.5h1M372 350.5h1M398 350.5h1M415 350.5h1M418 350.5h1M435 350.5h1M500 350.5h1M505 350.5h2M510 350.5h1M512 350.5h2M516 350.5h1M519 350.5h1M534 350.5h1M541 350.5h2M547 350.5h1M549 350.5h1M551 350.5h1M557 350.5h1M559 350.5h1M567 350.5h3M571 350.5h2M576 350.5h1M578 350.5h1M583 350.5h1M598 350.5h1M600 350.5h1M606 350.5h1M609 350.5h1M616 350.5h1M618 350.5h1M623 350.5h1M630 350.5h1M632 350.5h1M634 350.5h1M637 350.5h1M639 350.5h2M642 350.5h1M644 350.5h1M650 350.5h1M653 350.5h1M655 350.5h1M658 350.5h1M558 385.5h2M96 402.5h2M100 402.5h2M210 419.5h2M230 419.5h4M244 419.5h2M260 419.5h4M270 419.5h2M280 419.5h2M284 419.5h2M292 419.5h6M302 419.5h2M320 419.5h4M326 419.5h4M332 419.5h2M352 419.5h4M364 419.5h2M376 419.5h4M388 419.5h2M394 419.5h2M400 419.5h2M404 419.5h6M416 419.5h2M264 436.5h2M556 436.5h4M636 436.5h2M640 436.5h4M500 470.5h2"/>
<path stroke="#4764b8" d="M204 8.5h4M232 8.5h2M236 8.5h2M248 8.5h2M256 8.5h2M448 8.5h2M480 8.5h2M486 8.5h2M490 8.5h2M520 8.5h3M692 8.5h2M696 8.5h2M718 8.5h2M0 25.5h5M99 25.5h1M160 42.5h2M166 42.5h2M170 42.5h2M408 59.5h1M413 59.5h1M421 59.5h3M425 59.5h1M435 59.5h1M446 59.5h1M449 59.5h1M465 59.5h1M468 59.5h1M479 59.5h1M484 59.5h1M486 59.5h1M496 59.5h2M506 59.5h1M508 59.5h1M513 59.5h1M521 59.5h1M589 59.5h1M650 94.5h2M32 111.5h2M166 111.5h2M533 128.5h3M194 145.5h2M376 145.5h2M140 162.5h6M156 162.5h4M178 162.5h2M222 162.5h2M228 162.5h2M242 162.5h4M82 179.5h2M92 179.5h2M96 179.5h2M100 179.5h2M106 179.5h8M116 179.5h2M136 179.5h2M142 179.5h2M158 179.5h2M164 179.5h2M168 179.5h2M180 179.5h4M194 179.5h2M214 179.5h2M220 179.5h2M240 179.5h2M244 179.5h4M252 179.5h2M258 179.5h4M268 179.5h2M280 179.5h2M308 179.5h2M314 179.5h6M322 179.5h2M328 179.5h2M332 179.5h2M348 179.5h2M354 179.5h2M80 248.5h1M26 265.5h2M102 282.5h1M226 282.5h1M236 282.5h1M240 282.5h1M248 282.5h1M259 282.5h2M262 282.5h1M270 282.5h1M275 282.5h1M278 282.5h1M284 282.5h1M286 282.5h1M291 282.5h2M299 282.5h1M302 282.5h1M309 282.5h1M321 282.5h1M326 282.5h1M331 282.5h1M333 282.5h1M343 282.5h1M359 282.5h1M367 282.5h1M369 282.5h2M381 282.5h1M396 282.5h1M413 282.5h1M506 282.5h1M509 282.5h1M515 282.5h1M518 282.5h1M534 299.5h4M550 299.5h2M556 299.5h2M560 299.5h2M566 299.5h2M286 316.5h2M338 316.5h2M342 316.5h6M360 316.5h2M374 316.5h2M378 316.5h2M388 316.5h2M392 316.5h2M406 316.5h4M428 316.5h6M440 316.5h2M444 316.5h2M464 316.5h4M470 316.5h2M474 316.5h4M480 316.5h2M488 316.5h2M512 316.5h2M516 316.5h2M520 316.5h2M568 316.5h2M576 316.5h2M590 316.5h2M596 316.5h2M660 316.5h2M704 316.5h2M708 316.5h2M718 316.5h2M463 333.5h1M479 333.5h1M483 333.5h1M487 333.5h3M495 333.5h1M499 333.5h1M501 333.5h1M505 333.5h1M309 350.5h1M313 350.5h1M507 350.5h2M511 350.5h1M520 350.5h1M522 350.5h1M525 350.5h2M530 350.5h2M533 350.5h1M535 350.5h1M537 350.5h2M540 350.5h1M543 350.5h2M546 350.5h1M548 350.5h1M553 350.5h1M555 350.5h2M560 350.5h2M570 350.5h1M577 350.5h1M581 350.5h1M588 350.5h1M597 350.5h1M599 350.5h1M601 350.5h1M610 350.5h1M617 350.5h1M620 350.5h2M631 350.5h1M638 350.5h1M643 350.5h1M645 350.5h1M651 350.5h2M664 350.5h1M546 385.5h2M560 385.5h2M98 402.5h2M112 402.5h2M234 419.5h2M240 419.5h2M248 419.5h8M266 419.5h2M272 419.5h2M282 419.5h2M286 419.5h2M304 419.5h4M312 419.5h2M316 419.5h2M338 419.5h4M348 419.5h2M360 419.5h2M370 419.5h4M392 419.5h2M402 419.5h2M412 419.5h2M426 419.5h4M176 436.5h6M218 436.5h4M266 436.5h4M580 436.5h4M634 436.5h2M638 436.5h2"/>
<path stroke="#2d2d9d" d="M386 8.5h2M26 25.5h6M34 25.5h2M38 25.5h2M60 25.5h2M80 25.5h4M118 25.5h2M142 25.5h2M252 25.5h2M264 25.5h2M280 25.5h4M288 25.5h4M300 25.5h2M306 25.5h2M314 25.5h4M320 25.5h4M328 25.5h8M476 25.5h2M482 25.5h4M522 25.5h2M116 42.5h2M158 42.5h2M626 42.5h2M638 42.5h2M452 59.5h1M492 59.5h1M498 59.5h1M516 59.5h1M604 59.5h2M609 59.5h1M613 59.5h2M616 59.5h1M618 59.5h1M629 59.5h1M634 59.5h2M645 59.5h2M656 59.5h1M658 59.5h1M0 111.5h4M120 111.5h8M130 111.5h4M136 111.5h4M144 111.5h2M158 111.5h2M260 111.5h2M300 111.5h2M312 111.5h2M322 111.5h2M332 111.5h2M350 111.5h2M380 111.5h2M384 111.5h2M394 111.5h4M400 111.5h2M410 111.5h10M430 111.5h2M470 111.5h2M524 111.5h2M570 111.5h2M576 111.5h4M582 111.5h6M594 111.5h2M618 111.5h2M622 111.5h2M628 111.5h2M634 111.5h2M638 111.5h2M642 111.5h2M654 111.5h2M620 128.5h2M94 145.5h2M110 145.5h4M208 162.5h2M278 162.5h2M284 162.5h4M290 162.5h2M294 162.5h2M300 162.5h2M306 162.5h4M314 162.5h2M318 162.5h4M324 162.5h2M328 162.5h2M336 162.5h6M352 162.5h2M358 162.5h2M362 179.5h2M370 179.5h2M402 179.5h4M416 179.5h4M422 179.5h2M430 179.5h2M438 179.5h2M460 179.5h2M470 179.5h2M502 179.5h2M506 179.5h2M520 179.5h2M610 179.5h4M40 248.5h2M46 248.5h2M56 248.5h4M110 248.5h2M128 248.5h4M134 248.5h2M162 248.5h2M166 248.5h6M178 248.5h2M182 248.5h2M196 248.5h2M238 248.5h4M294 248.5h2M308 248.5h4M318 248.5h10M336 248.5h6M60 265.5h2M64 265.5h6M74 265.5h4M82 265.5h2M94 265.5h6M108 265.5h2M534 316.5h2M614 316.5h2M672 316.5h2M523 333.5h1M525 333.5h1M529 333.5h1M531 333.5h1M552 333.5h1M555 333.5h1M562 385.5h4M568 385.5h2M576 385.5h2M580 385.5h8M590 385.5h4M596 385.5h4M606 385.5h2M36 402.5h4M94 402.5h2M106 402.5h2M110 402.5h2M122 402.5h2M126 402.5h2M176 402.5h2M184 402.5h4M190 402.5h2M200 402.5h2M204 402.5h2M240 402.5h2M246 402.5h2M250 402.5h2M260 402.5h2M270 402.5h2M280 402.5h2M284 402.5h2M498 402.5h2M536 402.5h4M542 402.5h4M582 402.5h4M590 402.5h2M576 419.5h2M604 419.5h4M24 436.5h2M46 436.5h4M74 436.5h4M96 436.5h2M132 436.5h2M138 436.5h2M142 436.5h2M174 436.5h2M0 470.5h2M78 470.5h2M512 470.5h2M516 470.5h2M540 470.5h2M544 470.5h4"/>
<path stroke="#5380c6" d="M504 8.5h2M226 25.5h6M326 25.5h2M368 42.5h4M374 42.5h2M378 42.5h2M410 42.5h4M454 42.5h2M13 59.5h1M19 59.5h1M362 59.5h1M364 59.5h1M375 59.5h1M378 59.5h4M387 59.5h1M389 59.5h1M391 59.5h1M393 59.5h2M397 59.5h1M401 59.5h1M404 59.5h3M412 59.5h1M414 59.5h1M426 59.5h1M450 59.5h1M586 59.5h1M588 59.5h1M616 94.5h2M620 94.5h2M288 111.5h2M292 111.5h2M434 111.5h2M438 111.5h2M12 128.5h6M200 145.5h2M232 145.5h4M126 162.5h2M132 162.5h2M154 162.5h2M162 162.5h2M166 162.5h2M76 179.5h2M84 179.5h2M88 179.5h2M94 179.5h2M102 179.5h2M128 179.5h2M140 179.5h2M154 179.5h2M218 248.5h2M50 282.5h1M55 282.5h2M58 282.5h2M68 282.5h1M70 282.5h1M72 282.5h1M74 282.5h2M80 282.5h1M84 282.5h2M90 282.5h1M96 282.5h1M98 282.5h1M101 282.5h1M106 282.5h1M109 282.5h1M111 282.5h1M113 282.5h1M116 282.5h1M143 282.5h1M185 282.5h3M189 282.5h1M195 282.5h1M250 282.5h1M253 282.5h1M277 282.5h1M285 282.5h1M288 282.5h2M293 282.5h1M301 282.5h1M303 282.5h1M305 282.5h1M312 282.5h1M317 282.5h2M325 282.5h1M327 282.5h1M336 282.5h1M340 282.5h3M352 282.5h1M363 282.5h2M373 282.5h2M378 282.5h3M382 282.5h1M388 282.5h2M394 282.5h1M400 282.5h1M412 282.5h1M420 282.5h1M423 282.5h1M426 282.5h1M494 282.5h1M510 282.5h2M514 282.5h1M519 282.5h1M573 282.5h1M576 299.5h2M630 299.5h2M184 316.5h2M188 316.5h4M208 316.5h2M220 316.5h2M230 316.5h2M238 316.5h4M246 316.5h2M252 316.5h2M256 316.5h2M264 316.5h2M276 316.5h2M292 316.5h2M298 316.5h6M306 316.5h2M312 316.5h2M328 316.5h2M350 316.5h2M18 333.5h1M22 333.5h1M34 333.5h1M49 333.5h1M98 333.5h1M136 333.5h1M412 333.5h1M447 333.5h2M456 333.5h1M459 333.5h1M477 333.5h2M482 333.5h1M485 333.5h2M490 333.5h1M497 333.5h1M500 333.5h1M120 350.5h1M122 350.5h1M125 350.5h2M128 350.5h2M142 350.5h1M145 350.5h1M155 350.5h1M164 350.5h1M167 350.5h1M171 350.5h1M173 350.5h1M189 350.5h1M201 350.5h1M205 350.5h1M211 350.5h1M214 350.5h1M219 350.5h1M227 350.5h2M230 350.5h1M245 350.5h1M248 350.5h1M253 350.5h2M256 350.5h1M261 350.5h1M263 350.5h1M268 350.5h1M284 350.5h1M292 350.5h1M295 350.5h1M299 350.5h4M316 350.5h1M326 350.5h1M328 350.5h1M341 350.5h1M344 350.5h1M346 350.5h1M349 350.5h1M351 350.5h1M358 350.5h1M366 350.5h2M369 350.5h3M375 350.5h1M378 350.5h1M386 350.5h1M389 350.5h1M391 350.5h2M396 350.5h1M400 350.5h1M405 350.5h1M408 350.5h1M419 350.5h2M423 350.5h2M431 350.5h1M438 350.5h2M441 350.5h1M446 350.5h1M449 350.5h2M452 350.5h1M460 350.5h1M464 350.5h1M469 350.5h1M471 350.5h1M480 350.5h1M482 350.5h1M494 350.5h1M497 350.5h1M509 350.5h1M518 350.5h1M523 350.5h1M527 350.5h2M552 350.5h1M564 350.5h1M566 350.5h1M574 350.5h1M580 350.5h1M584 350.5h2M590 350.5h3M596 350.5h1M607 350.5h2M612 350.5h1M614 350.5h2M622 350.5h1M624 350.5h1M627 350.5h2M635 350.5h1M646 350.5h1M649 350.5h1M656 350.5h1M659 350.5h1M140 419.5h2M188 419.5h2M212 419.5h4M220 419.5h2M226 419.5h4M238 419.5h2M242 419.5h2M258 419.5h2M264 419.5h2M268 419.5h2M274 419.5h2M288 419.5h4M298 419.5h4M314 419.5h2M318 419.5h2M330 419.5h2M334 419.5h4M344 419.5h2M350 419.5h2M356 419.5h2M362 419.5h2M366 419.5h4M380 419.5h4M386 419.5h2M390 419.5h2M418 419.5h2M422 419.5h4M288 436.5h4M560 436.5h2M564 436.5h2M496 470.5h4"/>
<path stroke="#5a8ecd" d="M506 8.5h2M510 8.5h2M222 25.5h4M376 42.5h2M398 42.5h4M416 42.5h4M456 42.5h4M18 59.5h1M20 59.5h1M25 59.5h1M35 59.5h2M363 59.5h1M367 59.5h1M390 59.5h1M395 59.5h2M400 59.5h1M402 59.5h2M416 59.5h2M419 59.5h2M429 59.5h2M439 59.5h1M443 59.5h1M523 59.5h1M24 94.5h2M618 94.5h2M290 111.5h2M432 111.5h2M436 111.5h2M454 111.5h2M458 111.5h2M226 145.5h2M108 162.5h4M134 162.5h4M148 162.5h2M176 162.5h2M48 179.5h14M68 179.5h4M210 248.5h4M220 248.5h1M53 282.5h1M61 282.5h1M65 282.5h1M69 282.5h1M78 282.5h1M89 282.5h1M92 282.5h2M100 282.5h1M105 282.5h1M107 282.5h2M110 282.5h1M114 282.5h1M118 282.5h2M137 282.5h1M182 282.5h1M188 282.5h1M194 282.5h1M228 282.5h3M232 282.5h1M239 282.5h1M242 282.5h5M252 282.5h1M255 282.5h1M258 282.5h1M265 282.5h2M271 282.5h1M273 282.5h1M297 282.5h2M307 282.5h1M311 282.5h1M316 282.5h1M319 282.5h2M324 282.5h1M328 282.5h1M330 282.5h1M332 282.5h1M338 282.5h1M345 282.5h1M348 282.5h4M357 282.5h1M375 282.5h1M383 282.5h1M390 282.5h1M393 282.5h1M402 282.5h1M417 282.5h1M422 282.5h1M425 282.5h1M428 282.5h1M486 282.5h1M489 282.5h1M495 282.5h1M503 282.5h1M507 282.5h1M513 282.5h1M516 282.5h1M569 282.5h4M38 299.5h2M574 299.5h2M578 299.5h4M610 299.5h2M624 299.5h2M628 299.5h2M672 299.5h2M2 316.5h2M196 316.5h6M210 316.5h2M216 316.5h4M224 316.5h2M232 316.5h2M248 316.5h4M254 316.5h2M262 316.5h2M266 316.5h4M272 316.5h4M280 316.5h4M288 316.5h4M294 316.5h4M304 316.5h2M310 316.5h2M318 316.5h2M322 316.5h6M574 316.5h2M14 333.5h1M21 333.5h1M23 333.5h1M29 333.5h1M43 333.5h1M54 333.5h1M57 333.5h1M61 333.5h2M64 333.5h1M66 333.5h1M68 333.5h1M71 333.5h1M77 333.5h1M93 333.5h2M109 333.5h1M111 333.5h1M118 333.5h1M134 333.5h1M225 333.5h1M317 333.5h1M348 333.5h1M442 333.5h1M444 333.5h2M454 333.5h2M458 333.5h1M461 333.5h1M464 333.5h1M467 333.5h1M472 333.5h1M474 333.5h1M476 333.5h1M480 333.5h2M494 333.5h1M124 350.5h1M133 350.5h1M137 350.5h2M143 350.5h1M147 350.5h1M149 350.5h1M154 350.5h1M157 350.5h1M165 350.5h2M168 350.5h1M175 350.5h2M179 350.5h1M181 350.5h2M184 350.5h1M186 350.5h1M190 350.5h1M193 350.5h1M195 350.5h1M198 350.5h1M208 350.5h1M216 350.5h1M223 350.5h1M225 350.5h1M229 350.5h1M234 350.5h1M238 350.5h1M240 350.5h1M249 350.5h1M260 350.5h1M266 350.5h2M272 350.5h1M279 350.5h1M281 350.5h1M297 350.5h2M303 350.5h2M310 350.5h1M312 350.5h1M321 350.5h1M324 350.5h2M329 350.5h1M337 350.5h1M352 350.5h1M354 350.5h1M357 350.5h1M362 350.5h2M377 350.5h1M379 350.5h2M382 350.5h1M385 350.5h1M387 350.5h1M393 350.5h1M401 350.5h1M404 350.5h1M410 350.5h5M427 350.5h1M430 350.5h1M432 350.5h3M442 350.5h3M448 350.5h1M451 350.5h1M455 350.5h3M459 350.5h1M468 350.5h1M472 350.5h1M474 350.5h1M476 350.5h1M483 350.5h1M489 350.5h1M492 350.5h1M496 350.5h1M498 350.5h2M504 350.5h1M514 350.5h1M517 350.5h1M657 350.5h1M66 402.5h6M128 419.5h2M136 419.5h2M152 419.5h2M156 419.5h4M172 419.5h2M184 419.5h4M190 419.5h6M198 419.5h2M202 419.5h8M216 419.5h2M224 419.5h2M236 419.5h2M278 419.5h2M308 419.5h4M342 419.5h2M346 419.5h2M358 419.5h2M384 419.5h2M396 419.5h4M430 419.5h2M292 436.5h2M562 436.5h2M646 436.5h4M39 470.5h1"/>
<path stroke="#619dd4" d="M512 8.5h2M516 8.5h2M396 42.5h2M402 42.5h6M452 42.5h2M12 59.5h1M23 59.5h2M27 59.5h1M32 59.5h1M34 59.5h1M39 59.5h1M320 59.5h1M324 59.5h2M329 59.5h1M331 59.5h1M334 59.5h2M365 59.5h2M372 59.5h1M376 59.5h2M382 59.5h4M388 59.5h1M392 59.5h1M399 59.5h1M407 59.5h1M410 59.5h1M415 59.5h1M428 59.5h1M432 59.5h1M436 59.5h2M440 59.5h2M444 59.5h2M447 59.5h2M26 94.5h2M460 111.5h2M6 145.5h2M614 145.5h2M70 162.5h4M118 162.5h2M128 162.5h4M40 179.5h8M62 179.5h6M72 179.5h2M48 282.5h2M64 282.5h1M67 282.5h1M71 282.5h1M76 282.5h1M87 282.5h1M104 282.5h1M112 282.5h1M124 282.5h1M126 282.5h1M129 282.5h1M131 282.5h1M136 282.5h1M158 282.5h1M165 282.5h1M172 282.5h1M174 282.5h1M184 282.5h1M190 282.5h1M224 282.5h1M227 282.5h1M231 282.5h1M235 282.5h1M237 282.5h1M249 282.5h1M256 282.5h2M263 282.5h2M269 282.5h1M272 282.5h1M282 282.5h1M287 282.5h1M290 282.5h1M295 282.5h1M300 282.5h1M308 282.5h1M310 282.5h1M314 282.5h2M323 282.5h1M337 282.5h1M339 282.5h1M346 282.5h2M355 282.5h1M358 282.5h1M368 282.5h1M387 282.5h1M401 282.5h1M404 282.5h1M407 282.5h1M409 282.5h1M414 282.5h1M418 282.5h2M421 282.5h1M429 282.5h1M431 282.5h1M439 282.5h1M483 282.5h2M488 282.5h1M490 282.5h1M499 282.5h1M501 282.5h2M575 282.5h1M40 299.5h1M56 299.5h2M68 299.5h2M82 299.5h2M98 299.5h2M112 299.5h4M588 299.5h2M592 299.5h2M612 299.5h2M90 316.5h2M156 316.5h2M186 316.5h2M192 316.5h4M202 316.5h2M206 316.5h2M212 316.5h2M222 316.5h2M228 316.5h2M332 316.5h2M17 333.5h1M20 333.5h1M24 333.5h2M28 333.5h1M30 333.5h1M32 333.5h1M36 333.5h2M39 333.5h1M50 333.5h1M53 333.5h1M55 333.5h1M60 333.5h1M65 333.5h1M73 333.5h2M79 333.5h1M83 333.5h1M85 333.5h1M87 333.5h1M96 333.5h2M102 333.5h2M113 333.5h1M117 333.5h1M125 333.5h2M129 333.5h2M132 333.5h1M140 333.5h2M143 333.5h1M145 333.5h3M154 333.5h1M156 333.5h1M160 333.5h1M170 333.5h2M177 333.5h1M180 333.5h1M184 333.5h3M194 333.5h1M216 333.5h1M218 333.5h1M233 333.5h1M238 333.5h2M248 333.5h1M254 333.5h1M264 333.5h3M287 333.5h1M296 333.5h1M301 333.5h1M324 333.5h1M329 333.5h1M335 333.5h1M361 333.5h1M363 333.5h1M376 333.5h1M392 333.5h1M400 333.5h1M406 333.5h1M411 333.5h1M414 333.5h1M416 333.5h1M425 333.5h3M433 333.5h2M439 333.5h2M446 333.5h1M450 333.5h1M452 333.5h1M457 333.5h1M460 333.5h1M468 333.5h1M470 333.5h1M473 333.5h1M31 350.5h1M88 350.5h1M92 350.5h1M104 350.5h1M108 350.5h1M110 350.5h1M123 350.5h1M127 350.5h1M134 350.5h1M136 350.5h1M148 350.5h1M153 350.5h1M158 350.5h1M162 350.5h1M172 350.5h1M177 350.5h2M188 350.5h1M191 350.5h2M194 350.5h1M196 350.5h2M207 350.5h1M210 350.5h1M215 350.5h1M218 350.5h1M220 350.5h1M222 350.5h1M233 350.5h1M239 350.5h1M244 350.5h1M247 350.5h1M259 350.5h1M265 350.5h1M271 350.5h1M273 350.5h1M277 350.5h2M280 350.5h1M283 350.5h1M286 350.5h5M305 350.5h2M311 350.5h1M317 350.5h2M322 350.5h2M330 350.5h1M333 350.5h1M338 350.5h1M342 350.5h1M353 350.5h1M364 350.5h2M368 350.5h1M374 350.5h1M383 350.5h1M388 350.5h1M395 350.5h1M397 350.5h1M399 350.5h1M403 350.5h1M406 350.5h1M409 350.5h1M416 350.5h1M422 350.5h1M426 350.5h1M428 350.5h2M436 350.5h1M440 350.5h1M445 350.5h1M447 350.5h1M453 350.5h2M462 350.5h1M475 350.5h1M477 350.5h1M481 350.5h1M484 350.5h1M486 350.5h1M488 350.5h1M491 350.5h1M495 350.5h1M501 350.5h1M503 350.5h1M532 350.5h1M587 350.5h1M647 350.5h1M22 419.5h2M124 419.5h4M138 419.5h2M144 419.5h2M154 419.5h2M170 419.5h2M174 419.5h2M180 419.5h4M200 419.5h2M222 419.5h2M276 419.5h2M202 436.5h2M650 436.5h4M170 453.5h2M40 470.5h1"/>
<path stroke="#6e0c00" d="M523 8.5h15M541 8.5h5M588 8.5h2M590 8.5h2M170 25.5h6M176 25.5h6M182 25.5h2M184 25.5h4M188 25.5h2M496 42.5h4M500 42.5h2M502 42.5h2M504 42.5h2M506 42.5h2M508 42.5h2M510 42.5h4M514 42.5h2M516 42.5h2M518 42.5h2M527 59.5h1M528 59.5h1M529 59.5h1M530 59.5h1M531 59.5h1M532 59.5h1M533 59.5h1M534 59.5h4M538 59.5h1M539 59.5h1M521 94.5h1M522 94.5h6M528 94.5h2M530 94.5h2M532 94.5h6M538 94.5h2M540 94.5h1M43 145.5h1M44 145.5h4M48 145.5h2M50 145.5h11M521 145.5h1M522 145.5h4M526 145.5h2M528 145.5h4M532 145.5h4M536 145.5h2M538 145.5h2M540 145.5h2M542 145.5h2M544 145.5h8M559 145.5h1M560 145.5h6M566 145.5h4M570 145.5h8M582 145.5h2M584 145.5h8M592 145.5h1M616 145.5h4M620 145.5h2M622 145.5h4M661 145.5h7M668 145.5h2M670 145.5h1M522 179.5h10M532 179.5h2M534 179.5h4M538 179.5h2M540 179.5h2M522 231.5h8M530 231.5h6M536 231.5h2M538 231.5h2M540 231.5h2M542 231.5h2M544 231.5h2M549 231.5h1M550 231.5h6M556 231.5h2M558 231.5h6M564 231.5h2M566 231.5h6M21 299.5h1M22 299.5h2M24 299.5h10M170 299.5h2M172 299.5h1M650 299.5h2M652 299.5h2M654 299.5h4M658 299.5h2M666 350.5h2M668 350.5h6M674 350.5h2M676 350.5h12M688 350.5h2M690 350.5h3M216 385.5h6M222 385.5h2M224 385.5h8M338 436.5h6M344 436.5h2M346 436.5h6M352 436.5h4M356 436.5h4M360 436.5h2M362 436.5h8M370 436.5h2M372 436.5h10M514 436.5h2M516 436.5h4M434 470.5h2M436 470.5h2M438 470.5h2M440 470.5h4M450 470.5h2M452 470.5h6M458 470.5h2M460 470.5h3"/>
<path stroke="#c41706" d="M538 8.5h2M552 8.5h1M592 8.5h2M541 59.5h1M578 59.5h1M33 145.5h3M678 145.5h2M180 196.5h2M624 196.5h4M572 231.5h3M694 350.5h1M412 436.5h2"/>
<path stroke="#d52008" d="M540 8.5h1M554 8.5h2M570 8.5h4M584 8.5h4M594 8.5h4M192 25.5h2M196 25.5h6M582 59.5h1M540 111.5h1M546 111.5h2M552 111.5h2M36 145.5h1M676 145.5h2M528 162.5h1M172 196.5h2M184 196.5h2M304 196.5h2M310 196.5h2M709 196.5h1M548 231.5h1M537 282.5h1M539 282.5h1M50 316.5h2M695 350.5h1M698 350.5h1M702 350.5h1M232 385.5h3M56 402.5h2M388 436.5h4M394 436.5h2M408 436.5h4M414 436.5h6M424 436.5h2M428 436.5h2M458 436.5h2M484 436.5h2M504 436.5h2M510 436.5h4"/>
<path stroke="#740c00" d="M546 8.5h2M541 111.5h1M620 196.5h4"/>
<path stroke="#860e02" d="M548 8.5h2M156 25.5h4M164 25.5h2M542 111.5h4M693 350.5h1M494 436.5h6"/>
<path stroke="#e6290b" d="M550 8.5h2M553 8.5h1M556 8.5h2M574 8.5h2M579 8.5h3M190 25.5h2M548 111.5h4M700 145.5h2M526 162.5h2M164 196.5h4M176 196.5h4M306 196.5h2M636 196.5h2M656 196.5h2M712 196.5h6M546 231.5h2M576 231.5h3M542 282.5h1M48 316.5h2M52 316.5h2M696 350.5h1M700 350.5h1M703 350.5h1M705 350.5h1M386 436.5h2M392 436.5h2M396 436.5h4M426 436.5h2M430 436.5h8M460 436.5h2M482 436.5h2M486 436.5h2M490 436.5h4M502 436.5h2M506 436.5h4M425 470.5h1M428 470.5h6M444 470.5h6M463 470.5h1M466 470.5h1"/>
<path stroke="#fece14" d="M558 8.5h3M564 8.5h4M578 8.5h1M88 25.5h2M524 59.5h2M543 59.5h1M559 59.5h1M583 59.5h1M330 145.5h3M594 145.5h2M684 145.5h2M530 162.5h3M44 196.5h2M160 196.5h4M236 196.5h2M302 196.5h2M325 196.5h1M346 196.5h1M348 196.5h1M355 196.5h1M608 196.5h4M450 299.5h2M54 316.5h2M710 350.5h2M440 436.5h2M476 436.5h6M714 436.5h1M718 436.5h1"/>
<path stroke="#fda014" d="M561 8.5h3M584 59.5h1M24 145.5h2M649 145.5h1M695 145.5h1M552 179.5h2M38 196.5h2M328 196.5h2M332 196.5h2M347 196.5h1M349 196.5h1M352 196.5h1M356 196.5h1M632 196.5h2M584 231.5h2M34 299.5h2M173 299.5h1M712 350.5h1M714 350.5h1M53 402.5h1M464 436.5h2M468 436.5h2M692 436.5h6M467 470.5h3"/>
<path stroke="#ef370e" d="M568 8.5h2M194 25.5h2M542 59.5h1M579 59.5h1M541 94.5h3M678 94.5h6M698 94.5h2M537 111.5h3M40 145.5h1M698 145.5h2M168 196.5h2M174 196.5h2M638 196.5h2M644 196.5h4M654 196.5h2M658 196.5h4M710 196.5h2M718 196.5h2M575 231.5h1M538 282.5h1M543 282.5h1M697 350.5h1M701 350.5h1M704 350.5h1M382 436.5h4M400 436.5h4M462 436.5h2M488 436.5h2M426 470.5h2M464 470.5h2"/>
<path stroke="#fdde18" d="M576 8.5h2M598 8.5h2M672 8.5h6M87 25.5h1M153 25.5h3M202 25.5h2M210 25.5h2M520 42.5h3M544 59.5h1M556 59.5h2M574 59.5h1M577 59.5h1M686 94.5h2M690 94.5h2M704 94.5h4M28 145.5h2M555 145.5h3M593 145.5h1M626 145.5h2M708 145.5h4M529 162.5h1M34 196.5h4M46 196.5h2M152 196.5h2M188 196.5h2M230 196.5h2M300 196.5h2M322 196.5h1M324 196.5h1M334 196.5h2M338 196.5h1M340 196.5h1M344 196.5h2M353 196.5h1M364 196.5h2M670 196.5h1M675 196.5h1M679 196.5h1M681 196.5h1M685 196.5h1M687 196.5h2M693 196.5h2M704 196.5h1M528 282.5h1M531 282.5h1M448 299.5h2M660 299.5h2M336 436.5h2M420 436.5h4M456 436.5h2M474 436.5h2M698 436.5h3M703 436.5h1M706 436.5h1M710 436.5h2M713 436.5h1M61 470.5h3M476 470.5h2"/>
<path stroke="#fa6a14" d="M582 8.5h2M62 145.5h1M333 145.5h3M524 162.5h2M234 196.5h2M614 196.5h2M628 196.5h2M706 196.5h3M533 282.5h1M706 350.5h1M520 436.5h4"/>
<path stroke="#f9e71e" d="M600 8.5h2M575 59.5h1M638 94.5h2M27 145.5h1M558 145.5h1M580 145.5h2M628 145.5h1M653 145.5h1M671 145.5h3M48 196.5h2M114 196.5h2M190 196.5h2M321 196.5h1M331 196.5h1M336 196.5h1M358 196.5h1M665 196.5h2M673 196.5h1M676 196.5h2M682 196.5h2M692 196.5h1M695 196.5h1M699 196.5h3M705 196.5h1M48 299.5h2M118 299.5h2M56 316.5h1M716 350.5h1M719 350.5h1M438 436.5h2M452 436.5h4M526 436.5h2M702 436.5h1M704 436.5h1M708 436.5h2M712 436.5h1M716 436.5h1M478 470.5h2"/>
<path stroke="#c6e453" d="M602 8.5h6M644 8.5h2M650 8.5h2M668 8.5h2M546 59.5h1M549 59.5h2M562 59.5h1M566 59.5h1M41 145.5h1M63 145.5h1M338 145.5h4M714 145.5h2M718 145.5h2M550 179.5h2M54 196.5h2M72 196.5h2M86 196.5h6M108 196.5h2M124 196.5h2M194 196.5h2M198 196.5h4M204 196.5h4M216 196.5h2M220 196.5h2M238 196.5h2M244 196.5h4M256 196.5h2M266 196.5h2M282 196.5h2M290 196.5h2M372 196.5h2M396 196.5h2M402 196.5h2M406 196.5h10M418 196.5h4M432 196.5h2M450 196.5h4M468 196.5h2M480 196.5h2M498 196.5h2M516 196.5h2M526 196.5h2M530 196.5h4M556 196.5h2M564 196.5h4M580 196.5h2M588 196.5h6M598 196.5h6M594 231.5h2M551 282.5h1M644 299.5h2M50 402.5h3M184 436.5h2M188 436.5h1M444 436.5h8M676 436.5h2M686 436.5h2M41 470.5h1"/>
<path stroke="#8ed7d1" d="M612 8.5h8M636 8.5h2M658 8.5h2M84 25.5h2M150 25.5h2M22 42.5h2M26 42.5h2M32 42.5h2M650 42.5h4M11 59.5h1M43 59.5h1M72 59.5h1M74 59.5h1M76 59.5h1M81 59.5h1M88 59.5h1M101 59.5h1M107 59.5h1M131 59.5h1M135 59.5h1M138 59.5h1M143 59.5h1M165 59.5h2M171 59.5h1M175 59.5h1M177 59.5h1M194 59.5h1M198 59.5h1M203 59.5h1M218 59.5h1M224 59.5h1M226 59.5h1M230 59.5h1M234 59.5h1M242 59.5h1M245 59.5h2M255 59.5h1M261 59.5h1M265 59.5h1M270 59.5h1M276 59.5h1M292 59.5h1M298 59.5h1M302 59.5h1M304 59.5h1M306 59.5h1M311 59.5h1M314 59.5h1M637 59.5h1M596 94.5h4M712 94.5h2M716 94.5h2M8 128.5h4M523 128.5h3M532 128.5h1M364 145.5h2M368 145.5h2M629 145.5h1M657 145.5h3M2 162.5h2M10 179.5h2M20 196.5h2M44 231.5h4M104 231.5h2M108 231.5h2M112 231.5h2M122 231.5h4M130 231.5h2M136 231.5h2M144 231.5h2M150 231.5h4M156 231.5h2M162 231.5h2M166 231.5h2M174 231.5h2M184 231.5h4M192 231.5h2M200 231.5h2M208 231.5h2M238 231.5h2M246 231.5h2M268 231.5h2M302 231.5h2M318 231.5h4M330 231.5h2M344 231.5h2M362 231.5h2M368 231.5h4M376 231.5h10M388 231.5h4M394 231.5h4M400 231.5h2M410 231.5h8M438 231.5h2M448 231.5h2M454 231.5h2M460 231.5h2M472 231.5h4M480 231.5h2M496 231.5h2M500 231.5h2M504 231.5h2M510 231.5h2M514 231.5h8M606 231.5h2M680 231.5h2M684 231.5h2M688 231.5h2M692 231.5h2M698 231.5h2M704 231.5h8M716 231.5h4M0 282.5h1M3 282.5h1M11 282.5h1M13 282.5h1M17 282.5h2M35 282.5h1M127 282.5h1M197 282.5h2M211 282.5h1M442 282.5h1M455 282.5h1M460 282.5h1M462 282.5h1M466 282.5h1M469 282.5h1M523 282.5h1M556 282.5h1M564 282.5h1M224 299.5h4M372 299.5h2M422 299.5h2M428 299.5h2M436 299.5h2M30 316.5h2M34 316.5h2M38 316.5h2M132 316.5h2M140 316.5h4M0 333.5h1M4 333.5h1M260 333.5h1M6 350.5h1M36 350.5h1M550 385.5h2M554 385.5h4M0 402.5h2M10 436.5h1M276 436.5h2M300 436.5h4M308 436.5h8M322 436.5h2M326 436.5h2M626 436.5h8M256 453.5h2M320 453.5h2M444 453.5h2M468 453.5h2M476 453.5h4M486 453.5h2M496 453.5h6M516 453.5h2M560 453.5h2M566 453.5h2M594 453.5h2M688 453.5h2M706 453.5h2M710 453.5h2M22 470.5h2"/>
<path stroke="#b4e06e" d="M638 8.5h2M648 8.5h2M666 8.5h2M670 8.5h2M680 8.5h2M561 59.5h1M608 94.5h2M612 94.5h2M692 94.5h2M560 111.5h1M56 196.5h4M76 196.5h2M102 196.5h6M116 196.5h2M132 196.5h2M142 196.5h4M150 196.5h2M192 196.5h2M196 196.5h2M208 196.5h2M222 196.5h2M226 196.5h2M240 196.5h2M250 196.5h4M258 196.5h2M264 196.5h2M276 196.5h4M286 196.5h2M424 196.5h2M438 196.5h6M448 196.5h2M456 196.5h2M496 196.5h2M500 196.5h6M514 196.5h2M520 196.5h2M524 196.5h2M528 196.5h2M534 196.5h2M538 196.5h4M546 196.5h2M550 196.5h2M562 196.5h2M568 196.5h2M576 196.5h4M582 196.5h6M594 196.5h2M604 196.5h4M593 231.5h1M441 282.5h1M552 282.5h1M648 299.5h2M0 385.5h2M6 436.5h2M592 436.5h2M596 436.5h2M600 436.5h2M618 436.5h6M60 470.5h1"/>
<path stroke="#addf7b" d="M640 8.5h4M678 8.5h2M90 25.5h2M94 25.5h5M28 42.5h4M530 42.5h4M642 42.5h2M564 94.5h2M568 94.5h6M606 94.5h2M610 94.5h2M626 94.5h2M640 94.5h2M644 94.5h2M694 94.5h2M16 111.5h4M557 111.5h1M344 145.5h2M348 145.5h2M358 145.5h2M596 145.5h2M74 196.5h2M94 196.5h2M98 196.5h2M110 196.5h2M134 196.5h4M140 196.5h2M260 196.5h2M270 196.5h4M430 196.5h2M447 282.5h1M553 282.5h2M210 299.5h2M456 299.5h2M2 385.5h1M4 436.5h2M328 436.5h6M540 436.5h2M544 436.5h2M594 436.5h2M602 436.5h2M664 436.5h4M670 436.5h6M59 470.5h1"/>
<path stroke="#bce260" d="M646 8.5h2M547 59.5h1M560 59.5h1M565 59.5h1M42 145.5h1M342 145.5h2M548 179.5h2M52 196.5h2M60 196.5h6M78 196.5h6M92 196.5h2M96 196.5h2M100 196.5h2M118 196.5h4M128 196.5h4M138 196.5h2M146 196.5h4M202 196.5h2M210 196.5h2M218 196.5h2M224 196.5h2M228 196.5h2M248 196.5h2M254 196.5h2M262 196.5h2M268 196.5h2M274 196.5h2M280 196.5h2M284 196.5h2M288 196.5h2M370 196.5h2M392 196.5h4M400 196.5h2M416 196.5h2M422 196.5h2M426 196.5h4M446 196.5h2M460 196.5h2M464 196.5h4M472 196.5h4M478 196.5h2M482 196.5h2M490 196.5h2M508 196.5h4M522 196.5h2M536 196.5h2M542 196.5h2M548 196.5h2M552 196.5h4M558 196.5h4M570 196.5h4M596 196.5h2M555 282.5h1M638 299.5h6M646 299.5h2M186 436.5h2M442 436.5h2M604 436.5h4M614 436.5h2M668 436.5h2M678 436.5h8M42 470.5h4M480 470.5h3"/>
<path stroke="#f2eb24" d="M652 8.5h4M204 25.5h6M212 25.5h2M526 59.5h1M554 59.5h1M569 59.5h1M573 59.5h1M632 94.5h6M684 94.5h2M688 94.5h2M37 145.5h2M352 145.5h4M578 145.5h2M654 145.5h2M674 145.5h2M686 145.5h4M30 196.5h2M66 196.5h4M112 196.5h2M212 196.5h2M292 196.5h2M327 196.5h1M343 196.5h1M362 196.5h2M612 196.5h2M672 196.5h1M684 196.5h1M690 196.5h1M697 196.5h2M529 282.5h2M544 282.5h1M45 299.5h3M440 299.5h4M452 299.5h2M665 350.5h1M718 350.5h1M58 402.5h2M524 436.5h2M705 436.5h1M715 436.5h1M717 436.5h1M421 470.5h4M470 470.5h2"/>
<path stroke="#262298" d="M40 25.5h2M50 25.5h6M66 25.5h2M70 25.5h2M78 25.5h2M250 25.5h2M256 25.5h2M260 25.5h4M266 25.5h10M278 25.5h2M472 25.5h4M480 25.5h2M486 25.5h2M530 25.5h2M542 25.5h2M548 25.5h2M554 25.5h4M562 25.5h4M702 42.5h4M593 59.5h1M597 59.5h1M601 59.5h3M607 59.5h1M615 59.5h1M623 59.5h2M642 59.5h1M647 59.5h1M649 59.5h1M657 59.5h1M8 111.5h1M58 111.5h2M78 111.5h6M90 111.5h2M98 111.5h6M106 111.5h2M128 111.5h2M140 111.5h2M146 111.5h2M150 111.5h2M248 111.5h2M264 111.5h2M268 111.5h6M402 111.5h2M406 111.5h4M562 111.5h2M568 111.5h2M592 111.5h2M612 111.5h4M624 111.5h2M630 111.5h4M644 111.5h4M658 111.5h4M670 111.5h2M678 111.5h2M686 111.5h4M692 111.5h2M696 111.5h2M28 128.5h6M36 128.5h2M560 128.5h8M570 128.5h8M616 128.5h4M622 128.5h2M92 145.5h2M106 145.5h2M114 145.5h2M164 145.5h2M168 145.5h6M364 162.5h4M544 162.5h2M364 179.5h2M462 179.5h2M466 179.5h4M474 179.5h2M488 179.5h4M496 179.5h2M508 179.5h2M512 179.5h2M516 179.5h4M692 179.5h4M714 179.5h2M52 248.5h2M116 248.5h2M132 248.5h2M136 248.5h6M164 248.5h2M172 248.5h6M244 248.5h2M312 248.5h4M332 248.5h2M62 265.5h2M78 265.5h2M102 265.5h4M110 265.5h2M114 265.5h2M520 333.5h3M526 333.5h1M535 333.5h1M537 333.5h3M541 333.5h1M546 333.5h4M551 333.5h1M553 333.5h2M252 385.5h1M566 385.5h2M570 385.5h6M578 385.5h2M588 385.5h2M594 385.5h2M600 385.5h6M130 402.5h2M172 402.5h4M182 402.5h2M198 402.5h2M232 402.5h8M244 402.5h2M248 402.5h2M256 402.5h4M262 402.5h2M266 402.5h4M272 402.5h8M492 402.5h2M496 402.5h2M76 470.5h2M536 470.5h4M542 470.5h2M548 470.5h4"/>
<path stroke="#201b90" d="M42 25.5h8M144 25.5h2M248 25.5h2M254 25.5h2M258 25.5h2M276 25.5h2M404 25.5h2M466 25.5h2M478 25.5h2M524 25.5h6M532 25.5h10M546 25.5h2M558 25.5h2M566 25.5h2M570 25.5h2M686 25.5h2M680 42.5h10M692 42.5h4M698 42.5h4M706 42.5h4M712 42.5h8M595 59.5h2M610 59.5h1M620 59.5h3M632 59.5h2M643 59.5h2M648 59.5h1M650 59.5h1M652 59.5h1M655 59.5h1M46 94.5h2M60 94.5h2M64 94.5h4M84 94.5h4M90 94.5h2M110 94.5h8M40 111.5h2M44 111.5h2M50 111.5h4M62 111.5h4M68 111.5h8M84 111.5h4M92 111.5h4M108 111.5h4M116 111.5h2M252 111.5h8M262 111.5h2M266 111.5h2M274 111.5h2M404 111.5h2M486 111.5h2M528 111.5h2M616 111.5h2M626 111.5h2M636 111.5h2M648 111.5h2M656 111.5h2M666 111.5h2M672 111.5h2M676 111.5h2M680 111.5h4M704 111.5h2M710 111.5h2M714 111.5h6M34 128.5h2M568 128.5h2M578 128.5h2M590 128.5h2M596 128.5h2M628 128.5h2M68 145.5h4M78 145.5h4M102 145.5h4M120 145.5h2M166 145.5h2M174 145.5h2M394 145.5h2M360 162.5h4M378 162.5h2M386 162.5h2M476 162.5h2M490 162.5h2M514 162.5h2M548 162.5h4M472 179.5h2M480 179.5h2M486 179.5h2M500 179.5h2M510 179.5h2M514 179.5h2M630 179.5h2M636 179.5h2M696 179.5h2M700 179.5h4M48 248.5h4M62 248.5h2M142 248.5h2M292 248.5h2M296 248.5h4M316 248.5h2M100 265.5h2M106 265.5h2M112 265.5h2M249 385.5h3M24 402.5h8M168 402.5h4M178 402.5h4M192 402.5h6M220 402.5h4M242 402.5h2M254 402.5h2M264 402.5h2M336 402.5h2M384 402.5h2M422 402.5h2M506 402.5h2M586 402.5h2M529 470.5h1M552 470.5h8M562 470.5h2M624 470.5h4"/>
<path stroke="#1a1688" d="M56 25.5h4M62 25.5h4M68 25.5h2M148 25.5h2M342 25.5h2M354 25.5h2M378 25.5h2M394 25.5h4M400 25.5h2M412 25.5h2M418 25.5h2M440 25.5h6M454 25.5h4M468 25.5h2M544 25.5h2M550 25.5h4M560 25.5h2M568 25.5h2M578 25.5h2M582 25.5h6M596 25.5h4M602 25.5h2M616 25.5h4M622 25.5h2M628 25.5h2M634 25.5h2M638 25.5h6M654 25.5h2M658 25.5h2M662 25.5h6M674 25.5h4M696 25.5h2M702 25.5h4M710 25.5h2M716 25.5h2M690 42.5h2M696 42.5h2M710 42.5h2M598 59.5h1M600 59.5h1M626 59.5h1M630 59.5h1M639 59.5h2M659 59.5h1M44 94.5h2M50 94.5h2M58 94.5h2M68 94.5h4M74 94.5h2M80 94.5h4M88 94.5h2M92 94.5h2M96 94.5h8M118 94.5h2M42 111.5h2M46 111.5h4M54 111.5h4M60 111.5h2M66 111.5h2M76 111.5h2M88 111.5h2M96 111.5h2M104 111.5h2M112 111.5h4M118 111.5h2M250 111.5h2M278 111.5h2M484 111.5h2M521 111.5h3M526 111.5h2M530 111.5h2M620 111.5h2M650 111.5h4M662 111.5h4M668 111.5h2M674 111.5h2M690 111.5h2M694 111.5h2M698 111.5h6M706 111.5h2M712 111.5h2M580 128.5h10M592 128.5h2M598 128.5h2M626 128.5h2M630 128.5h8M72 145.5h6M84 145.5h2M100 145.5h2M116 145.5h4M124 145.5h2M392 145.5h2M396 145.5h2M400 145.5h2M368 162.5h10M390 162.5h2M398 162.5h4M404 162.5h2M410 162.5h2M416 162.5h2M422 162.5h2M426 162.5h6M434 162.5h2M440 162.5h4M446 162.5h2M450 162.5h2M454 162.5h6M462 162.5h6M470 162.5h2M474 162.5h2M482 162.5h2M504 162.5h2M518 162.5h2M546 162.5h2M504 179.5h2M624 179.5h2M638 179.5h2M648 179.5h2M664 179.5h2M670 179.5h2M674 179.5h2M680 179.5h2M686 179.5h2M690 179.5h2M704 179.5h2M716 179.5h4M60 248.5h2M250 248.5h2M262 248.5h2M270 248.5h6M286 248.5h2M300 248.5h2M304 248.5h2M116 265.5h2M122 265.5h2M128 265.5h4M142 265.5h2M534 333.5h1M543 333.5h1M210 402.5h10M224 402.5h8M316 402.5h2M340 402.5h2M344 402.5h2M350 402.5h2M380 402.5h4M386 402.5h2M412 402.5h4M418 402.5h4M504 402.5h2M520 402.5h4M546 402.5h4M556 402.5h2M562 402.5h6M574 402.5h4M588 402.5h2M532 470.5h4M560 470.5h2"/>
<path stroke="#a6dd8b" d="M92 25.5h2M526 42.5h2M558 94.5h2M562 94.5h2M566 94.5h2M574 94.5h2M614 94.5h2M628 94.5h2M642 94.5h2M22 111.5h2M558 111.5h2M346 145.5h2M350 145.5h2M598 145.5h2M564 179.5h1M206 299.5h2M406 299.5h2M458 299.5h4M58 316.5h4M3 436.5h1M318 436.5h2M534 436.5h6M542 436.5h2M598 436.5h2M464 453.5h4"/>
<path stroke="#e6e92f" d="M128 25.5h4M36 42.5h4M545 59.5h1M552 59.5h1M555 59.5h1M558 59.5h1M568 59.5h1M546 94.5h2M356 145.5h2M362 145.5h1M656 145.5h1M704 145.5h2M546 179.5h2M24 196.5h2M28 196.5h2M214 196.5h2M294 196.5h2M298 196.5h2M320 196.5h1M667 196.5h3M674 196.5h1M680 196.5h1M686 196.5h1M696 196.5h1M590 231.5h3M545 282.5h1M547 282.5h3M454 299.5h2M717 350.5h1M240 385.5h1M44 402.5h2M608 436.5h2M612 436.5h2M701 436.5h1M707 436.5h1M719 436.5h1M406 453.5h2M64 470.5h3M472 470.5h1"/>
<path stroke="#141080" d="M146 25.5h2M336 25.5h6M346 25.5h8M356 25.5h6M372 25.5h6M380 25.5h4M388 25.5h2M392 25.5h2M402 25.5h2M406 25.5h4M416 25.5h2M420 25.5h6M428 25.5h2M434 25.5h6M446 25.5h2M452 25.5h2M460 25.5h4M588 25.5h8M600 25.5h2M604 25.5h8M620 25.5h2M630 25.5h2M636 25.5h2M646 25.5h8M656 25.5h2M660 25.5h2M668 25.5h2M678 25.5h4M684 25.5h2M692 25.5h4M698 25.5h4M706 25.5h4M714 25.5h2M718 25.5h2M641 59.5h1M653 59.5h2M48 94.5h2M52 94.5h6M62 94.5h2M72 94.5h2M76 94.5h4M94 94.5h2M684 111.5h2M708 111.5h2M550 128.5h6M594 128.5h2M624 128.5h2M638 128.5h2M82 145.5h2M122 145.5h2M382 162.5h2M396 162.5h2M406 162.5h2M414 162.5h2M420 162.5h2M432 162.5h2M438 162.5h2M448 162.5h2M460 162.5h2M472 162.5h2M484 162.5h2M488 162.5h2M494 162.5h2M508 162.5h6M626 179.5h2M632 179.5h2M640 179.5h2M658 179.5h2M662 179.5h2M668 179.5h2M672 179.5h2M678 179.5h2M698 179.5h2M706 179.5h8M64 248.5h3M248 248.5h2M254 248.5h8M276 248.5h2M280 248.5h6M288 248.5h2M302 248.5h2M306 248.5h2M118 265.5h4M126 265.5h2M132 265.5h4M144 402.5h14M162 402.5h2M166 402.5h2M208 402.5h2M304 402.5h6M314 402.5h2M320 402.5h2M330 402.5h4M342 402.5h2M354 402.5h10M368 402.5h6M376 402.5h2M416 402.5h2M500 402.5h4M524 402.5h2M528 402.5h2M532 402.5h4M550 402.5h6M558 402.5h4M568 402.5h2M578 402.5h4M520 470.5h6M530 470.5h2"/>
<path stroke="#9a1003" d="M160 25.5h4M166 25.5h4M618 196.5h2M642 196.5h2M404 436.5h4"/>
<path stroke="#100d7a" d="M344 25.5h2M362 25.5h10M384 25.5h4M390 25.5h2M398 25.5h2M410 25.5h2M414 25.5h2M426 25.5h2M430 25.5h4M448 25.5h2M458 25.5h2M464 25.5h2M470 25.5h2M572 25.5h6M580 25.5h2M612 25.5h4M624 25.5h4M632 25.5h2M644 25.5h2M670 25.5h4M682 25.5h2M688 25.5h4M712 25.5h2M556 128.5h4M398 145.5h2M380 162.5h2M384 162.5h2M388 162.5h2M394 162.5h2M408 162.5h2M412 162.5h2M418 162.5h2M424 162.5h2M436 162.5h2M444 162.5h2M452 162.5h2M480 162.5h2M486 162.5h2M492 162.5h2M498 162.5h6M516 162.5h2M520 162.5h3M628 179.5h2M634 179.5h2M642 179.5h6M650 179.5h4M656 179.5h2M660 179.5h2M666 179.5h2M676 179.5h2M688 179.5h2M252 248.5h2M264 248.5h6M278 248.5h2M290 248.5h2M124 265.5h2M136 265.5h6M158 402.5h4M164 402.5h2M310 402.5h4M318 402.5h2M322 402.5h8M334 402.5h2M338 402.5h2M348 402.5h2M352 402.5h2M364 402.5h4M526 402.5h2M530 402.5h2M570 402.5h4"/>
<path stroke="#100d79" d="M450 25.5h2M651 59.5h1M696 59.5h1M392 162.5h2M402 162.5h2M468 162.5h2M478 162.5h2M496 162.5h2M506 162.5h2M654 179.5h2M584 333.5h1M346 402.5h2M374 402.5h2M378 402.5h2"/>
<path stroke="#dae73a" d="M494 42.5h2M551 59.5h1M570 59.5h1M572 59.5h1M535 111.5h1M360 145.5h2M702 145.5h2M544 179.5h2M50 196.5h2M70 196.5h2M296 196.5h2M368 196.5h2M382 196.5h4M388 196.5h2M434 196.5h2M671 196.5h1M678 196.5h1M689 196.5h1M691 196.5h1M702 196.5h2M546 282.5h1M214 385.5h2M238 385.5h2M46 402.5h2M528 436.5h6M610 436.5h2M404 453.5h2"/>
<path stroke="#d0e546" d="M646 42.5h4M548 59.5h1M553 59.5h1M563 59.5h2M567 59.5h1M544 94.5h2M12 111.5h2M536 111.5h1M64 145.5h2M706 145.5h2M712 145.5h2M716 145.5h2M26 196.5h2M84 196.5h2M122 196.5h2M126 196.5h2M242 196.5h2M366 196.5h2M374 196.5h8M386 196.5h2M390 196.5h2M398 196.5h2M404 196.5h2M436 196.5h2M444 196.5h2M454 196.5h2M458 196.5h2M462 196.5h2M470 196.5h2M476 196.5h2M484 196.5h6M492 196.5h4M506 196.5h2M512 196.5h2M518 196.5h2M544 196.5h2M574 196.5h2M550 282.5h1M616 436.5h2"/>
<path stroke="#f75912" d="M540 59.5h1M61 145.5h1M156 196.5h2M630 196.5h2M540 282.5h1M474 470.5h2"/>
<path stroke="#feb714" d="M571 59.5h1M700 94.5h2M14 111.5h2M680 145.5h4M32 196.5h2M42 196.5h2M154 196.5h2M314 196.5h2M326 196.5h1M341 196.5h2M351 196.5h1M359 196.5h1M634 196.5h2M662 196.5h3M586 231.5h4M532 282.5h1M536 282.5h1M168 299.5h2M174 299.5h1M708 350.5h2M713 350.5h1M715 350.5h1M690 436.5h2"/>
<path stroke="#fb7c14" d="M576 59.5h1M552 145.5h3M542 179.5h2M232 196.5h2M316 196.5h2M337 196.5h1M616 196.5h2M648 196.5h6M579 231.5h3M235 385.5h1M473 470.5h1"/>
<path stroke="#f34810" d="M580 59.5h2M696 94.5h2M39 145.5h1M170 196.5h2M182 196.5h2M186 196.5h2M308 196.5h2M541 282.5h1M120 299.5h2M699 350.5h1"/>
<path stroke="#0f0c78" d="M660 59.5h1M670 59.5h1M675 59.5h1M679 59.5h1M684 59.5h1M686 59.5h1M691 59.5h1M694 59.5h1M698 59.5h1M704 59.5h2M708 59.5h1M711 59.5h1M715 59.5h1M136 94.5h2M184 94.5h2M254 94.5h2M264 94.5h2M362 94.5h2M396 94.5h2M490 111.5h2M504 111.5h4M262 128.5h2M278 128.5h2M480 128.5h2M694 128.5h2M156 145.5h2M552 162.5h2M560 162.5h2M568 162.5h2M604 162.5h2M612 162.5h2M616 162.5h2M636 162.5h2M642 162.5h2M654 162.5h2M662 162.5h2M666 162.5h2M688 162.5h2M698 162.5h2M704 162.5h2M710 162.5h2M714 162.5h4M390 248.5h2M466 248.5h2M472 248.5h2M512 248.5h2M520 248.5h2M588 248.5h2M608 248.5h2M636 248.5h2M702 248.5h2M186 265.5h2M470 265.5h2M546 265.5h2M702 265.5h2M716 265.5h2M556 333.5h1M559 333.5h1M562 333.5h2M565 333.5h1M574 333.5h3M579 333.5h1M581 333.5h3M586 333.5h2M589 333.5h2M592 333.5h1M599 333.5h1M605 333.5h1M610 333.5h1M613 333.5h1M616 333.5h1M624 333.5h1M629 333.5h1M632 333.5h1M634 333.5h1M643 333.5h2M654 333.5h1M656 333.5h3M662 333.5h1M666 333.5h1M690 333.5h1M697 333.5h1M699 333.5h1M701 333.5h2M704 333.5h1M706 333.5h1M711 333.5h1M714 333.5h1M80 385.5h2M300 385.5h2M478 402.5h2M674 402.5h2M684 402.5h2M158 470.5h2M376 470.5h2M414 470.5h2M684 470.5h2"/>
<path stroke="#0f0c76" d="M661 59.5h1M663 59.5h1M665 59.5h1M672 59.5h1M676 59.5h2M680 59.5h1M690 59.5h1M692 59.5h1M697 59.5h1M700 59.5h1M702 59.5h1M706 59.5h1M707 59.5h1M710 59.5h1M714 59.5h1M718 59.5h1M134 94.5h2M216 94.5h2M268 94.5h2M296 94.5h2M320 94.5h2M340 94.5h2M354 94.5h2M378 94.5h2M488 111.5h2M508 111.5h2M516 111.5h5M60 128.5h2M110 128.5h2M196 128.5h2M556 162.5h4M578 162.5h2M586 162.5h4M602 162.5h2M610 162.5h2M614 162.5h2M656 162.5h2M682 162.5h2M686 162.5h2M690 162.5h2M694 162.5h4M708 162.5h2M718 162.5h2M476 248.5h2M494 248.5h2M498 248.5h2M534 248.5h2M592 248.5h2M650 248.5h2M216 265.5h2M246 265.5h2M366 265.5h2M390 265.5h2M420 265.5h2M438 265.5h2M456 265.5h2M700 265.5h2M557 333.5h1M564 333.5h1M566 333.5h1M569 333.5h1M571 333.5h1M578 333.5h1M580 333.5h1M588 333.5h1M591 333.5h1M593 333.5h1M597 333.5h1M601 333.5h1M607 333.5h2M611 333.5h1M618 333.5h2M621 333.5h3M628 333.5h1M638 333.5h3M645 333.5h1M651 333.5h1M655 333.5h1M660 333.5h1M665 333.5h1M667 333.5h4M672 333.5h1M674 333.5h1M677 333.5h1M680 333.5h2M684 333.5h1M691 333.5h1M696 333.5h1M709 333.5h1M719 333.5h1M50 385.5h2M118 385.5h2M334 385.5h2M346 385.5h2M636 385.5h2M410 402.5h2M472 402.5h2M646 402.5h2M664 402.5h2M130 470.5h2M156 470.5h2M340 470.5h2M678 470.5h2M688 470.5h2"/>
<path stroke="#0f0c77" d="M662 59.5h1M664 59.5h1M666 59.5h4M671 59.5h1M673 59.5h2M678 59.5h1M681 59.5h3M685 59.5h1M687 59.5h3M693 59.5h1M695 59.5h1M699 59.5h1M701 59.5h1M703 59.5h1M709 59.5h1M712 59.5h2M716 59.5h2M719 59.5h1M120 94.5h14M138 94.5h46M186 94.5h30M218 94.5h36M256 94.5h8M266 94.5h2M270 94.5h26M298 94.5h22M322 94.5h18M342 94.5h12M356 94.5h6M364 94.5h14M380 94.5h16M398 94.5h123M492 111.5h12M510 111.5h6M38 128.5h22M62 128.5h48M112 128.5h84M198 128.5h64M264 128.5h14M280 128.5h200M482 128.5h41M640 128.5h54M696 128.5h24M128 145.5h28M158 145.5h6M554 162.5h2M562 162.5h6M570 162.5h8M580 162.5h6M590 162.5h12M606 162.5h4M618 162.5h18M638 162.5h4M644 162.5h10M658 162.5h4M664 162.5h2M668 162.5h14M684 162.5h2M692 162.5h2M700 162.5h4M706 162.5h2M712 162.5h2M342 248.5h48M392 248.5h74M468 248.5h4M474 248.5h2M478 248.5h16M496 248.5h2M500 248.5h12M514 248.5h6M522 248.5h12M536 248.5h52M590 248.5h2M594 248.5h14M610 248.5h26M638 248.5h12M652 248.5h50M704 248.5h16M144 265.5h42M188 265.5h28M218 265.5h28M248 265.5h118M368 265.5h22M392 265.5h28M422 265.5h16M440 265.5h16M458 265.5h12M472 265.5h74M548 265.5h152M704 265.5h12M718 265.5h2M558 333.5h1M560 333.5h2M567 333.5h2M570 333.5h1M572 333.5h2M577 333.5h1M585 333.5h1M594 333.5h3M598 333.5h1M600 333.5h1M602 333.5h3M606 333.5h1M609 333.5h1M612 333.5h1M614 333.5h2M617 333.5h1M620 333.5h1M625 333.5h3M630 333.5h2M633 333.5h1M635 333.5h3M641 333.5h2M646 333.5h5M652 333.5h2M659 333.5h1M661 333.5h1M663 333.5h2M671 333.5h1M673 333.5h1M675 333.5h2M678 333.5h2M682 333.5h2M685 333.5h5M692 333.5h4M698 333.5h1M700 333.5h1M703 333.5h1M705 333.5h1M707 333.5h2M710 333.5h1M712 333.5h2M715 333.5h4M40 385.5h10M52 385.5h28M82 385.5h36M120 385.5h94M253 385.5h47M302 385.5h32M336 385.5h10M348 385.5h184M608 385.5h28M638 385.5h82M388 402.5h22M424 402.5h48M474 402.5h4M480 402.5h12M508 402.5h12M596 402.5h50M648 402.5h16M666 402.5h8M676 402.5h8M686 402.5h34M80 470.5h50M132 470.5h24M160 470.5h180M342 470.5h34M378 470.5h36M416 470.5h5M564 470.5h60M628 470.5h50M680 470.5h4M686 470.5h2M690 470.5h30"/>
<path stroke="#fc8e14" d="M702 94.5h2M554 111.5h3M26 145.5h1M30 145.5h3M336 145.5h2M650 145.5h3M696 145.5h2M523 162.5h1M40 196.5h2M158 196.5h2M312 196.5h2M318 196.5h2M323 196.5h1M330 196.5h1M339 196.5h1M350 196.5h1M354 196.5h1M357 196.5h1M360 196.5h2M582 231.5h2M534 282.5h2M444 299.5h4M45 316.5h3M707 350.5h1M236 385.5h2M54 402.5h2M466 436.5h2M470 436.5h4M688 436.5h2"/>
<path stroke="#b01204" d="M646 145.5h3M690 145.5h5M640 196.5h2M500 436.5h2"/>
</g>
<g stroke-width="18.00">
<path stroke="#82d0e0" d="M0 77h8M22 77h2M34 77h4M1 214h1M7 214h1M10 214h1M14 214h1M16 214h1M23 214h1M25 214h1M28 214h2M32 214h1M39 214h1M47 214h1M107 214h1M110 214h1M225 214h1M298 214h1M300 214h1M304 214h1M308 214h1M311 214h1M313 214h1M508 214h1M623 214h1M636 214h1M10 368h2M16 368h1M39 368h1M116 368h1M586 368h2"/>
<path stroke="#7ccce6" d="M8 77h2M18 77h4M26 77h4M2 214h2M6 214h1M9 214h1M13 214h1M17 214h2M20 214h1M36 214h2M45 214h1M76 214h1M78 214h1M102 214h1M108 214h1M223 214h1M226 214h2M230 214h1M232 214h1M234 214h1M303 214h1M305 214h1M502 214h1M504 214h1M506 214h1M634 214h1M639 214h1M647 214h1M8 368h2M12 368h4M40 368h1M578 368h4"/>
<path stroke="#5380c6" d="M10 77h2M61 214h1M69 214h1M113 214h2M117 214h1M126 214h1M140 214h1M144 214h1M146 214h2M153 214h1M156 214h1M169 214h2M173 214h1M175 214h1M178 214h1M181 214h1M190 214h1M192 214h1M194 214h1M200 214h1M202 214h2M210 214h1M212 214h1M214 214h1M216 214h1M243 214h1M247 214h1M250 214h1M256 214h2M265 214h1M268 214h1M270 214h1M273 214h1M275 214h1M277 214h2M283 214h1M285 214h1M287 214h1M290 214h1M295 214h1M318 214h1M323 214h2M329 214h1M333 214h1M343 214h1M358 214h1M360 214h2M368 214h1M372 214h2M376 214h1M379 214h4M385 214h2M388 214h1M390 214h2M393 214h1M396 214h1M404 214h1M406 214h2M430 214h1M454 214h1M463 214h1M481 214h1M510 214h1M514 214h1M642 214h1M644 214h1M596 368h4M612 368h2M618 368h2"/>
<path stroke="#5a8ecd" d="M12 77h2M49 214h1M52 214h2M63 214h1M70 214h1M72 214h1M74 214h1M115 214h1M119 214h3M125 214h1M135 214h1M138 214h1M141 214h2M148 214h1M150 214h3M154 214h1M164 214h1M172 214h1M176 214h2M183 214h1M185 214h1M195 214h1M197 214h1M205 214h1M211 214h1M215 214h1M235 214h1M248 214h1M259 214h1M266 214h1M274 214h1M276 214h1M289 214h1M319 214h1M321 214h2M325 214h2M330 214h1M335 214h2M342 214h1M345 214h1M349 214h1M353 214h1M356 214h1M363 214h1M367 214h1M369 214h1M384 214h1M389 214h1M392 214h1M452 214h1M456 214h1M460 214h1M507 214h1M96 368h2M582 368h4"/>
<path stroke="#4c72bf" d="M14 77h4M116 214h1M128 214h1M134 214h1M159 214h1M163 214h1M182 214h1M186 214h1M188 214h1M191 214h1M198 214h1M207 214h1M209 214h1M218 214h2M252 214h1M262 214h1M264 214h1M269 214h1M272 214h1M279 214h1M281 214h2M286 214h1M288 214h1M293 214h2M320 214h1M327 214h2M331 214h2M337 214h1M341 214h1M344 214h1M346 214h2M354 214h1M357 214h1M375 214h1M377 214h2M398 214h1M402 214h1M405 214h1M412 214h1M417 214h1M434 214h1M443 214h1M445 214h1M450 214h1M457 214h1M462 214h1M468 214h1M497 214h1M512 214h2M516 214h2M519 214h2M542 214h1M640 214h1M645 214h1M686 214h1M610 368h2M614 368h4"/>
<path stroke="#88d4da" d="M24 77h2M30 77h4M38 77h2M5 214h1M8 214h1M19 214h1M26 214h1M77 214h1M109 214h1M306 214h1M310 214h1M315 214h1M622 214h1M633 214h1M98 368h6M576 368h2M588 368h8"/>
<path stroke="#3e4fad" d="M40 77h2M48 77h12M62 77h6M80 77h2M88 77h4M94 77h2M112 77h8M122 77h2M126 77h2M132 77h4M138 77h4M144 77h4M260 214h1M284 214h1M383 214h1M397 214h1M413 214h1M415 214h1M418 214h1M420 214h1M425 214h1M431 214h1M433 214h1M436 214h1M439 214h1M442 214h1M444 214h1M446 214h1M465 214h1M469 214h1M477 214h1M483 214h2M487 214h2M492 214h2M499 214h1M524 214h2M540 214h2M543 214h1M545 214h3M551 214h1M555 214h1M559 214h1M563 214h1M565 214h1M575 214h1M578 214h1M580 214h1M582 214h1M589 214h1M596 214h1M601 214h1M604 214h3M609 214h1M611 214h1M643 214h1M651 214h3M661 214h1M663 214h1M665 214h1M671 214h1M674 214h1M687 214h1M689 214h1M697 214h1M701 214h1M705 214h1M713 214h1M716 214h1M112 368h2M628 368h2M660 368h2M670 368h2M706 368h2M712 368h2"/>
<path stroke="#425ab3" d="M42 77h6M60 77h2M70 77h2M96 77h4M106 77h2M136 77h2M246 214h1M253 214h1M258 214h1M291 214h1M359 214h1M371 214h1M399 214h2M414 214h1M416 214h1M424 214h1M435 214h1M451 214h1M466 214h2M474 214h1M476 214h1M478 214h1M480 214h1M491 214h1M496 214h1M498 214h1M501 214h1M527 214h1M530 214h1M532 214h1M535 214h1M552 214h1M554 214h1M558 214h1M560 214h1M562 214h1M564 214h1M567 214h1M574 214h1M581 214h1M588 214h1M598 214h2M602 214h1M641 214h1M649 214h1M658 214h1M668 214h1M672 214h1M681 214h1M684 214h1M690 214h2M693 214h1M698 214h2M707 214h1M709 214h1M714 214h1M717 214h1M105 368h1M110 368h2M604 368h6M626 368h2M704 368h2M708 368h4M714 368h2"/>
<path stroke="#3a44a8" d="M68 77h2M72 77h8M82 77h6M92 77h2M100 77h6M108 77h4M120 77h2M124 77h2M128 77h4M142 77h2M148 77h2M426 214h1M438 214h1M470 214h3M475 214h1M479 214h1M482 214h1M500 214h1M522 214h1M526 214h1M529 214h1M531 214h1M553 214h1M556 214h2M566 214h1M570 214h1M572 214h2M576 214h2M586 214h2M591 214h3M595 214h1M648 214h1M654 214h2M657 214h1M660 214h1M664 214h1M670 214h1M677 214h4M695 214h2M706 214h1M708 214h1M710 214h1M712 214h1M715 214h1M718 214h1M106 368h4M114 368h1M620 368h6M630 368h6M638 368h2M656 368h4M664 368h4M678 368h4M684 368h4M690 368h4M696 368h4M702 368h2"/>
<path stroke="#3339a3" d="M150 77h2M521 214h1M523 214h1M528 214h1M534 214h1M537 214h1M548 214h1M550 214h1M561 214h1M569 214h1M571 214h1M583 214h1M585 214h1M590 214h1M594 214h1M656 214h1M659 214h1M667 214h1M673 214h1M675 214h2M683 214h1M685 214h1M688 214h1M694 214h1M700 214h1M702 214h3M711 214h1M719 214h1M636 368h2M662 368h2M668 368h2M672 368h6M682 368h2M694 368h2M700 368h2"/>
<path stroke="#2d2d9d" d="M152 77h2M549 214h1M584 214h1M117 368h1M688 368h2"/>
<path stroke="#262298" d="M154 77h2M158 77h2M538 214h1M579 214h1M666 214h1M118 368h1M642 368h2"/>
<path stroke="#201b90" d="M156 77h2M160 77h10M182 77h2M188 77h2M196 77h2M202 77h2M640 368h2"/>
<path stroke="#1a1688" d="M170 77h4M176 77h2M180 77h2M184 77h4M190 77h4M206 77h2M644 368h4M650 368h2"/>
<path stroke="#141080" d="M174 77h2M178 77h2M194 77h2M198 77h4M204 77h2M648 368h2M652 368h4"/>
<path stroke="#0f0c77" d="M208 77h34M244 77h10M256 77h12M272 77h2M276 77h30M308 77h74M384 77h8M394 77h6M402 77h66M470 77h12M486 77h26M516 77h18M536 77h66M604 77h38M644 77h46M692 77h28M41 368h38M119 368h71M192 368h70M264 368h128M394 368h12M408 368h4M414 368h4M420 368h30M452 368h70"/>
<path stroke="#0f0c78" d="M242 77h2M254 77h2M268 77h4M306 77h2M400 77h2M468 77h2M484 77h2M514 77h2M534 77h2M602 77h2M690 77h2M190 368h2M262 368h2M406 368h2M412 368h2M418 368h2"/>
<path stroke="#0f0c76" d="M274 77h2M382 77h2M392 77h2M482 77h2M512 77h2M642 77h2M392 368h2M450 368h2"/>
<path stroke="#73bce0" d="M0 214h1M4 214h1M12 214h1M15 214h1M22 214h1M33 214h3M41 214h1M50 214h2M55 214h2M58 214h2M65 214h1M71 214h1M79 214h1M104 214h1M139 214h1M168 214h1M189 214h1M208 214h1M220 214h1M222 214h1M224 214h1M233 214h1M237 214h1M299 214h1M301 214h1M312 214h1M316 214h1M366 214h1M409 214h3M615 214h1M630 214h1M2 368h2M115 368h1M718 368h2"/>
<path stroke="#6aadda" d="M11 214h1M21 214h1M24 214h1M27 214h1M30 214h2M38 214h1M40 214h1M44 214h1M57 214h1M60 214h1M62 214h1M68 214h1M75 214h1M103 214h1M105 214h2M111 214h1M129 214h1M131 214h1M133 214h1M136 214h1M158 214h1M161 214h2M171 214h1M199 214h1M201 214h1M204 214h1M206 214h1M221 214h1M229 214h1M231 214h1M271 214h1M296 214h2M302 214h1M307 214h1M309 214h1M351 214h2M362 214h1M364 214h1M503 214h1M613 214h2M617 214h2M620 214h2M635 214h1M638 214h1M646 214h1M0 368h2M716 368h2"/>
<path stroke="#619dd4" d="M42 214h2M46 214h1M48 214h1M54 214h1M64 214h1M66 214h2M73 214h1M112 214h1M118 214h1M122 214h3M127 214h1M130 214h1M132 214h1M137 214h1M143 214h1M145 214h1M149 214h1M155 214h1M157 214h1M160 214h1M165 214h3M174 214h1M180 214h1M184 214h1M187 214h1M193 214h1M196 214h1M213 214h1M217 214h1M236 214h1M238 214h2M314 214h1M317 214h1M338 214h2M348 214h1M355 214h1M365 214h1M408 214h1M461 214h1M505 214h1M509 214h1M511 214h1M612 214h1M616 214h1M619 214h1M631 214h1M94 368h2"/>
<path stroke="#fece14" d="M80 214h2M34 368h1M86 368h2M543 368h2"/>
<path stroke="#f75912" d="M82 214h1"/>
<path stroke="#e6290b" d="M83 214h1M24 368h2M30 368h2M81 368h1M538 368h2M542 368h1"/>
<path stroke="#d52008" d="M84 214h1M23 368h1M28 368h2"/>
<path stroke="#c41706" d="M85 214h1"/>
<path stroke="#b01204" d="M86 214h1"/>
<path stroke="#9a1003" d="M87 214h3"/>
<path stroke="#f34810" d="M90 214h1M82 368h4"/>
<path stroke="#fc8e14" d="M91 214h1M26 368h2"/>
<path stroke="#f9e71e" d="M92 214h1M95 214h1"/>
<path stroke="#fda014" d="M93 214h1M80 368h1"/>
<path stroke="#fdde18" d="M94 214h1M96 214h1M20 368h3M32 368h2M79 368h1"/>
<path stroke="#9fdc9f" d="M97 214h1M101 214h1M562 368h2M566 368h2M570 368h2"/>
<path stroke="#addf7b" d="M98 214h1M545 368h1M558 368h2"/>
<path stroke="#98dab4" d="M99 214h1M564 368h2M568 368h2"/>
<path stroke="#a6dd8b" d="M100 214h1M548 368h2M560 368h2"/>
<path stroke="#4764b8" d="M179 214h1M240 214h3M244 214h2M249 214h1M251 214h1M254 214h2M261 214h1M263 214h1M267 214h1M280 214h1M292 214h1M334 214h1M340 214h1M350 214h1M370 214h1M374 214h1M387 214h1M394 214h2M401 214h1M403 214h1M419 214h1M421 214h3M427 214h3M432 214h1M437 214h1M440 214h2M447 214h3M453 214h1M455 214h1M458 214h2M464 214h1M473 214h1M485 214h2M489 214h2M494 214h2M515 214h1M518 214h1M533 214h1M536 214h1M539 214h1M544 214h1M568 214h1M597 214h1M600 214h1M603 214h1M607 214h2M610 214h1M650 214h1M662 214h1M669 214h1M682 214h1M692 214h1M4 368h4M600 368h4"/>
<path stroke="#8ed7d1" d="M228 214h1M632 214h1M637 214h1M91 368h3M104 368h1M572 368h4"/>
<path stroke="#93d8c3" d="M624 214h1"/>
<path stroke="#c6e453" d="M625 214h2M35 368h1M38 368h1M88 368h2"/>
<path stroke="#d0e546" d="M627 214h2M90 368h1"/>
<path stroke="#bce260" d="M629 214h1M36 368h2M556 368h2"/>
<path stroke="#feb714" d="M17 368h3"/>
<path stroke="#6e0c00" d="M522 368h6M528 368h6M534 368h2M536 368h2"/>
<path stroke="#ef370e" d="M540 368h2"/>
<path stroke="#b4e06e" d="M546 368h2M550 368h6"/>
</g>
</svg>
<g stroke="#10131a" stroke-width="1" fill="none">
<line x1="1499.5" y1="1454.0" x2="1499.5" y2="1933.3" opacity="0.65"/>
<line x1="2030.5" y1="1454.0" x2="2030.5" y2="1933.3" opacity="0.65"/>
<path d="M1543.7,1454.0v8M1543.7,1933.3v-8M1588.0,1454.0v8M1588.0,1933.3v-8M1632.2,1454.0v8M1632.2,1933.3v-8M1676.5,1454.0v8M1676.5,1933.3v-8M1720.7,1454.0v8M1720.7,1933.3v-8M1765.0,1454.0v8M1765.0,1933.3v-8M1809.3,1454.0v8M1809.3,1933.3v-8M1853.5,1454.0v8M1853.5,1933.3v-8M1897.8,1454.0v8M1897.8,1933.3v-8M1942.0,1454.0v8M1942.0,1933.3v-8M1986.3,1454.0v8M1986.3,1933.3v-8M2074.8,1454.0v8M2074.8,1933.3v-8M2119.1,1454.0v8M2119.1,1933.3v-8M2163.3,1454.0v8M2163.3,1933.3v-8M2207.6,1454.0v8M2207.6,1933.3v-8M1455.2,1531.0h8M2252.5,1531.0h-8M1455.2,1616.6h8M2252.5,1616.6h-8M1455.2,1702.2h8M2252.5,1702.2h-8M1455.2,1787.8h8M2252.5,1787.8h-8M1455.2,1873.4h8M2252.5,1873.4h-8"/>
<rect x="1455.2" y="1454.0" width="797.3" height="479.3" stroke-width="1.1" opacity="0.85"/>
</g>
<rect x="2319.6" y="926.0" width="64.1" height="487.9" fill="#666" opacity="0.5" filter="url(#soft)"/>
<rect x="2320.8" y="927.2" width="61.7" height="485.5" fill="url(#gbar)"/>
<rect x="2320.8" y="927.2" width="61.7" height="485.5" fill="none" stroke="#2a2a30" stroke-width="1.2" opacity="0.75"/>
<path d="M2320.8,1089.4h9M2382.5,1089.4h-9M2320.8,1249.8h9M2382.5,1249.8h-9" stroke="#1d1d1b" stroke-width="1.3"/>
<text x="2397.0" y="966.3" font-size="53.5" text-anchor="start">100</text>
<text x="2397.0" y="1112.8" font-size="53.5" text-anchor="start">50</text>
<text x="2397.5" y="1263.4" font-size="53.5" text-anchor="start">0</text>
<text x="2394.5" y="1410.0" font-size="53.5" text-anchor="start" textLength="92" lengthAdjust="spacingAndGlyphs">–50</text>
<text transform="translate(2302.3,1186.0) rotate(-90)" font-size="52" text-anchor="middle" textLength="223" lengthAdjust="spacing">ΔF/F (%)</text>
<rect x="2319.6" y="1452.5" width="64.1" height="489.7" fill="#666" opacity="0.5" filter="url(#soft)"/>
<rect x="2320.8" y="1453.7" width="61.7" height="487.3" fill="url(#gbar)"/>
<rect x="2320.8" y="1453.7" width="61.7" height="487.3" fill="none" stroke="#2a2a30" stroke-width="1.2" opacity="0.75"/>
<path d="M2320.8,1616.6h9M2382.5,1616.6h-9M2320.8,1777.8h9M2382.5,1777.8h-9" stroke="#1d1d1b" stroke-width="1.3"/>
<text x="2397.0" y="1497.0" font-size="53.5" text-anchor="start">100</text>
<text x="2397.0" y="1643.5" font-size="53.5" text-anchor="start">50</text>
<text x="2397.5" y="1792.8" font-size="53.5" text-anchor="start">0</text>
<text x="2394.5" y="1940.0" font-size="53.5" text-anchor="start" textLength="92" lengthAdjust="spacingAndGlyphs">–50</text>
<text transform="translate(2302.3,1702.4) rotate(-90)" font-size="52" text-anchor="middle" textLength="223" lengthAdjust="spacing">ΔF/F (%)</text>
<text x="1309.0" y="781.0" font-size="69.0" text-anchor="start" class="b">C</text>
<text x="1669.0" y="779.4" font-size="60.0" text-anchor="start" class="b" textLength="141.5" lengthAdjust="spacingAndGlyphs">AWB</text>
<text x="1372.6" y="962.1" font-size="54.5" text-anchor="middle">Aged</text>
<text x="1374.7" y="1022.5" font-size="54.5" text-anchor="middle">WT</text>
<text x="1375.6" y="1079.5" font-size="54.5" text-anchor="middle">BZ</text>
<text x="1374.4" y="1134.1" font-size="54.5" text-anchor="middle">Side</text>
<text x="1372.6" y="1503.4" font-size="54.5" text-anchor="middle">Aged</text>
<text x="1374.7" y="1563.7" font-size="54.5" text-anchor="middle">WT</text>
<text x="1360.5" y="1618.4" font-size="54.5" text-anchor="middle">Control</text>
<text x="1374.4" y="1674.1" font-size="54.5" text-anchor="middle">Side</text>
<text x="1459.6" y="1979.7" font-size="52.8" text-anchor="middle" textLength="24.0" lengthAdjust="spacingAndGlyphs">0</text>
<text x="1544.5" y="1979.7" font-size="52.8" text-anchor="middle" textLength="47.5" lengthAdjust="spacingAndGlyphs">20</text>
<text x="1627.9" y="1979.7" font-size="52.8" text-anchor="middle" textLength="47.5" lengthAdjust="spacingAndGlyphs">40</text>
<text x="1716.4" y="1979.7" font-size="52.8" text-anchor="middle" textLength="47.5" lengthAdjust="spacingAndGlyphs">60</text>
<text x="1806.3" y="1979.7" font-size="52.8" text-anchor="middle" textLength="47.5" lengthAdjust="spacingAndGlyphs">80</text>
<text x="1899.0" y="1979.7" font-size="52.8" text-anchor="middle" textLength="69.0" lengthAdjust="spacingAndGlyphs">100</text>
<text x="1986.0" y="1979.7" font-size="52.8" text-anchor="middle" textLength="69.0" lengthAdjust="spacingAndGlyphs">120</text>
<text x="2067.0" y="1979.7" font-size="52.8" text-anchor="middle" textLength="69.0" lengthAdjust="spacingAndGlyphs">140</text>
<text x="2151.0" y="1979.7" font-size="52.8" text-anchor="middle" textLength="69.0" lengthAdjust="spacingAndGlyphs">160</text>
<text x="2231.0" y="1979.7" font-size="52.8" text-anchor="middle" textLength="69.0" lengthAdjust="spacingAndGlyphs">180</text>
<text x="1800.5" y="2042.7" font-size="52.5" text-anchor="start" textLength="194" lengthAdjust="spacingAndGlyphs">Time (s)</text>
<text x="2574.0" y="781.2" font-size="69.0" text-anchor="start" class="b">D</text>
<rect x="2768" y="1051.2" width="71.8" height="438.3" fill="#8db63c"/>
<rect x="2839.6" y="1301" width="71.6" height="188.5" fill="#b2b2b2"/>
<rect x="3008" y="897" width="72.6" height="592.5" fill="#8db63c"/>
<rect x="3080.5" y="1182.7" width="72" height="306.8" fill="#b2b2b2"/>
<rect x="2764" y="1487" width="392" height="5" fill="#9a9a9a"/>
<g stroke="#1d1d1b" fill="none">
<path d="M2766.5,872 V1491" stroke-width="5"/>
<path d="M2766,874.8h17.5M2766,997.7h17.5M2766,1121.3h17.5M2766,1244.6h17.5M2766,1367.5h17.5" stroke-width="5.6"/>
</g>
<text x="2752.5" y="902.9" font-size="50.0" text-anchor="end">100</text>
<text x="2752.5" y="1021.8" font-size="50.0" text-anchor="end">80</text>
<text x="2752.5" y="1145.5" font-size="50.0" text-anchor="end">60</text>
<text x="2752.5" y="1268.8" font-size="50.0" text-anchor="end">40</text>
<text x="2752.5" y="1391.5" font-size="50.0" text-anchor="end">20</text>
<text x="2752.5" y="1501.7" font-size="50.0" text-anchor="end">0</text>
<text transform="translate(2655.6,1194.8) rotate(-90)" font-size="57" text-anchor="middle" textLength="469.6" lengthAdjust="spacingAndGlyphs">% odor responsive</text>
<rect x="2782.2" y="1024.7" width="123" height="6" fill="#1d1d1b"/>
<rect x="3016" y="866.5" width="140" height="6" fill="#1d1d1b"/>
<text x="2845.0" y="1040.5" font-size="76.0" text-anchor="middle" class="b">*</text>
<text x="3085.0" y="882.0" font-size="76.0" text-anchor="middle" class="b">*</text>
<text x="2801.0" y="1479" font-size="50" text-anchor="middle" textLength="48" lengthAdjust="spacingAndGlyphs" style="fill:#fff">28</text>
<text x="2874.5" y="1479" font-size="50" text-anchor="middle" textLength="48" lengthAdjust="spacingAndGlyphs" style="fill:#1d1d1b">26</text>
<text x="3043.0" y="1479" font-size="50" text-anchor="middle" textLength="48" lengthAdjust="spacingAndGlyphs" style="fill:#fff">28</text>
<text x="3115.0" y="1479" font-size="50" text-anchor="middle" textLength="48" lengthAdjust="spacingAndGlyphs" style="fill:#1d1d1b">28</text>
<text x="2768.7" y="1549.0" font-size="54.8" text-anchor="start">ASEL</text>
<text x="3024.0" y="1549.0" font-size="54.8" text-anchor="start" textLength="122" lengthAdjust="spacingAndGlyphs">AWB</text>
<rect x="2796.7" y="1630.5" width="39" height="43" fill="#8db63c"/>
<rect x="2796.7" y="1685.7" width="39" height="43" fill="#b2b2b2"/>
<text x="2845.5" y="1669.0" font-size="54.5" text-anchor="start">BZ Side</text>
<text x="2845.5" y="1725.4" font-size="54.5" text-anchor="start">Control Side</text>
</svg></body></html>
